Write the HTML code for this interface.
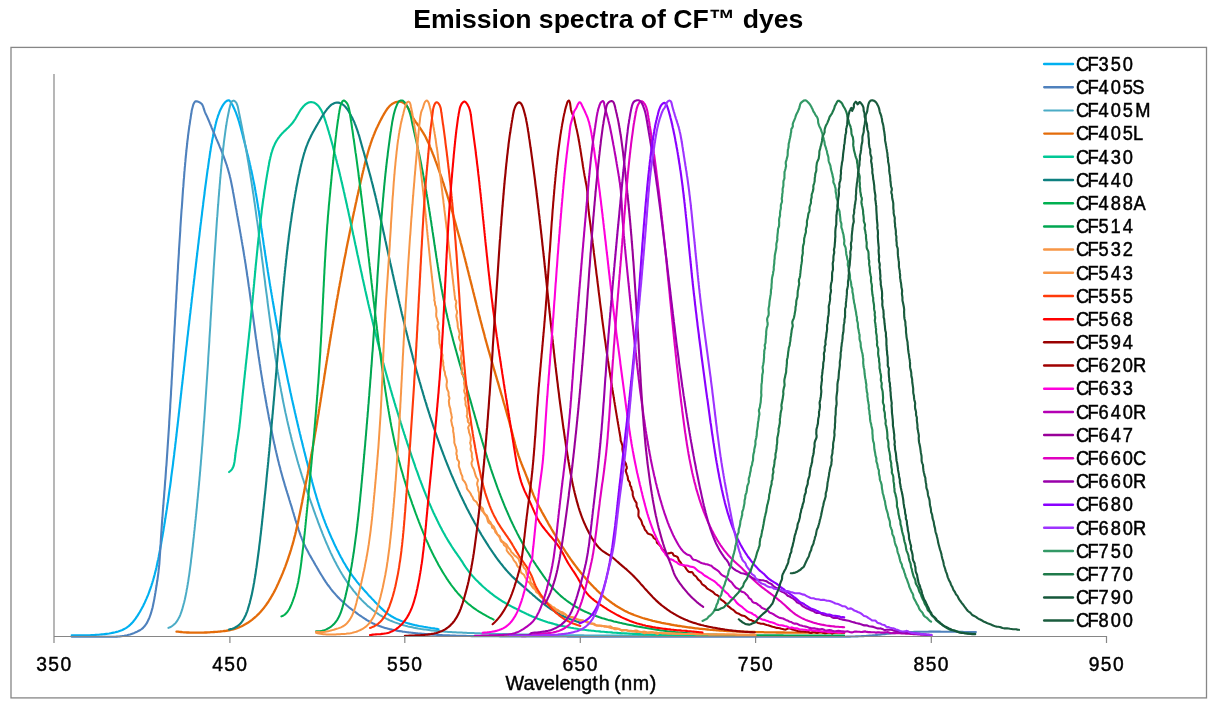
<!DOCTYPE html>
<html lang="en">
<head>
<meta charset="utf-8">
<title>Emission spectra of CF dyes</title>
<style>
html,body{margin:0;padding:0;background:#fff;}
body{width:1214px;height:703px;overflow:hidden;font-family:"Liberation Sans",sans-serif;}
svg{display:block;}
.ttl{font:bold 26.6px "Liberation Sans",sans-serif;fill:#000;}
.lg text{font:20.3px "Liberation Sans",sans-serif;fill:#000;stroke:#000;stroke-width:.5px;}
.tk text{font:20.3px "Liberation Sans",sans-serif;fill:#000;stroke:#000;stroke-width:.45px;}
.xl{font:20px "Liberation Sans",sans-serif;fill:#000;}
.ax{stroke:#868686;stroke-width:1.2;fill:none;}
.cv path{fill:none;stroke-linejoin:round;stroke-linecap:round;}
</style>
</head>
<body>
<svg width="1214" height="703" viewBox="0 0 1214 703">
<rect x="0" y="0" width="1214" height="703" fill="#fff"/>
<text class="ttl" x="608.3" y="28" text-anchor="middle">Emission spectra of CF™ dyes</text>
<rect x="11" y="47.4" width="1195.5" height="650.5" fill="#fff" stroke="#868686" stroke-width="1.3"/>
<g class="cv">
<path d="M71.7 635.4L73.3 635.4L74.8 635.4L76.3 635.4L77.8 635.4L79.3 635.3L80.8 635.3L82.3 635.3L83.8 635.3L85.3 635.3L86.8 635.2L88.3 635.2L89.8 635.2L91.3 635.1L92.8 635.0L94.3 635.0L95.7 634.9L97.2 634.8L98.7 634.7L100.2 634.5L101.7 634.4L103.2 634.3L104.7 634.1L106.2 633.9L107.7 633.7L109.2 633.5L110.7 633.2L112.2 632.9L113.7 632.6L115.2 632.3L116.7 631.9L118.2 631.5L119.6 631.0L121.0 630.5L122.4 630.0L123.7 629.3L125.0 628.6L126.3 627.9L127.5 627.0L128.7 626.1L129.8 625.2L130.8 624.1L131.9 623.1L132.9 622.0L133.8 620.8L134.8 619.6L135.7 618.4L136.5 617.1L137.4 615.9L138.2 614.6L139.0 613.3L139.8 612.0L140.5 610.7L141.3 609.3L142.0 608.0L142.7 606.7L143.4 605.4L144.0 604.0L144.7 602.7L145.3 601.3L145.9 599.9L146.5 598.6L147.1 597.2L147.7 595.8L148.3 594.4L148.8 593.0L149.3 591.6L149.8 590.2L150.3 588.8L150.8 587.4L151.3 586.0L151.7 584.6L152.2 583.1L152.6 581.7L153.1 580.3L153.5 578.8L153.9 577.4L154.3 575.9L154.7 574.5L155.0 573.0L155.4 571.6L155.8 570.1L156.1 568.7L156.5 567.2L156.8 565.7L157.1 564.3L157.4 562.8L157.7 561.3L158.1 559.8L158.4 558.4L158.7 556.9L158.9 555.4L159.2 553.9L159.5 552.4L159.8 551.0L160.1 549.5L160.3 548.0L160.6 546.5L160.9 545.0L161.2 543.5L161.4 542.1L161.7 540.6L161.9 539.1L162.2 537.6L162.5 536.1L162.7 534.6L163.0 533.2L163.2 531.7L163.5 530.2L163.7 528.7L163.9 527.2L164.2 525.7L164.4 524.2L164.7 522.8L164.9 521.3L165.1 519.8L165.4 518.3L165.6 516.8L165.8 515.3L166.1 513.8L166.3 512.4L166.5 510.9L166.8 509.4L167.0 507.9L167.2 506.4L167.4 504.9L167.6 503.4L167.9 502.0L168.1 500.5L168.3 499.0L168.5 497.5L168.7 496.0L168.9 494.5L169.1 493.0L169.3 491.6L169.5 490.1L169.7 488.6L170.0 487.1L170.2 485.6L170.4 484.1L170.6 482.6L170.8 481.1L171.0 479.7L171.1 478.2L171.3 476.7L171.5 475.2L171.7 473.7L171.9 472.2L172.1 470.7L172.3 469.2L172.5 467.8L172.7 466.3L172.9 464.8L173.1 463.3L173.2 461.8L173.4 460.3L173.6 458.8L173.8 457.3L174.0 455.8L174.2 454.4L174.3 452.9L174.5 451.4L174.7 449.9L174.9 448.4L175.1 446.9L175.2 445.4L175.4 443.9L175.6 442.4L175.8 440.9L175.9 439.5L176.1 438.0L176.3 436.5L176.5 435.0L176.6 433.5L176.8 432.0L177.0 430.5L177.1 429.0L177.3 427.5L177.5 426.0L177.7 424.5L177.8 423.1L178.0 421.6L178.2 420.1L178.3 418.6L178.5 417.1L178.7 415.6L178.8 414.1L179.0 412.6L179.2 411.1L179.3 409.6L179.5 408.1L179.7 406.6L179.8 405.1L180.0 403.6L180.2 402.2L180.3 400.7L180.5 399.2L180.7 397.7L180.8 396.2L181.0 394.7L181.2 393.2L181.3 391.7L181.5 390.2L181.7 388.7L181.8 387.2L182.0 385.7L182.2 384.2L182.4 382.7L182.5 381.2L182.7 379.7L182.9 378.2L183.0 376.7L183.2 375.2L183.4 373.7L183.5 372.3L183.7 370.8L183.9 369.3L184.0 367.8L184.2 366.3L184.4 364.8L184.5 363.3L184.7 361.8L184.9 360.3L185.1 358.8L185.2 357.3L185.4 355.8L185.6 354.3L185.7 352.8L185.9 351.3L186.1 349.8L186.2 348.3L186.4 346.8L186.6 345.3L186.8 343.8L186.9 342.3L187.1 340.8L187.3 339.3L187.4 337.8L187.6 336.3L187.8 334.8L188.0 333.3L188.1 331.8L188.3 330.3L188.5 328.8L188.6 327.3L188.8 325.8L189.0 324.3L189.2 322.8L189.3 321.3L189.5 319.8L189.7 318.3L189.8 316.9L190.0 315.4L190.2 313.9L190.4 312.4L190.5 310.9L190.7 309.4L190.9 307.9L191.1 306.4L191.2 304.9L191.4 303.4L191.6 301.9L191.7 300.4L191.9 298.9L192.1 297.4L192.3 295.9L192.4 294.4L192.6 292.9L192.8 291.4L193.0 289.9L193.1 288.4L193.3 286.9L193.5 285.4L193.7 283.9L193.8 282.4L194.0 280.9L194.2 279.4L194.4 277.9L194.5 276.4L194.7 275.0L194.9 273.5L195.1 272.0L195.2 270.5L195.4 269.0L195.6 267.5L195.8 266.0L195.9 264.5L196.1 263.0L196.3 261.5L196.5 260.0L196.6 258.5L196.8 257.0L197.0 255.5L197.2 254.0L197.3 252.5L197.5 251.1L197.7 249.6L197.9 248.1L198.0 246.6L198.2 245.1L198.4 243.6L198.6 242.1L198.7 240.6L198.9 239.1L199.1 237.6L199.3 236.1L199.5 234.6L199.6 233.2L199.8 231.7L200.0 230.2L200.2 228.7L200.3 227.2L200.5 225.7L200.7 224.2L200.9 222.7L201.1 221.2L201.2 219.8L201.4 218.3L201.6 216.8L201.8 215.3L202.0 213.8L202.1 212.3L202.3 210.8L202.5 209.3L202.7 207.9L202.9 206.4L203.1 204.9L203.2 203.4L203.4 201.9L203.6 200.4L203.8 198.9L204.0 197.4L204.2 196.0L204.4 194.5L204.6 193.0L204.7 191.5L204.9 190.0L205.1 188.5L205.3 187.0L205.5 185.5L205.7 184.1L205.9 182.6L206.1 181.1L206.3 179.6L206.5 178.1L206.7 176.6L206.9 175.1L207.1 173.6L207.3 172.1L207.5 170.6L207.7 169.2L208.0 167.7L208.2 166.2L208.4 164.7L208.6 163.2L208.8 161.7L209.0 160.2L209.2 158.7L209.5 157.2L209.7 155.7L209.9 154.2L210.1 152.8L210.4 151.3L210.6 149.8L210.8 148.3L211.1 146.8L211.3 145.3L211.6 143.8L211.9 142.4L212.1 140.9L212.4 139.4L212.7 137.9L213.0 136.5L213.2 135.0L213.5 133.5L213.9 132.1L214.2 130.6L214.5 129.1L214.8 127.7L215.2 126.2L215.5 124.8L215.9 123.3L216.2 121.9L216.6 120.5L217.0 119.0L217.5 117.6L217.9 116.2L218.4 114.8L219.0 113.3L219.5 111.9L220.1 110.5L220.8 109.1L221.5 107.7L222.2 106.3L223.1 104.9L224.0 103.6L225.1 102.3L226.3 101.2L227.5 100.5L228.7 100.3L229.7 100.8L230.5 101.8L231.3 103.0L232.0 104.2L232.7 105.4L233.3 106.7L233.9 108.0L234.5 109.3L235.1 110.7L235.7 112.0L236.2 113.4L236.7 114.8L237.2 116.2L237.7 117.6L238.2 119.1L238.6 120.5L239.1 121.9L239.5 123.4L239.9 124.9L240.3 126.3L240.7 127.8L241.1 129.3L241.5 130.7L241.9 132.2L242.3 133.7L242.7 135.2L243.0 136.6L243.4 138.1L243.8 139.6L244.2 141.0L244.5 142.5L244.9 144.0L245.3 145.4L245.7 146.9L246.0 148.3L246.4 149.8L246.8 151.3L247.1 152.7L247.5 154.2L247.9 155.6L248.2 157.1L248.6 158.5L248.9 160.0L249.3 161.4L249.6 162.9L249.9 164.3L250.3 165.8L250.6 167.2L250.9 168.7L251.3 170.2L251.6 171.6L251.9 173.1L252.2 174.5L252.5 176.0L252.8 177.5L253.1 178.9L253.4 180.4L253.7 181.9L254.0 183.3L254.3 184.8L254.6 186.3L254.8 187.8L255.1 189.2L255.4 190.7L255.6 192.2L255.9 193.7L256.2 195.2L256.4 196.6L256.7 198.1L256.9 199.6L257.2 201.1L257.4 202.6L257.7 204.1L257.9 205.6L258.1 207.0L258.4 208.5L258.6 210.0L258.9 211.5L259.1 213.0L259.3 214.5L259.5 216.0L259.8 217.5L260.0 219.0L260.2 220.5L260.4 222.0L260.7 223.4L260.9 224.9L261.1 226.4L261.3 227.9L261.6 229.4L261.8 230.9L262.0 232.4L262.2 233.9L262.4 235.4L262.6 236.9L262.9 238.4L263.1 239.9L263.3 241.4L263.5 242.9L263.7 244.4L264.0 245.9L264.2 247.3L264.4 248.8L264.6 250.3L264.9 251.8L265.1 253.3L265.3 254.8L265.5 256.3L265.8 257.8L266.0 259.3L266.2 260.8L266.4 262.3L266.7 263.7L266.9 265.2L267.1 266.7L267.4 268.2L267.6 269.7L267.8 271.2L268.1 272.7L268.3 274.2L268.5 275.6L268.8 277.1L269.0 278.6L269.3 280.1L269.5 281.6L269.7 283.1L270.0 284.6L270.2 286.0L270.5 287.5L270.7 289.0L271.0 290.5L271.2 292.0L271.5 293.4L271.7 294.9L272.0 296.4L272.2 297.9L272.5 299.4L272.7 300.9L273.0 302.3L273.2 303.8L273.5 305.3L273.7 306.8L274.0 308.3L274.3 309.7L274.5 311.2L274.8 312.7L275.0 314.2L275.3 315.6L275.6 317.1L275.8 318.6L276.1 320.1L276.4 321.6L276.6 323.0L276.9 324.5L277.2 326.0L277.5 327.5L277.7 328.9L278.0 330.4L278.3 331.9L278.5 333.4L278.8 334.8L279.1 336.3L279.4 337.8L279.7 339.3L279.9 340.7L280.2 342.2L280.5 343.7L280.8 345.1L281.1 346.6L281.4 348.1L281.6 349.6L281.9 351.0L282.2 352.5L282.5 354.0L282.8 355.4L283.1 356.9L283.4 358.4L283.7 359.9L284.0 361.3L284.3 362.8L284.6 364.3L284.9 365.7L285.2 367.2L285.5 368.7L285.8 370.1L286.1 371.6L286.4 373.1L286.7 374.6L287.0 376.0L287.3 377.5L287.6 379.0L287.9 380.4L288.2 381.9L288.5 383.4L288.9 384.8L289.2 386.3L289.5 387.8L289.8 389.2L290.1 390.7L290.4 392.2L290.8 393.6L291.1 395.1L291.4 396.6L291.7 398.0L292.0 399.5L292.4 401.0L292.7 402.4L293.0 403.9L293.4 405.4L293.7 406.8L294.0 408.3L294.4 409.8L294.7 411.2L295.0 412.7L295.4 414.1L295.7 415.6L296.0 417.1L296.4 418.5L296.7 420.0L297.1 421.5L297.4 422.9L297.7 424.4L298.1 425.9L298.4 427.3L298.8 428.8L299.1 430.2L299.5 431.7L299.8 433.2L300.2 434.6L300.5 436.1L300.9 437.6L301.2 439.0L301.6 440.5L302.0 441.9L302.3 443.4L302.7 444.9L303.0 446.3L303.4 447.8L303.8 449.2L304.1 450.7L304.5 452.2L304.9 453.6L305.2 455.1L305.6 456.5L306.0 458.0L306.3 459.5L306.7 460.9L307.1 462.4L307.5 463.8L307.8 465.3L308.2 466.7L308.6 468.2L309.0 469.7L309.4 471.1L309.7 472.6L310.1 474.0L310.5 475.5L310.9 476.9L311.3 478.4L311.7 479.8L312.0 481.3L312.4 482.8L312.8 484.2L313.2 485.7L313.6 487.1L314.0 488.6L314.4 490.0L314.8 491.5L315.2 492.9L315.7 494.3L316.1 495.8L316.5 497.2L316.9 498.7L317.4 500.1L317.8 501.5L318.3 503.0L318.7 504.4L319.2 505.8L319.6 507.3L320.1 508.7L320.6 510.1L321.1 511.5L321.6 513.0L322.1 514.4L322.6 515.8L323.1 517.2L323.6 518.6L324.2 520.0L324.7 521.4L325.2 522.8L325.8 524.2L326.3 525.6L326.9 527.0L327.5 528.4L328.1 529.7L328.6 531.1L329.2 532.5L329.8 533.9L330.4 535.3L331.0 536.6L331.6 538.0L332.3 539.4L332.9 540.8L333.5 542.1L334.1 543.5L334.8 544.9L335.4 546.2L336.1 547.6L336.7 548.9L337.4 550.3L338.1 551.6L338.8 553.0L339.4 554.3L340.1 555.6L340.8 557.0L341.6 558.3L342.3 559.6L343.0 560.9L343.7 562.2L344.5 563.5L345.3 564.8L346.0 566.1L346.8 567.4L347.6 568.7L348.4 569.9L349.3 571.2L350.1 572.4L350.9 573.7L351.8 574.9L352.7 576.1L353.6 577.3L354.5 578.5L355.4 579.7L356.3 580.9L357.2 582.1L358.2 583.2L359.1 584.4L360.1 585.6L361.1 586.7L362.1 587.8L363.1 589.0L364.1 590.1L365.1 591.2L366.1 592.3L367.1 593.4L368.1 594.6L369.1 595.7L370.2 596.8L371.2 597.9L372.2 599.0L373.3 600.0L374.3 601.1L375.3 602.2L376.4 603.3L377.4 604.4L378.5 605.5L379.5 606.5L380.6 607.6L381.7 608.6L382.8 609.6L383.9 610.6L385.0 611.6L386.1 612.5L387.3 613.4L388.5 614.3L389.8 615.2L391.0 616.0L392.3 616.7L393.6 617.5L395.0 618.2L396.3 618.9L397.7 619.5L399.1 620.1L400.5 620.7L401.9 621.3L403.3 621.8L404.7 622.3L406.2 622.8L407.6 623.2L409.1 623.6L410.5 624.0L412.0 624.4L413.4 624.7L414.9 625.1L416.3 625.4L417.8 625.7L419.3 626.0L420.7 626.2L422.2 626.5L423.7 626.8L425.2 627.0L426.6 627.2L428.1 627.5L429.6 627.7L431.1 628.0L432.6 628.2L434.1 628.4L435.6 628.7L437.0 628.9L438.5 629.2" stroke="#00B0F0" stroke-width="2.15"/>
<path d="M71.7 636.7L73.3 636.7L74.8 636.7L76.3 636.7L77.8 636.7L79.3 636.7L80.8 636.7L82.3 636.7L83.8 636.7L85.3 636.7L86.8 636.7L88.3 636.7L89.8 636.7L91.3 636.7L92.7 636.7L94.2 636.7L95.7 636.7L97.2 636.7L98.7 636.7L100.3 636.7L101.8 636.7L103.3 636.7L104.8 636.7L106.3 636.8L107.8 636.8L109.3 636.8L110.8 636.8L112.3 636.8L113.8 636.7L115.3 636.7L116.8 636.6L118.3 636.5L119.8 636.4L121.3 636.2L122.8 636.0L124.2 635.8L125.7 635.5L127.1 635.2L128.6 634.8L130.0 634.4L131.5 633.9L132.9 633.4L134.3 632.9L135.7 632.3L137.1 631.7L138.4 631.0L139.8 630.3L141.0 629.5L142.2 628.6L143.3 627.6L144.3 626.6L145.2 625.4L146.1 624.2L146.9 622.9L147.6 621.6L148.2 620.2L148.9 618.8L149.5 617.4L150.0 616.0L150.5 614.6L151.0 613.2L151.4 611.8L151.8 610.3L152.2 608.9L152.6 607.4L152.9 606.0L153.2 604.5L153.5 603.0L153.8 601.6L154.1 600.1L154.4 598.6L154.6 597.1L154.9 595.7L155.1 594.2L155.4 592.7L155.6 591.2L155.9 589.7L156.1 588.2L156.3 586.8L156.6 585.3L156.8 583.8L157.0 582.3L157.3 580.8L157.5 579.3L157.7 577.9L157.9 576.4L158.1 574.9L158.3 573.4L158.5 571.9L158.6 570.4L158.8 568.9L159.0 567.4L159.1 565.9L159.3 564.4L159.4 562.9L159.5 561.4L159.6 560.0L159.7 558.5L159.8 557.0L159.9 555.5L160.0 554.0L160.1 552.5L160.2 551.0L160.3 549.5L160.4 548.0L160.5 546.5L160.6 545.0L160.7 543.5L160.7 542.0L160.8 540.5L160.9 539.0L161.0 537.5L161.1 536.0L161.2 534.5L161.3 533.0L161.4 531.5L161.5 530.0L161.6 528.5L161.7 527.0L161.8 525.5L161.9 524.0L162.0 522.5L162.1 521.0L162.2 519.5L162.4 518.0L162.5 516.5L162.6 515.0L162.7 513.5L162.8 512.0L162.9 510.5L163.0 509.0L163.1 507.5L163.3 506.0L163.4 504.5L163.5 503.0L163.6 501.5L163.7 500.0L163.9 498.5L164.0 497.0L164.1 495.5L164.2 494.1L164.3 492.6L164.4 491.1L164.6 489.6L164.7 488.1L164.8 486.6L164.9 485.1L165.0 483.6L165.1 482.1L165.2 480.6L165.4 479.1L165.5 477.6L165.6 476.1L165.7 474.6L165.8 473.1L165.9 471.6L166.0 470.1L166.1 468.6L166.2 467.1L166.4 465.6L166.5 464.1L166.6 462.6L166.7 461.1L166.8 459.6L166.9 458.1L167.0 456.6L167.1 455.1L167.2 453.6L167.3 452.1L167.4 450.6L167.5 449.1L167.6 447.6L167.7 446.1L167.8 444.6L167.9 443.1L168.0 441.6L168.1 440.2L168.2 438.7L168.3 437.2L168.4 435.7L168.5 434.2L168.6 432.7L168.7 431.2L168.8 429.7L168.9 428.2L169.0 426.7L169.1 425.2L169.2 423.7L169.2 422.2L169.3 420.7L169.4 419.2L169.5 417.7L169.6 416.2L169.7 414.7L169.8 413.2L169.9 411.7L170.0 410.2L170.1 408.7L170.2 407.2L170.2 405.7L170.3 404.2L170.4 402.7L170.5 401.2L170.6 399.7L170.7 398.2L170.8 396.7L170.9 395.2L171.0 393.7L171.0 392.2L171.1 390.7L171.2 389.2L171.3 387.7L171.4 386.2L171.5 384.7L171.6 383.2L171.6 381.7L171.7 380.2L171.8 378.7L171.9 377.2L172.0 375.7L172.1 374.2L172.1 372.7L172.2 371.2L172.3 369.7L172.4 368.2L172.5 366.7L172.6 365.2L172.6 363.7L172.7 362.2L172.8 360.7L172.9 359.2L173.0 357.7L173.1 356.2L173.1 354.7L173.2 353.2L173.3 351.7L173.4 350.2L173.5 348.7L173.6 347.2L173.6 345.7L173.7 344.2L173.8 342.7L173.9 341.2L174.0 339.7L174.0 338.2L174.1 336.7L174.2 335.2L174.3 333.7L174.4 332.2L174.5 330.7L174.5 329.2L174.6 327.7L174.7 326.2L174.8 324.7L174.9 323.2L174.9 321.7L175.0 320.2L175.1 318.7L175.2 317.2L175.3 315.7L175.4 314.2L175.4 312.7L175.5 311.2L175.6 309.7L175.7 308.2L175.8 306.7L175.8 305.2L175.9 303.7L176.0 302.2L176.1 300.8L176.2 299.3L176.3 297.8L176.3 296.3L176.4 294.8L176.5 293.3L176.6 291.8L176.7 290.3L176.8 288.8L176.8 287.3L176.9 285.8L177.0 284.3L177.1 282.8L177.2 281.3L177.3 279.8L177.4 278.3L177.4 276.8L177.5 275.3L177.6 273.8L177.7 272.3L177.8 270.8L177.9 269.3L178.0 267.8L178.0 266.3L178.1 264.8L178.2 263.3L178.3 261.8L178.4 260.3L178.5 258.8L178.6 257.3L178.7 255.8L178.8 254.3L178.9 252.8L178.9 251.3L179.0 249.8L179.1 248.3L179.2 246.8L179.3 245.3L179.4 243.8L179.5 242.3L179.6 240.8L179.7 239.3L179.8 237.8L179.9 236.3L180.0 234.8L180.1 233.3L180.2 231.8L180.3 230.3L180.3 228.8L180.4 227.3L180.5 225.8L180.6 224.3L180.7 222.8L180.8 221.3L180.9 219.8L181.0 218.3L181.1 216.8L181.2 215.3L181.3 213.8L181.4 212.3L181.5 210.8L181.6 209.3L181.8 207.8L181.9 206.3L182.0 204.9L182.1 203.4L182.2 201.9L182.3 200.4L182.4 198.9L182.5 197.4L182.6 195.9L182.7 194.4L182.8 192.9L182.9 191.4L183.0 189.9L183.1 188.4L183.3 186.9L183.4 185.4L183.5 183.9L183.6 182.4L183.7 180.9L183.8 179.4L184.0 177.9L184.1 176.4L184.2 174.9L184.3 173.4L184.4 171.9L184.6 170.4L184.7 168.9L184.8 167.4L185.0 165.9L185.1 164.4L185.2 162.9L185.4 161.4L185.5 159.9L185.6 158.5L185.8 157.0L185.9 155.5L186.1 154.0L186.2 152.5L186.4 151.0L186.5 149.5L186.7 148.0L186.9 146.5L187.0 145.0L187.2 143.5L187.3 142.0L187.5 140.5L187.7 139.0L187.9 137.6L188.0 136.1L188.2 134.6L188.4 133.1L188.6 131.6L188.8 130.1L189.0 128.6L189.2 127.1L189.4 125.6L189.7 124.2L189.9 122.7L190.1 121.2L190.3 119.7L190.6 118.2L190.8 116.7L191.0 115.3L191.3 113.8L191.5 112.3L191.7 110.8L192.0 109.4L192.4 107.9L192.8 106.4L193.2 104.9L193.8 103.5L194.5 102.2L195.4 101.4L196.8 101.3L198.2 101.7L199.7 102.4L201.0 103.3L202.0 104.3L202.7 105.6L203.3 106.9L203.7 108.4L204.2 109.8L204.7 111.3L205.2 112.6L205.8 114.0L206.5 115.4L207.1 116.7L207.7 118.1L208.3 119.5L208.9 120.9L209.5 122.3L210.0 123.6L210.6 125.0L211.2 126.4L211.7 127.8L212.3 129.2L212.9 130.6L213.5 132.0L214.1 133.3L214.7 134.7L215.3 136.1L215.8 137.5L216.4 138.9L217.0 140.2L217.6 141.6L218.2 143.0L218.8 144.4L219.4 145.8L219.9 147.1L220.5 148.5L221.1 149.9L221.6 151.3L222.2 152.7L222.7 154.1L223.3 155.5L223.8 156.9L224.3 158.3L224.8 159.7L225.3 161.2L225.8 162.6L226.3 164.0L226.8 165.4L227.2 166.8L227.7 168.3L228.1 169.7L228.5 171.2L228.9 172.6L229.3 174.0L229.7 175.5L230.0 177.0L230.4 178.4L230.7 179.9L231.0 181.3L231.3 182.8L231.6 184.3L231.9 185.8L232.2 187.2L232.5 188.7L232.8 190.2L233.0 191.7L233.3 193.2L233.6 194.6L233.8 196.1L234.1 197.6L234.4 199.1L234.6 200.6L234.9 202.0L235.1 203.5L235.4 205.0L235.7 206.5L235.9 208.0L236.2 209.4L236.5 210.9L236.7 212.4L237.0 213.9L237.2 215.4L237.5 216.8L237.8 218.3L238.0 219.8L238.3 221.3L238.6 222.7L238.8 224.2L239.1 225.7L239.4 227.2L239.6 228.6L239.9 230.1L240.1 231.6L240.4 233.1L240.7 234.6L240.9 236.0L241.2 237.5L241.4 239.0L241.7 240.5L241.9 241.9L242.2 243.4L242.4 244.9L242.7 246.4L242.9 247.8L243.2 249.3L243.4 250.8L243.7 252.3L243.9 253.8L244.1 255.2L244.4 256.7L244.6 258.2L244.9 259.7L245.1 261.2L245.3 262.6L245.6 264.1L245.8 265.6L246.0 267.1L246.2 268.6L246.5 270.1L246.7 271.5L246.9 273.0L247.1 274.5L247.3 276.0L247.6 277.5L247.8 279.0L248.0 280.4L248.2 281.9L248.4 283.4L248.6 284.9L248.8 286.4L249.1 287.9L249.3 289.4L249.5 290.8L249.7 292.3L249.9 293.8L250.1 295.3L250.3 296.8L250.5 298.3L250.7 299.8L250.9 301.3L251.1 302.7L251.3 304.2L251.5 305.7L251.8 307.2L252.0 308.7L252.2 310.2L252.4 311.7L252.6 313.2L252.8 314.6L253.0 316.1L253.2 317.6L253.4 319.1L253.6 320.6L253.8 322.1L254.0 323.6L254.2 325.1L254.4 326.5L254.6 328.0L254.8 329.5L255.0 331.0L255.2 332.5L255.4 334.0L255.6 335.5L255.8 337.0L256.0 338.5L256.3 339.9L256.5 341.4L256.7 342.9L256.9 344.4L257.1 345.9L257.3 347.4L257.5 348.9L257.7 350.3L258.0 351.8L258.2 353.3L258.4 354.8L258.6 356.3L258.8 357.8L259.1 359.3L259.3 360.8L259.5 362.2L259.7 363.7L260.0 365.2L260.2 366.7L260.4 368.2L260.6 369.7L260.9 371.1L261.1 372.6L261.3 374.1L261.6 375.6L261.8 377.1L262.1 378.6L262.3 380.0L262.5 381.5L262.8 383.0L263.0 384.5L263.3 386.0L263.5 387.5L263.8 388.9L264.0 390.4L264.3 391.9L264.5 393.4L264.8 394.9L265.1 396.3L265.3 397.8L265.6 399.3L265.8 400.8L266.1 402.2L266.4 403.7L266.6 405.2L266.9 406.7L267.2 408.2L267.5 409.6L267.7 411.1L268.0 412.6L268.3 414.1L268.6 415.5L268.8 417.0L269.1 418.5L269.4 420.0L269.7 421.4L270.0 422.9L270.3 424.4L270.6 425.9L270.9 427.3L271.2 428.8L271.5 430.3L271.8 431.7L272.1 433.2L272.4 434.7L272.7 436.1L273.0 437.6L273.3 439.1L273.6 440.6L273.9 442.0L274.2 443.5L274.6 444.9L274.9 446.4L275.2 447.9L275.5 449.3L275.9 450.8L276.2 452.3L276.6 453.7L276.9 455.2L277.2 456.6L277.6 458.1L277.9 459.6L278.3 461.0L278.7 462.5L279.0 463.9L279.4 465.4L279.8 466.8L280.2 468.3L280.5 469.7L280.9 471.2L281.3 472.6L281.7 474.1L282.1 475.5L282.5 477.0L282.9 478.4L283.3 479.9L283.8 481.3L284.2 482.7L284.6 484.2L285.0 485.6L285.5 487.1L285.9 488.5L286.3 489.9L286.8 491.4L287.2 492.8L287.7 494.2L288.1 495.7L288.6 497.1L289.0 498.5L289.4 500.0L289.9 501.4L290.3 502.8L290.8 504.3L291.2 505.7L291.7 507.2L292.1 508.6L292.5 510.0L292.9 511.5L293.4 512.9L293.8 514.3L294.2 515.8L294.7 517.2L295.1 518.7L295.5 520.1L296.0 521.5L296.4 523.0L296.9 524.4L297.3 525.8L297.8 527.2L298.3 528.7L298.7 530.1L299.2 531.5L299.7 532.9L300.2 534.4L300.7 535.8L301.3 537.2L301.8 538.6L302.4 540.0L302.9 541.4L303.5 542.7L304.1 544.1L304.8 545.5L305.4 546.8L306.1 548.2L306.8 549.5L307.5 550.8L308.2 552.1L308.9 553.5L309.6 554.8L310.4 556.1L311.1 557.4L311.9 558.7L312.6 560.0L313.4 561.3L314.1 562.6L314.9 563.9L315.6 565.2L316.4 566.5L317.1 567.8L317.9 569.1L318.6 570.4L319.4 571.7L320.1 572.9L320.9 574.2L321.7 575.5L322.5 576.8L323.3 578.1L324.1 579.4L324.9 580.6L325.7 581.9L326.6 583.1L327.4 584.3L328.3 585.5L329.2 586.7L330.1 587.9L331.0 589.1L332.0 590.3L332.9 591.5L333.9 592.6L334.9 593.7L335.9 594.9L336.9 596.0L337.9 597.1L339.0 598.1L340.0 599.2L341.1 600.2L342.2 601.3L343.3 602.3L344.4 603.3L345.5 604.3L346.6 605.3L347.8 606.3L348.9 607.2L350.1 608.2L351.3 609.1L352.5 610.0L353.7 610.9L354.9 611.8L356.1 612.7L357.3 613.6L358.5 614.5L359.7 615.3L361.0 616.2L362.2 617.0L363.5 617.9L364.7 618.7L366.0 619.5L367.3 620.3L368.6 621.0L369.9 621.8L371.2 622.5L372.5 623.2L373.9 623.8L375.2 624.4L376.6 625.0L378.0 625.6L379.4 626.1L380.8 626.6L382.3 627.1L383.7 627.5L385.1 627.9L386.6 628.3L388.0 628.7L389.5 629.1L390.9 629.4L392.4 629.7L393.9 630.0L395.3 630.3L396.8 630.6L398.3 630.9L399.8 631.1L401.3 631.3L402.7 631.6L404.2 631.8L405.7 632.0L407.2 632.2L408.7 632.4L410.2 632.5L411.7 632.7L413.2 632.9L414.7 633.0L416.2 633.2L417.7 633.4L419.2 633.5L420.7 633.6L422.2 633.8L423.7 633.9L425.1 634.0L426.6 634.1L428.1 634.3L429.6 634.4L431.1 634.5L432.6 634.6L434.1 634.7L435.6 634.8L437.1 634.9L438.6 634.9L440.1 635.0L441.6 635.1L443.1 635.2L444.6 635.2L446.1 635.3L447.6 635.4L449.1 635.4L450.6 635.5L452.1 635.5L453.6 635.6L455.1 635.6L456.6 635.7L458.1 635.7L459.6 635.8L461.1 635.8L462.6 635.9L464.1 635.9L465.6 635.9L467.1 636.0L468.6 636.0L470.1 636.0L471.6 636.1L473.1 636.1L474.6 636.1L476.1 636.1L477.6 636.2L479.1 636.2L480.6 636.2L482.1 636.2L483.6 636.2L485.1 636.2L486.6 636.3L488.1 636.3L489.6 636.3L491.1 636.3L492.6 636.3L494.1 636.3L495.6 636.3L497.1 636.3L498.6 636.3L500.1 636.4L501.6 636.4L503.2 636.4L504.7 636.4L506.2 636.4L507.7 636.4L509.2 636.4L510.7 636.4L512.2 636.4L513.7 636.4L515.2 636.4L516.7 636.4L518.2 636.4L519.7 636.4L521.2 636.4L522.7 636.4L524.2 636.4L525.7 636.4L527.2 636.4L528.7 636.4L530.2 636.4L531.7 636.4L533.2 636.5L534.7 636.5L536.2 636.5L537.7 636.5L539.2 636.5L540.7 636.5L542.2 636.5L543.7 636.5L545.2 636.5L546.7 636.5L548.2 636.5L549.7 636.5L551.2 636.5L552.7 636.5L554.2 636.5L555.7 636.5L557.2 636.5L558.7 636.5L560.2 636.5L561.7 636.5L563.2 636.5L564.7 636.5L566.2 636.5L567.7 636.6L569.2 636.6L570.7 636.6L572.2 636.6L573.7 636.6L575.2 636.6L576.7 636.6L578.2 636.6L579.7 636.6L581.2 636.6L582.7 636.6L584.2 636.6L585.7 636.6L587.2 636.6L588.7 636.6L590.2 636.6L591.7 636.6L593.2 636.6L594.7 636.6L596.2 636.6L597.7 636.6L599.2 636.6L600.7 636.6L602.2 636.6L603.7 636.7L605.2 636.7L606.7 636.7L608.2 636.7L609.7 636.7L611.2 636.7L612.7 636.7L614.3 636.7L615.8 636.7L617.3 636.7L618.8 636.7L620.3 636.7L621.8 636.7L623.3 636.7L624.8 636.7L626.3 636.7L627.8 636.7L629.3 636.7L630.8 636.7L632.3 636.7L633.8 636.7L635.3 636.7L636.8 636.7L638.3 636.7L639.8 636.7L641.3 636.7L642.8 636.7L644.3 636.7L645.8 636.7L647.3 636.7L648.8 636.7L650.3 636.7L651.8 636.7L653.3 636.7L654.8 636.7L656.3 636.7L657.8 636.7L659.3 636.7L660.8 636.7L662.3 636.7L663.8 636.7L665.3 636.7L666.8 636.7L668.3 636.7L669.8 636.7L671.3 636.7L672.8 636.7L674.3 636.7L675.8 636.7L677.3 636.7L678.8 636.7L680.3 636.7L681.8 636.7L683.3 636.7L684.8 636.7L686.3 636.7L687.8 636.7L689.3 636.7L690.8 636.7L692.3 636.7L693.8 636.7L695.3 636.7L696.8 636.7L698.3 636.7L699.8 636.7L701.3 636.7L702.8 636.7L704.3 636.7L705.8 636.7L707.3 636.7L708.8 636.7L710.3 636.7L711.8 636.7L713.3 636.7L714.8 636.7L716.3 636.7L717.8 636.7L719.3 636.7L720.8 636.7L722.3 636.7L723.8 636.7L725.3 636.7L726.9 636.7L728.4 636.7L729.9 636.7L731.4 636.7L732.9 636.7L734.4 636.7L735.9 636.7L737.4 636.7L738.9 636.7L740.4 636.7L741.9 636.7L743.4 636.7L744.9 636.7L746.4 636.7L747.9 636.7L749.4 636.7L750.9 636.7L752.4 636.7L753.9 636.7L755.4 636.7L756.9 636.7L758.4 636.7L759.9 636.7L761.4 636.7L762.9 636.7L764.4 636.7L765.9 636.7L767.4 636.7L768.9 636.7L770.4 636.7L771.9 636.7L773.4 636.7L774.9 636.7L776.4 636.7L777.9 636.7L779.4 636.7L780.9 636.7L782.4 636.7L783.9 636.7L785.4 636.7L786.9 636.7L788.4 636.7L789.9 636.7L791.4 636.7L792.9 636.7L794.4 636.7L795.9 636.7L797.4 636.7L798.9 636.7L800.4 636.7L801.9 636.7L803.4 636.7L804.9 636.7L806.4 636.7L807.9 636.7L809.4 636.7L810.9 636.7L812.4 636.7L813.9 636.7L815.4 636.7L816.9 636.7L818.4 636.7L819.9 636.8L821.4 636.8L822.9 636.8L824.4 636.8L825.9 636.8L827.4 636.8L828.9 636.8L830.4 636.8L831.9 636.7L833.4 636.7L834.9 636.7L836.4 636.7L837.9 636.7L839.5 636.7L841.0 636.7L842.5 636.7L844.0 636.7L845.5 636.7L847.0 636.6L848.5 636.6L850.0 636.6L851.5 636.5L853.0 636.5L854.5 636.5L856.0 636.4L857.5 636.4L859.0 636.3L860.5 636.2L862.0 636.1L863.5 636.1L864.9 636.0L866.4 635.9L867.9 635.7L869.4 635.6L870.9 635.5L872.4 635.4L873.9 635.2L875.4 635.1L876.9 634.9L878.4 634.7L879.9 634.6L881.4 634.4L882.9 634.3L884.4 634.1L885.9 633.9L887.4 633.8L888.9 633.6L890.4 633.5L891.8 633.3L893.3 633.2L894.8 633.1L896.3 632.9L897.8 632.8L899.3 632.7L900.8 632.6L902.3 632.5L903.8 632.4L905.3 632.3L906.8 632.2L908.3 632.2L909.8 632.1L911.3 632.0L912.8 632.0L914.3 631.9L915.8 631.9L917.3 631.8L918.8 631.8L920.3 631.8L921.8 631.7L923.3 631.7L924.8 631.7L926.3 631.7L927.8 631.7L929.3 631.6L930.8 631.6L932.3 631.6L933.8 631.6L935.3 631.6L936.8 631.6L938.3 631.6L939.8 631.6L941.3 631.7L942.8 631.7L944.3 631.7L945.8 631.7L947.3 631.7L948.8 631.7L950.3 631.8L951.8 631.8L953.3 631.8L954.8 631.8L956.3 631.8L957.9 631.9L959.4 631.9L960.9 631.9L962.4 631.9L963.9 632.0L965.4 632.0L966.9 632.0L968.4 632.0L969.9 632.0L971.4 632.0L972.9 632.1L974.4 632.1L975.9 632.1" stroke="#4F81BD" stroke-width="2.1"/>
<path d="M168.4 627.9L169.9 627.3L171.2 626.6L172.5 625.7L173.7 624.8L174.8 623.8L175.7 622.8L176.6 621.6L177.5 620.4L178.2 619.1L178.9 617.8L179.6 616.5L180.2 615.1L180.7 613.7L181.2 612.3L181.7 610.9L182.2 609.4L182.6 608.0L183.0 606.5L183.4 605.1L183.8 603.6L184.2 602.2L184.5 600.7L184.9 599.3L185.2 597.8L185.5 596.3L185.8 594.9L186.1 593.4L186.4 591.9L186.6 590.4L186.9 588.9L187.2 587.5L187.4 586.0L187.7 584.5L187.9 583.0L188.2 581.5L188.4 580.1L188.6 578.6L188.8 577.1L189.1 575.6L189.3 574.1L189.5 572.6L189.7 571.1L189.9 569.7L190.1 568.2L190.3 566.7L190.5 565.2L190.7 563.7L190.9 562.2L191.0 560.7L191.2 559.2L191.4 557.7L191.6 556.3L191.7 554.8L191.9 553.3L192.1 551.8L192.3 550.3L192.4 548.8L192.6 547.3L192.8 545.8L192.9 544.3L193.1 542.8L193.3 541.3L193.4 539.8L193.6 538.3L193.8 536.9L193.9 535.4L194.1 533.9L194.2 532.4L194.4 530.9L194.6 529.4L194.7 527.9L194.9 526.4L195.0 524.9L195.2 523.4L195.3 521.9L195.5 520.4L195.7 518.9L195.8 517.4L196.0 515.9L196.1 514.4L196.3 513.0L196.4 511.5L196.6 510.0L196.7 508.5L196.9 507.0L197.0 505.5L197.1 504.0L197.3 502.5L197.4 501.0L197.6 499.5L197.7 498.0L197.9 496.5L198.0 495.0L198.1 493.5L198.3 492.0L198.4 490.5L198.6 489.0L198.7 487.5L198.8 486.1L199.0 484.6L199.1 483.1L199.2 481.6L199.4 480.1L199.5 478.6L199.6 477.1L199.8 475.6L199.9 474.1L200.0 472.6L200.2 471.1L200.3 469.6L200.4 468.1L200.5 466.6L200.7 465.1L200.8 463.6L200.9 462.1L201.0 460.6L201.2 459.1L201.3 457.6L201.4 456.1L201.5 454.6L201.7 453.1L201.8 451.6L201.9 450.1L202.0 448.6L202.1 447.1L202.3 445.6L202.4 444.1L202.5 442.7L202.6 441.2L202.7 439.7L202.8 438.2L202.9 436.7L203.1 435.2L203.2 433.7L203.3 432.2L203.4 430.7L203.5 429.2L203.6 427.7L203.7 426.2L203.8 424.7L203.9 423.2L204.1 421.7L204.2 420.2L204.3 418.7L204.4 417.2L204.5 415.7L204.6 414.2L204.7 412.7L204.8 411.2L204.9 409.7L205.0 408.2L205.1 406.7L205.2 405.2L205.3 403.7L205.4 402.2L205.5 400.7L205.6 399.2L205.7 397.7L205.8 396.2L205.9 394.7L206.0 393.2L206.1 391.7L206.2 390.2L206.3 388.7L206.4 387.2L206.5 385.7L206.6 384.2L206.7 382.7L206.8 381.2L206.9 379.7L207.0 378.2L207.1 376.7L207.2 375.2L207.3 373.7L207.4 372.2L207.5 370.7L207.6 369.2L207.7 367.7L207.8 366.2L207.9 364.7L208.0 363.2L208.1 361.7L208.2 360.2L208.2 358.7L208.3 357.2L208.4 355.7L208.5 354.2L208.6 352.7L208.7 351.2L208.8 349.7L208.9 348.2L209.0 346.7L209.1 345.2L209.2 343.7L209.3 342.2L209.4 340.7L209.4 339.2L209.5 337.7L209.6 336.2L209.7 334.7L209.8 333.2L209.9 331.7L210.0 330.2L210.1 328.7L210.2 327.2L210.3 325.7L210.4 324.2L210.4 322.7L210.5 321.2L210.6 319.7L210.7 318.2L210.8 316.7L210.9 315.2L211.0 313.7L211.1 312.2L211.2 310.7L211.3 309.3L211.3 307.8L211.4 306.3L211.5 304.8L211.6 303.3L211.7 301.8L211.8 300.3L211.9 298.8L212.0 297.3L212.1 295.8L212.2 294.3L212.3 292.8L212.3 291.3L212.4 289.8L212.5 288.3L212.6 286.8L212.7 285.3L212.8 283.8L212.9 282.3L213.0 280.8L213.1 279.3L213.2 277.8L213.3 276.3L213.4 274.8L213.5 273.3L213.5 271.8L213.6 270.3L213.7 268.8L213.8 267.3L213.9 265.8L214.0 264.3L214.1 262.8L214.2 261.3L214.3 259.8L214.4 258.3L214.5 256.8L214.6 255.3L214.7 253.8L214.8 252.3L214.9 250.8L215.0 249.4L215.1 247.9L215.2 246.4L215.3 244.9L215.4 243.4L215.5 241.9L215.6 240.4L215.7 238.9L215.8 237.4L215.9 235.9L216.0 234.4L216.1 232.9L216.2 231.4L216.3 229.9L216.4 228.4L216.5 226.9L216.6 225.4L216.7 223.9L216.8 222.4L216.9 220.9L217.0 219.4L217.1 217.9L217.3 216.4L217.4 214.9L217.5 213.4L217.6 211.9L217.7 210.4L217.8 208.9L217.9 207.5L218.0 206.0L218.2 204.5L218.3 203.0L218.4 201.5L218.5 200.0L218.6 198.5L218.7 197.0L218.9 195.5L219.0 194.0L219.1 192.5L219.2 191.0L219.4 189.5L219.5 188.0L219.6 186.5L219.7 185.0L219.9 183.5L220.0 182.0L220.1 180.5L220.2 179.0L220.4 177.5L220.5 176.0L220.6 174.5L220.8 173.0L220.9 171.5L221.1 170.0L221.2 168.5L221.3 167.0L221.5 165.5L221.6 164.0L221.8 162.5L221.9 161.0L222.1 159.5L222.2 158.0L222.4 156.5L222.5 155.0L222.7 153.5L222.8 152.0L223.0 150.5L223.2 149.0L223.3 147.5L223.5 146.0L223.7 144.6L223.8 143.1L224.0 141.6L224.2 140.1L224.4 138.6L224.6 137.1L224.8 135.6L225.0 134.2L225.2 132.7L225.4 131.2L225.6 129.7L225.8 128.3L226.0 126.8L226.3 125.3L226.5 123.9L226.7 122.4L227.0 120.9L227.2 119.4L227.5 118.0L227.8 116.5L228.1 115.0L228.4 113.5L228.7 112.0L229.0 110.5L229.3 108.9L229.7 107.4L230.1 105.8L230.5 104.3L231.0 102.8L231.6 101.7L232.6 100.9L233.7 100.6L234.8 101.2L235.7 102.0L236.5 103.1L237.0 104.3L237.5 105.7L237.9 107.1L238.2 108.6L238.5 110.1L238.8 111.6L239.1 113.1L239.4 114.5L239.7 116.0L240.0 117.5L240.3 119.0L240.6 120.5L240.9 122.0L241.2 123.5L241.5 125.0L241.8 126.4L242.1 127.9L242.4 129.4L242.6 130.9L242.9 132.4L243.2 133.9L243.5 135.3L243.8 136.8L244.0 138.3L244.3 139.8L244.6 141.3L244.9 142.7L245.1 144.2L245.4 145.7L245.7 147.2L245.9 148.7L246.2 150.1L246.4 151.6L246.7 153.1L247.0 154.6L247.2 156.0L247.5 157.5L247.7 159.0L248.0 160.5L248.2 161.9L248.5 163.4L248.7 164.9L249.0 166.4L249.2 167.8L249.4 169.3L249.7 170.8L249.9 172.3L250.2 173.7L250.4 175.2L250.6 176.7L250.9 178.2L251.1 179.7L251.3 181.1L251.6 182.6L251.8 184.1L252.0 185.6L252.2 187.0L252.5 188.5L252.7 190.0L252.9 191.5L253.1 193.0L253.4 194.4L253.6 195.9L253.8 197.4L254.0 198.9L254.2 200.4L254.4 201.8L254.7 203.3L254.9 204.8L255.1 206.3L255.3 207.8L255.5 209.3L255.7 210.7L255.9 212.2L256.1 213.7L256.3 215.2L256.5 216.7L256.7 218.2L256.9 219.7L257.2 221.2L257.4 222.6L257.6 224.1L257.8 225.6L258.0 227.1L258.2 228.6L258.4 230.1L258.6 231.6L258.7 233.1L258.9 234.5L259.1 236.0L259.3 237.5L259.5 239.0L259.7 240.5L259.9 242.0L260.1 243.5L260.3 245.0L260.5 246.5L260.7 248.0L260.9 249.5L261.1 250.9L261.3 252.4L261.5 253.9L261.6 255.4L261.8 256.9L262.0 258.4L262.2 259.9L262.4 261.4L262.6 262.9L262.8 264.4L263.0 265.9L263.2 267.4L263.4 268.9L263.5 270.3L263.7 271.8L263.9 273.3L264.1 274.8L264.3 276.3L264.5 277.8L264.7 279.3L264.9 280.8L265.1 282.3L265.2 283.8L265.4 285.3L265.6 286.8L265.8 288.3L266.0 289.8L266.2 291.3L266.4 292.8L266.6 294.2L266.8 295.7L267.0 297.2L267.2 298.7L267.4 300.2L267.5 301.7L267.7 303.2L267.9 304.7L268.1 306.2L268.3 307.7L268.5 309.2L268.7 310.7L268.9 312.2L269.1 313.7L269.3 315.1L269.5 316.6L269.7 318.1L269.9 319.6L270.1 321.1L270.3 322.6L270.5 324.1L270.7 325.6L270.9 327.1L271.2 328.6L271.4 330.1L271.6 331.6L271.8 333.0L272.0 334.5L272.2 336.0L272.4 337.5L272.6 339.0L272.8 340.5L273.1 342.0L273.3 343.5L273.5 345.0L273.7 346.4L273.9 347.9L274.2 349.4L274.4 350.9L274.6 352.4L274.9 353.9L275.1 355.4L275.3 356.8L275.5 358.3L275.8 359.8L276.0 361.3L276.3 362.8L276.5 364.3L276.7 365.7L277.0 367.2L277.2 368.7L277.5 370.2L277.7 371.7L278.0 373.2L278.2 374.6L278.5 376.1L278.7 377.6L279.0 379.1L279.3 380.6L279.5 382.0L279.8 383.5L280.0 385.0L280.3 386.5L280.6 387.9L280.9 389.4L281.1 390.9L281.4 392.4L281.7 393.8L282.0 395.3L282.3 396.8L282.5 398.3L282.8 399.7L283.1 401.2L283.4 402.7L283.7 404.1L284.0 405.6L284.3 407.1L284.6 408.5L284.9 410.0L285.2 411.5L285.5 412.9L285.9 414.4L286.2 415.9L286.5 417.3L286.8 418.8L287.1 420.3L287.5 421.7L287.8 423.2L288.1 424.6L288.5 426.1L288.8 427.6L289.2 429.0L289.5 430.5L289.8 431.9L290.2 433.4L290.6 434.8L290.9 436.3L291.3 437.8L291.6 439.2L292.0 440.7L292.4 442.1L292.7 443.6L293.1 445.0L293.5 446.5L293.9 447.9L294.3 449.4L294.7 450.8L295.1 452.2L295.5 453.7L295.9 455.1L296.3 456.6L296.7 458.0L297.1 459.5L297.5 460.9L297.9 462.3L298.3 463.8L298.8 465.2L299.2 466.7L299.6 468.1L300.1 469.5L300.5 471.0L300.9 472.4L301.4 473.8L301.8 475.3L302.3 476.7L302.7 478.1L303.2 479.5L303.7 481.0L304.1 482.4L304.6 483.8L305.1 485.2L305.6 486.7L306.0 488.1L306.5 489.5L307.0 490.9L307.5 492.4L308.0 493.8L308.5 495.2L309.0 496.6L309.5 498.0L310.0 499.5L310.5 500.9L311.0 502.3L311.5 503.7L312.0 505.1L312.5 506.5L313.0 507.9L313.5 509.4L314.0 510.8L314.5 512.2L315.0 513.6L315.5 515.0L316.0 516.4L316.6 517.8L317.1 519.2L317.6 520.6L318.1 522.1L318.6 523.5L319.2 524.9L319.7 526.3L320.2 527.7L320.8 529.1L321.3 530.5L321.9 531.9L322.4 533.3L323.0 534.7L323.5 536.1L324.1 537.4L324.7 538.8L325.2 540.2L325.8 541.6L326.4 543.0L327.0 544.4L327.6 545.7L328.2 547.1L328.8 548.5L329.4 549.9L330.0 551.2L330.6 552.6L331.3 553.9L331.9 555.3L332.6 556.6L333.2 558.0L333.9 559.3L334.6 560.7L335.3 562.0L336.0 563.3L336.7 564.7L337.4 566.0L338.1 567.3L338.8 568.6L339.6 569.9L340.3 571.2L341.1 572.5L341.8 573.8L342.6 575.1L343.4 576.4L344.2 577.6L345.0 578.9L345.9 580.1L346.7 581.4L347.5 582.6L348.4 583.9L349.3 585.1L350.2 586.3L351.1 587.5L352.0 588.7L352.9 589.9L353.8 591.1L354.8 592.2L355.8 593.4L356.7 594.6L357.7 595.7L358.7 596.8L359.7 597.9L360.8 599.0L361.8 600.1L362.9 601.2L363.9 602.3L365.0 603.3L366.1 604.3L367.2 605.4L368.3 606.4L369.5 607.3L370.6 608.3L371.8 609.2L373.0 610.2L374.2 611.1L375.4 611.9L376.6 612.8L377.8 613.6L379.0 614.5L380.3 615.3L381.6 616.0L382.8 616.8L384.1 617.5L385.4 618.2L386.8 618.9L388.1 619.5L389.4 620.2L390.8 620.8L392.2 621.3L393.6 621.9L394.9 622.4L396.3 622.9L397.8 623.4L399.2 623.9L400.6 624.4L402.0 624.8L403.5 625.2L404.9 625.6L406.4 626.0L407.8 626.4L409.3 626.7L410.8 627.0L412.3 627.3L413.8 627.7L415.2 627.9L416.7 628.2L418.2 628.5L419.7 628.7L421.2 629.0L422.7 629.2L424.2 629.4L425.7 629.6L427.2 629.8L428.7 630.0L430.2 630.2L431.7 630.4L433.2 630.5L434.7 630.7L436.2 630.9L437.7 631.0L439.2 631.1L440.7 631.3L442.2 631.4L443.7 631.5L445.2 631.7L446.7 631.8L448.2 631.9L449.7 632.0L451.2 632.1L452.7 632.2L454.2 632.3L455.7 632.3L457.2 632.4L458.7 632.5L460.2 632.6L461.7 632.6L463.2 632.7L464.7 632.8L466.1 632.8L467.6 632.9L469.1 633.0L470.6 633.0L472.1 633.1L473.6 633.1L475.1 633.2L476.6 633.2L478.1 633.3L479.6 633.3L481.1 633.4L482.6 633.4L484.1 633.5L485.6 633.5L487.1 633.6L488.6 633.6L490.1 633.7L491.6 633.7L493.1 633.8L494.6 633.8L496.1 633.9L497.6 633.9L499.1 633.9L500.6 634.0L502.1 634.0L503.6 634.1L505.1 634.1L506.6 634.1L508.1 634.2L509.6 634.2L511.1 634.2L512.6 634.3L514.1 634.3L515.6 634.3L517.1 634.4L518.6 634.4L520.1 634.4L521.6 634.5L523.1 634.5L524.6 634.5L526.1 634.6L527.6 634.6L529.1 634.6L530.6 634.6L532.1 634.7L533.6 634.7L535.1 634.7L536.6 634.7L538.1 634.8L539.6 634.8L541.1 634.8L542.6 634.8L544.1 634.9L545.6 634.9L547.2 634.9L548.7 634.9L550.2 635.0L551.7 635.0L553.2 635.0L554.7 635.0L556.2 635.0L557.7 635.1L559.2 635.1L560.7 635.1L562.2 635.1L563.7 635.1L565.2 635.1L566.7 635.2L568.2 635.2L569.7 635.2L571.2 635.2L572.7 635.2L574.2 635.3L575.7 635.3L577.2 635.3L578.7 635.3L580.2 635.3L581.7 635.3L583.2 635.3L584.7 635.4L586.2 635.4L587.7 635.4L589.2 635.4L590.7 635.4L592.2 635.4L593.7 635.4L595.2 635.5L596.7 635.5L598.2 635.5L599.7 635.5L601.2 635.5L602.7 635.5L604.2 635.5L605.7 635.5L607.2 635.5L608.8 635.6L610.3 635.6L611.8 635.6L613.3 635.6L614.8 635.6L616.3 635.6L617.8 635.6L619.3 635.6L620.8 635.6L622.3 635.6L623.8 635.7L625.3 635.7L626.8 635.7L628.3 635.7L629.8 635.7L631.3 635.7L632.8 635.7L634.3 635.7L635.8 635.7L637.3 635.7L638.8 635.7L640.3 635.7L641.8 635.8L643.3 635.8L644.8 635.8L646.3 635.8L647.8 635.8L649.3 635.8L650.8 635.8L652.3 635.8L653.8 635.8L655.3 635.8L656.8 635.8L658.3 635.8L659.8 635.8L661.3 635.8L662.8 635.8L664.3 635.8L665.8 635.8L667.3 635.9L668.8 635.9L670.3 635.9L671.8 635.9L673.3 635.9L674.8 635.9L676.3 635.9L677.8 635.9L679.3 635.9L680.8 635.9L682.3 635.9L683.8 635.9L685.3 635.9L686.8 635.9L688.3 635.9L689.8 635.9L691.3 635.9L692.8 635.9L694.3 635.9L695.8 635.9L697.3 635.9L698.8 635.9L700.3 635.9L701.8 635.9L703.3 635.9L704.8 635.9L706.3 636.0L707.8 636.0L709.3 636.0L710.8 636.0L712.3 636.0L713.8 636.0L715.3 636.0L716.8 636.0L718.3 636.0L719.8 636.0L721.3 636.0L722.8 636.0L724.3 636.0L725.9 636.0L727.4 636.0L728.9 636.0L730.4 636.0L731.9 636.0L733.4 636.0L734.9 636.0L736.4 636.0L737.9 636.0L739.4 636.0L740.9 636.0L742.4 636.0L743.9 636.0L745.4 636.0L746.9 636.0L748.4 636.0L749.9 636.0L751.4 636.0L752.9 636.0L754.4 636.0L755.9 636.0" stroke="#4BACC6" stroke-width="2.0"/>
<path d="M176.5 631.6L178.0 631.7L179.5 631.9L181.0 632.0L182.5 632.2L184.0 632.3L185.5 632.4L187.0 632.5L188.5 632.5L190.0 632.6L191.5 632.6L193.0 632.7L194.5 632.7L196.0 632.7L197.5 632.7L199.0 632.7L200.5 632.7L202.0 632.6L203.5 632.6L205.0 632.5L206.5 632.5L208.0 632.4L209.5 632.3L211.0 632.2L212.5 632.1L214.0 632.0L215.5 631.9L217.0 631.8L218.5 631.6L220.0 631.5L221.5 631.3L223.0 631.2L224.5 631.0L226.0 630.8L227.5 630.5L228.9 630.3L230.4 630.0L231.9 629.6L233.3 629.3L234.8 628.9L236.2 628.4L237.6 627.9L239.0 627.4L240.4 626.8L241.7 626.2L243.1 625.5L244.4 624.8L245.7 624.1L247.0 623.3L248.3 622.5L249.5 621.6L250.8 620.7L252.0 619.8L253.1 618.9L254.3 617.9L255.4 617.0L256.5 616.0L257.6 614.9L258.7 613.9L259.7 612.8L260.7 611.7L261.7 610.6L262.6 609.4L263.6 608.3L264.5 607.1L265.4 605.9L266.3 604.7L267.1 603.5L268.0 602.3L268.8 601.0L269.6 599.7L270.4 598.5L271.1 597.2L271.9 595.9L272.6 594.6L273.4 593.2L274.1 591.9L274.8 590.6L275.5 589.2L276.1 587.9L276.8 586.5L277.4 585.1L278.1 583.8L278.7 582.4L279.3 581.0L279.9 579.6L280.5 578.2L281.1 576.9L281.7 575.5L282.3 574.1L282.9 572.7L283.4 571.3L284.0 569.9L284.5 568.5L285.1 567.1L285.6 565.7L286.1 564.3L286.6 562.9L287.1 561.5L287.6 560.1L288.1 558.6L288.6 557.2L289.0 555.8L289.5 554.4L290.0 553.0L290.4 551.5L290.9 550.1L291.3 548.7L291.7 547.2L292.1 545.8L292.6 544.4L293.0 542.9L293.4 541.5L293.8 540.0L294.1 538.6L294.5 537.1L294.9 535.7L295.3 534.2L295.6 532.8L296.0 531.3L296.3 529.8L296.6 528.4L297.0 526.9L297.3 525.5L297.6 524.0L298.0 522.5L298.3 521.0L298.6 519.6L298.9 518.1L299.2 516.6L299.5 515.2L299.8 513.7L300.1 512.2L300.4 510.7L300.7 509.3L301.0 507.8L301.3 506.3L301.6 504.8L301.9 503.3L302.2 501.9L302.4 500.4L302.7 498.9L303.0 497.4L303.3 496.0L303.6 494.5L303.9 493.0L304.2 491.5L304.5 490.1L304.7 488.6L305.0 487.1L305.3 485.7L305.6 484.2L305.9 482.7L306.2 481.2L306.5 479.8L306.8 478.3L307.1 476.8L307.4 475.4L307.7 473.9L307.9 472.4L308.2 470.9L308.5 469.5L308.8 468.0L309.1 466.5L309.4 465.1L309.7 463.6L309.9 462.1L310.2 460.7L310.5 459.2L310.8 457.7L311.1 456.2L311.4 454.8L311.6 453.3L311.9 451.8L312.2 450.4L312.5 448.9L312.7 447.4L313.0 445.9L313.3 444.5L313.5 443.0L313.8 441.5L314.1 440.0L314.3 438.6L314.6 437.1L314.8 435.6L315.1 434.1L315.3 432.6L315.6 431.2L315.9 429.7L316.1 428.2L316.4 426.7L316.6 425.2L316.9 423.8L317.1 422.3L317.3 420.8L317.6 419.3L317.8 417.8L318.1 416.3L318.3 414.9L318.6 413.4L318.8 411.9L319.0 410.4L319.3 408.9L319.5 407.4L319.8 406.0L320.0 404.5L320.2 403.0L320.5 401.5L320.7 400.0L320.9 398.5L321.2 397.0L321.4 395.6L321.6 394.1L321.9 392.6L322.1 391.1L322.3 389.6L322.6 388.1L322.8 386.6L323.0 385.2L323.3 383.7L323.5 382.2L323.7 380.7L324.0 379.2L324.2 377.7L324.4 376.2L324.6 374.8L324.9 373.3L325.1 371.8L325.3 370.3L325.6 368.8L325.8 367.3L326.0 365.8L326.3 364.3L326.5 362.9L326.7 361.4L327.0 359.9L327.2 358.4L327.4 356.9L327.7 355.4L327.9 354.0L328.2 352.5L328.4 351.0L328.6 349.5L328.9 348.0L329.1 346.5L329.4 345.1L329.6 343.6L329.8 342.1L330.1 340.6L330.3 339.1L330.6 337.6L330.8 336.2L331.0 334.7L331.3 333.2L331.5 331.7L331.8 330.2L332.0 328.7L332.3 327.3L332.5 325.8L332.8 324.3L333.0 322.8L333.3 321.3L333.5 319.9L333.8 318.4L334.0 316.9L334.3 315.4L334.5 313.9L334.8 312.5L335.0 311.0L335.3 309.5L335.6 308.0L335.8 306.5L336.1 305.1L336.3 303.6L336.6 302.1L336.8 300.6L337.1 299.2L337.4 297.7L337.6 296.2L337.9 294.7L338.2 293.2L338.4 291.8L338.7 290.3L338.9 288.8L339.2 287.3L339.5 285.9L339.7 284.4L340.0 282.9L340.3 281.4L340.6 280.0L340.8 278.5L341.1 277.0L341.4 275.5L341.6 274.1L341.9 272.6L342.2 271.1L342.5 269.6L342.7 268.2L343.0 266.7L343.3 265.2L343.6 263.7L343.9 262.3L344.1 260.8L344.4 259.3L344.7 257.8L345.0 256.4L345.3 254.9L345.6 253.4L345.9 251.9L346.1 250.5L346.4 249.0L346.7 247.5L347.0 246.1L347.3 244.6L347.6 243.1L347.9 241.6L348.2 240.2L348.5 238.7L348.8 237.2L349.1 235.8L349.4 234.3L349.7 232.8L350.0 231.3L350.3 229.9L350.6 228.4L350.9 226.9L351.2 225.5L351.5 224.0L351.8 222.5L352.1 221.1L352.4 219.6L352.7 218.1L353.0 216.6L353.3 215.2L353.6 213.7L353.9 212.2L354.3 210.8L354.6 209.3L354.9 207.8L355.2 206.4L355.5 204.9L355.8 203.4L356.2 202.0L356.5 200.5L356.8 199.0L357.1 197.6L357.4 196.1L357.8 194.6L358.1 193.2L358.4 191.7L358.7 190.2L359.1 188.8L359.4 187.3L359.7 185.8L360.1 184.4L360.4 182.9L360.7 181.4L361.1 180.0L361.4 178.5L361.8 177.0L362.1 175.6L362.4 174.1L362.8 172.6L363.1 171.2L363.5 169.7L363.8 168.3L364.2 166.8L364.5 165.3L364.9 163.9L365.2 162.4L365.6 161.0L366.0 159.5L366.4 158.1L366.8 156.6L367.2 155.2L367.6 153.7L368.0 152.3L368.4 150.8L368.8 149.4L369.3 148.0L369.7 146.5L370.2 145.1L370.6 143.7L371.1 142.3L371.6 140.8L372.1 139.4L372.6 138.0L373.2 136.6L373.7 135.2L374.3 133.9L374.8 132.5L375.4 131.1L376.0 129.7L376.6 128.3L377.3 127.0L377.9 125.6L378.6 124.3L379.2 122.9L379.9 121.6L380.6 120.2L381.3 118.9L382.0 117.6L382.7 116.3L383.5 114.9L384.2 113.6L385.0 112.3L385.8 111.0L386.6 109.8L387.5 108.5L388.4 107.4L389.4 106.3L390.5 105.2L391.7 104.3L393.0 103.4L394.3 102.7L395.7 102.1L397.1 101.8L398.5 101.6L399.9 101.7L401.3 102.0L402.6 102.4L403.8 103.1L404.9 103.9L406.0 104.9L406.9 106.1L407.7 107.3L408.5 108.6L409.1 110.0L409.8 111.4L410.5 112.8L411.1 114.2L411.8 115.6L412.6 117.0L413.4 118.3L414.2 119.6L415.0 120.8L415.8 122.1L416.7 123.3L417.6 124.5L418.4 125.7L419.3 127.0L420.2 128.2L421.0 129.4L421.8 130.6L422.6 131.9L423.4 133.1L424.1 134.4L424.9 135.7L425.6 137.0L426.2 138.4L426.9 139.7L427.5 141.1L428.2 142.4L428.8 143.8L429.4 145.2L429.9 146.6L430.5 148.0L431.1 149.3L431.6 150.7L432.2 152.1L432.7 153.5L433.3 154.9L433.8 156.3L434.4 157.7L434.9 159.1L435.4 160.6L436.0 162.0L436.5 163.4L437.0 164.8L437.5 166.2L438.0 167.6L438.5 169.0L439.0 170.4L439.5 171.8L440.0 173.3L440.5 174.7L441.0 176.1L441.5 177.5L442.0 178.9L442.4 180.4L442.9 181.8L443.4 183.2L443.9 184.6L444.3 186.0L444.8 187.5L445.2 188.9L445.7 190.3L446.2 191.8L446.6 193.2L447.1 194.6L447.5 196.0L447.9 197.5L448.4 198.9L448.8 200.3L449.3 201.8L449.7 203.2L450.1 204.7L450.6 206.1L451.0 207.5L451.4 209.0L451.8 210.4L452.3 211.8L452.7 213.3L453.1 214.7L453.5 216.2L453.9 217.6L454.3 219.0L454.7 220.5L455.1 221.9L455.5 223.4L455.9 224.8L456.3 226.3L456.7 227.7L457.1 229.2L457.5 230.6L457.9 232.1L458.3 233.5L458.7 235.0L459.1 236.4L459.5 237.8L459.9 239.3L460.3 240.7L460.6 242.2L461.0 243.7L461.4 245.1L461.8 246.6L462.2 248.0L462.5 249.5L462.9 250.9L463.3 252.4L463.7 253.8L464.0 255.3L464.4 256.7L464.8 258.2L465.2 259.6L465.5 261.1L465.9 262.5L466.3 264.0L466.6 265.5L467.0 266.9L467.4 268.4L467.7 269.8L468.1 271.3L468.5 272.7L468.8 274.2L469.2 275.6L469.6 277.1L469.9 278.6L470.3 280.0L470.7 281.5L471.0 282.9L471.4 284.4L471.8 285.8L472.1 287.3L472.5 288.8L472.9 290.2L473.2 291.7L473.6 293.1L474.0 294.6L474.3 296.0L474.7 297.5L475.1 299.0L475.4 300.4L475.8 301.9L476.2 303.3L476.5 304.8L476.9 306.2L477.3 307.7L477.6 309.1L478.0 310.6L478.4 312.1L478.7 313.5L479.1 315.0L479.5 316.4L479.9 317.9L480.2 319.3L480.6 320.8L481.0 322.2L481.4 323.7L481.8 325.1L482.1 326.6L482.5 328.0L482.9 329.5L483.3 330.9L483.7 332.4L484.1 333.8L484.5 335.3L484.8 336.7L485.2 338.2L485.6 339.6L486.0 341.1L486.4 342.5L486.8 344.0L487.2 345.4L487.6 346.9L488.0 348.3L488.4 349.8L488.8 351.2L489.3 352.6L489.7 354.1L490.1 355.5L490.5 357.0L490.9 358.4L491.3 359.9L491.7 361.3L492.2 362.7L492.6 364.2L493.0 365.6L493.4 367.1L493.8 368.5L494.2 370.0L494.7 371.4L495.1 372.8L495.5 374.3L495.9 375.7L496.4 377.2L496.8 378.6L497.2 380.0L497.6 381.5L498.1 382.9L498.5 384.4L498.9 385.8L499.3 387.2L499.7 388.7L500.2 390.1L500.6 391.6L501.0 393.0L501.4 394.4L501.9 395.9L502.3 397.3L502.7 398.8L503.1 400.2L503.5 401.7L503.9 403.1L504.4 404.6L504.8 406.0L505.2 407.4L505.6 408.9L506.0 410.3L506.4 411.8L506.8 413.2L507.2 414.7L507.6 416.1L508.1 417.6L508.5 419.0L508.9 420.5L509.3 421.9L509.7 423.4L510.0 424.8L510.4 426.3L510.8 427.7L511.2 429.2L511.6 430.7L512.0 432.1L512.4 433.6L512.8 435.0L513.1 436.5L513.5 437.9L513.9 439.4L514.3 440.9L514.7 442.3L515.0 443.8L515.4 445.2L515.8 446.7L516.2 448.1L516.7 449.6L517.1 451.0L517.5 452.4L518.0 453.9L518.4 455.3L518.9 456.7L519.4 458.1L519.9 459.5L520.4 460.9L521.0 462.3L521.5 463.7L522.1 465.1L522.6 466.5L523.2 467.9L523.7 469.3L524.3 470.6L524.9 472.0L525.4 473.4L526.0 474.8L526.5 476.2L527.1 477.6L527.6 479.0L528.1 480.4L528.6 481.8L529.1 483.2L529.7 484.6L530.2 486.0L530.7 487.5L531.2 488.9L531.7 490.3L532.2 491.7L532.8 493.1L533.3 494.5L533.9 495.9L534.5 497.2L535.1 498.6L535.7 500.0L536.4 501.3L537.0 502.7L537.7 504.0L538.4 505.3L539.1 506.7L539.8 508.0L540.5 509.3L541.2 510.6L541.9 512.0L542.7 513.3L543.4 514.6L544.1 515.9L544.9 517.2L545.6 518.5L546.3 519.8L547.1 521.1L547.8 522.5L548.5 523.8L549.3 525.1L550.0 526.4L550.8 527.7L551.5 529.0L552.3 530.3L553.1 531.6L553.8 532.9L554.6 534.2L555.4 535.4L556.1 536.7L556.9 538.0L557.7 539.3L558.5 540.6L559.3 541.9L560.0 543.1L560.8 544.4L561.6 545.7L562.4 546.9L563.3 548.2L564.1 549.4L564.9 550.7L565.7 552.0L566.6 553.2L567.4 554.4L568.2 555.7L569.1 556.9L569.9 558.1L570.8 559.4L571.7 560.6L572.5 561.8L573.4 563.0L574.3 564.2L575.2 565.4L576.1 566.6L577.0 567.8L577.9 569.0L578.9 570.2L579.8 571.3L580.7 572.5L581.7 573.7L582.6 574.8L583.6 576.0L584.6 577.1L585.6 578.3L586.5 579.4L587.5 580.5L588.5 581.6L589.6 582.7L590.6 583.8L591.6 584.9L592.7 586.0L593.7 587.1L594.8 588.2L595.9 589.2L596.9 590.3L598.0 591.3L599.1 592.4L600.2 593.4L601.4 594.4L602.5 595.4L603.6 596.4L604.8 597.4L605.9 598.3L607.1 599.3L608.3 600.2L609.5 601.1L610.7 602.0L611.9 602.9L613.1 603.8L614.4 604.6L615.6 605.5L616.9 606.3L618.1 607.1L619.4 607.8L620.7 608.6L622.0 609.3L623.3 610.0L624.6 610.7L626.0 611.4L627.3 612.0L628.6 612.7L630.0 613.3L631.4 613.9L632.8 614.4L634.1 615.0L635.5 615.5L636.9 616.0L638.4 616.5L639.8 617.0L641.2 617.5L642.6 618.0L644.1 618.4L645.5 618.8L647.0 619.2L648.4 619.6L649.9 620.0L651.3 620.4L652.8 620.8L654.3 621.1L655.7 621.5L657.2 621.8L658.7 622.1L660.1 622.4L661.6 622.8L663.1 623.1L664.6 623.4L666.1 623.7L667.5 623.9L669.0 624.2L670.5 624.5L672.0 624.8L673.5 625.0L674.9 625.3L676.4 625.5L677.9 625.8L679.4 626.0L680.9 626.2L682.3 626.5L683.8 626.7L685.3 626.9L686.8 627.1L688.3 627.3L689.8 627.5L691.2 627.7L692.7 627.9L694.2 628.1L695.7 628.3L697.2 628.4L698.7 628.6L700.2 628.8L701.7 628.9L703.2 629.1L704.6 629.2L706.1 629.4L707.6 629.5L709.1 629.7L710.6 629.8L712.1 629.9L713.6 630.0L715.1 630.2L716.6 630.3L718.1 630.4L719.6 630.5L721.1 630.6L722.6 630.7L724.1 630.8L725.6 630.9L727.1 631.0L728.6 631.0L730.1 631.1L731.6 631.2L733.1 631.3L734.6 631.3L736.1 631.4L737.6 631.5L739.1 631.5L740.6 631.6L742.1 631.6L743.6 631.7L745.1 631.8L746.6 631.8L748.1 631.9L749.6 631.9L751.1 631.9L752.6 632.0L754.1 632.0L755.6 632.1L757.1 632.1L758.6 632.1L760.1 632.2L761.6 632.2L763.1 632.2L764.6 632.3L766.1 632.3L767.6 632.3L769.1 632.3L770.6 632.4L772.1 632.4L773.6 632.4L775.1 632.4L776.6 632.5L778.1 632.5L779.6 632.5L781.1 632.5L782.6 632.5L784.1 632.5L785.6 632.6L787.1 632.6L788.6 632.6L790.1 632.6L791.6 632.6L793.1 632.6L794.6 632.6L796.1 632.6L797.7 632.6L799.2 632.6L800.7 632.7L802.2 632.7L803.7 632.7L805.2 632.7L806.7 632.7L808.2 632.7L809.7 632.7L811.2 632.7L812.7 632.7L814.2 632.7L815.7 632.7L817.2 632.7L818.7 632.7L820.2 632.7L821.7 632.7L823.2 632.8L824.7 632.8L826.2 632.8L827.7 632.8L829.2 632.8L830.7 632.8L832.2 632.8L833.7 632.8L835.2 632.8L836.7 632.8L838.2 632.8L839.7 632.8L841.2 632.9L842.7 632.9L844.2 632.9" stroke="#E46C0A" stroke-width="2.3"/>
<path d="M229.1 472.0L230.3 471.0L231.4 470.0L232.2 468.8L232.9 467.6L233.5 466.3L233.9 464.9L234.2 463.4L234.5 461.9L234.7 460.4L234.9 458.8L235.1 457.3L235.3 455.7L235.4 454.2L235.6 452.7L235.9 451.2L236.1 449.7L236.3 448.2L236.5 446.7L236.7 445.2L237.0 443.7L237.2 442.2L237.4 440.8L237.7 439.3L237.9 437.8L238.1 436.3L238.3 434.9L238.5 433.4L238.7 431.9L238.9 430.4L239.1 429.0L239.3 427.5L239.5 426.0L239.6 424.5L239.8 423.0L240.0 421.6L240.1 420.1L240.3 418.6L240.4 417.1L240.6 415.6L240.8 414.1L240.9 412.7L241.1 411.2L241.2 409.7L241.4 408.2L241.5 406.7L241.6 405.2L241.8 403.7L241.9 402.3L242.1 400.8L242.2 399.3L242.4 397.8L242.5 396.3L242.7 394.8L242.8 393.3L243.0 391.8L243.1 390.3L243.3 388.8L243.5 387.3L243.6 385.8L243.8 384.3L243.9 382.8L244.1 381.3L244.2 379.8L244.4 378.3L244.6 376.8L244.7 375.3L244.9 373.8L245.0 372.3L245.2 370.9L245.4 369.4L245.5 367.9L245.7 366.3L245.8 364.8L246.0 363.3L246.2 361.8L246.3 360.3L246.5 358.8L246.7 357.3L246.8 355.8L247.0 354.3L247.2 352.8L247.3 351.3L247.5 349.8L247.6 348.3L247.8 346.8L248.0 345.3L248.1 343.8L248.3 342.3L248.4 340.8L248.6 339.3L248.8 337.8L248.9 336.3L249.1 334.8L249.2 333.3L249.4 331.8L249.6 330.3L249.7 328.8L249.9 327.3L250.0 325.8L250.2 324.3L250.3 322.8L250.5 321.3L250.6 319.8L250.8 318.3L250.9 316.8L251.1 315.3L251.2 313.8L251.4 312.3L251.5 310.8L251.7 309.3L251.8 307.8L251.9 306.3L252.1 304.8L252.2 303.3L252.4 301.9L252.5 300.4L252.7 298.9L252.8 297.4L252.9 295.9L253.1 294.4L253.2 292.9L253.4 291.4L253.5 289.9L253.6 288.4L253.8 286.9L253.9 285.4L254.1 283.9L254.2 282.4L254.3 280.9L254.5 279.5L254.6 278.0L254.8 276.5L254.9 275.0L255.0 273.5L255.2 272.0L255.3 270.5L255.5 269.0L255.6 267.5L255.7 266.0L255.9 264.5L256.0 263.1L256.2 261.6L256.3 260.1L256.5 258.6L256.6 257.1L256.8 255.6L256.9 254.1L257.1 252.6L257.2 251.1L257.4 249.6L257.5 248.2L257.7 246.7L257.8 245.2L258.0 243.7L258.1 242.2L258.3 240.7L258.4 239.2L258.6 237.7L258.8 236.2L258.9 234.8L259.1 233.3L259.3 231.8L259.4 230.3L259.6 228.8L259.8 227.3L259.9 225.8L260.1 224.3L260.3 222.8L260.5 221.4L260.6 219.9L260.8 218.4L261.0 216.9L261.2 215.4L261.4 213.9L261.6 212.4L261.7 210.9L261.9 209.4L262.1 208.0L262.3 206.5L262.5 205.0L262.7 203.5L262.9 202.0L263.1 200.5L263.3 199.0L263.6 197.5L263.8 196.0L264.0 194.5L264.2 193.0L264.4 191.6L264.6 190.1L264.9 188.6L265.1 187.1L265.3 185.6L265.6 184.1L265.8 182.6L266.0 181.1L266.3 179.6L266.5 178.1L266.8 176.6L267.0 175.1L267.3 173.6L267.5 172.2L267.8 170.7L268.1 169.2L268.3 167.7L268.6 166.2L268.9 164.7L269.1 163.2L269.4 161.7L269.7 160.2L270.1 158.7L270.4 157.3L270.8 155.8L271.1 154.4L271.5 152.9L272.0 151.5L272.4 150.1L272.9 148.7L273.4 147.3L274.0 146.0L274.6 144.6L275.2 143.3L275.9 142.0L276.6 140.7L277.4 139.5L278.2 138.2L279.1 137.1L280.0 135.9L281.0 134.7L282.0 133.6L283.1 132.5L284.1 131.4L285.3 130.4L286.4 129.3L287.5 128.2L288.6 127.2L289.7 126.1L290.7 125.0L291.8 123.8L292.7 122.7L293.6 121.5L294.5 120.2L295.3 119.0L296.0 117.7L296.8 116.4L297.5 115.1L298.3 113.8L299.0 112.5L299.8 111.2L300.6 109.9L301.5 108.7L302.5 107.5L303.5 106.3L304.6 105.2L305.8 104.2L307.1 103.3L308.3 102.6L309.7 102.2L311.0 102.0L312.3 102.2L313.6 102.5L314.9 103.1L316.1 103.9L317.2 104.8L318.2 105.8L319.1 106.9L319.9 108.1L320.7 109.3L321.4 110.6L322.1 111.9L322.7 113.3L323.2 114.7L323.8 116.2L324.3 117.6L324.8 119.1L325.3 120.6L325.8 122.1L326.2 123.5L326.7 125.0L327.2 126.5L327.6 127.9L328.0 129.4L328.5 130.8L328.9 132.3L329.3 133.8L329.8 135.2L330.2 136.7L330.6 138.1L331.0 139.6L331.4 141.0L331.8 142.4L332.2 143.9L332.6 145.3L333.0 146.8L333.3 148.2L333.7 149.7L334.1 151.1L334.5 152.6L334.8 154.0L335.2 155.4L335.6 156.9L335.9 158.3L336.3 159.8L336.7 161.2L337.0 162.7L337.4 164.1L337.7 165.6L338.1 167.0L338.5 168.5L338.8 169.9L339.2 171.4L339.5 172.9L339.9 174.3L340.2 175.8L340.6 177.2L340.9 178.7L341.2 180.1L341.6 181.6L341.9 183.1L342.3 184.5L342.6 186.0L342.9 187.4L343.3 188.9L343.6 190.4L343.9 191.8L344.3 193.3L344.6 194.8L344.9 196.2L345.3 197.7L345.6 199.2L345.9 200.6L346.2 202.1L346.6 203.6L346.9 205.0L347.2 206.5L347.5 208.0L347.9 209.4L348.2 210.9L348.5 212.4L348.8 213.9L349.1 215.3L349.5 216.8L349.8 218.3L350.1 219.7L350.4 221.2L350.7 222.7L351.0 224.2L351.4 225.6L351.7 227.1L352.0 228.6L352.3 230.1L352.6 231.5L352.9 233.0L353.2 234.5L353.6 236.0L353.9 237.4L354.2 238.9L354.5 240.4L354.8 241.9L355.1 243.3L355.4 244.8L355.8 246.3L356.1 247.8L356.4 249.2L356.7 250.7L357.0 252.2L357.3 253.7L357.6 255.1L358.0 256.6L358.3 258.1L358.6 259.6L358.9 261.0L359.2 262.5L359.5 264.0L359.9 265.5L360.2 266.9L360.5 268.4L360.8 269.9L361.1 271.4L361.5 272.8L361.8 274.3L362.1 275.8L362.4 277.3L362.7 278.7L363.1 280.2L363.4 281.7L363.7 283.1L364.0 284.6L364.4 286.1L364.7 287.6L365.0 289.0L365.3 290.5L365.7 292.0L366.0 293.4L366.3 294.9L366.7 296.4L367.0 297.8L367.3 299.3L367.7 300.8L368.0 302.2L368.3 303.7L368.7 305.2L369.0 306.6L369.4 308.1L369.7 309.6L370.1 311.0L370.4 312.5L370.8 314.0L371.1 315.4L371.5 316.9L371.8 318.3L372.2 319.8L372.5 321.3L372.9 322.7L373.2 324.2L373.6 325.6L373.9 327.1L374.3 328.6L374.7 330.0L375.0 331.5L375.4 332.9L375.8 334.4L376.1 335.8L376.5 337.3L376.9 338.7L377.2 340.2L377.6 341.6L378.0 343.1L378.4 344.6L378.7 346.0L379.1 347.5L379.5 348.9L379.9 350.4L380.2 351.8L380.6 353.3L381.0 354.7L381.4 356.2L381.8 357.6L382.2 359.0L382.6 360.5L383.0 361.9L383.3 363.4L383.7 364.8L384.1 366.3L384.5 367.7L384.9 369.2L385.3 370.6L385.7 372.1L386.1 373.5L386.5 374.9L386.9 376.4L387.3 377.8L387.7 379.3L388.2 380.7L388.6 382.1L389.0 383.6L389.4 385.0L389.8 386.5L390.2 387.9L390.6 389.3L391.1 390.8L391.5 392.2L391.9 393.7L392.3 395.1L392.7 396.5L393.2 398.0L393.6 399.4L394.0 400.8L394.4 402.3L394.9 403.7L395.3 405.1L395.7 406.6L396.2 408.0L396.6 409.4L397.1 410.9L397.5 412.3L397.9 413.7L398.4 415.2L398.8 416.6L399.3 418.0L399.7 419.5L400.2 420.9L400.6 422.3L401.1 423.8L401.5 425.2L402.0 426.6L402.4 428.1L402.9 429.5L403.3 430.9L403.8 432.3L404.2 433.8L404.7 435.2L405.2 436.6L405.6 438.1L406.1 439.5L406.6 440.9L407.0 442.3L407.5 443.8L408.0 445.2L408.5 446.6L408.9 448.0L409.4 449.5L409.9 450.9L410.4 452.3L410.8 453.7L411.3 455.2L411.8 456.6L412.3 458.0L412.8 459.4L413.3 460.9L413.8 462.3L414.3 463.7L414.8 465.1L415.2 466.5L415.7 468.0L416.2 469.4L416.8 470.8L417.3 472.2L417.8 473.6L418.3 475.1L418.8 476.5L419.3 477.9L419.8 479.3L420.4 480.7L420.9 482.1L421.4 483.5L422.0 484.9L422.5 486.3L423.0 487.7L423.6 489.1L424.1 490.5L424.7 491.9L425.3 493.3L425.8 494.7L426.4 496.1L427.0 497.5L427.5 498.9L428.1 500.3L428.7 501.7L429.3 503.1L429.9 504.4L430.5 505.8L431.1 507.2L431.7 508.6L432.3 509.9L432.9 511.3L433.5 512.7L434.2 514.0L434.8 515.4L435.5 516.7L436.1 518.1L436.8 519.5L437.4 520.8L438.1 522.1L438.7 523.5L439.4 524.8L440.1 526.2L440.8 527.5L441.5 528.8L442.2 530.2L442.9 531.5L443.6 532.8L444.4 534.1L445.1 535.4L445.8 536.7L446.6 538.0L447.3 539.3L448.1 540.6L448.9 541.9L449.7 543.2L450.5 544.4L451.3 545.7L452.1 547.0L452.9 548.2L453.7 549.5L454.6 550.7L455.4 552.0L456.3 553.2L457.2 554.4L458.0 555.7L458.9 556.9L459.8 558.1L460.6 559.4L461.4 560.6L462.3 561.9L463.1 563.2L463.8 564.4L464.6 565.7L465.5 567.0L466.3 568.2L467.2 569.4L468.1 570.6L469.0 571.8L469.9 573.0L470.9 574.1L471.9 575.3L472.9 576.4L473.9 577.5L474.9 578.6L475.9 579.7L477.0 580.7L478.1 581.8L479.1 582.9L480.2 583.9L481.3 584.9L482.4 586.0L483.5 587.0L484.7 588.0L485.8 589.0L486.9 590.0L488.1 590.9L489.3 591.9L490.4 592.8L491.6 593.7L492.8 594.7L494.0 595.6L495.2 596.5L496.5 597.3L497.7 598.2L498.9 599.0L500.2 599.8L501.4 600.7L502.7 601.5L504.0 602.2L505.3 603.0L506.6 603.7L507.9 604.5L509.2 605.2L510.5 605.9L511.8 606.6L513.1 607.3L514.5 608.0L515.8 608.6L517.2 609.3L518.5 610.0L519.9 610.6L521.2 611.3L522.6 611.9L523.9 612.6L525.3 613.2L526.7 613.9L528.1 614.5L529.4 615.2L530.8 615.8L532.2 616.4L533.6 617.0L535.0 617.6L536.4 618.1L537.8 618.7L539.2 619.2L540.6 619.8L542.0 620.3L543.4 620.8L544.8 621.2L546.3 621.7L547.7 622.2L549.1 622.6L550.6 623.0L552.0 623.4L553.4 623.8L554.9 624.2L556.3 624.6L557.8 625.0L559.2 625.3L560.7 625.7L562.2 626.0L563.6 626.3L565.1 626.6L566.6 626.9L568.0 627.2L569.5 627.5L571.0 627.8L572.4 628.0L573.9 628.3L575.4 628.5L576.9 628.7L578.4 629.0L579.9 629.2L581.3 629.4L582.8 629.6L584.3 629.8L585.8 630.0L587.3 630.2L588.8 630.4L590.3 630.5L591.8 630.7L593.3 630.8L594.8 631.0L596.3 631.2L597.8 631.3L599.3 631.4L600.8 631.6L602.3 631.7L603.8 631.8L605.3 632.0L606.8 632.1L608.3 632.2L609.8 632.3L611.3 632.4L612.8 632.6L614.3 632.7L615.8 632.8L617.3 632.9L618.8 633.0L620.3 633.1L621.8 633.2L623.3 633.3L624.8 633.4L626.3 633.4L627.8 633.5L629.3 633.6L630.8 633.7L632.3 633.8L633.8 633.8L635.3 633.9L636.8 634.0L638.3 634.1L639.8 634.1L641.3 634.2L642.8 634.3L644.3 634.3L645.8 634.4L647.3 634.4L648.8 634.5L650.3 634.5L651.8 634.6L653.3 634.7L654.8 634.7L656.3 634.7L657.8 634.8L659.3 634.8L660.8 634.9L662.3 634.9L663.8 635.0L665.3 635.0L666.8 635.0L668.3 635.1L669.8 635.1L671.3 635.1L672.8 635.2L674.3 635.2L675.9 635.2L677.4 635.2L678.9 635.3L680.4 635.3L681.9 635.3L683.4 635.3L684.9 635.4L686.4 635.4L687.9 635.4L689.4 635.4L690.9 635.4L692.4 635.5L693.9 635.5L695.4 635.5L696.9 635.5L698.4 635.5L699.9 635.5L701.4 635.5L702.9 635.6L704.4 635.6L705.9 635.6L707.4 635.6L708.9 635.6L710.4 635.6L711.9 635.6L713.4 635.6L714.9 635.6L716.4 635.6L717.9 635.7L719.4 635.7L720.9 635.7L722.4 635.7L723.9 635.7L725.4 635.7L726.9 635.7L728.4 635.7L729.9 635.7L731.4 635.7L733.0 635.7L734.5 635.7L736.0 635.8L737.5 635.8L739.0 635.8L740.5 635.8L742.0 635.8L743.5 635.8L745.0 635.8L746.5 635.8L748.0 635.8L749.5 635.9L751.0 635.9L752.5 635.9L754.0 635.9L755.5 635.9" stroke="#00C896" stroke-width="2.15"/>
<path d="M229.1 629.5L230.7 629.1L232.3 628.7L233.7 628.2L235.1 627.5L236.4 626.8L237.6 626.0L238.7 625.1L239.7 624.2L240.7 623.2L241.6 622.1L242.5 620.9L243.3 619.7L244.0 618.4L244.7 617.1L245.4 615.8L246.0 614.4L246.5 613.0L247.1 611.6L247.6 610.1L248.0 608.7L248.5 607.2L248.9 605.7L249.3 604.3L249.8 602.8L250.1 601.3L250.5 599.8L250.9 598.4L251.2 596.9L251.6 595.4L251.9 594.0L252.2 592.5L252.5 591.0L252.8 589.5L253.1 588.1L253.4 586.6L253.6 585.1L253.9 583.6L254.2 582.2L254.4 580.7L254.6 579.2L254.9 577.7L255.1 576.3L255.4 574.8L255.6 573.3L255.8 571.8L256.0 570.4L256.2 568.9L256.5 567.4L256.7 565.9L256.9 564.4L257.1 562.9L257.3 561.5L257.5 560.0L257.7 558.5L257.9 557.0L258.1 555.5L258.3 554.0L258.5 552.5L258.7 551.0L258.9 549.6L259.1 548.1L259.2 546.6L259.4 545.1L259.6 543.6L259.8 542.1L260.0 540.6L260.2 539.1L260.3 537.6L260.5 536.1L260.7 534.6L260.9 533.2L261.0 531.7L261.2 530.2L261.4 528.7L261.5 527.2L261.7 525.7L261.9 524.2L262.0 522.7L262.2 521.2L262.3 519.7L262.5 518.2L262.7 516.7L262.8 515.2L263.0 513.7L263.1 512.2L263.3 510.7L263.5 509.2L263.6 507.7L263.8 506.2L263.9 504.7L264.1 503.2L264.2 501.7L264.4 500.2L264.5 498.8L264.7 497.3L264.8 495.8L265.0 494.3L265.2 492.8L265.3 491.3L265.5 489.8L265.6 488.3L265.8 486.8L265.9 485.3L266.1 483.8L266.2 482.3L266.4 480.8L266.5 479.3L266.6 477.8L266.8 476.3L266.9 474.8L267.1 473.3L267.2 471.8L267.4 470.3L267.5 468.8L267.7 467.4L267.8 465.9L268.0 464.4L268.1 462.9L268.3 461.4L268.4 459.9L268.5 458.4L268.7 456.9L268.8 455.4L269.0 453.9L269.1 452.4L269.3 450.9L269.4 449.4L269.5 447.9L269.7 446.4L269.8 444.9L270.0 443.4L270.1 441.9L270.2 440.5L270.4 439.0L270.5 437.5L270.6 436.0L270.8 434.5L270.9 433.0L271.1 431.5L271.2 430.0L271.3 428.5L271.5 427.0L271.6 425.5L271.7 424.0L271.9 422.5L272.0 421.0L272.1 419.5L272.3 418.0L272.4 416.5L272.5 415.0L272.7 413.6L272.8 412.1L272.9 410.6L273.1 409.1L273.2 407.6L273.3 406.1L273.5 404.6L273.6 403.1L273.7 401.6L273.9 400.1L274.0 398.6L274.1 397.1L274.3 395.6L274.4 394.1L274.5 392.6L274.6 391.1L274.8 389.6L274.9 388.1L275.0 386.6L275.2 385.1L275.3 383.7L275.4 382.2L275.5 380.7L275.7 379.2L275.8 377.7L275.9 376.2L276.0 374.7L276.2 373.2L276.3 371.7L276.4 370.2L276.5 368.7L276.7 367.2L276.8 365.7L276.9 364.2L277.0 362.7L277.2 361.2L277.3 359.7L277.4 358.2L277.5 356.7L277.7 355.2L277.8 353.7L277.9 352.2L278.0 350.7L278.1 349.2L278.3 347.7L278.4 346.2L278.5 344.7L278.6 343.3L278.8 341.8L278.9 340.3L279.0 338.8L279.1 337.3L279.2 335.8L279.4 334.3L279.5 332.8L279.6 331.3L279.7 329.8L279.8 328.3L280.0 326.8L280.1 325.3L280.2 323.8L280.3 322.3L280.5 320.8L280.6 319.3L280.7 317.8L280.8 316.3L281.0 314.8L281.1 313.3L281.2 311.8L281.3 310.3L281.5 308.8L281.6 307.3L281.7 305.8L281.9 304.3L282.0 302.8L282.1 301.3L282.3 299.8L282.4 298.3L282.5 296.8L282.7 295.3L282.8 293.8L282.9 292.3L283.1 290.8L283.2 289.3L283.3 287.8L283.5 286.3L283.6 284.9L283.8 283.4L283.9 281.9L284.1 280.4L284.2 278.9L284.3 277.4L284.5 275.9L284.6 274.4L284.8 272.9L284.9 271.4L285.1 269.9L285.2 268.4L285.4 266.9L285.6 265.4L285.7 263.9L285.9 262.4L286.0 260.9L286.2 259.4L286.4 257.9L286.5 256.4L286.7 254.9L286.9 253.5L287.0 252.0L287.2 250.5L287.4 249.0L287.6 247.5L287.7 246.0L287.9 244.5L288.1 243.0L288.3 241.5L288.5 240.0L288.7 238.5L288.8 237.0L289.0 235.5L289.2 234.1L289.4 232.6L289.6 231.1L289.8 229.6L290.0 228.1L290.2 226.6L290.4 225.1L290.6 223.6L290.8 222.1L291.1 220.7L291.3 219.2L291.5 217.7L291.7 216.2L291.9 214.7L292.1 213.2L292.4 211.7L292.6 210.2L292.8 208.8L293.1 207.3L293.3 205.8L293.5 204.3L293.8 202.8L294.0 201.3L294.3 199.8L294.5 198.4L294.8 196.9L295.0 195.4L295.3 193.9L295.5 192.4L295.8 191.0L296.1 189.5L296.3 188.0L296.6 186.5L296.9 185.0L297.2 183.6L297.5 182.1L297.7 180.6L298.0 179.1L298.3 177.7L298.6 176.2L298.9 174.7L299.3 173.3L299.6 171.8L299.9 170.3L300.2 168.9L300.5 167.4L300.9 165.9L301.2 164.5L301.6 163.0L301.9 161.6L302.3 160.1L302.7 158.7L303.1 157.2L303.5 155.8L303.9 154.3L304.3 152.9L304.8 151.5L305.2 150.1L305.7 148.6L306.2 147.2L306.7 145.8L307.3 144.4L307.8 143.0L308.4 141.6L309.0 140.3L309.6 138.9L310.3 137.5L310.9 136.2L311.6 134.8L312.3 133.5L313.0 132.1L313.8 130.8L314.5 129.5L315.2 128.2L316.0 126.9L316.7 125.6L317.5 124.3L318.2 123.0L319.0 121.7L319.7 120.4L320.5 119.1L321.2 117.9L322.0 116.6L322.8 115.3L323.6 114.1L324.4 112.8L325.3 111.6L326.2 110.4L327.1 109.1L328.2 107.9L329.2 106.8L330.3 105.7L331.5 104.7L332.8 103.9L334.1 103.3L335.5 102.8L336.8 102.6L338.2 102.6L339.6 102.9L340.9 103.4L342.1 104.0L343.2 104.8L344.3 105.8L345.3 106.8L346.3 108.0L347.2 109.2L348.1 110.5L348.9 111.8L349.7 113.2L350.5 114.5L351.2 115.9L351.9 117.2L352.6 118.6L353.2 120.0L353.9 121.3L354.5 122.7L355.0 124.1L355.6 125.5L356.1 126.9L356.6 128.3L357.1 129.7L357.6 131.2L358.1 132.6L358.5 134.0L359.0 135.4L359.4 136.8L359.8 138.3L360.2 139.7L360.6 141.1L361.0 142.6L361.4 144.0L361.8 145.5L362.2 146.9L362.6 148.3L363.0 149.8L363.5 151.2L363.9 152.7L364.3 154.1L364.7 155.6L365.1 157.0L365.5 158.5L365.9 159.9L366.3 161.4L366.7 162.8L367.1 164.3L367.5 165.7L367.9 167.2L368.3 168.6L368.7 170.1L369.1 171.5L369.5 173.0L369.9 174.4L370.3 175.9L370.7 177.4L371.1 178.8L371.4 180.3L371.8 181.7L372.2 183.2L372.6 184.6L372.9 186.1L373.3 187.6L373.7 189.0L374.0 190.5L374.4 191.9L374.7 193.4L375.1 194.9L375.5 196.3L375.8 197.8L376.2 199.3L376.5 200.7L376.8 202.2L377.2 203.6L377.5 205.1L377.9 206.6L378.2 208.0L378.5 209.5L378.9 211.0L379.2 212.4L379.5 213.9L379.9 215.4L380.2 216.8L380.5 218.3L380.8 219.7L381.2 221.2L381.5 222.7L381.8 224.1L382.1 225.6L382.5 227.1L382.8 228.5L383.1 230.0L383.4 231.5L383.7 232.9L384.1 234.4L384.4 235.9L384.7 237.3L385.0 238.8L385.3 240.3L385.7 241.7L386.0 243.2L386.3 244.7L386.6 246.1L386.9 247.6L387.2 249.1L387.6 250.5L387.9 252.0L388.2 253.5L388.5 254.9L388.8 256.4L389.2 257.9L389.5 259.3L389.8 260.8L390.1 262.3L390.5 263.7L390.8 265.2L391.1 266.6L391.4 268.1L391.8 269.6L392.1 271.0L392.4 272.5L392.7 274.0L393.1 275.4L393.4 276.9L393.7 278.4L394.0 279.8L394.4 281.3L394.7 282.8L395.0 284.2L395.4 285.7L395.7 287.2L396.0 288.6L396.4 290.1L396.7 291.5L397.0 293.0L397.4 294.5L397.7 295.9L398.1 297.4L398.4 298.9L398.7 300.3L399.1 301.8L399.4 303.2L399.8 304.7L400.1 306.2L400.5 307.6L400.8 309.1L401.1 310.5L401.5 312.0L401.8 313.5L402.2 314.9L402.5 316.4L402.9 317.8L403.2 319.3L403.6 320.8L404.0 322.2L404.3 323.7L404.7 325.1L405.0 326.6L405.4 328.1L405.7 329.5L406.1 331.0L406.5 332.4L406.8 333.9L407.2 335.3L407.6 336.8L407.9 338.3L408.3 339.7L408.7 341.2L409.1 342.6L409.4 344.1L409.8 345.5L410.2 347.0L410.6 348.4L410.9 349.9L411.3 351.4L411.7 352.8L412.1 354.3L412.5 355.7L412.8 357.2L413.2 358.6L413.6 360.1L414.0 361.5L414.4 363.0L414.8 364.4L415.2 365.9L415.6 367.3L416.0 368.8L416.4 370.2L416.8 371.7L417.2 373.1L417.6 374.6L418.0 376.0L418.4 377.5L418.8 378.9L419.2 380.3L419.6 381.8L420.1 383.2L420.5 384.7L420.9 386.1L421.3 387.6L421.7 389.0L422.2 390.5L422.6 391.9L423.0 393.3L423.4 394.8L423.9 396.2L424.3 397.7L424.7 399.1L425.2 400.6L425.6 402.0L426.1 403.4L426.5 404.9L426.9 406.3L427.4 407.7L427.8 409.2L428.3 410.6L428.8 412.1L429.2 413.5L429.7 414.9L430.1 416.4L430.6 417.8L431.1 419.2L431.5 420.7L432.0 422.1L432.5 423.5L432.9 424.9L433.4 426.4L433.9 427.8L434.4 429.2L434.9 430.7L435.3 432.1L435.8 433.5L436.3 434.9L436.8 436.3L437.3 437.8L437.8 439.2L438.3 440.6L438.8 442.0L439.3 443.4L439.9 444.9L440.4 446.3L440.9 447.7L441.4 449.1L441.9 450.5L442.5 451.9L443.0 453.3L443.5 454.7L444.1 456.1L444.6 457.5L445.1 458.9L445.7 460.3L446.2 461.7L446.8 463.1L447.3 464.5L447.9 465.9L448.5 467.3L449.0 468.7L449.6 470.1L450.2 471.5L450.7 472.9L451.3 474.3L451.9 475.7L452.5 477.0L453.1 478.4L453.7 479.8L454.3 481.2L454.9 482.6L455.5 483.9L456.1 485.3L456.7 486.7L457.3 488.0L457.9 489.4L458.5 490.8L459.2 492.1L459.8 493.5L460.4 494.9L461.1 496.2L461.7 497.6L462.4 498.9L463.0 500.3L463.7 501.6L464.3 503.0L465.0 504.3L465.7 505.7L466.3 507.0L467.0 508.4L467.7 509.7L468.4 511.0L469.1 512.4L469.8 513.7L470.5 515.0L471.2 516.4L471.9 517.7L472.6 519.0L473.3 520.3L474.0 521.6L474.7 523.0L475.5 524.3L476.2 525.6L476.9 526.9L477.7 528.2L478.4 529.5L479.2 530.8L479.9 532.1L480.7 533.4L481.4 534.7L482.2 536.0L483.0 537.3L483.8 538.6L484.6 539.8L485.4 541.1L486.2 542.4L487.0 543.7L487.8 544.9L488.6 546.2L489.4 547.5L490.2 548.7L491.1 550.0L491.9 551.2L492.8 552.5L493.6 553.7L494.5 554.9L495.3 556.1L496.2 557.4L497.1 558.6L498.0 559.8L498.9 561.0L499.8 562.2L500.7 563.4L501.7 564.5L502.6 565.7L503.5 566.9L504.5 568.0L505.5 569.2L506.4 570.3L507.4 571.4L508.4 572.5L509.4 573.6L510.5 574.7L511.5 575.8L512.6 576.9L513.7 577.9L514.8 578.9L515.9 579.9L517.0 580.9L518.1 581.9L519.2 582.9L520.4 583.9L521.5 584.9L522.6 585.9L523.8 586.9L524.9 587.9L526.0 588.9L527.2 589.9L528.3 590.8L529.4 591.8L530.6 592.8L531.7 593.8L532.8 594.8L534.0 595.8L535.1 596.8L536.2 597.8L537.4 598.7L538.5 599.7L539.7 600.7L540.9 601.6L542.0 602.6L543.2 603.5L544.4 604.4L545.6 605.3L546.8 606.2L548.0 607.1L549.2 607.9L550.5 608.8L551.7 609.6L553.0 610.4L554.3 611.2L555.5 612.0L556.8 612.7L558.2 613.5L559.5 614.2L560.8 614.9L562.1 615.6L563.5 616.3L564.9 616.9L566.2 617.5L567.6 618.1L569.0 618.7L570.4 619.3L571.8 619.8L573.2 620.3L574.6 620.8L576.0 621.3L577.5 621.8L578.9 622.2L580.3 622.6" stroke="#0E8080" stroke-width="2.15"/>
<path d="M281.4 616.4L282.9 615.8L284.2 615.0L285.4 614.1L286.4 613.0L287.4 611.9L288.2 610.7L289.0 609.5L289.7 608.2L290.4 606.8L291.0 605.4L291.6 604.1L292.1 602.7L292.7 601.3L293.2 599.8L293.7 598.4L294.2 597.0L294.7 595.6L295.1 594.1L295.5 592.7L295.9 591.2L296.3 589.8L296.7 588.3L297.1 586.8L297.4 585.4L297.7 583.9L298.1 582.4L298.4 581.0L298.6 579.5L298.9 578.0L299.2 576.6L299.4 575.1L299.7 573.6L299.9 572.1L300.1 570.6L300.4 569.1L300.6 567.7L300.8 566.2L301.0 564.7L301.2 563.2L301.4 561.7L301.6 560.2L301.7 558.7L301.9 557.2L302.1 555.7L302.3 554.2L302.5 552.8L302.6 551.3L302.8 549.8L303.0 548.3L303.2 546.8L303.3 545.3L303.5 543.8L303.7 542.3L303.8 540.8L304.0 539.3L304.2 537.8L304.3 536.3L304.5 534.8L304.7 533.3L304.8 531.8L305.0 530.4L305.1 528.9L305.3 527.4L305.4 525.9L305.6 524.4L305.7 522.9L305.9 521.4L306.0 519.9L306.2 518.4L306.3 516.9L306.5 515.4L306.6 513.9L306.8 512.4L306.9 510.9L307.1 509.4L307.2 507.9L307.4 506.4L307.5 504.9L307.7 503.4L307.8 501.9L307.9 500.4L308.1 498.9L308.2 497.4L308.4 495.9L308.5 494.4L308.7 493.0L308.8 491.5L308.9 490.0L309.1 488.5L309.2 487.0L309.4 485.5L309.5 484.0L309.6 482.5L309.8 481.0L309.9 479.5L310.1 478.0L310.2 476.5L310.3 475.0L310.5 473.5L310.6 472.0L310.8 470.5L310.9 469.0L311.0 467.5L311.2 466.0L311.3 464.5L311.5 463.0L311.6 461.5L311.7 460.0L311.9 458.5L312.0 457.0L312.1 455.5L312.3 454.1L312.4 452.6L312.6 451.1L312.7 449.6L312.8 448.1L313.0 446.6L313.1 445.1L313.2 443.6L313.4 442.1L313.5 440.6L313.6 439.1L313.8 437.6L313.9 436.1L314.0 434.6L314.2 433.1L314.3 431.6L314.4 430.1L314.5 428.6L314.7 427.1L314.8 425.6L314.9 424.1L315.1 422.6L315.2 421.1L315.3 419.6L315.4 418.1L315.6 416.6L315.7 415.1L315.8 413.7L315.9 412.2L316.1 410.7L316.2 409.2L316.3 407.7L316.4 406.2L316.5 404.7L316.7 403.2L316.8 401.7L316.9 400.2L317.0 398.7L317.1 397.2L317.3 395.7L317.4 394.2L317.5 392.7L317.6 391.2L317.7 389.7L317.8 388.2L317.9 386.7L318.0 385.2L318.2 383.7L318.3 382.2L318.4 380.7L318.5 379.2L318.6 377.7L318.7 376.2L318.8 374.7L318.9 373.2L319.0 371.7L319.1 370.2L319.2 368.7L319.3 367.2L319.4 365.7L319.5 364.2L319.6 362.7L319.7 361.2L319.8 359.7L319.9 358.2L320.0 356.7L320.1 355.2L320.2 353.7L320.3 352.2L320.4 350.7L320.4 349.2L320.5 347.7L320.6 346.2L320.7 344.7L320.8 343.2L320.9 341.7L321.0 340.2L321.0 338.7L321.1 337.2L321.2 335.7L321.3 334.2L321.4 332.7L321.4 331.2L321.5 329.7L321.6 328.2L321.7 326.7L321.7 325.2L321.8 323.7L321.9 322.2L322.0 320.7L322.1 319.2L322.1 317.7L322.2 316.2L322.3 314.7L322.4 313.2L322.4 311.7L322.5 310.1L322.6 308.6L322.6 307.1L322.7 305.6L322.8 304.1L322.9 302.6L322.9 301.1L323.0 299.6L323.1 298.1L323.2 296.6L323.2 295.1L323.3 293.6L323.4 292.1L323.5 290.6L323.5 289.1L323.6 287.6L323.7 286.1L323.8 284.6L323.8 283.1L323.9 281.6L324.0 280.1L324.1 278.6L324.1 277.1L324.2 275.6L324.3 274.1L324.4 272.6L324.4 271.1L324.5 269.6L324.6 268.1L324.7 266.6L324.8 265.1L324.8 263.6L324.9 262.1L325.0 260.6L325.1 259.1L325.2 257.6L325.3 256.1L325.4 254.6L325.4 253.1L325.5 251.6L325.6 250.1L325.7 248.6L325.8 247.1L325.9 245.6L326.0 244.1L326.1 242.6L326.2 241.1L326.3 239.6L326.4 238.1L326.5 236.6L326.6 235.1L326.7 233.6L326.8 232.1L326.9 230.6L327.0 229.1L327.1 227.6L327.2 226.1L327.3 224.6L327.5 223.1L327.6 221.6L327.7 220.1L327.8 218.6L327.9 217.1L328.0 215.6L328.2 214.1L328.3 212.6L328.4 211.1L328.6 209.6L328.7 208.1L328.8 206.6L328.9 205.1L329.1 203.6L329.2 202.1L329.4 200.6L329.5 199.1L329.6 197.6L329.8 196.2L329.9 194.7L330.1 193.2L330.2 191.7L330.3 190.2L330.5 188.7L330.6 187.2L330.8 185.7L330.9 184.2L331.1 182.7L331.2 181.2L331.4 179.7L331.5 178.2L331.6 176.7L331.8 175.2L331.9 173.7L332.1 172.2L332.2 170.7L332.4 169.2L332.5 167.7L332.7 166.2L332.8 164.7L333.0 163.2L333.1 161.7L333.3 160.2L333.4 158.7L333.6 157.2L333.7 155.7L333.9 154.3L334.1 152.8L334.2 151.3L334.4 149.8L334.5 148.3L334.7 146.8L334.9 145.3L335.0 143.8L335.2 142.3L335.4 140.8L335.5 139.3L335.7 137.8L335.9 136.4L336.1 134.9L336.2 133.4L336.4 131.9L336.6 130.4L336.8 128.9L337.0 127.4L337.2 125.9L337.4 124.4L337.6 123.0L337.8 121.5L338.0 120.0L338.3 118.5L338.5 117.0L338.7 115.5L338.9 114.0L339.2 112.5L339.4 111.0L339.7 109.5L340.0 108.0L340.3 106.5L340.8 105.0L341.3 103.6L342.0 102.1L342.8 100.9L343.8 100.5L344.9 101.0L345.9 101.9L346.8 103.0L347.5 104.1L348.1 105.4L348.5 106.7L348.9 108.1L349.2 109.5L349.5 111.0L349.8 112.5L350.0 114.0L350.2 115.5L350.4 117.0L350.7 118.5L350.9 120.0L351.1 121.5L351.4 123.0L351.6 124.5L351.8 126.0L352.0 127.5L352.2 129.0L352.5 130.5L352.7 132.0L352.9 133.5L353.1 135.0L353.3 136.5L353.5 138.0L353.8 139.5L354.0 141.0L354.2 142.5L354.4 144.0L354.6 145.4L354.8 146.9L355.0 148.4L355.2 149.9L355.4 151.4L355.6 152.9L355.9 154.4L356.1 155.9L356.3 157.4L356.5 158.9L356.7 160.3L356.9 161.8L357.1 163.3L357.3 164.8L357.5 166.3L357.7 167.8L357.9 169.3L358.1 170.7L358.3 172.2L358.5 173.7L358.6 175.2L358.8 176.7L359.0 178.2L359.2 179.7L359.4 181.1L359.6 182.6L359.8 184.1L360.0 185.6L360.2 187.1L360.4 188.6L360.6 190.0L360.7 191.5L360.9 193.0L361.1 194.5L361.3 196.0L361.5 197.5L361.7 198.9L361.9 200.4L362.1 201.9L362.2 203.4L362.4 204.9L362.6 206.4L362.8 207.8L363.0 209.3L363.1 210.8L363.3 212.3L363.5 213.8L363.7 215.3L363.9 216.8L364.1 218.2L364.2 219.7L364.4 221.2L364.6 222.7L364.8 224.2L364.9 225.7L365.1 227.1L365.3 228.6L365.5 230.1L365.7 231.6L365.8 233.1L366.0 234.6L366.2 236.1L366.4 237.6L366.5 239.0L366.7 240.5L366.9 242.0L367.1 243.5L367.2 245.0L367.4 246.5L367.6 248.0L367.7 249.5L367.9 251.0L368.1 252.5L368.3 253.9L368.4 255.4L368.6 256.9L368.8 258.4L369.0 259.9L369.1 261.4L369.3 262.9L369.5 264.4L369.6 265.9L369.8 267.4L370.0 268.9L370.2 270.4L370.3 271.9L370.5 273.4L370.7 274.9L370.9 276.4L371.0 277.9L371.2 279.4L371.4 280.9L371.5 282.4L371.7 283.9L371.9 285.4L372.1 286.9L372.2 288.4L372.4 289.9L372.6 291.4L372.8 292.9L372.9 294.4L373.1 295.9L373.3 297.4L373.5 298.9L373.6 300.4L373.8 301.9L374.0 303.4L374.2 304.9L374.3 306.4L374.5 307.9L374.7 309.4L374.9 310.9L375.0 312.4L375.2 313.9L375.4 315.4L375.6 316.9L375.8 318.4L375.9 319.9L376.1 321.4L376.3 322.9L376.5 324.4L376.7 325.9L376.9 327.4L377.0 328.9L377.2 330.4L377.4 331.9L377.6 333.4L377.8 334.9L378.0 336.4L378.2 337.9L378.4 339.4L378.5 340.9L378.7 342.4L378.9 343.9L379.1 345.4L379.3 346.9L379.5 348.4L379.7 349.9L379.9 351.4L380.1 352.8L380.3 354.3L380.5 355.8L380.7 357.3L380.9 358.8L381.1 360.3L381.3 361.8L381.5 363.3L381.7 364.8L381.9 366.3L382.1 367.8L382.3 369.3L382.5 370.8L382.7 372.3L382.9 373.8L383.2 375.3L383.4 376.8L383.6 378.2L383.8 379.7L384.0 381.2L384.2 382.7L384.4 384.2L384.7 385.7L384.9 387.2L385.1 388.7L385.3 390.2L385.5 391.6L385.8 393.1L386.0 394.6L386.2 396.1L386.5 397.6L386.7 399.1L386.9 400.6L387.2 402.0L387.4 403.5L387.6 405.0L387.9 406.5L388.1 408.0L388.4 409.4L388.6 410.9L388.9 412.4L389.1 413.9L389.4 415.3L389.6 416.8L389.9 418.3L390.2 419.8L390.4 421.2L390.7 422.7L391.0 424.2L391.2 425.7L391.5 427.1L391.8 428.6L392.1 430.1L392.4 431.5L392.7 433.0L393.0 434.5L393.3 435.9L393.6 437.4L393.9 438.9L394.2 440.3L394.5 441.8L394.8 443.3L395.1 444.7L395.5 446.2L395.8 447.6L396.1 449.1L396.5 450.5L396.8 452.0L397.2 453.5L397.5 454.9L397.9 456.4L398.3 457.8L398.6 459.3L399.0 460.7L399.4 462.2L399.8 463.6L400.1 465.1L400.5 466.5L400.9 468.0L401.3 469.4L401.7 470.9L402.2 472.3L402.6 473.7L403.0 475.2L403.4 476.6L403.8 478.1L404.3 479.5L404.7 480.9L405.2 482.4L405.6 483.8L406.0 485.2L406.5 486.7L407.0 488.1L407.4 489.5L407.9 491.0L408.4 492.4L408.8 493.8L409.3 495.2L409.8 496.7L410.3 498.1L410.8 499.5L411.3 500.9L411.8 502.3L412.2 503.8L412.8 505.2L413.3 506.6L413.8 508.0L414.3 509.4L414.8 510.8L415.3 512.3L415.8 513.7L416.4 515.1L416.9 516.5L417.4 517.9L418.0 519.3L418.5 520.7L419.0 522.1L419.6 523.5L420.1 524.9L420.7 526.3L421.2 527.7L421.8 529.1L422.4 530.5L422.9 531.9L423.5 533.3L424.1 534.6L424.7 536.0L425.3 537.4L425.8 538.8L426.4 540.2L427.0 541.5L427.7 542.9L428.3 544.3L428.9 545.7L429.5 547.0L430.1 548.4L430.8 549.7L431.4 551.1L432.1 552.4L432.7 553.8L433.4 555.1L434.1 556.5L434.8 557.8L435.5 559.1L436.2 560.5L436.9 561.8L437.6 563.1L438.3 564.4L439.0 565.7L439.8 567.0L440.5 568.3L441.3 569.6L442.0 570.9L442.8 572.2L443.6 573.5L444.4 574.8L445.2 576.0L446.0 577.3L446.8 578.6L447.7 579.8L448.5 581.1L449.4 582.3L450.3 583.6L451.1 584.8L452.0 586.0L452.9 587.2L453.9 588.4L454.8 589.6L455.7 590.8L456.7 591.9L457.7 593.1L458.7 594.2L459.7 595.3L460.7 596.4L461.7 597.5L462.8 598.6L463.8 599.6L464.9 600.7L466.0 601.7L467.1 602.7L468.2 603.7L469.4 604.6L470.6 605.5L471.7 606.5L472.9 607.4L474.2 608.3L475.4 609.1L476.6 610.0L477.9 610.8L479.1 611.6L480.4 612.4L481.7 613.2L483.0 614.0L484.3 614.7L485.6 615.4L486.9 616.2L488.3 616.9L489.6 617.6L490.9 618.2L492.3 618.9L493.6 619.6" stroke="#00B050" stroke-width="2.05"/>
<path d="M316.1 631.2L317.6 631.3L319.1 631.2L320.6 631.1L322.1 630.8L323.6 630.4L325.0 630.0L326.4 629.4L327.7 628.7L329.0 628.0L330.3 627.2L331.5 626.2L332.6 625.3L333.7 624.2L334.7 623.2L335.7 622.0L336.5 620.8L337.4 619.6L338.1 618.3L338.8 617.0L339.4 615.7L340.0 614.4L340.6 613.0L341.1 611.6L341.6 610.1L342.1 608.7L342.5 607.2L342.9 605.8L343.3 604.3L343.7 602.9L344.1 601.4L344.5 599.9L344.9 598.5L345.3 597.0L345.6 595.5L346.0 594.1L346.3 592.6L346.7 591.1L347.0 589.7L347.3 588.2L347.6 586.7L348.0 585.3L348.3 583.8L348.6 582.3L348.9 580.9L349.2 579.4L349.4 577.9L349.7 576.4L350.0 575.0L350.3 573.5L350.5 572.0L350.8 570.6L351.0 569.1L351.3 567.6L351.6 566.1L351.8 564.6L352.0 563.2L352.3 561.7L352.5 560.2L352.7 558.7L353.0 557.2L353.2 555.8L353.4 554.3L353.7 552.8L353.9 551.3L354.1 549.8L354.3 548.3L354.5 546.9L354.7 545.4L354.9 543.9L355.1 542.4L355.3 540.9L355.5 539.4L355.7 537.9L355.9 536.4L356.1 535.0L356.3 533.5L356.5 532.0L356.7 530.5L356.8 529.0L357.0 527.5L357.2 526.0L357.4 524.5L357.5 523.0L357.7 521.5L357.9 520.0L358.1 518.5L358.2 517.1L358.4 515.6L358.5 514.1L358.7 512.6L358.9 511.1L359.0 509.6L359.2 508.1L359.3 506.6L359.5 505.1L359.6 503.6L359.8 502.1L360.0 500.6L360.1 499.1L360.2 497.6L360.4 496.1L360.5 494.6L360.7 493.1L360.8 491.6L361.0 490.1L361.1 488.6L361.3 487.1L361.4 485.6L361.5 484.2L361.7 482.7L361.8 481.2L362.0 479.7L362.1 478.2L362.2 476.7L362.4 475.2L362.5 473.7L362.7 472.2L362.8 470.7L362.9 469.2L363.1 467.7L363.2 466.2L363.3 464.7L363.5 463.2L363.6 461.7L363.7 460.2L363.9 458.7L364.0 457.2L364.1 455.7L364.3 454.2L364.4 452.7L364.5 451.2L364.7 449.7L364.8 448.3L364.9 446.8L365.1 445.3L365.2 443.8L365.3 442.3L365.4 440.8L365.6 439.3L365.7 437.8L365.8 436.3L366.0 434.8L366.1 433.3L366.2 431.8L366.3 430.3L366.5 428.8L366.6 427.3L366.7 425.8L366.8 424.3L367.0 422.8L367.1 421.3L367.2 419.8L367.3 418.4L367.5 416.9L367.6 415.4L367.7 413.9L367.8 412.4L368.0 410.9L368.1 409.4L368.2 407.9L368.3 406.4L368.4 404.9L368.6 403.4L368.7 401.9L368.8 400.4L368.9 398.9L369.0 397.4L369.2 395.9L369.3 394.4L369.4 392.9L369.5 391.4L369.6 390.0L369.7 388.5L369.9 387.0L370.0 385.5L370.1 384.0L370.2 382.5L370.3 381.0L370.4 379.5L370.6 378.0L370.7 376.5L370.8 375.0L370.9 373.5L371.0 372.0L371.1 370.5L371.2 369.0L371.3 367.5L371.5 366.0L371.6 364.5L371.7 363.0L371.8 361.5L371.9 360.0L372.0 358.5L372.1 357.1L372.2 355.6L372.3 354.1L372.4 352.6L372.6 351.1L372.7 349.6L372.8 348.1L372.9 346.6L373.0 345.1L373.1 343.6L373.2 342.1L373.3 340.6L373.4 339.1L373.5 337.6L373.6 336.1L373.7 334.6L373.8 333.1L373.9 331.6L374.0 330.1L374.1 328.6L374.2 327.1L374.3 325.6L374.4 324.1L374.5 322.6L374.6 321.1L374.7 319.6L374.8 318.1L374.9 316.6L375.0 315.1L375.1 313.6L375.2 312.1L375.3 310.6L375.4 309.1L375.5 307.6L375.6 306.1L375.7 304.6L375.8 303.1L375.9 301.6L376.0 300.1L376.1 298.6L376.2 297.1L376.3 295.6L376.4 294.1L376.5 292.6L376.6 291.1L376.7 289.6L376.8 288.1L376.9 286.6L377.0 285.1L377.1 283.6L377.2 282.1L377.3 280.6L377.3 279.1L377.4 277.6L377.5 276.1L377.6 274.6L377.7 273.1L377.8 271.6L377.9 270.1L378.0 268.6L378.1 267.1L378.2 265.6L378.3 264.1L378.4 262.6L378.5 261.1L378.6 259.6L378.7 258.1L378.8 256.6L378.9 255.1L379.0 253.6L379.1 252.1L379.2 250.6L379.3 249.1L379.4 247.6L379.5 246.1L379.6 244.6L379.7 243.1L379.8 241.6L379.9 240.1L380.0 238.6L380.1 237.1L380.2 235.6L380.3 234.1L380.4 232.6L380.5 231.1L380.6 229.6L380.7 228.1L380.8 226.6L381.0 225.1L381.1 223.6L381.2 222.1L381.3 220.6L381.4 219.1L381.5 217.6L381.6 216.1L381.8 214.6L381.9 213.1L382.0 211.6L382.1 210.1L382.2 208.6L382.4 207.1L382.5 205.6L382.6 204.1L382.7 202.6L382.9 201.1L383.0 199.6L383.1 198.1L383.3 196.6L383.4 195.1L383.5 193.6L383.7 192.1L383.8 190.6L384.0 189.1L384.1 187.6L384.2 186.1L384.4 184.6L384.5 183.1L384.7 181.6L384.8 180.1L385.0 178.6L385.1 177.1L385.3 175.6L385.4 174.2L385.6 172.7L385.8 171.2L385.9 169.7L386.1 168.2L386.3 166.7L386.4 165.2L386.6 163.7L386.8 162.2L386.9 160.7L387.1 159.2L387.3 157.8L387.5 156.3L387.7 154.8L387.8 153.3L388.0 151.8L388.2 150.3L388.4 148.8L388.6 147.3L388.8 145.9L389.0 144.4L389.2 142.9L389.4 141.4L389.6 139.9L389.8 138.4L390.0 136.9L390.2 135.5L390.4 134.0L390.6 132.5L390.9 131.0L391.1 129.5L391.3 128.0L391.5 126.6L391.8 125.1L392.0 123.6L392.2 122.1L392.5 120.7L392.8 119.2L393.1 117.7L393.4 116.2L393.7 114.7L394.1 113.3L394.5 111.8L394.9 110.3L395.4 108.8L395.9 107.3L396.5 105.9L397.1 104.4L397.8 103.0L398.6 101.8L399.7 100.9L400.8 100.4L401.9 100.4L403.0 100.8L404.0 101.7L405.0 102.8L405.9 104.1L406.7 105.4L407.4 106.7L408.1 108.1L408.6 109.4L409.2 110.8L409.6 112.3L410.1 113.7L410.5 115.2L410.8 116.6L411.2 118.1L411.5 119.6L411.8 121.1L412.1 122.6L412.4 124.0L412.7 125.5L413.1 127.0L413.4 128.5L413.7 129.9L414.0 131.4L414.4 132.9L414.7 134.3L415.0 135.8L415.4 137.3L415.7 138.7L416.1 140.2L416.4 141.6L416.7 143.1L417.0 144.6L417.4 146.0L417.7 147.5L418.0 149.0L418.3 150.4L418.6 151.9L419.0 153.4L419.3 154.8L419.6 156.3L419.9 157.8L420.2 159.2L420.5 160.7L420.8 162.2L421.1 163.7L421.4 165.1L421.6 166.6L421.9 168.1L422.2 169.5L422.5 171.0L422.8 172.5L423.1 174.0L423.3 175.4L423.6 176.9L423.9 178.4L424.2 179.9L424.4 181.3L424.7 182.8L425.0 184.3L425.2 185.8L425.5 187.3L425.7 188.7L426.0 190.2L426.3 191.7L426.5 193.2L426.8 194.7L427.0 196.2L427.3 197.6L427.5 199.1L427.8 200.6L428.0 202.1L428.2 203.6L428.5 205.1L428.7 206.5L429.0 208.0L429.2 209.5L429.4 211.0L429.7 212.5L429.9 214.0L430.1 215.5L430.4 217.0L430.6 218.4L430.8 219.9L431.1 221.4L431.3 222.9L431.5 224.4L431.7 225.9L432.0 227.4L432.2 228.9L432.4 230.4L432.6 231.9L432.9 233.4L433.1 234.9L433.3 236.3L433.5 237.8L433.8 239.3L434.0 240.8L434.2 242.3L434.4 243.8L434.6 245.3L434.9 246.8L435.1 248.3L435.3 249.8L435.5 251.3L435.8 252.8L436.0 254.3L436.2 255.8L436.4 257.2L436.7 258.7L436.9 260.2L437.1 261.7L437.4 263.2L437.6 264.7L437.8 266.2L438.1 267.7L438.3 269.2L438.5 270.7L438.8 272.1L439.0 273.6L439.3 275.1L439.5 276.6L439.7 278.1L440.0 279.6L440.2 281.0L440.5 282.5L440.8 284.0L441.0 285.5L441.3 287.0L441.5 288.4L441.8 289.9L442.1 291.4L442.4 292.9L442.6 294.3L442.9 295.8L443.2 297.3L443.5 298.8L443.8 300.2L444.1 301.7L444.4 303.2L444.7 304.6L445.0 306.1L445.3 307.5L445.6 309.0L445.9 310.5L446.2 311.9L446.5 313.4L446.9 314.8L447.2 316.3L447.5 317.7L447.9 319.2L448.2 320.6L448.6 322.1L448.9 323.5L449.3 325.0L449.6 326.4L450.0 327.9L450.3 329.3L450.7 330.7L451.1 332.2L451.4 333.6L451.8 335.1L452.2 336.5L452.6 337.9L452.9 339.4L453.3 340.8L453.7 342.2L454.1 343.7L454.5 345.1L454.9 346.5L455.3 348.0L455.7 349.4L456.1 350.8L456.5 352.3L456.9 353.7L457.3 355.1L457.7 356.6L458.1 358.0L458.5 359.4L458.9 360.9L459.3 362.3L459.7 363.7L460.1 365.1L460.6 366.6L461.0 368.0L461.4 369.4L461.8 370.9L462.2 372.3L462.6 373.7L463.1 375.2L463.5 376.6L463.9 378.0L464.3 379.5L464.7 380.9L465.1 382.3L465.6 383.8L466.0 385.2L466.4 386.6L466.8 388.1L467.2 389.5L467.7 391.0L468.1 392.4L468.5 393.8L468.9 395.3L469.3 396.7L469.7 398.2L470.2 399.6L470.6 401.0L471.0 402.5L471.4 403.9L471.8 405.4L472.2 406.8L472.6 408.3L473.0 409.7L473.5 411.2L473.9 412.6L474.3 414.1L474.7 415.5L475.1 417.0L475.5 418.4L476.0 419.9L476.4 421.3L476.8 422.8L477.2 424.2L477.6 425.7L478.0 427.1L478.5 428.6L478.9 430.0L479.3 431.5L479.7 432.9L480.2 434.4L480.6 435.8L481.0 437.3L481.5 438.7L481.9 440.2L482.3 441.6L482.8 443.1L483.2 444.5L483.6 446.0L484.1 447.4L484.5 448.9L485.0 450.3L485.4 451.7L485.8 453.2L486.3 454.6L486.8 456.1L487.2 457.5L487.7 459.0L488.1 460.4L488.6 461.8L489.1 463.3L489.5 464.7L490.0 466.1L490.5 467.6L490.9 469.0L491.4 470.4L491.9 471.9L492.4 473.3L492.9 474.7L493.4 476.2L493.9 477.6L494.4 479.0L494.9 480.4L495.4 481.8L495.9 483.3L496.4 484.7L496.9 486.1L497.4 487.5L497.9 488.9L498.5 490.3L499.0 491.7L499.5 493.1L500.1 494.5L500.6 495.9L501.2 497.4L501.7 498.7L502.3 500.1L502.8 501.5L503.4 502.9L504.0 504.3L504.5 505.7L505.1 507.1L505.7 508.5L506.3 509.9L506.9 511.2L507.5 512.6L508.1 514.0L508.7 515.4L509.3 516.7L509.9 518.1L510.5 519.5L511.1 520.8L511.8 522.2L512.4 523.5L513.1 524.9L513.7 526.2L514.4 527.6L515.0 528.9L515.7 530.3L516.4 531.6L517.0 532.9L517.7 534.3L518.4 535.6L519.1 536.9L519.8 538.2L520.5 539.6L521.2 540.9L522.0 542.2L522.7 543.5L523.4 544.8L524.2 546.1L524.9 547.4L525.7 548.7L526.4 550.0L527.2 551.3L528.0 552.5L528.8 553.8L529.6 555.1L530.3 556.4L531.2 557.6L532.0 558.9L532.8 560.2L533.6 561.4L534.4 562.7L535.3 563.9L536.1 565.2L536.9 566.4L537.8 567.7L538.6 568.9L539.5 570.2L540.3 571.4L541.2 572.7L542.1 573.9L542.9 575.1L543.8 576.4L544.7 577.6L545.5 578.8L546.4 580.0L547.3 581.2L548.3 582.4L549.2 583.6L550.1 584.8L551.1 585.9L552.0 587.1L553.0 588.2L554.0 589.3L555.1 590.4L556.1 591.5L557.2 592.5L558.2 593.5L559.3 594.6L560.4 595.6L561.6 596.6L562.7 597.5L563.9 598.5L565.1 599.4L566.2 600.3L567.4 601.2L568.7 602.1L569.9 602.9L571.1 603.8L572.4 604.6L573.7 605.4L574.9 606.2L576.2 607.0L577.5 607.7L578.8 608.4L580.2 609.2L581.5 609.8L582.8 610.5L584.2 611.2L585.5 611.8L586.9 612.4L588.3 613.0L589.7 613.6L591.0 614.2L592.4 614.7L593.8 615.3L595.2 615.8L596.7 616.3L598.1 616.8L599.5 617.3L600.9 617.7L602.3 618.2L603.8 618.6L605.2 619.0L606.7 619.4L608.1 619.9L609.6 620.2L611.0 620.6L612.5 621.0L613.9 621.4L615.4 621.7L616.9 622.1L618.3 622.4L619.8 622.8L621.3 623.1L622.7 623.4L624.2 623.7L625.7 624.1L627.2 624.4L628.6 624.7L630.1 625.0L631.6 625.3L633.1 625.6L634.5 625.9L636.0 626.2L637.5 626.5L639.0 626.7L640.4 627.0L641.9 627.3L643.4 627.6L644.9 627.8L646.4 628.1L647.8 628.3L649.3 628.6L650.8 628.8L652.3 629.1L653.8 629.3L655.2 629.5L656.7 629.8L658.2 630.0L659.7 630.2L661.2 630.4L662.7 630.6L664.1 630.8L665.6 631.0L667.1 631.2L668.6 631.4L670.1 631.5L671.6 631.7L673.1 631.9L674.6 632.0L676.1 632.2L677.5 632.3L679.0 632.5L680.5 632.6L682.0 632.7L683.5 632.9L685.0 633.0L686.5 633.1L688.0 633.2L689.5 633.3L691.0 633.4L692.5 633.5L694.0 633.6L695.5 633.7L697.0 633.8L698.5 633.9L700.0 634.0L701.5 634.1L703.0 634.1L704.5 634.2L706.0 634.3L707.5 634.3L709.0 634.4L710.5 634.4L712.0 634.5L713.5 634.5L715.0 634.6L716.5 634.6L718.0 634.7L719.5 634.7L721.0 634.8L722.5 634.8L724.0 634.8L725.5 634.9L727.0 634.9L728.5 634.9L730.0 634.9L731.5 635.0L733.0 635.0L734.6 635.0L736.1 635.0L737.6 635.0L739.1 635.1L740.6 635.1L742.1 635.1L743.6 635.1L745.1 635.1L746.6 635.1L748.1 635.1L749.6 635.1L751.1 635.2L752.6 635.2L754.1 635.2L755.6 635.2L757.1 635.2L758.6 635.2L760.1 635.2L761.6 635.2L763.1 635.2L764.6 635.2L766.1 635.2L767.6 635.3L769.1 635.3L770.6 635.3L772.1 635.3L773.6 635.3L775.1 635.3L776.6 635.3L778.1 635.3L779.6 635.3L781.1 635.3L782.6 635.3L784.1 635.4L785.6 635.4L787.1 635.4L788.6 635.4L790.1 635.4L791.6 635.4L793.1 635.4L794.6 635.4L796.1 635.4L797.6 635.4L799.1 635.4L800.6 635.4L802.1 635.4L803.6 635.4L805.1 635.4L806.6 635.4L808.1 635.4L809.6 635.4L811.1 635.4L812.6 635.5L814.1 635.5L815.6 635.5L817.1 635.5L818.6 635.5L820.1 635.5L821.7 635.5L823.2 635.5L824.7 635.5L826.2 635.5L827.7 635.4L829.2 635.4L830.7 635.4L832.2 635.4L833.7 635.4L835.2 635.4L836.7 635.4L838.2 635.4L839.7 635.4L841.2 635.4L842.7 635.4L844.2 635.4" stroke="#00A651" stroke-width="2.05"/>
<path d="M316.1 631.8L317.6 632.0L319.1 632.1L320.6 632.2L322.1 632.1L323.6 632.0L325.1 631.8L326.5 631.5L328.0 631.2L329.4 630.9L330.9 630.5L332.3 630.1L333.8 629.7L335.3 629.2L336.7 628.8L338.1 628.4L339.6 627.9L341.0 627.3L342.3 626.7L343.6 626.0L344.8 625.2L345.9 624.2L347.0 623.2L348.0 622.0L348.9 620.8L349.8 619.6L350.6 618.3L351.3 617.0L352.0 615.7L352.6 614.3L353.2 612.9L353.8 611.5L354.3 610.1L354.7 608.7L355.2 607.3L355.6 605.8L356.0 604.4L356.4 602.9L356.7 601.5L357.1 600.0L357.5 598.6L357.9 597.1L358.2 595.6L358.6 594.2L358.9 592.7L359.3 591.3L359.7 589.8L360.0 588.4L360.4 586.9L360.7 585.4L361.0 584.0L361.4 582.5L361.7 581.0L362.0 579.6L362.4 578.1L362.7 576.6L363.0 575.2L363.3 573.7L363.6 572.2L364.0 570.8L364.3 569.3L364.6 567.8L364.9 566.4L365.1 564.9L365.4 563.4L365.7 561.9L366.0 560.5L366.3 559.0L366.5 557.5L366.8 556.0L367.1 554.6L367.3 553.1L367.6 551.6L367.8 550.1L368.1 548.6L368.3 547.1L368.5 545.7L368.8 544.2L369.0 542.7L369.2 541.2L369.4 539.7L369.6 538.2L369.8 536.7L370.0 535.3L370.2 533.8L370.4 532.3L370.6 530.8L370.8 529.3L370.9 527.8L371.1 526.3L371.3 524.8L371.5 523.3L371.6 521.8L371.8 520.3L372.0 518.9L372.1 517.4L372.3 515.9L372.4 514.4L372.6 512.9L372.7 511.4L372.9 509.9L373.0 508.4L373.2 506.9L373.3 505.4L373.4 503.9L373.6 502.4L373.7 500.9L373.9 499.4L374.0 497.9L374.1 496.4L374.3 494.9L374.4 493.4L374.6 491.9L374.7 490.5L374.8 489.0L375.0 487.5L375.1 486.0L375.2 484.5L375.4 483.0L375.5 481.5L375.6 480.0L375.8 478.5L375.9 477.0L376.0 475.5L376.2 474.0L376.3 472.5L376.4 471.0L376.6 469.5L376.7 468.0L376.8 466.5L376.9 465.0L377.1 463.5L377.2 462.0L377.3 460.5L377.4 459.0L377.5 457.5L377.7 456.0L377.8 454.5L377.9 453.1L378.0 451.6L378.1 450.1L378.3 448.6L378.4 447.1L378.5 445.6L378.6 444.1L378.7 442.6L378.8 441.1L378.9 439.6L379.0 438.1L379.1 436.6L379.2 435.1L379.3 433.6L379.4 432.1L379.5 430.6L379.6 429.1L379.7 427.6L379.8 426.1L379.9 424.6L380.0 423.1L380.1 421.6L380.2 420.1L380.3 418.6L380.4 417.1L380.5 415.6L380.6 414.1L380.7 412.6L380.7 411.1L380.8 409.6L380.9 408.1L381.0 406.6L381.1 405.1L381.1 403.6L381.2 402.1L381.3 400.6L381.4 399.1L381.4 397.6L381.5 396.1L381.6 394.6L381.7 393.1L381.7 391.6L381.8 390.1L381.9 388.6L381.9 387.1L382.0 385.6L382.1 384.1L382.1 382.6L382.2 381.1L382.3 379.6L382.3 378.1L382.4 376.6L382.4 375.1L382.5 373.6L382.6 372.1L382.6 370.6L382.7 369.1L382.8 367.6L382.8 366.1L382.9 364.6L382.9 363.1L383.0 361.6L383.1 360.1L383.1 358.6L383.2 357.1L383.3 355.6L383.3 354.1L383.4 352.6L383.5 351.1L383.5 349.6L383.6 348.1L383.7 346.6L383.7 345.1L383.8 343.6L383.9 342.1L383.9 340.6L384.0 339.1L384.1 337.6L384.1 336.1L384.2 334.6L384.3 333.1L384.4 331.6L384.4 330.1L384.5 328.6L384.6 327.1L384.7 325.6L384.7 324.1L384.8 322.6L384.9 321.1L385.0 319.6L385.1 318.1L385.2 316.6L385.2 315.1L385.3 313.6L385.4 312.1L385.5 310.6L385.6 309.1L385.7 307.6L385.8 306.1L385.9 304.6L386.0 303.1L386.0 301.6L386.1 300.1L386.2 298.6L386.3 297.1L386.4 295.6L386.5 294.1L386.6 292.6L386.7 291.1L386.8 289.6L386.9 288.1L387.0 286.6L387.1 285.1L387.2 283.6L387.3 282.1L387.4 280.6L387.5 279.1L387.6 277.6L387.7 276.1L387.8 274.6L387.9 273.1L388.0 271.6L388.1 270.1L388.2 268.6L388.3 267.1L388.4 265.6L388.5 264.1L388.6 262.6L388.7 261.1L388.8 259.6L388.9 258.1L389.0 256.6L389.1 255.1L389.2 253.6L389.3 252.1L389.4 250.6L389.5 249.1L389.6 247.6L389.7 246.1L389.8 244.6L389.8 243.1L389.9 241.6L390.0 240.1L390.1 238.6L390.2 237.1L390.3 235.6L390.4 234.1L390.5 232.6L390.6 231.1L390.7 229.6L390.8 228.1L390.9 226.6L390.9 225.1L391.0 223.6L391.1 222.1L391.2 220.6L391.3 219.1L391.4 217.6L391.5 216.1L391.6 214.6L391.7 213.1L391.8 211.6L391.9 210.2L392.0 208.7L392.1 207.2L392.2 205.7L392.2 204.2L392.3 202.7L392.4 201.2L392.5 199.7L392.6 198.2L392.7 196.7L392.9 195.2L393.0 193.7L393.1 192.2L393.2 190.7L393.3 189.2L393.4 187.7L393.5 186.2L393.6 184.7L393.7 183.2L393.8 181.7L394.0 180.2L394.1 178.7L394.2 177.2L394.3 175.7L394.5 174.2L394.6 172.7L394.7 171.2L394.8 169.7L395.0 168.2L395.1 166.7L395.3 165.2L395.4 163.7L395.5 162.3L395.7 160.8L395.8 159.3L396.0 157.8L396.2 156.3L396.3 154.8L396.5 153.3L396.6 151.8L396.8 150.3L397.0 148.8L397.2 147.3L397.3 145.8L397.5 144.3L397.7 142.8L397.9 141.4L398.1 139.9L398.4 138.4L398.6 136.9L398.8 135.4L399.0 133.9L399.3 132.5L399.5 131.0L399.8 129.5L400.1 128.0L400.4 126.6L400.6 125.1L400.9 123.6L401.3 122.1L401.6 120.7L401.9 119.2L402.3 117.8L402.6 116.3L403.0 114.9L403.4 113.4L403.7 111.9L404.1 110.5L404.5 109.0L404.9 107.5L405.3 106.0L405.8 104.6L406.4 103.3L407.3 102.1L408.4 101.6L409.4 102.1L410.1 103.2L410.6 104.8L410.9 106.5L411.2 108.0L411.5 109.4L411.8 110.9L412.1 112.3L412.4 113.7L412.6 115.2L412.9 116.7L413.1 118.2L413.4 119.6L413.6 121.1L413.9 122.6L414.1 124.1L414.4 125.6L414.6 127.1L414.9 128.6L415.1 130.0L415.3 131.5L415.6 133.0L415.8 134.5L416.0 136.0L416.2 137.5L416.5 139.0L416.7 140.4L416.9 141.9L417.1 143.4L417.3 144.9L417.5 146.4L417.7 147.9L418.0 149.4L418.2 150.9L418.4 152.3L418.6 153.8L418.8 155.3L419.0 156.8L419.2 158.3L419.4 159.8L419.6 161.3L419.8 162.8L419.9 164.2L420.1 165.7L420.3 167.2L420.5 168.7L420.7 170.2L420.9 171.7L421.1 173.2L421.2 174.7L421.4 176.2L421.6 177.7L421.8 179.1L421.9 180.6L422.1 182.1L422.3 183.6L422.4 185.1L422.6 186.6L422.8 188.1L422.9 189.6L423.1 191.1L423.3 192.6L423.4 194.1L423.6 195.5L423.8 197.0L423.9 198.5L424.1 200.0L424.2 201.5L424.4 203.0L424.5 204.5L424.7 206.0L424.9 207.5L425.0 209.0L425.2 210.5L425.3 212.0L425.5 213.5L425.6 215.0L425.8 216.4L425.9 217.9L426.1 219.4L426.2 220.9L426.4 222.4L426.5 223.9L426.7 225.4L426.8 226.9L426.9 228.4L427.1 229.9L427.2 231.4L427.4 232.9L427.5 234.4L427.7 235.9L427.8 237.4L428.0 238.9L428.1 240.3L428.3 241.8L428.4 243.3L428.6 244.8L428.7 246.3L428.9 247.8L429.0 249.3L429.2 250.8L429.3 252.3L429.5 253.8L429.6 255.3L429.8 256.8L429.9 258.3L430.1 259.8L430.2 261.3L430.4 262.8L430.5 264.3L430.7 265.7L430.9 267.2L431.0 268.7L431.2 270.2L431.3 271.7L431.5 273.2L431.7 274.7L431.8 276.2L432.0 277.7L432.2 279.2L432.3 280.7L432.5 282.2L432.7 283.7L432.9 285.2L433.0 286.7L433.2 288.1L433.4 289.6L433.6 291.1L433.7 292.6L433.9 294.1L434.1 295.6L434.3 297.1L434.5 298.6L434.2 300.1L434.8 301.6L435.0 303.1L435.0 304.6L435.6 306.0L436.1 307.5L436.2 309.0L436.4 310.5L436.4 312.0L436.2 313.5L436.2 315.1L436.3 316.6L436.8 318.0L437.3 319.5L437.5 320.9L438.2 322.4L438.4 323.9L437.7 325.5L437.6 327.0L437.9 328.5L438.5 329.9L439.1 331.3L439.3 332.8L439.1 334.4L439.3 335.9L439.3 337.4L439.2 338.9L439.4 340.4L439.4 341.9L439.5 343.4L440.0 344.9L440.3 346.4L440.5 347.8L441.1 349.3L441.4 350.7L441.4 352.3L442.0 353.7L442.6 355.1L442.4 356.7L442.3 358.2L442.6 359.7L442.9 361.1L443.3 362.6L443.2 364.1L443.3 365.6L443.8 367.1L443.8 368.6L444.0 370.1L444.7 371.5L445.0 373.0L445.1 374.5L445.5 375.9L446.1 377.3L446.5 378.8L446.8 380.3L447.0 381.8L446.7 383.3L446.5 384.9L446.6 386.3L446.8 387.8L447.2 389.3L447.9 390.7L448.5 392.1L448.6 393.6L448.5 395.1L449.0 396.6L449.5 398.0L449.2 399.6L448.8 401.2L449.0 402.6L449.1 404.1L449.3 405.6L449.8 407.1L450.3 408.5L450.5 410.0L450.6 411.5L451.0 413.0L451.4 414.4L451.6 415.9L451.9 417.4L451.5 418.9L451.1 420.5L451.5 422.0L451.8 423.4L452.0 424.9L452.5 426.4L453.1 427.8L453.2 429.3L453.1 430.9L453.3 432.3L453.7 433.8L453.8 435.3L453.9 436.8L454.2 438.3L454.3 439.8L454.3 441.3L454.3 442.8L454.8 444.3L455.3 445.7L455.9 447.2L456.2 448.7L456.6 450.1L456.7 451.6L456.3 453.2L456.5 454.7L457.1 456.2L457.0 457.7L457.2 459.2L458.3 460.6L459.1 461.9L459.0 463.5L458.7 465.1L458.9 466.6L459.4 468.0L459.9 469.4L460.4 470.8L460.6 472.3L461.1 473.8L461.8 475.1L462.4 476.5L462.4 478.0L462.7 479.6L463.8 480.8L464.8 482.0L465.5 483.3L466.1 484.7L466.6 486.1L466.7 487.7L467.2 489.1L468.2 490.3L469.1 491.5L470.0 492.7L470.8 493.9L471.3 495.3L472.2 496.5L472.9 497.9L473.4 499.3L474.4 500.5L475.8 501.4L476.9 502.4L477.4 503.9L478.2 505.2L479.1 506.4L480.1 507.5L481.0 508.7L481.6 510.1L482.5 511.3L483.5 512.4L484.3 513.7L485.6 514.6L486.9 515.6L487.5 517.0L488.0 518.5L488.5 519.9L489.5 521.1L490.5 522.2L491.1 523.6L491.9 524.9L493.1 525.9L494.0 527.0L494.7 528.4L495.1 529.8L495.9 531.1L496.6 532.4L497.0 533.9L498.1 535.0L499.5 535.9L500.1 537.2L500.3 538.9L500.6 540.6L501.6 541.8L503.0 542.6L503.6 544.0L504.1 545.3L505.4 546.2L506.6 547.4L506.7 548.9L506.7 550.5L507.6 551.7L508.5 552.9L509.5 554.0L510.6 555.1L511.6 556.3L512.5 557.4L513.1 558.9L513.7 560.2L514.7 561.4L515.7 562.5L516.5 563.8L516.9 565.3L517.7 566.6L519.0 567.5L520.1 568.6L520.4 570.2L520.7 571.8L521.6 573.1L522.9 574.0L524.1 575.0L524.7 576.4L525.4 577.7L526.3 579.0L526.7 580.5L527.8 581.6L529.2 582.4L530.0 583.6L530.9 584.9L531.8 586.1L532.5 587.4L533.6 588.5L535.0 589.3L535.7 590.7L536.3 592.1L537.6 593.0L538.9 593.9L539.6 595.2L540.5 596.5L541.7 597.4L542.8 598.3L543.8 599.5L544.5 600.8L545.3 602.2L546.4 603.3L547.5 604.3L548.8 605.1L550.2 605.7L551.3 606.7L552.7 607.3L554.4 607.6L555.4 608.7L556.3 610.1L557.6 610.8L559.0 611.4L560.3 612.2L561.4 613.3L562.7 614.1L564.4 614.0L565.8 614.6L566.8 616.0L568.1 616.7L569.7 616.8L571.2 616.9L572.7 617.2L574.1 617.6L575.5 618.3L576.8 619.1L578.2 619.6L579.5 620.3L581.0 620.6L582.6 620.6L584.1 620.9L585.6 621.1L587.0 621.6L588.4 622.1L589.8 622.9L591.1 623.8L592.7 623.6L594.2 623.7L595.5 624.8L596.8 625.6L598.4 625.8L599.9 625.8L601.5 625.6L602.9 626.0L604.3 626.7L605.8 626.8L607.3 626.9L608.7 627.4L610.2 627.9L611.6 628.3L613.2 628.0L614.7 628.0L616.2 628.2L617.7 628.5L619.1 629.3L620.5 629.9L622.0 630.0L623.5 630.0L625.0 629.9L626.5 630.1L627.9 630.8L629.4 631.0L630.9 631.2L632.4 631.5L633.9 631.5L635.4 631.7L636.9 632.1L638.4 631.8L639.9 631.7L641.4 632.0L642.9 631.7L644.4 631.6L645.9 632.0L647.4 632.8L648.9 633.1L650.4 632.5L651.9 632.3L653.4 632.5L654.9 632.5L656.4 632.5L657.9 633.0L659.4 633.0L660.9 633.1L662.4 633.2L663.9 633.2L665.4 633.3L666.9 633.3L668.4 633.4L669.9 633.5L671.4 633.5L672.9 633.6L674.4 633.6L675.9 633.7L677.4 633.7L678.9 633.7L680.4 633.8L681.9 633.8L683.4 633.9L684.9 633.9L686.4 633.9L687.9 634.0L689.4 634.0L690.9 634.0L692.4 634.1L693.9 634.1L695.4 634.1L696.9 634.2L698.4 634.2L699.9 634.2L701.4 634.2L702.9 634.3L704.4 634.3L706.0 634.3L707.5 634.3L709.0 634.4L710.5 634.4L712.0 634.4L713.5 634.4L715.0 634.4L716.5 634.5L718.0 634.5L719.5 634.5L721.0 634.5L722.5 634.5L724.0 634.5L725.5 634.6L727.0 634.6L728.5 634.6L730.0 634.6L731.5 634.6L733.0 634.6L734.5 634.6L736.0 634.7L737.5 634.7L739.0 634.7L740.5 634.7L742.0 634.7L743.5 634.7L745.0 634.7L746.5 634.8L748.0 634.8L749.5 634.8L751.0 634.8L752.5 634.8L754.0 634.8L755.5 634.9" stroke="#F79646" stroke-width="2.0"/>
<path d="M316.1 632.8L317.6 633.2L319.0 633.5L320.5 633.8L322.0 634.0L323.5 634.2L325.0 634.3L326.5 634.4L327.9 634.4L329.4 634.4L330.9 634.4L332.4 634.4L333.9 634.4L335.5 634.4L337.0 634.3L338.5 634.3L340.0 634.2L341.5 634.1L343.0 634.1L344.5 633.9L346.0 633.8L347.5 633.6L349.0 633.4L350.4 633.2L351.9 632.9L353.4 632.5L354.8 632.1L356.2 631.7L357.7 631.2L359.0 630.6L360.4 630.0L361.7 629.3L363.0 628.6L364.3 627.7L365.5 626.9L366.6 625.9L367.7 624.9L368.7 623.8L369.7 622.6L370.6 621.4L371.4 620.1L372.3 618.9L373.1 617.6L373.8 616.3L374.5 615.0L375.1 613.7L375.7 612.3L376.3 610.9L376.8 609.5L377.2 608.1L377.7 606.6L378.1 605.2L378.5 603.7L379.0 602.3L379.4 600.8L379.8 599.4L380.2 597.9L380.6 596.5L380.9 595.0L381.3 593.6L381.7 592.1L382.0 590.7L382.3 589.2L382.7 587.7L383.0 586.3L383.3 584.8L383.6 583.3L383.9 581.9L384.2 580.4L384.5 578.9L384.8 577.4L385.1 576.0L385.4 574.5L385.6 573.0L385.9 571.5L386.2 570.1L386.4 568.6L386.7 567.1L386.9 565.6L387.1 564.1L387.3 562.6L387.6 561.2L387.8 559.7L388.0 558.2L388.2 556.7L388.4 555.2L388.6 553.7L388.8 552.2L389.0 550.7L389.2 549.3L389.4 547.8L389.6 546.3L389.7 544.8L389.9 543.3L390.1 541.8L390.2 540.3L390.4 538.8L390.6 537.3L390.7 535.8L390.9 534.3L391.0 532.8L391.2 531.3L391.4 529.8L391.5 528.3L391.7 526.8L391.8 525.3L391.9 523.9L392.1 522.4L392.2 520.9L392.4 519.4L392.5 517.9L392.7 516.4L392.8 514.9L392.9 513.4L393.1 511.9L393.2 510.4L393.3 508.9L393.5 507.4L393.6 505.9L393.7 504.4L393.9 502.9L394.0 501.4L394.1 499.9L394.2 498.4L394.4 496.9L394.5 495.4L394.6 493.9L394.7 492.4L394.9 490.9L395.0 489.4L395.1 487.9L395.2 486.4L395.3 484.9L395.4 483.4L395.5 481.9L395.7 480.4L395.8 478.9L395.9 477.4L396.0 475.9L396.1 474.5L396.2 473.0L396.3 471.5L396.4 470.0L396.5 468.5L396.6 467.0L396.7 465.5L396.8 464.0L396.9 462.5L397.0 461.0L397.1 459.5L397.2 458.0L397.3 456.5L397.4 455.0L397.5 453.5L397.6 452.0L397.7 450.5L397.8 449.0L397.9 447.5L398.0 446.0L398.1 444.5L398.2 443.0L398.3 441.5L398.4 440.0L398.5 438.5L398.6 437.0L398.6 435.5L398.7 434.0L398.8 432.5L398.9 431.0L399.0 429.5L399.1 428.0L399.2 426.5L399.3 425.0L399.3 423.5L399.4 422.0L399.5 420.5L399.6 419.0L399.7 417.5L399.8 416.0L399.8 414.5L399.9 413.0L400.0 411.5L400.1 410.0L400.2 408.5L400.3 407.0L400.3 405.5L400.4 404.0L400.5 402.5L400.6 401.0L400.7 399.5L400.7 398.0L400.8 396.5L400.9 395.0L401.0 393.5L401.1 392.0L401.1 390.5L401.2 389.0L401.3 387.5L401.4 386.0L401.4 384.5L401.5 383.0L401.6 381.5L401.7 380.0L401.8 378.5L401.8 377.0L401.9 375.5L402.0 374.0L402.1 372.5L402.1 371.0L402.2 369.5L402.3 368.0L402.4 366.5L402.5 365.0L402.5 363.5L402.6 362.0L402.7 360.5L402.8 359.0L402.8 357.5L402.9 356.0L403.0 354.5L403.1 353.0L403.2 351.5L403.2 350.0L403.3 348.5L403.4 347.0L403.5 345.5L403.6 344.0L403.6 342.5L403.7 341.0L403.8 339.5L403.9 338.0L404.0 336.5L404.0 335.0L404.1 333.5L404.2 332.0L404.3 330.5L404.4 329.0L404.5 327.5L404.5 326.0L404.6 324.5L404.7 323.0L404.8 321.5L404.9 320.0L405.0 318.5L405.1 317.0L405.1 315.5L405.2 314.0L405.3 312.5L405.4 311.0L405.5 309.5L405.6 308.0L405.7 306.5L405.7 305.0L405.8 303.5L405.9 302.0L406.0 300.5L406.1 299.0L406.2 297.5L406.3 296.0L406.4 294.5L406.5 293.0L406.5 291.5L406.6 290.0L406.7 288.5L406.8 287.0L406.9 285.5L407.0 284.0L407.1 282.5L407.2 281.0L407.3 279.5L407.4 278.0L407.5 276.5L407.6 275.0L407.7 273.5L407.7 272.0L407.8 270.5L407.9 269.0L408.0 267.5L408.1 266.0L408.2 264.5L408.3 263.0L408.4 261.5L408.5 260.0L408.6 258.5L408.7 257.0L408.8 255.5L408.9 254.0L409.0 252.5L409.1 251.0L409.2 249.5L409.3 248.0L409.4 246.5L409.5 245.0L409.6 243.5L409.7 242.0L409.8 240.5L409.9 239.0L410.0 237.5L410.1 236.0L410.3 234.5L410.4 233.0L410.5 231.5L410.6 230.0L410.7 228.5L410.8 227.0L410.9 225.5L411.0 224.0L411.1 222.5L411.2 221.0L411.3 219.5L411.4 218.0L411.6 216.5L411.7 215.0L411.8 213.5L411.9 212.0L412.0 210.5L412.1 209.0L412.2 207.5L412.3 206.0L412.5 204.5L412.6 203.0L412.7 201.5L412.8 200.0L412.9 198.5L413.0 197.0L413.2 195.5L413.3 194.0L413.4 192.5L413.5 191.0L413.6 189.5L413.8 188.0L413.9 186.6L414.0 185.1L414.1 183.6L414.3 182.1L414.4 180.6L414.5 179.1L414.6 177.6L414.7 176.1L414.9 174.6L415.0 173.1L415.1 171.6L415.3 170.1L415.4 168.6L415.5 167.1L415.6 165.6L415.8 164.1L415.9 162.6L416.0 161.1L416.2 159.6L416.3 158.1L416.4 156.6L416.6 155.1L416.7 153.6L416.8 152.1L417.0 150.6L417.1 149.1L417.2 147.6L417.4 146.1L417.5 144.6L417.6 143.1L417.8 141.7L417.9 140.2L418.0 138.7L418.2 137.2L418.3 135.7L418.5 134.2L418.6 132.7L418.7 131.2L418.9 129.7L419.0 128.2L419.2 126.7L419.3 125.2L419.5 123.7L419.7 122.2L419.9 120.7L420.0 119.2L420.2 117.7L420.4 116.2L420.7 114.8L420.9 113.3L421.3 111.8L421.8 110.4L422.4 109.1L423.0 107.7L423.4 106.3L423.8 104.8L424.3 103.4L425.0 101.9L426.0 100.8L427.0 100.6L428.0 101.5L428.7 102.9L429.2 104.4L429.6 105.9L429.9 107.3L430.3 108.8L430.6 110.2L430.9 111.7L431.1 113.2L431.4 114.6L431.6 116.1L431.9 117.6L432.1 119.1L432.4 120.6L432.6 122.1L432.9 123.5L433.2 125.0L433.4 126.5L433.7 128.0L434.0 129.5L434.2 130.9L434.5 132.4L434.7 133.9L435.0 135.4L435.2 136.9L435.4 138.3L435.7 139.8L435.9 141.3L436.1 142.8L436.3 144.3L436.5 145.8L436.7 147.3L437.0 148.7L437.2 150.2L437.4 151.7L437.6 153.2L437.7 154.7L437.9 156.2L438.1 157.7L438.3 159.2L438.5 160.7L438.7 162.1L438.9 163.6L439.0 165.1L439.2 166.6L439.4 168.1L439.6 169.6L439.8 171.1L439.9 172.6L440.1 174.1L440.3 175.6L440.5 177.1L440.7 178.6L440.8 180.1L441.0 181.5L441.2 183.0L441.4 184.5L441.5 186.0L441.7 187.5L441.9 189.0L442.1 190.5L442.3 192.0L442.4 193.5L442.6 195.0L442.8 196.5L443.0 198.0L443.2 199.4L443.4 200.9L443.5 202.4L443.7 203.9L443.9 205.4L444.1 206.9L444.3 208.4L444.4 209.9L444.6 211.4L444.8 212.9L445.0 214.4L445.2 215.8L445.4 217.3L445.5 218.8L445.7 220.3L445.9 221.8L446.1 223.3L446.3 224.8L446.4 226.3L446.6 227.8L446.8 229.3L447.0 230.8L447.2 232.3L447.4 233.7L447.5 235.2L447.7 236.7L447.9 238.2L448.1 239.7L448.3 241.2L448.4 242.7L448.6 244.2L448.8 245.7L449.0 247.2L449.2 248.7L449.3 250.1L449.5 251.6L449.7 253.1L449.9 254.6L450.1 256.1L450.2 257.6L450.4 259.1L450.6 260.6L450.8 262.1L451.0 263.6L451.1 265.1L451.3 266.5L451.5 268.0L451.7 269.5L451.8 271.0L452.0 272.5L452.2 274.0L452.4 275.5L452.5 277.0L452.7 278.5L452.9 280.0L453.1 281.5L453.2 283.0L453.4 284.4L453.6 285.9L453.8 287.4L453.9 288.9L454.1 290.4L454.3 291.9L454.5 293.4L454.6 294.9L454.8 296.4L455.0 297.9L455.1 299.4L456.1 300.8L456.3 302.3L456.1 303.8L455.8 305.3L455.8 306.8L456.1 308.3L456.5 309.8L457.0 311.3L457.1 312.8L456.6 314.3L456.3 315.9L456.5 317.3L456.8 318.8L457.0 320.3L457.4 321.8L457.6 323.3L457.7 324.8L457.7 326.3L458.0 327.8L458.5 329.2L458.9 330.7L459.3 332.2L459.7 333.6L459.4 335.2L458.9 336.7L459.1 338.2L459.6 339.7L460.4 341.1L460.8 342.6L460.5 344.1L460.2 345.7L460.1 347.2L459.9 348.7L460.3 350.2L461.3 351.6L461.6 353.1L461.5 354.6L461.3 356.1L460.9 357.7L461.1 359.2L461.6 360.6L461.9 362.1L461.9 363.6L461.4 365.2L461.5 366.7L462.1 368.1L462.3 369.6L462.0 371.2L461.6 372.7L462.0 374.2L463.2 375.6L464.2 377.0L464.5 378.5L464.7 379.9L464.5 381.5L464.0 383.0L464.3 384.5L464.6 386.0L464.7 387.5L464.5 389.0L464.1 390.6L464.4 392.1L465.0 393.5L465.6 395.0L465.3 396.5L464.8 398.0L465.0 399.5L465.5 401.0L465.7 402.5L465.5 404.0L465.8 405.5L466.6 406.9L467.0 408.4L467.2 409.9L467.1 411.4L467.3 412.9L467.1 414.4L466.7 416.0L467.1 417.4L467.8 418.9L467.8 420.4L467.9 421.9L469.2 423.2L469.7 424.7L468.6 426.3L468.1 427.9L468.6 429.3L468.9 430.8L469.0 432.3L469.6 433.7L470.1 435.2L470.6 436.6L470.7 438.1L470.8 439.6L470.5 441.2L470.1 442.7L470.5 444.2L471.0 445.7L470.9 447.2L470.6 448.7L470.7 450.2L471.4 451.7L471.9 453.2L471.8 454.7L471.8 456.2L472.1 457.7L472.6 459.2L472.3 460.7L471.6 462.3L471.5 463.8L471.9 465.3L472.5 466.8L473.1 468.1L473.9 469.4L474.3 470.9L474.7 472.3L475.1 473.7L475.5 475.2L476.0 476.6L476.8 478.0L477.8 479.3L477.9 480.9L477.3 482.5L477.1 484.1L477.4 485.5L477.9 487.0L478.2 488.4L478.2 490.0L478.6 491.4L479.1 492.8L479.1 494.4L479.0 495.9L479.0 497.4L479.0 499.0L479.4 500.5L480.0 501.9L480.3 503.3L480.1 505.0L480.5 506.4L481.9 507.6L483.0 508.8L483.2 510.3L483.6 511.7L484.4 513.0L485.0 514.4L485.8 515.6L486.6 516.9L487.1 518.3L487.5 519.8L487.9 521.4L488.6 522.7L490.0 523.6L491.4 524.5L491.8 526.0L492.1 527.6L493.5 528.5L494.6 529.6L495.0 531.1L495.6 532.5L496.7 533.6L497.6 534.8L498.5 536.0L499.4 537.2L500.1 538.5L500.9 539.8L502.0 540.9L503.1 541.9L504.3 542.8L505.6 543.7L506.7 544.8L507.5 546.1L508.2 547.4L509.2 548.5L510.2 549.6L510.8 551.1L511.6 552.4L512.9 553.3L513.8 554.5L514.8 555.6L516.1 556.4L517.2 557.4L518.3 558.5L519.0 559.9L519.4 561.5L519.9 562.9L521.2 563.9L522.7 564.7L523.3 566.0L523.7 567.6L524.8 568.7L525.8 569.8L526.1 571.4L526.4 572.9L526.9 574.3L527.6 575.6L528.7 576.7L529.8 577.9L530.4 579.3L530.4 581.0L530.7 582.5L531.9 583.6L533.1 584.6L533.8 585.9L534.5 587.2L535.5 588.3L536.4 589.6L536.8 591.1L537.6 592.4L538.8 593.4L539.9 594.4L540.7 595.8L541.5 597.0L542.8 597.9L544.1 598.7L544.9 600.1L545.7 601.4L546.9 602.3L548.1 603.2L549.3 604.2L550.4 605.1L551.6 606.1L552.6 607.2L553.5 608.6L554.8 609.3L556.6 609.5L558.0 610.0L559.1 611.0L560.5 611.6L562.0 612.0L563.2 612.7L564.4 613.5L565.6 614.5L566.8 615.6L568.2 616.1L569.6 616.6L571.0 617.2L572.5 617.5L574.0 617.7L575.3 618.4L576.6 619.3L578.1 619.6L579.7 619.7L581.1 620.3L582.6 620.5L584.1 620.7L585.4 621.6L586.7 622.3L588.2 622.8L589.6 623.3L591.1 623.5L592.6 623.8L594.0 624.5L595.3 625.3L596.8 625.6L598.4 625.4L599.9 625.6L601.3 626.2L602.8 626.1L604.4 626.1L605.9 626.2L607.3 626.5L608.9 626.5L610.4 626.3L611.8 627.1L613.1 628.4L614.5 629.2L616.0 629.2L617.5 629.0L619.1 628.8L620.5 629.6L621.8 630.7L623.4 630.6L624.9 630.2L626.4 630.2L627.9 630.5L629.4 630.7L630.9 630.7L632.4 630.9L633.9 630.9L635.5 630.4L637.0 630.5L638.4 631.5L639.9 631.9L641.4 631.9L642.8 632.6L644.3 633.2L645.8 632.9L647.4 632.4L648.9 632.3L650.4 632.3L651.9 632.3L653.4 632.6L654.8 633.1L656.3 633.5L657.8 634.0L659.4 633.0L660.9 633.1L662.4 633.2L663.9 633.2L665.4 633.3L666.9 633.4L668.4 633.4L669.9 633.5L671.4 633.5L672.9 633.6L674.4 633.6L675.9 633.7L677.4 633.7L678.9 633.8L680.4 633.8L681.9 633.9L683.4 633.9L684.9 633.9L686.4 634.0L687.9 634.0L689.4 634.0L690.9 634.1L692.4 634.1L693.9 634.1L695.4 634.2L696.9 634.2L698.4 634.2L699.9 634.2L701.4 634.3L702.9 634.3L704.4 634.3L705.9 634.3L707.4 634.3L708.9 634.4L710.4 634.4L711.9 634.4L713.4 634.4L714.9 634.4L716.4 634.4L717.9 634.5L719.4 634.5L720.9 634.5L722.4 634.5L723.9 634.5L725.4 634.5L727.0 634.6L728.5 634.6L730.0 634.6L731.5 634.6L733.0 634.6L734.5 634.6L736.0 634.6L737.5 634.7L739.0 634.7L740.5 634.7L742.0 634.7L743.5 634.7L745.0 634.7L746.5 634.7L748.0 634.8L749.5 634.8L751.0 634.8L752.5 634.8L754.0 634.8L755.5 634.9" stroke="#F79646" stroke-width="2.0"/>
<path d="M370.0 627.9L371.5 627.4L373.0 626.8L374.4 626.2L375.7 625.4L376.9 624.6L378.1 623.8L379.2 622.8L380.3 621.8L381.3 620.8L382.2 619.7L383.1 618.5L383.9 617.3L384.7 616.1L385.5 614.8L386.2 613.5L386.9 612.2L387.5 610.8L388.1 609.4L388.7 608.0L389.3 606.6L389.8 605.2L390.3 603.7L390.8 602.3L391.3 600.8L391.8 599.4L392.2 597.9L392.7 596.5L393.1 595.0L393.5 593.6L393.9 592.1L394.3 590.7L394.6 589.2L395.0 587.8L395.4 586.3L395.7 584.8L396.0 583.4L396.3 581.9L396.6 580.4L396.9 579.0L397.2 577.5L397.5 576.0L397.8 574.6L398.1 573.1L398.3 571.6L398.6 570.1L398.8 568.7L399.1 567.2L399.3 565.7L399.5 564.2L399.7 562.7L400.0 561.3L400.2 559.8L400.4 558.3L400.6 556.8L400.8 555.3L401.0 553.8L401.2 552.3L401.4 550.9L401.5 549.4L401.7 547.9L401.9 546.4L402.1 544.9L402.2 543.4L402.4 541.9L402.5 540.4L402.7 538.9L402.9 537.4L403.0 535.9L403.1 534.4L403.3 532.9L403.4 531.4L403.6 529.9L403.7 528.4L403.8 526.9L404.0 525.4L404.1 523.9L404.2 522.4L404.3 520.9L404.5 519.4L404.6 517.9L404.7 516.4L404.8 514.9L404.9 513.4L405.1 511.9L405.2 510.4L405.3 508.9L405.4 507.4L405.5 505.9L405.6 504.4L405.8 502.9L405.9 501.4L406.0 499.9L406.1 498.4L406.2 496.9L406.3 495.4L406.4 493.9L406.6 492.4L406.7 490.9L406.8 489.4L406.9 487.9L407.0 486.4L407.1 484.9L407.2 483.4L407.3 481.9L407.4 480.4L407.6 478.9L407.7 477.4L407.8 475.9L407.9 474.5L408.0 473.0L408.1 471.5L408.2 470.0L408.3 468.5L408.4 467.0L408.6 465.5L408.7 464.0L408.8 462.5L408.9 461.0L409.0 459.5L409.1 458.0L409.2 456.5L409.3 455.0L409.4 453.5L409.5 452.0L409.6 450.5L409.7 449.0L409.8 447.5L410.0 446.0L410.1 444.5L410.2 443.0L410.3 441.5L410.4 440.0L410.5 438.5L410.6 437.0L410.7 435.5L410.8 434.0L410.9 432.5L411.0 431.0L411.1 429.5L411.2 428.0L411.3 426.5L411.4 425.0L411.5 423.5L411.6 422.0L411.7 420.5L411.8 419.0L411.9 417.6L412.0 416.1L412.1 414.6L412.2 413.1L412.3 411.6L412.4 410.1L412.5 408.6L412.6 407.1L412.7 405.6L412.8 404.1L412.9 402.6L413.0 401.1L413.1 399.6L413.2 398.1L413.3 396.6L413.4 395.1L413.5 393.6L413.6 392.1L413.7 390.6L413.8 389.1L413.9 387.6L414.0 386.1L414.1 384.6L414.2 383.1L414.2 381.6L414.3 380.1L414.4 378.6L414.5 377.1L414.6 375.6L414.7 374.1L414.8 372.6L414.9 371.1L415.0 369.6L415.1 368.1L415.2 366.6L415.2 365.1L415.3 363.6L415.4 362.1L415.5 360.6L415.6 359.1L415.7 357.6L415.8 356.1L415.9 354.6L415.9 353.1L416.0 351.6L416.1 350.1L416.2 348.6L416.3 347.1L416.4 345.6L416.4 344.1L416.5 342.6L416.6 341.1L416.7 339.6L416.8 338.1L416.9 336.6L416.9 335.1L417.0 333.6L417.1 332.1L417.2 330.6L417.3 329.1L417.3 327.6L417.4 326.1L417.5 324.6L417.6 323.0L417.7 321.5L417.8 320.0L417.8 318.5L417.9 317.0L418.0 315.5L418.1 314.0L418.2 312.5L418.2 311.0L418.3 309.5L418.4 308.0L418.5 306.5L418.5 305.0L418.6 303.5L418.7 302.0L418.8 300.5L418.9 299.0L418.9 297.5L419.0 296.0L419.1 294.5L419.2 293.0L419.3 291.5L419.3 290.0L419.4 288.5L419.5 287.0L419.6 285.5L419.7 284.0L419.7 282.5L419.8 280.9L419.9 279.4L420.0 277.9L420.1 276.4L420.1 274.9L420.2 273.4L420.3 271.9L420.4 270.4L420.5 268.9L420.5 267.4L420.6 265.9L420.7 264.4L420.8 262.9L420.9 261.4L420.9 259.9L421.0 258.4L421.1 256.9L421.2 255.4L421.3 253.9L421.3 252.4L421.4 250.9L421.5 249.4L421.6 247.9L421.7 246.4L421.8 244.9L421.9 243.4L421.9 241.9L422.0 240.4L422.1 238.9L422.2 237.4L422.3 235.9L422.4 234.4L422.4 232.9L422.5 231.4L422.6 229.9L422.7 228.3L422.8 226.8L422.9 225.3L423.0 223.8L423.1 222.3L423.2 220.8L423.2 219.3L423.3 217.8L423.4 216.3L423.5 214.8L423.6 213.3L423.7 211.8L423.8 210.3L423.9 208.8L424.0 207.3L424.1 205.8L424.2 204.3L424.3 202.8L424.4 201.4L424.5 199.9L424.6 198.4L424.7 196.9L424.8 195.4L424.9 193.9L425.0 192.4L425.1 190.9L425.2 189.4L425.4 187.9L425.5 186.4L425.6 184.9L425.7 183.4L425.8 181.9L426.0 180.4L426.1 178.9L426.2 177.4L426.3 175.9L426.5 174.4L426.6 172.9L426.7 171.5L426.9 170.0L427.0 168.5L427.1 167.0L427.3 165.5L427.4 164.0L427.6 162.5L427.7 161.0L427.8 159.5L428.0 158.0L428.1 156.5L428.2 155.0L428.4 153.5L428.5 152.0L428.6 150.5L428.8 149.0L428.9 147.5L429.0 146.0L429.2 144.5L429.3 143.0L429.4 141.4L429.5 139.9L429.7 138.4L429.8 136.9L430.0 135.4L430.1 134.0L430.3 132.5L430.4 131.0L430.6 129.5L430.7 128.1L430.9 126.6L431.1 125.1L431.3 123.7L431.5 122.2L431.7 120.7L431.9 119.2L432.0 117.7L432.2 116.2L432.4 114.6L432.6 113.1L432.8 111.5L433.0 109.9L433.3 108.4L433.7 106.8L434.2 105.3L434.8 104.0L435.5 102.9L436.3 102.3L437.1 102.4L438.0 102.9L438.8 103.9L439.6 105.1L440.1 106.4L440.6 107.8L440.9 109.3L441.1 110.8L441.3 112.3L441.6 113.8L441.8 115.3L442.0 116.8L442.2 118.3L442.4 119.8L442.6 121.3L442.8 122.8L443.0 124.3L443.3 125.8L443.5 127.3L443.7 128.8L443.9 130.3L444.1 131.8L444.3 133.3L444.5 134.8L444.7 136.3L444.9 137.8L445.1 139.3L445.3 140.8L445.4 142.3L445.6 143.8L445.8 145.3L446.0 146.8L446.2 148.3L446.4 149.8L446.6 151.3L446.8 152.8L446.9 154.3L447.1 155.7L447.3 157.2L447.5 158.7L447.6 160.2L447.8 161.7L448.0 163.2L448.2 164.7L448.3 166.2L448.5 167.7L448.7 169.2L448.9 170.6L449.0 172.1L449.2 173.6L449.4 175.1L449.5 176.6L449.7 178.1L449.8 179.6L450.0 181.1L450.2 182.5L450.3 184.0L450.5 185.5L450.6 187.0L450.8 188.5L450.9 190.0L451.1 191.5L451.2 193.0L451.4 194.4L451.5 195.9L451.7 197.4L451.8 198.9L452.0 200.4L452.1 201.9L452.3 203.4L452.4 204.9L452.5 206.3L452.7 207.8L452.8 209.3L452.9 210.8L453.1 212.3L453.2 213.8L453.4 215.3L453.5 216.8L453.6 218.3L453.7 219.7L453.9 221.2L454.0 222.7L454.1 224.2L454.3 225.7L454.4 227.2L454.5 228.7L454.6 230.2L454.8 231.7L454.9 233.2L455.0 234.7L455.1 236.2L455.2 237.6L455.3 239.1L455.5 240.6L455.6 242.1L455.7 243.6L455.8 245.1L455.9 246.6L456.0 248.1L456.1 249.6L456.3 251.1L456.4 252.6L456.5 254.1L456.6 255.6L456.7 257.1L456.8 258.6L456.9 260.1L457.0 261.6L457.1 263.1L457.2 264.6L457.3 266.1L457.4 267.6L457.5 269.1L457.6 270.6L457.7 272.2L457.8 273.7L457.9 275.2L458.0 276.7L458.1 278.2L458.2 279.7L458.3 281.2L458.4 282.7L458.5 284.2L458.6 285.7L458.7 287.2L458.8 288.7L458.9 290.2L459.0 291.8L459.1 293.3L459.2 294.8L459.3 296.3L459.4 297.8L459.5 299.3L459.5 300.8L459.6 302.3L459.7 303.8L459.8 305.3L459.9 306.8L460.0 308.4L460.1 309.9L460.2 311.4L460.3 312.9L460.4 314.4L460.5 315.9L460.6 317.4L460.7 318.9L460.8 320.4L460.9 321.9L461.0 323.5L461.1 325.0L461.3 326.5L461.4 328.0L461.5 329.5L461.6 331.0L461.7 332.5L461.8 334.0L461.9 335.5L462.0 337.0L462.1 338.5L462.2 340.1L462.4 341.6L462.5 343.1L462.6 344.6L462.7 346.1L462.8 347.6L462.9 349.1L463.1 350.6L463.2 352.1L463.3 353.6L463.4 355.1L463.6 356.6L463.7 358.1L463.8 359.6L463.9 361.1L464.1 362.6L464.2 364.1L464.3 365.6L464.5 367.1L464.6 368.6L464.8 370.1L464.9 371.6L465.0 373.1L465.2 374.6L465.3 376.1L465.5 377.6L465.6 379.1L465.8 380.6L466.0 382.1L466.1 383.6L466.3 385.1L466.4 386.6L466.6 388.1L466.8 389.6L466.9 391.0L467.1 392.5L467.3 394.0L467.4 395.5L467.6 397.0L467.8 398.5L468.0 400.0L468.2 401.4L468.4 402.9L468.5 404.4L468.7 405.9L468.9 407.4L469.1 408.9L469.3 410.3L469.5 411.8L469.7 413.3L469.9 414.8L470.1 416.3L470.4 417.7L470.6 419.2L470.8 420.7L471.0 422.2L471.2 423.6L471.4 425.1L471.7 426.6L471.9 428.1L472.1 429.5L472.4 431.0L472.6 432.5L472.8 434.0L473.1 435.4L473.3 436.9L473.6 438.4L473.8 439.9L474.1 441.3L474.3 442.8L474.6 444.3L474.9 445.8L475.1 447.2L475.4 448.7L475.7 450.2L475.9 451.7L476.2 453.1L476.5 454.6L476.8 456.1L477.0 457.6L477.3 459.0L477.6 460.5L477.9 462.0L478.2 463.5L478.5 465.0L478.8 466.4L479.1 467.9L479.4 469.4L479.7 470.9L480.1 472.3L480.4 473.8L480.7 475.3L481.0 476.8L481.4 478.2L481.7 479.7L482.1 481.2L482.5 482.6L482.8 484.1L483.2 485.6L483.6 487.0L484.0 488.5L484.4 489.9L484.8 491.4L485.2 492.8L485.7 494.3L486.1 495.7L486.6 497.1L487.1 498.5L487.6 500.0L488.1 501.4L488.6 502.8L489.1 504.2L489.6 505.6L490.2 507.0L490.7 508.4L491.3 509.7L491.9 511.1L492.5 512.5L493.2 513.8L493.8 515.2L494.5 516.5L495.2 517.8L495.9 519.1L496.6 520.5L497.3 521.8L498.1 523.1L498.9 524.3L499.7 525.6L500.5 526.9L501.3 528.1L502.2 529.4L503.0 530.6L503.9 531.9L504.8 533.1L505.6 534.4L506.5 535.6L507.4 536.8L508.2 538.1L509.1 539.3L509.9 540.6L510.7 541.9L511.5 543.1L512.3 544.4L513.0 545.7L513.8 547.0L514.5 548.3L515.3 549.6L516.1 550.9L516.8 552.2L517.6 553.4L518.4 554.7L519.2 556.0L520.0 557.2L520.8 558.5L521.7 559.7L522.6 561.0L523.4 562.2L524.3 563.4L525.1 564.7L526.0 565.9L526.8 567.2L527.6 568.4L528.4 569.7L529.1 571.0L529.8 572.3L530.5 573.6L531.2 575.0L531.8 576.3L532.4 577.7L532.9 579.1L533.4 580.5L533.9 582.0L534.5 583.4L535.1 584.8L535.7 586.1L536.4 587.5L537.1 588.8L537.8 590.1L538.6 591.4L539.4 592.6L540.2 593.9L541.1 595.1L542.0 596.3L542.8 597.6L543.7 598.8L544.6 600.0L545.5 601.2L546.5 602.4L547.4 603.6L548.4 604.7L549.3 605.9L550.3 607.0L551.3 608.1L552.3 609.2L553.4 610.3L554.5 611.3L555.6 612.4L556.7 613.4L557.8 614.3L559.0 615.3L560.2 616.2L561.4 617.1L562.6 617.9L563.9 618.8L565.2 619.6L566.4 620.3L567.8 621.0L569.1 621.7L570.4 622.4L571.8 623.0L573.2 623.6L574.6 624.1L576.0 624.6L577.4 625.1L578.9 625.5L580.3 625.9" stroke="#FF3A0A" stroke-width="2.1"/>
<path d="M370.0 635.1L371.4 634.9L372.9 634.6L374.4 634.5L375.9 634.4L377.4 634.3L378.9 634.2L380.5 634.1L382.0 633.9L383.5 633.8L385.0 633.5L386.5 633.3L388.0 632.9L389.4 632.5L390.8 631.9L392.2 631.3L393.5 630.6L394.8 629.9L396.1 629.1L397.3 628.2L398.5 627.3L399.6 626.3L400.7 625.2L401.8 624.2L402.8 623.1L403.7 621.9L404.7 620.8L405.5 619.6L406.4 618.4L407.2 617.1L407.9 615.9L408.7 614.6L409.3 613.3L410.0 612.0L410.6 610.6L411.2 609.3L411.8 607.9L412.3 606.5L412.8 605.1L413.3 603.7L413.8 602.2L414.2 600.8L414.6 599.3L415.0 597.9L415.4 596.4L415.8 594.9L416.2 593.4L416.5 592.0L416.8 590.5L417.2 589.0L417.5 587.5L417.8 586.0L418.1 584.6L418.4 583.1L418.7 581.6L419.0 580.1L419.3 578.6L419.5 577.1L419.8 575.6L420.0 574.2L420.3 572.7L420.5 571.2L420.8 569.7L421.0 568.2L421.2 566.7L421.4 565.2L421.7 563.7L421.9 562.3L422.1 560.8L422.3 559.3L422.5 557.8L422.7 556.3L422.8 554.8L423.0 553.3L423.2 551.8L423.4 550.3L423.6 548.8L423.7 547.4L423.9 545.9L424.0 544.4L424.2 542.9L424.4 541.4L424.5 539.9L424.7 538.4L424.8 536.9L425.0 535.4L425.1 533.9L425.3 532.4L425.4 530.9L425.5 529.4L425.7 527.9L425.8 526.5L426.0 525.0L426.1 523.5L426.2 522.0L426.4 520.5L426.5 519.0L426.6 517.5L426.8 516.0L426.9 514.5L427.1 513.0L427.2 511.5L427.3 510.0L427.5 508.5L427.6 507.0L427.8 505.5L427.9 504.0L428.0 502.5L428.2 501.0L428.3 499.5L428.5 498.0L428.6 496.5L428.8 495.0L428.9 493.5L429.1 492.0L429.2 490.6L429.3 489.1L429.5 487.6L429.6 486.1L429.8 484.6L429.9 483.1L430.1 481.6L430.2 480.1L430.4 478.6L430.5 477.1L430.7 475.6L430.8 474.1L431.0 472.6L431.1 471.1L431.3 469.6L431.4 468.1L431.6 466.6L431.7 465.1L431.9 463.6L432.0 462.1L432.1 460.6L432.3 459.1L432.4 457.6L432.6 456.1L432.7 454.6L432.9 453.1L433.0 451.6L433.2 450.1L433.3 448.6L433.5 447.1L433.6 445.6L433.8 444.1L433.9 442.6L434.1 441.1L434.2 439.6L434.3 438.1L434.5 436.6L434.6 435.1L434.8 433.6L434.9 432.1L435.1 430.6L435.2 429.1L435.3 427.6L435.5 426.1L435.6 424.6L435.8 423.1L435.9 421.6L436.1 420.1L436.2 418.6L436.3 417.1L436.5 415.6L436.6 414.1L436.7 412.6L436.9 411.1L437.0 409.6L437.1 408.1L437.3 406.6L437.4 405.1L437.5 403.6L437.7 402.1L437.8 400.6L437.9 399.1L438.1 397.6L438.2 396.1L438.3 394.6L438.5 393.1L438.6 391.6L438.7 390.1L438.8 388.6L438.9 387.1L439.1 385.6L439.2 384.1L439.3 382.6L439.4 381.1L439.6 379.6L439.7 378.1L439.8 376.6L439.9 375.1L440.0 373.6L440.1 372.1L440.2 370.6L440.3 369.1L440.5 367.6L440.6 366.1L440.7 364.6L440.8 363.1L440.9 361.6L441.0 360.1L441.1 358.6L441.2 357.1L441.3 355.6L441.4 354.1L441.5 352.6L441.6 351.1L441.7 349.6L441.8 348.1L441.9 346.6L442.0 345.1L442.1 343.6L442.1 342.1L442.2 340.6L442.3 339.1L442.4 337.6L442.5 336.1L442.6 334.6L442.7 333.1L442.8 331.6L442.8 330.1L442.9 328.6L443.0 327.1L443.1 325.6L443.2 324.1L443.3 322.6L443.3 321.1L443.4 319.6L443.5 318.1L443.6 316.6L443.6 315.1L443.7 313.6L443.8 312.1L443.9 310.6L444.0 309.1L444.0 307.6L444.1 306.1L444.2 304.6L444.3 303.1L444.3 301.6L444.4 300.1L444.5 298.6L444.6 297.1L444.6 295.6L444.7 294.1L444.8 292.6L444.8 291.1L444.9 289.6L445.0 288.1L445.1 286.6L445.1 285.1L445.2 283.6L445.3 282.1L445.4 280.6L445.4 279.1L445.5 277.6L445.6 276.1L445.7 274.6L445.7 273.1L445.8 271.6L445.9 270.1L446.0 268.6L446.0 267.1L446.1 265.6L446.2 264.1L446.3 262.6L446.3 261.1L446.4 259.6L446.5 258.1L446.6 256.6L446.6 255.1L446.7 253.6L446.8 252.1L446.9 250.6L447.0 249.1L447.0 247.6L447.1 246.1L447.2 244.6L447.3 243.1L447.4 241.6L447.4 240.1L447.5 238.6L447.6 237.1L447.7 235.6L447.8 234.1L447.9 232.6L448.0 231.1L448.1 229.6L448.1 228.1L448.2 226.6L448.3 225.1L448.4 223.6L448.5 222.1L448.6 220.6L448.7 219.1L448.8 217.6L448.9 216.1L449.0 214.6L449.1 213.1L449.2 211.6L449.3 210.1L449.4 208.6L449.5 207.1L449.6 205.6L449.7 204.1L449.8 202.6L449.9 201.1L450.1 199.6L450.2 198.1L450.3 196.6L450.4 195.1L450.5 193.6L450.6 192.1L450.8 190.6L450.9 189.1L451.0 187.6L451.1 186.1L451.2 184.6L451.4 183.1L451.5 181.6L451.6 180.1L451.7 178.6L451.9 177.1L452.0 175.6L452.1 174.1L452.2 172.6L452.4 171.1L452.5 169.6L452.6 168.1L452.8 166.6L452.9 165.1L453.0 163.6L453.2 162.1L453.3 160.6L453.4 159.1L453.6 157.6L453.7 156.1L453.8 154.6L454.0 153.1L454.1 151.6L454.3 150.1L454.4 148.6L454.6 147.2L454.7 145.7L454.9 144.2L455.0 142.7L455.2 141.2L455.3 139.7L455.5 138.2L455.7 136.7L455.8 135.2L456.0 133.7L456.2 132.2L456.3 130.7L456.5 129.3L456.7 127.8L456.9 126.3L457.1 124.8L457.3 123.3L457.5 121.8L457.7 120.3L457.9 118.8L458.1 117.4L458.4 115.9L458.6 114.4L458.9 112.9L459.2 111.4L459.5 109.8L459.8 108.3L460.2 106.9L460.8 105.5L461.4 104.2L462.3 103.0L463.3 102.0L464.4 101.6L465.5 102.0L466.5 103.1L467.4 104.3L468.1 105.7L468.8 107.0L469.3 108.5L469.8 109.9L470.2 111.4L470.5 112.9L470.7 114.3L471.0 115.8L471.2 117.3L471.3 118.8L471.5 120.3L471.7 121.8L471.9 123.2L472.1 124.7L472.3 126.2L472.5 127.7L472.7 129.2L472.9 130.7L473.1 132.2L473.3 133.6L473.5 135.1L473.7 136.6L473.9 138.1L474.1 139.6L474.3 141.1L474.5 142.6L474.7 144.1L474.9 145.6L475.1 147.1L475.3 148.5L475.5 150.0L475.7 151.5L475.8 153.0L476.0 154.5L476.2 156.0L476.4 157.5L476.6 159.0L476.8 160.5L476.9 162.0L477.1 163.5L477.3 165.0L477.5 166.5L477.7 168.0L477.8 169.5L478.0 171.0L478.2 172.5L478.3 173.9L478.5 175.4L478.7 176.9L478.9 178.4L479.0 179.9L479.2 181.4L479.4 182.9L479.5 184.4L479.7 185.9L479.8 187.4L480.0 188.9L480.2 190.4L480.3 191.9L480.5 193.4L480.7 194.9L480.8 196.4L481.0 197.9L481.1 199.4L481.3 200.9L481.4 202.4L481.6 203.9L481.8 205.4L481.9 206.9L482.1 208.4L482.2 209.9L482.4 211.4L482.5 212.9L482.7 214.4L482.8 215.9L483.0 217.4L483.1 218.9L483.3 220.4L483.5 221.9L483.6 223.4L483.8 224.9L483.9 226.4L484.1 227.9L484.2 229.4L484.4 230.9L484.5 232.4L484.7 233.9L484.8 235.4L485.0 236.9L485.1 238.4L485.3 239.9L485.4 241.4L485.6 242.8L485.7 244.3L485.9 245.8L486.1 247.3L486.2 248.8L486.4 250.3L486.5 251.8L486.7 253.3L486.8 254.8L487.0 256.3L487.2 257.8L487.3 259.3L487.5 260.8L487.6 262.3L487.8 263.8L488.0 265.3L488.1 266.8L488.3 268.3L488.4 269.8L488.6 271.3L488.8 272.8L488.9 274.2L489.1 275.7L489.3 277.2L489.4 278.7L489.6 280.2L489.8 281.7L489.9 283.2L490.1 284.7L490.3 286.2L490.5 287.7L490.6 289.2L490.8 290.6L491.0 292.1L491.2 293.6L491.4 295.1L491.5 296.6L491.7 298.1L491.9 299.6L492.1 301.1L492.3 302.5L492.5 304.0L492.6 305.5L492.8 307.0L493.0 308.5L493.2 310.0L493.4 311.5L493.6 312.9L493.8 314.4L494.0 315.9L494.2 317.4L494.4 318.9L494.6 320.4L494.8 321.8L495.0 323.3L495.2 324.8L495.4 326.3L495.6 327.8L495.8 329.2L496.0 330.7L496.2 332.2L496.4 333.7L496.6 335.2L496.8 336.7L497.1 338.1L497.3 339.6L497.5 341.1L497.7 342.6L497.9 344.1L498.1 345.5L498.3 347.0L498.5 348.5L498.8 350.0L499.0 351.5L499.2 352.9L499.4 354.4L499.6 355.9L499.9 357.4L500.1 358.9L500.3 360.3L500.5 361.8L500.8 363.3L501.0 364.8L501.2 366.3L501.4 367.7L501.7 369.2L501.9 370.7L502.1 372.2L502.3 373.7L502.6 375.1L502.8 376.6L503.0 378.1L503.3 379.6L503.5 381.1L503.7 382.5L503.9 384.0L504.2 385.5L504.4 387.0L504.6 388.5L504.9 390.0L505.1 391.4L505.3 392.9L505.6 394.4L505.8 395.9L506.0 397.4L506.3 398.9L506.5 400.3L506.8 401.8L507.0 403.3L507.2 404.8L507.5 406.3L507.7 407.8L507.9 409.3L508.2 410.7L508.4 412.2L508.7 413.7L508.9 415.2L509.1 416.7L509.4 418.2L509.6 419.7L509.9 421.2L510.1 422.6L510.3 424.1L510.6 425.6L510.8 427.1L511.1 428.6L511.3 430.1L511.5 431.6L511.8 433.1L512.0 434.6L512.3 436.1L512.5 437.6L512.7 439.1L513.0 440.6L513.2 442.1L513.5 443.6L513.7 445.1L513.9 446.6L514.2 448.1L514.4 449.6L514.7 451.1L514.9 452.6L515.1 454.1L515.4 455.6L515.6 457.1L515.9 458.6L516.1 460.1L516.4 461.5L516.7 463.0L516.9 464.5L517.2 466.0L517.5 467.5L517.8 469.0L518.1 470.5L518.5 471.9L518.8 473.4L519.2 474.8L519.6 476.3L519.9 477.7L520.4 479.2L520.8 480.6L521.2 482.0L521.7 483.4L522.2 484.8L522.7 486.2L523.3 487.6L523.8 489.0L524.4 490.4L525.0 491.7L525.7 493.1L526.3 494.4L527.0 495.7L527.6 497.1L528.3 498.4L528.9 499.8L529.6 501.1L530.2 502.5L530.8 503.8L531.4 505.2L532.0 506.6L532.6 507.9L533.2 509.3L533.8 510.7L534.4 512.1L535.0 513.4L535.6 514.8L536.3 516.1L536.9 517.4L537.6 518.7L538.4 520.0L539.1 521.3L539.9 522.6L540.8 523.8L541.6 525.1L542.5 526.3L543.4 527.5L544.3 528.7L545.2 529.9L546.2 531.0L547.1 532.2L548.1 533.4L549.0 534.5L550.0 535.7L551.0 536.8L552.0 537.9L553.0 539.1L553.9 540.2L554.9 541.4L555.8 542.5L556.7 543.7L557.6 544.9L558.5 546.1L559.4 547.4L560.2 548.6L560.9 549.9L561.7 551.2L562.4 552.6L563.2 553.9L563.9 555.2L564.6 556.6L565.3 557.9L566.0 559.2L566.7 560.6L567.4 561.9L568.2 563.2L569.0 564.5L569.8 565.7L570.6 567.0L571.4 568.2L572.2 569.5L573.0 570.7L573.9 571.9L574.7 573.2L575.5 574.4L576.3 575.7L577.1 577.0L577.9 578.3L578.6 579.6L579.4 580.9L580.1 582.3L580.8 583.6L581.6 585.0L582.3 586.3L583.1 587.6L583.9 588.9L584.7 590.2L585.5 591.4L586.4 592.6L587.3 593.8L588.3 594.9L589.3 595.9L590.4 597.0L591.4 598.0L592.6 598.9L593.7 599.9L594.9 600.8L596.1 601.7L597.3 602.6L598.5 603.4L599.8 604.3L601.0 605.1L602.3 606.0L603.6 606.8L604.8 607.6L606.1 608.4L607.4 609.3L608.7 610.1L610.0 610.8L611.2 611.6L612.6 612.4L613.9 613.1L615.2 613.9L616.5 614.6L617.8 615.3L619.2 616.0L620.5 616.7L621.9 617.4L623.2 618.0L624.6 618.6L626.0 619.2L627.3 619.8L628.7 620.4L630.1 621.0L631.5 621.5L632.9 622.0L634.3 622.5L635.8 622.9L637.2 623.4L638.6 623.8L640.0 624.2L641.5 624.6L642.9 625.0L644.4 625.3L645.8 625.7L647.3 626.0L648.8 626.3L650.2 626.6L651.7 626.9L653.2 627.2L654.7 627.4L656.1 627.7L657.6 627.9L659.1 628.1L660.6 628.3L662.1 628.5L663.6 628.7L665.1 628.9L666.6 629.1L668.1 629.3L669.6 629.4L671.1 629.6L672.6 629.7L674.1 629.9L675.6 630.0L677.1 630.2L678.6 630.3L680.1 630.4L681.6 630.6L683.1 630.7L684.6 630.8L686.1 630.9L687.6 631.1L689.1 631.2L690.6 631.3L692.1 631.5L693.6 631.6L695.1 631.7L696.6 631.9L698.1 632.0L699.6 632.2L701.0 632.3L702.5 632.5" stroke="#FF0000" stroke-width="2.1"/>
<path d="M404.9 635.8L406.5 635.7L408.0 635.7L409.5 635.6L411.0 635.6L412.5 635.5L414.0 635.5L415.4 635.4L416.9 635.3L418.4 635.3L419.9 635.2L421.4 635.1L422.9 635.0L424.4 634.9L425.9 634.7L427.4 634.6L428.9 634.4L430.4 634.2L431.9 633.9L433.4 633.7L434.9 633.3L436.4 633.0L437.8 632.6L439.2 632.1L440.6 631.6L442.0 631.0L443.4 630.3L444.7 629.6L445.9 628.8L447.1 628.0L448.3 627.1L449.5 626.1L450.6 625.1L451.6 624.1L452.6 623.0L453.6 621.8L454.5 620.6L455.3 619.4L456.1 618.2L456.9 616.9L457.6 615.6L458.3 614.3L458.9 612.9L459.6 611.5L460.1 610.2L460.7 608.8L461.2 607.3L461.7 605.9L462.2 604.5L462.7 603.0L463.1 601.6L463.6 600.2L464.0 598.7L464.4 597.3L464.8 595.8L465.2 594.4L465.6 592.9L466.0 591.5L466.4 590.0L466.8 588.5L467.2 587.1L467.5 585.6L467.9 584.2L468.2 582.7L468.6 581.2L468.9 579.8L469.2 578.3L469.5 576.8L469.8 575.4L470.1 573.9L470.4 572.4L470.7 571.0L471.0 569.5L471.3 568.0L471.5 566.5L471.8 565.1L472.1 563.6L472.3 562.1L472.6 560.6L472.8 559.1L473.1 557.7L473.3 556.2L473.5 554.7L473.8 553.2L474.0 551.7L474.2 550.2L474.4 548.8L474.6 547.3L474.8 545.8L475.0 544.3L475.2 542.8L475.4 541.3L475.6 539.8L475.8 538.3L476.0 536.9L476.2 535.4L476.4 533.9L476.6 532.4L476.8 530.9L477.0 529.4L477.1 527.9L477.3 526.4L477.5 524.9L477.7 523.4L477.9 521.9L478.0 520.5L478.2 519.0L478.4 517.5L478.6 516.0L478.7 514.5L478.9 513.0L479.1 511.5L479.2 510.0L479.4 508.5L479.6 507.0L479.7 505.5L479.9 504.0L480.1 502.5L480.2 501.1L480.4 499.6L480.6 498.1L480.7 496.6L480.9 495.1L481.0 493.6L481.2 492.1L481.3 490.6L481.5 489.1L481.6 487.6L481.8 486.1L481.9 484.6L482.1 483.1L482.2 481.6L482.4 480.1L482.5 478.6L482.7 477.1L482.8 475.6L483.0 474.2L483.1 472.7L483.3 471.2L483.4 469.7L483.5 468.2L483.7 466.7L483.8 465.2L484.0 463.7L484.1 462.2L484.2 460.7L484.4 459.2L484.5 457.7L484.6 456.2L484.8 454.7L484.9 453.2L485.0 451.7L485.2 450.2L485.3 448.7L485.4 447.2L485.6 445.7L485.7 444.2L485.8 442.7L485.9 441.2L486.1 439.7L486.2 438.2L486.3 436.7L486.4 435.2L486.6 433.7L486.7 432.2L486.8 430.7L486.9 429.2L487.1 427.7L487.2 426.3L487.3 424.8L487.4 423.3L487.5 421.8L487.6 420.3L487.8 418.8L487.9 417.3L488.0 415.8L488.1 414.3L488.2 412.8L488.3 411.3L488.4 409.8L488.6 408.3L488.7 406.8L488.8 405.3L488.9 403.8L489.0 402.3L489.1 400.8L489.2 399.3L489.3 397.8L489.4 396.3L489.6 394.8L489.7 393.3L489.8 391.8L489.9 390.3L490.0 388.8L490.1 387.3L490.2 385.8L490.3 384.3L490.4 382.8L490.5 381.3L490.6 379.8L490.7 378.3L490.8 376.8L490.9 375.3L491.0 373.8L491.1 372.3L491.2 370.8L491.3 369.3L491.4 367.8L491.5 366.3L491.6 364.8L491.7 363.3L491.9 361.8L492.0 360.3L492.1 358.8L492.2 357.3L492.3 355.8L492.4 354.3L492.5 352.8L492.6 351.3L492.7 349.8L492.7 348.3L492.8 346.8L492.9 345.3L493.0 343.8L493.1 342.3L493.2 340.8L493.3 339.3L493.4 337.8L493.5 336.3L493.6 334.8L493.7 333.3L493.8 331.8L493.9 330.3L494.0 328.8L494.1 327.3L494.2 325.8L494.3 324.3L494.4 322.8L494.5 321.3L494.6 319.8L494.7 318.3L494.8 316.8L494.9 315.3L495.0 313.8L495.1 312.3L495.2 310.8L495.3 309.3L495.4 307.8L495.5 306.3L495.6 304.8L495.7 303.3L495.8 301.8L495.9 300.3L496.0 298.8L496.1 297.3L496.2 295.8L496.3 294.4L496.4 292.9L496.5 291.4L496.6 289.9L496.7 288.4L496.8 286.9L496.9 285.4L497.0 283.9L497.1 282.4L497.2 280.9L497.3 279.4L497.4 277.9L497.5 276.4L497.6 274.9L497.7 273.4L497.8 271.9L497.9 270.4L498.0 268.9L498.1 267.4L498.2 265.9L498.3 264.4L498.4 262.9L498.5 261.4L498.6 259.9L498.7 258.4L498.8 256.9L498.9 255.4L499.0 253.9L499.1 252.4L499.2 250.9L499.3 249.4L499.4 247.9L499.5 246.4L499.6 244.9L499.7 243.4L499.8 241.9L499.9 240.4L500.1 238.9L500.2 237.4L500.3 235.9L500.4 234.4L500.5 232.9L500.6 231.4L500.7 229.9L500.8 228.4L500.9 226.9L501.1 225.4L501.2 223.9L501.3 222.4L501.4 220.9L501.5 219.5L501.6 218.0L501.7 216.5L501.9 215.0L502.0 213.5L502.1 212.0L502.2 210.5L502.3 209.0L502.4 207.5L502.6 206.0L502.7 204.5L502.8 203.0L502.9 201.5L503.1 200.0L503.2 198.5L503.3 197.0L503.4 195.5L503.6 194.0L503.7 192.5L503.8 191.0L503.9 189.5L504.1 188.0L504.2 186.5L504.3 185.0L504.5 183.5L504.6 182.0L504.7 180.5L504.9 179.0L505.0 177.5L505.2 176.1L505.3 174.6L505.5 173.1L505.6 171.6L505.7 170.1L505.9 168.6L506.0 167.1L506.2 165.6L506.3 164.1L506.5 162.6L506.7 161.1L506.8 159.6L507.0 158.1L507.1 156.6L507.3 155.1L507.5 153.6L507.7 152.1L507.8 150.6L508.0 149.1L508.2 147.6L508.4 146.1L508.5 144.7L508.7 143.2L508.9 141.7L509.1 140.2L509.3 138.7L509.5 137.2L509.7 135.7L509.9 134.3L510.2 132.8L510.4 131.3L510.6 129.8L510.8 128.3L511.1 126.9L511.3 125.4L511.5 123.9L511.8 122.4L512.0 120.9L512.3 119.4L512.5 118.0L512.8 116.5L513.0 115.0L513.3 113.5L513.6 112.0L513.9 110.5L514.4 109.0L514.9 107.5L515.5 106.1L516.2 104.7L517.1 103.6L518.0 102.7L519.0 102.4L520.0 102.6L520.9 103.3L521.6 104.4L522.3 105.8L522.9 107.3L523.4 108.9L523.9 110.5L524.3 112.0L524.7 113.5L525.1 114.9L525.4 116.3L525.8 117.8L526.1 119.2L526.3 120.7L526.6 122.1L526.9 123.6L527.2 125.1L527.4 126.5L527.7 128.0L527.9 129.5L528.1 131.0L528.4 132.4L528.6 133.9L528.8 135.4L529.0 136.9L529.2 138.4L529.5 139.9L529.7 141.4L529.9 142.9L530.1 144.3L530.3 145.8L530.5 147.3L530.8 148.8L531.0 150.3L531.2 151.8L531.4 153.3L531.6 154.8L531.8 156.3L532.0 157.7L532.2 159.2L532.4 160.7L532.6 162.2L532.8 163.7L533.0 165.2L533.2 166.7L533.4 168.2L533.6 169.7L533.8 171.2L534.0 172.6L534.2 174.1L534.4 175.6L534.6 177.1L534.8 178.6L535.0 180.1L535.2 181.6L535.3 183.1L535.5 184.6L535.7 186.1L535.9 187.6L536.1 189.0L536.3 190.5L536.5 192.0L536.6 193.5L536.8 195.0L537.0 196.5L537.2 198.0L537.4 199.5L537.5 201.0L537.7 202.5L537.9 204.0L538.1 205.5L538.2 207.0L538.4 208.4L538.6 209.9L538.8 211.4L538.9 212.9L539.1 214.4L539.3 215.9L539.5 217.4L539.6 218.9L539.8 220.4L540.0 221.9L540.1 223.4L540.3 224.9L540.5 226.4L540.6 227.8L540.8 229.3L541.0 230.8L541.1 232.3L541.3 233.8L541.5 235.3L541.6 236.8L541.8 238.3L542.0 239.8L542.1 241.3L542.3 242.8L542.4 244.3L542.6 245.8L542.8 247.3L542.9 248.8L543.1 250.3L543.3 251.7L543.4 253.2L543.6 254.7L543.7 256.2L543.9 257.7L544.1 259.2L544.2 260.7L544.4 262.2L544.5 263.7L544.7 265.2L544.8 266.7L545.0 268.2L545.2 269.7L545.3 271.2L545.5 272.7L545.6 274.2L545.8 275.6L545.9 277.1L546.1 278.6L546.3 280.1L546.4 281.6L546.6 283.1L546.7 284.6L546.9 286.1L547.0 287.6L547.2 289.1L547.4 290.6L547.5 292.1L547.7 293.6L547.8 295.1L548.0 296.6L548.1 298.1L548.3 299.6L548.4 301.0L548.6 302.5L548.8 304.0L548.9 305.5L549.1 307.0L549.2 308.5L549.4 310.0L549.5 311.5L549.7 313.0L549.9 314.5L550.0 316.0L550.2 317.5L550.3 319.0L550.5 320.5L550.7 322.0L550.8 323.5L551.0 324.9L551.1 326.4L551.3 327.9L551.5 329.4L551.6 330.9L551.8 332.4L551.9 333.9L552.1 335.4L552.3 336.9L552.4 338.4L552.6 339.9L552.8 341.4L552.9 342.9L553.1 344.4L553.3 345.9L553.4 347.3L553.6 348.8L553.8 350.3L553.9 351.8L554.1 353.3L554.3 354.8L554.4 356.3L554.6 357.8L554.8 359.3L554.9 360.8L555.1 362.3L555.3 363.8L555.5 365.3L555.6 366.7L555.8 368.2L556.0 369.7L556.1 371.2L556.3 372.7L556.5 374.2L556.7 375.7L556.9 377.2L557.0 378.7L557.2 380.2L557.4 381.7L557.6 383.1L557.8 384.6L557.9 386.1L558.1 387.6L558.3 389.1L558.5 390.6L558.7 392.1L558.9 393.6L559.1 395.1L559.2 396.6L559.4 398.1L559.6 399.5L559.8 401.0L560.0 402.5L560.2 404.0L560.4 405.5L560.6 407.0L560.8 408.5L561.0 410.0L561.2 411.5L561.4 412.9L561.6 414.4L561.8 415.9L562.0 417.4L562.2 418.9L562.4 420.4L562.6 421.9L562.8 423.4L563.0 424.9L563.2 426.3L563.4 427.8L563.6 429.3L563.9 430.8L564.1 432.3L564.3 433.8L564.5 435.3L564.7 436.7L564.9 438.2L565.2 439.7L565.4 441.2L565.6 442.7L565.8 444.2L566.0 445.7L566.3 447.2L566.5 448.6L566.7 450.1L567.0 451.6L567.2 453.1L567.4 454.6L567.7 456.1L567.9 457.5L568.1 459.0L568.4 460.5L568.6 462.0L568.9 463.5L569.1 465.0L569.4 466.4L569.6 467.9L569.9 469.4L570.2 470.9L570.4 472.4L570.7 473.8L571.0 475.3L571.3 476.8L571.5 478.3L571.8 479.7L572.1 481.2L572.4 482.7L572.7 484.2L573.0 485.6L573.4 487.1L573.7 488.6L574.0 490.0L574.4 491.5L574.7 493.0L575.1 494.4L575.4 495.9L575.8 497.3L576.2 498.8L576.6 500.2L576.9 501.7L577.4 503.1L577.8 504.6L578.2 506.0L578.6 507.5L579.1 508.9L579.5 510.3L580.0 511.7L580.5 513.2L581.0 514.6L581.5 516.0L582.0 517.4L582.6 518.8L583.1 520.2L583.7 521.6L584.3 523.0L584.9 524.3L585.5 525.7L586.1 527.1L586.8 528.4L587.4 529.8L588.1 531.1L588.8 532.4L589.5 533.8L590.2 535.1L591.0 536.4L591.7 537.7L592.5 539.0L593.3 540.3L594.1 541.5L595.0 542.7L595.9 544.0L596.8 545.1L597.7 546.3L598.7 547.4L599.8 548.5L600.8 549.5L602.0 550.5L603.2 551.4L604.4 552.2L605.7 553.0L607.0 553.8L608.3 554.6L609.6 555.4L610.9 556.2L612.1 557.1L613.2 558.0L614.4 559.0L615.5 560.0L616.6 561.0L617.7 561.9L618.8 562.9L619.9 563.9L621.1 564.9L622.2 565.8L623.4 566.8L624.5 567.8L625.6 568.7L626.8 569.7L627.9 570.7L629.0 571.7L630.1 572.7L631.2 573.8L632.3 574.8L633.3 575.9L634.4 576.9L635.4 578.0L636.5 579.1L637.5 580.2L638.5 581.3L639.5 582.4L640.5 583.6L641.5 584.7L642.5 585.8L643.5 586.9L644.5 588.1L645.5 589.2L646.5 590.3L647.5 591.4L648.5 592.5L649.5 593.6L650.6 594.7L651.6 595.8L652.6 596.9L653.7 598.0L654.7 599.0L655.8 600.1L656.9 601.1L658.0 602.1L659.1 603.1L660.3 604.1L661.4 605.1L662.6 606.0L663.8 606.9L665.0 607.8L666.2 608.7L667.4 609.6L668.6 610.4L669.9 611.3L671.1 612.1L672.4 612.9L673.7 613.7L675.0 614.4L676.3 615.2L677.6 615.9L678.9 616.6L680.2 617.3L681.6 617.9L682.9 618.6L684.3 619.2L685.7 619.8L687.1 620.3L688.5 620.9L689.9 621.4L691.3 621.9L692.7 622.4L694.1 622.9L695.5 623.3L697.0 623.8L698.4 624.2L699.9 624.6L701.3 625.0L702.8 625.3L704.3 625.7L705.7 626.0L707.2 626.4L708.7 626.7L710.2 627.0L711.6 627.3L713.1 627.6L714.6 627.8L716.1 628.1L717.6 628.4L719.0 628.6L720.5 628.9L722.0 629.1L723.5 629.3L725.0 629.6L726.5 629.8L727.9 630.0L729.4 630.2L730.9 630.4L732.4 630.6L733.9 630.8L735.4 630.9L736.8 631.1L738.3 631.3L739.8 631.4L741.3 631.5L742.8 631.6L744.3 631.8L745.8 631.9L747.3 631.9L748.8 632.0L750.3 632.1L751.8 632.1L753.3 632.2L754.8 632.2" stroke="#990000" stroke-width="2.15"/>
<path d="M492.6 624.2L493.7 623.2L494.8 622.2L495.9 621.1L496.9 620.0L497.9 618.9L498.9 617.7L499.8 616.6L500.7 615.4L501.6 614.2L502.4 612.9L503.2 611.7L504.0 610.4L504.8 609.1L505.5 607.8L506.3 606.5L507.0 605.2L507.6 603.8L508.3 602.5L508.9 601.1L509.5 599.7L510.1 598.3L510.7 596.9L511.2 595.5L511.8 594.1L512.3 592.7L512.8 591.3L513.3 589.9L513.8 588.5L514.3 587.0L514.7 585.6L515.2 584.2L515.6 582.8L516.1 581.3L516.5 579.9L516.9 578.5L517.4 577.0L517.8 575.6L518.2 574.1L518.6 572.7L519.0 571.2L519.4 569.8L519.8 568.3L520.2 566.9L520.5 565.4L520.8 563.9L521.1 562.4L521.3 561.0L521.5 559.5L521.8 558.0L522.0 556.5L522.2 555.0L522.4 553.5L522.6 552.0L522.8 550.6L523.0 549.1L523.2 547.6L523.3 546.1L523.5 544.6L523.7 543.1L523.9 541.6L524.0 540.1L524.2 538.6L524.4 537.1L524.6 535.6L524.7 534.1L524.9 532.7L525.1 531.2L525.2 529.7L525.4 528.2L525.6 526.7L525.8 525.2L525.9 523.7L526.1 522.2L526.3 520.7L526.5 519.2L526.6 517.7L526.8 516.2L527.0 514.7L527.2 513.2L527.4 511.8L527.5 510.3L527.7 508.8L527.9 507.3L528.1 505.8L528.3 504.3L528.5 502.8L528.7 501.3L528.9 499.8L529.1 498.3L529.3 496.9L529.5 495.4L529.6 493.9L529.8 492.4L530.0 490.9L530.2 489.4L530.4 487.9L530.6 486.4L530.8 484.9L530.9 483.4L531.1 481.9L531.3 480.4L531.5 479.0L531.6 477.5L531.8 476.0L531.9 474.5L532.1 473.0L532.3 471.5L532.4 470.0L532.6 468.5L532.7 467.0L532.8 465.5L533.0 464.0L533.1 462.5L533.3 461.0L533.4 459.5L533.5 458.0L533.6 456.5L533.8 455.0L533.9 453.5L534.0 452.0L534.1 450.5L534.3 449.0L534.4 447.5L534.5 446.0L534.6 444.5L534.7 443.0L534.8 441.5L534.9 440.0L535.0 438.5L535.2 437.0L535.3 435.6L535.4 434.1L535.5 432.6L535.6 431.1L535.7 429.6L535.8 428.1L535.9 426.6L536.0 425.1L536.1 423.6L536.2 422.1L536.3 420.6L536.4 419.1L536.5 417.6L536.6 416.1L536.7 414.6L536.8 413.1L536.9 411.6L537.0 410.1L537.1 408.6L537.2 407.1L537.4 405.6L537.5 404.1L537.6 402.6L537.7 401.1L537.8 399.6L537.9 398.1L538.0 396.6L538.1 395.1L538.3 393.6L538.4 392.1L538.5 390.6L538.6 389.1L538.7 387.6L538.9 386.1L539.0 384.6L539.1 383.1L539.3 381.6L539.4 380.1L539.5 378.6L539.6 377.1L539.8 375.6L539.9 374.1L540.0 372.6L540.2 371.1L540.3 369.6L540.4 368.1L540.6 366.6L540.7 365.1L540.8 363.6L541.0 362.1L541.1 360.6L541.2 359.1L541.4 357.6L541.5 356.1L541.6 354.7L541.8 353.2L541.9 351.7L542.1 350.2L542.2 348.7L542.3 347.2L542.5 345.7L542.6 344.2L542.7 342.7L542.9 341.2L543.0 339.7L543.1 338.2L543.3 336.7L543.4 335.2L543.5 333.7L543.7 332.2L543.8 330.7L543.9 329.2L544.1 327.7L544.2 326.2L544.3 324.7L544.4 323.2L544.6 321.7L544.7 320.2L544.8 318.7L544.9 317.2L545.1 315.7L545.2 314.2L545.3 312.7L545.4 311.2L545.6 309.8L545.7 308.3L545.8 306.8L545.9 305.3L546.0 303.8L546.1 302.3L546.2 300.8L546.4 299.3L546.5 297.8L546.6 296.3L546.7 294.8L546.8 293.3L546.9 291.8L547.0 290.3L547.1 288.8L547.2 287.3L547.4 285.8L547.5 284.3L547.6 282.8L547.7 281.3L547.8 279.8L547.9 278.3L548.0 276.8L548.1 275.3L548.2 273.8L548.3 272.3L548.4 270.8L548.5 269.3L548.6 267.8L548.7 266.3L548.8 264.8L548.9 263.3L549.0 261.8L549.1 260.3L549.2 258.8L549.3 257.3L549.4 255.8L549.5 254.3L549.6 252.8L549.8 251.3L549.9 249.8L550.0 248.3L550.1 246.8L550.2 245.3L550.3 243.8L550.4 242.3L550.5 240.8L550.6 239.3L550.7 237.8L550.8 236.3L550.9 234.8L551.0 233.3L551.1 231.8L551.2 230.3L551.3 228.8L551.4 227.3L551.5 225.8L551.6 224.3L551.7 222.8L551.8 221.3L552.0 219.8L552.1 218.3L552.2 216.8L552.3 215.3L552.4 213.8L552.5 212.3L552.6 210.8L552.7 209.3L552.9 207.8L553.0 206.3L553.1 204.8L553.2 203.3L553.3 201.8L553.5 200.3L553.6 198.8L553.7 197.4L553.8 195.9L554.0 194.4L554.1 192.9L554.2 191.4L554.3 189.9L554.5 188.4L554.6 186.9L554.7 185.4L554.9 183.9L555.0 182.4L555.2 180.9L555.3 179.4L555.4 177.9L555.6 176.4L555.7 174.9L555.9 173.4L556.0 171.9L556.2 170.4L556.3 168.9L556.5 167.4L556.6 165.9L556.8 164.4L557.0 163.0L557.1 161.5L557.3 160.0L557.5 158.5L557.6 157.0L557.8 155.5L558.0 154.0L558.1 152.5L558.3 151.0L558.5 149.5L558.7 148.0L558.9 146.5L559.1 145.0L559.3 143.6L559.5 142.1L559.7 140.6L559.9 139.1L560.1 137.6L560.3 136.1L560.5 134.6L560.8 133.1L561.0 131.7L561.2 130.2L561.5 128.7L561.7 127.2L562.0 125.7L562.2 124.2L562.5 122.8L562.8 121.3L563.1 119.8L563.3 118.3L563.6 116.9L563.9 115.4L564.2 113.9L564.6 112.5L564.9 111.0L565.2 109.5L565.6 108.1L566.0 106.6L566.5 105.2L566.9 103.8L567.3 102.3L568.1 100.9L569.0 100.5L569.7 102.0L570.1 103.4L570.3 104.9L570.5 106.4L570.7 107.9L570.9 109.4L571.3 110.9L571.7 112.3L572.3 113.7L572.9 115.0L573.5 116.3L574.0 117.7L574.4 119.2L574.7 120.6L575.0 122.1L575.3 123.6L575.6 125.1L576.0 126.5L576.3 128.0L576.7 129.5L577.0 130.9L577.3 132.4L577.6 133.9L577.9 135.3L578.2 136.8L578.5 138.3L578.7 139.8L579.0 141.3L579.3 142.7L579.5 144.2L579.8 145.7L580.0 147.2L580.3 148.7L580.5 150.1L580.7 151.6L581.0 153.1L581.2 154.6L581.4 156.1L581.7 157.6L581.9 159.0L582.1 160.5L582.4 162.0L582.6 163.5L582.8 165.0L583.0 166.5L583.3 168.0L583.5 169.4L583.8 170.9L584.0 172.4L584.3 173.9L584.5 175.4L584.8 176.8L585.1 178.3L585.4 179.8L585.6 181.3L585.9 182.7L586.2 184.2L586.5 185.7L586.7 187.2L586.9 188.6L587.1 190.1L587.3 191.6L587.4 193.1L587.4 194.6L587.5 196.1L587.6 197.7L587.6 199.2L587.7 200.7L587.8 202.2L587.9 203.7L588.1 205.2L588.2 206.7L588.4 208.2L588.5 209.7L588.7 211.2L588.9 212.6L589.0 214.1L589.2 215.6L589.4 217.1L589.6 218.6L589.8 220.1L590.0 221.6L590.2 223.1L590.4 224.6L590.6 226.0L590.8 227.5L590.9 229.0L591.1 230.5L591.3 232.0L591.5 233.5L591.7 235.0L591.9 236.5L592.1 238.0L592.3 239.5L592.5 241.0L592.6 242.4L592.8 243.9L593.0 245.4L593.2 246.9L593.4 248.4L593.6 249.9L593.8 251.4L593.9 252.9L594.1 254.4L594.3 255.9L594.5 257.4L594.7 258.9L594.9 260.3L595.1 261.8L595.2 263.3L595.4 264.8L595.6 266.3L595.8 267.8L596.0 269.3L596.2 270.8L596.3 272.3L596.5 273.8L596.7 275.3L596.9 276.7L597.1 278.2L597.3 279.7L597.4 281.2L597.6 282.7L597.8 284.2L598.0 285.7L598.2 287.2L598.4 288.7L598.5 290.2L598.7 291.7L598.9 293.2L599.1 294.6L599.3 296.1L599.5 297.6L599.7 299.1L599.8 300.6L600.0 302.1L600.2 303.6L600.4 305.1L600.6 306.6L600.8 308.1L601.0 309.6L601.2 311.0L601.4 312.5L601.6 314.0L601.7 315.5L601.9 317.0L602.1 318.5L602.3 320.0L602.5 321.5L602.7 323.0L602.9 324.5L603.1 325.9L603.3 327.4L603.5 328.9L603.7 330.4L603.9 331.9L604.1 333.4L604.3 334.9L604.5 336.4L604.7 337.9L604.9 339.3L605.2 340.8L605.4 342.3L605.6 343.8L605.8 345.3L606.0 346.8L606.2 348.3L606.4 349.8L606.6 351.2L606.8 352.7L607.1 354.2L607.3 355.7L607.5 357.2L607.7 358.7L607.9 360.2L608.2 361.6L608.4 363.1L608.6 364.6L608.8 366.1L609.1 367.6L609.3 369.1L609.5 370.6L609.7 372.1L610.0 373.5L610.2 375.0L610.4 376.5L610.7 378.0L610.9 379.5L611.1 381.0L611.3 382.4L611.6 383.9L611.8 385.4L612.0 386.9L612.3 388.4L612.5 389.9L612.8 391.4L613.0 392.8L613.2 394.3L613.5 395.8L613.7 397.3L614.0 398.8L614.2 400.3L614.4 401.7L614.7 403.2L614.9 404.7L615.2 406.2L615.4 407.7L615.6 409.1L615.9 410.6L616.1 412.1L616.4 413.6L616.6 415.1L616.9 416.6L617.1 418.0L617.4 419.5L617.6 421.0L617.9 422.5L618.1 424.0L618.4 425.4L618.6 426.9L618.9 428.4L619.1 429.9L619.4 431.4L619.6 432.8L619.9 434.3L620.1 435.8L620.4 437.3L620.6 438.8L620.6 440.3L621.1 441.7L621.6 443.2L622.1 444.6L622.5 446.1L622.5 447.6L622.4 449.1L622.6 450.6L622.9 452.1L623.1 453.6L623.5 455.1L623.7 456.5L623.5 458.1L623.6 459.6L624.3 461.0L625.2 462.4L625.9 463.8L626.2 465.3L626.7 466.7L626.8 468.2L625.9 469.9L625.8 471.4L626.4 472.9L626.8 474.3L627.4 475.7L627.8 477.2L627.9 478.7L628.2 480.2L629.2 481.5L629.9 482.8L629.9 484.4L630.4 485.8L631.3 487.1L631.4 488.6L631.8 490.0L632.6 491.4L632.7 492.9L632.7 494.5L633.0 496.0L633.5 497.4L634.1 498.8L634.7 500.2L635.5 501.5L636.5 502.8L636.6 504.3L636.6 505.9L637.1 507.3L637.9 508.6L638.4 510.0L638.6 511.5L638.5 513.1L638.4 514.7L638.5 516.2L639.2 517.6L640.1 518.9L641.0 520.2L641.6 521.6L642.0 523.1L642.4 524.5L643.2 525.8L644.1 527.0L644.4 528.5L645.1 529.9L646.2 531.0L647.0 532.3L647.8 533.5L649.1 534.0L650.5 534.4L651.9 535.2L652.9 536.4L653.6 537.8L654.7 538.7L656.1 539.5L656.7 541.1L656.9 542.8L658.0 543.8L659.2 544.8L660.3 545.9L661.1 547.1L661.7 548.6L662.6 549.7L663.9 550.6L664.7 551.9L665.5 553.4L667.0 553.7L668.0 553.4L669.5 553.3L671.1 552.6L672.6 553.2L673.3 554.7L674.2 555.7L675.7 556.1L677.1 556.7L678.1 558.0L678.5 559.5L679.1 560.9L680.2 561.9L681.1 563.1L681.8 564.5L683.0 565.4L684.5 566.1L685.4 567.3L686.1 568.7L687.0 569.9L688.0 571.1L689.1 572.0L690.5 572.1L692.1 572.1L693.1 573.3L693.7 574.7L694.9 575.7L696.1 576.5L697.0 577.8L697.8 579.1L698.9 580.1L700.1 581.0L701.0 582.2L701.7 583.6L702.7 584.7L704.1 585.5L705.4 586.3L706.3 587.5L707.3 588.7L708.6 589.4L710.0 590.1L711.2 591.0L712.5 591.7L713.7 592.6L714.7 593.8L715.9 594.6L717.4 595.3L718.6 596.1L719.5 597.4L720.3 598.8L721.3 599.9L722.6 600.7L723.9 601.6L724.9 602.6L726.1 603.6L726.9 604.9L727.9 606.1L729.1 606.9L730.3 607.9L731.5 608.8L732.8 609.6L734.0 610.5L735.0 611.6L736.2 612.6L737.5 613.3L739.0 613.8L740.2 614.7L741.5 615.4L743.1 615.7L744.6 616.0L745.8 616.9L747.0 617.8L748.2 618.8L749.5 619.7L751.0 620.0L752.3 620.7L753.7 621.3L755.2 621.6L756.6 622.2L757.9 622.9L759.4 623.3L760.8 623.7L762.4 623.8L763.9 623.9L765.2 624.6L766.7 625.0L768.2 625.2L769.6 625.7L771.0 626.2L772.5 626.7L773.9 627.1L775.4 627.5L776.8 627.9L778.3 628.0L779.8 628.2L781.3 628.7L782.7 629.1L784.2 629.5L785.7 629.6L787.3 628.9L789.0 628.2L790.4 628.5L791.8 629.3L793.3 629.8L794.8 630.0L796.2 630.6L797.7 631.1L799.2 631.2L800.6 631.4L802.2 631.5L803.7 631.5L805.2 631.7L806.7 631.6L808.2 631.8L809.6 632.7L811.1 633.0L812.6 632.2L814.2 631.8L815.6 632.5L817.1 632.9L818.7 632.3L820.2 631.8L821.7 632.0L823.2 632.7L824.7 633.2L826.2 633.1L827.7 632.4L829.2 631.9L830.7 632.7L832.2 633.6L833.7 632.9L835.2 632.2L836.7 632.3L838.2 632.3L839.7 632.2L841.2 632.2L842.7 632.7L844.2 632.8" stroke="#A00000" stroke-width="2.1"/>
<path d="M482.7 632.8L484.2 632.6L485.7 632.5L487.2 632.4L488.7 632.2L490.2 632.0L491.6 631.8L493.1 631.5L494.6 631.2L496.1 630.9L497.5 630.5L499.0 630.1L500.4 629.6L501.7 629.0L503.1 628.4L504.4 627.6L505.7 626.8L506.9 625.9L508.0 625.0L509.1 624.0L510.2 622.9L511.2 621.8L512.1 620.6L513.0 619.4L513.8 618.1L514.6 616.9L515.4 615.6L516.1 614.3L516.8 612.9L517.4 611.6L518.0 610.2L518.6 608.8L519.2 607.4L519.7 606.0L520.2 604.6L520.7 603.2L521.2 601.8L521.7 600.3L522.1 598.9L522.6 597.5L523.0 596.0L523.4 594.6L523.8 593.1L524.2 591.7L524.6 590.2L524.9 588.8L525.3 587.3L525.6 585.9L526.0 584.4L526.3 582.9L526.6 581.5L526.9 580.0L527.2 578.5L527.5 577.0L527.7 575.6L528.0 574.1L528.3 572.6L528.5 571.1L528.8 569.6L529.1 568.1L529.4 566.7L529.8 565.2L530.2 563.8L530.8 562.4L531.4 561.1L531.9 559.7L532.2 558.2L532.4 556.7L532.5 555.2L532.6 553.7L532.7 552.2L532.9 550.7L533.0 549.2L533.2 547.7L533.4 546.2L533.5 544.8L533.7 543.3L533.8 541.8L534.0 540.3L534.1 538.8L534.3 537.3L534.4 535.8L534.6 534.3L534.7 532.8L534.9 531.3L535.0 529.8L535.2 528.3L535.3 526.8L535.5 525.3L535.6 523.8L535.8 522.3L535.9 520.8L536.1 519.3L536.2 517.8L536.4 516.4L536.5 514.9L536.7 513.4L536.8 511.9L537.0 510.4L537.1 508.9L537.3 507.4L537.4 505.9L537.6 504.4L537.7 502.9L537.9 501.4L538.0 499.9L538.2 498.4L538.4 496.9L538.5 495.4L538.7 493.9L538.9 492.4L539.0 490.9L539.2 489.5L539.4 488.0L539.6 486.5L539.8 485.0L540.0 483.5L540.2 482.0L540.4 480.5L540.6 479.0L540.8 477.5L541.0 476.1L541.2 474.6L541.4 473.1L541.6 471.6L541.8 470.1L542.0 468.6L542.2 467.1L542.3 465.6L542.5 464.1L542.7 462.6L542.8 461.1L543.0 459.6L543.1 458.2L543.2 456.7L543.4 455.2L543.5 453.7L543.6 452.2L543.7 450.7L543.8 449.2L543.9 447.7L544.0 446.2L544.1 444.7L544.2 443.2L544.3 441.7L544.4 440.2L544.5 438.7L544.6 437.2L544.7 435.7L544.8 434.2L544.9 432.7L544.9 431.2L545.0 429.7L545.1 428.2L545.2 426.7L545.3 425.2L545.4 423.7L545.5 422.2L545.6 420.7L545.7 419.2L545.8 417.7L545.9 416.2L546.0 414.7L546.1 413.2L546.2 411.7L546.3 410.2L546.4 408.7L546.5 407.2L546.6 405.7L546.7 404.2L546.8 402.7L546.9 401.2L547.0 399.7L547.1 398.2L547.3 396.7L547.4 395.2L547.5 393.7L547.6 392.2L547.7 390.7L547.8 389.2L547.9 387.7L548.0 386.2L548.2 384.7L548.3 383.2L548.4 381.7L548.5 380.2L548.6 378.7L548.7 377.2L548.8 375.7L549.0 374.2L549.1 372.7L549.2 371.2L549.3 369.7L549.4 368.2L549.5 366.7L549.7 365.2L549.8 363.7L549.9 362.2L550.0 360.7L550.1 359.2L550.2 357.7L550.3 356.2L550.5 354.7L550.6 353.2L550.7 351.7L550.8 350.2L550.9 348.7L551.0 347.2L551.1 345.7L551.3 344.2L551.4 342.7L551.5 341.2L551.6 339.7L551.7 338.2L551.8 336.7L551.9 335.2L552.0 333.8L552.2 332.3L552.3 330.8L552.4 329.3L552.5 327.8L552.6 326.3L552.7 324.8L552.8 323.3L552.9 321.8L553.0 320.3L553.1 318.8L553.3 317.3L553.4 315.8L553.5 314.3L553.6 312.8L553.7 311.3L553.8 309.8L553.9 308.3L554.0 306.8L554.1 305.3L554.2 303.8L554.3 302.3L554.4 300.8L554.6 299.3L554.7 297.8L554.8 296.3L554.9 294.8L555.0 293.3L555.1 291.8L555.2 290.3L555.3 288.8L555.4 287.3L555.5 285.8L555.6 284.3L555.7 282.8L555.9 281.3L556.0 279.8L556.1 278.3L556.2 276.8L556.3 275.3L556.4 273.8L556.5 272.3L556.6 270.8L556.7 269.3L556.8 267.8L557.0 266.3L557.1 264.8L557.2 263.3L557.3 261.8L557.4 260.3L557.5 258.8L557.6 257.3L557.7 255.8L557.8 254.3L558.0 252.8L558.1 251.3L558.2 249.8L558.3 248.3L558.4 246.8L558.5 245.3L558.6 243.8L558.8 242.4L558.9 240.9L559.0 239.4L559.1 237.9L559.2 236.4L559.3 234.9L559.5 233.4L559.6 231.9L559.7 230.4L559.8 228.9L559.9 227.4L560.1 225.9L560.2 224.4L560.3 222.9L560.4 221.4L560.5 219.9L560.7 218.4L560.8 216.9L560.9 215.4L561.0 213.9L561.2 212.4L561.3 210.9L561.4 209.4L561.5 207.9L561.7 206.4L561.8 204.9L561.9 203.4L562.1 201.9L562.2 200.4L562.3 198.9L562.5 197.4L562.6 195.9L562.7 194.4L562.9 192.9L563.0 191.4L563.1 189.9L563.3 188.4L563.4 186.9L563.5 185.5L563.7 184.0L563.8 182.5L564.0 181.0L564.1 179.5L564.3 178.0L564.4 176.5L564.5 175.0L564.7 173.5L564.8 172.0L565.0 170.5L565.2 169.0L565.3 167.5L565.5 166.0L565.6 164.5L565.8 163.0L566.0 161.5L566.1 160.0L566.3 158.5L566.5 157.1L566.6 155.6L566.8 154.1L567.0 152.6L567.2 151.1L567.4 149.6L567.5 148.1L567.7 146.6L567.9 145.1L568.1 143.6L568.3 142.1L568.5 140.7L568.7 139.2L568.9 137.7L569.1 136.2L569.3 134.7L569.5 133.2L569.6 131.7L569.8 130.2L570.0 128.7L570.2 127.2L570.4 125.7L570.7 124.3L571.1 122.8L571.5 121.4L571.9 119.9L572.3 118.5L572.7 117.1L573.1 115.6L573.4 114.1L573.7 112.6L574.2 111.3L575.0 110.0L575.8 108.7L576.5 107.5L577.1 106.1L577.7 104.7L578.5 103.3L579.4 102.2L580.4 102.5L581.3 103.8L581.9 105.2L582.5 106.6L583.2 107.9L583.8 109.3L584.5 110.6L585.1 112.0L585.7 113.4L586.3 114.7L586.9 116.1L587.5 117.5L588.0 119.0L588.4 120.4L588.9 121.8L589.3 123.3L589.6 124.7L590.0 126.2L590.3 127.6L590.6 129.1L590.9 130.6L591.2 132.1L591.5 133.5L591.7 135.0L592.0 136.5L592.2 138.0L592.5 139.5L592.7 140.9L593.0 142.4L593.2 143.9L593.4 145.4L593.6 146.9L593.9 148.4L594.1 149.9L594.3 151.3L594.5 152.8L594.7 154.3L594.9 155.8L595.1 157.3L595.3 158.8L595.6 160.3L595.8 161.8L596.0 163.2L596.2 164.7L596.4 166.2L596.6 167.7L596.8 169.2L597.0 170.7L597.2 172.2L597.4 173.7L597.6 175.2L597.8 176.6L598.0 178.1L598.2 179.6L598.3 181.1L598.5 182.6L598.7 184.1L598.9 185.6L599.1 187.1L599.3 188.6L599.5 190.1L599.7 191.6L599.9 193.0L600.0 194.5L600.2 196.0L600.4 197.5L600.6 199.0L600.8 200.5L601.0 202.0L601.1 203.5L601.3 205.0L601.5 206.5L601.7 208.0L601.8 209.5L602.0 210.9L602.2 212.4L602.4 213.9L602.6 215.4L602.7 216.9L602.9 218.4L603.1 219.9L603.3 221.4L603.4 222.9L603.6 224.4L603.8 225.9L603.9 227.4L604.1 228.9L604.3 230.4L604.5 231.8L604.6 233.3L604.8 234.8L605.0 236.3L605.1 237.8L605.3 239.3L605.5 240.8L605.7 242.3L605.8 243.8L606.0 245.3L606.2 246.8L606.3 248.3L606.5 249.8L606.7 251.3L606.8 252.7L607.0 254.2L607.2 255.7L607.4 257.2L607.5 258.7L607.7 260.2L607.9 261.7L608.0 263.2L608.2 264.7L608.4 266.2L608.5 267.7L608.7 269.2L608.9 270.7L609.0 272.2L609.2 273.6L609.4 275.1L609.6 276.6L609.7 278.1L609.9 279.6L610.1 281.1L610.3 282.6L610.4 284.1L610.6 285.6L610.8 287.1L610.9 288.6L611.1 290.1L611.3 291.6L611.5 293.0L611.6 294.5L611.8 296.0L612.0 297.5L612.2 299.0L612.4 300.5L612.5 302.0L612.7 303.5L612.9 305.0L613.1 306.5L613.3 308.0L613.4 309.5L613.6 310.9L613.8 312.4L614.0 313.9L614.2 315.4L614.4 316.9L614.5 318.4L614.7 319.9L614.9 321.4L615.1 322.9L615.3 324.4L615.5 325.8L615.7 327.3L615.9 328.8L616.1 330.3L616.2 331.8L616.4 333.3L616.6 334.8L616.8 336.3L617.0 337.8L617.2 339.2L617.4 340.7L617.6 342.2L617.8 343.7L618.0 345.2L618.2 346.7L618.4 348.2L618.6 349.7L618.8 351.2L619.0 352.6L619.2 354.1L619.4 355.6L619.6 357.1L619.8 358.6L620.0 360.1L620.2 361.6L620.3 363.1L620.5 364.6L620.7 366.0L620.9 367.5L621.1 369.0L621.3 370.5L621.5 372.0L621.7 373.5L621.9 375.0L622.1 376.5L622.3 378.0L622.5 379.5L622.7 380.9L622.9 382.4L623.1 383.9L623.3 385.4L623.5 386.9L623.7 388.4L623.9 389.9L624.1 391.4L624.3 392.9L624.5 394.4L624.7 395.8L624.9 397.3L625.1 398.8L625.3 400.3L625.5 401.8L625.7 403.3L625.9 404.8L626.1 406.3L626.3 407.8L626.5 409.3L626.7 410.8L626.9 412.2L627.1 413.7L627.3 415.2L627.5 416.7L627.7 418.2L627.9 419.7L628.1 421.2L628.3 422.7L628.6 424.2L628.8 425.6L629.0 427.1L629.2 428.6L629.4 430.1L629.7 431.6L629.9 433.1L630.1 434.6L630.3 436.1L630.6 437.5L630.8 439.0L631.1 440.5L631.3 442.0L631.5 443.5L631.8 445.0L632.0 446.4L632.3 447.9L632.6 449.4L632.8 450.9L633.1 452.4L633.4 453.8L633.6 455.3L633.9 456.8L634.2 458.3L634.5 459.7L634.8 461.2L635.1 462.7L635.4 464.2L635.7 465.6L636.0 467.1L636.3 468.6L636.6 470.0L636.9 471.5L637.2 473.0L637.6 474.4L637.9 475.9L638.2 477.4L638.6 478.8L638.9 480.3L639.3 481.7L639.6 483.2L639.9 484.7L640.3 486.1L640.6 487.6L641.0 489.1L641.3 490.5L641.7 492.0L642.1 493.4L642.4 494.9L642.8 496.4L643.1 497.8L643.5 499.3L643.9 500.7L644.3 502.2L644.6 503.6L645.0 505.1L645.4 506.5L645.8 508.0L646.2 509.4L646.6 510.9L647.0 512.3L647.4 513.8L647.9 515.2L648.3 516.6L648.8 518.1L649.2 519.5L649.7 520.9L650.2 522.4L650.7 523.8L651.2 525.2L651.7 526.6L652.2 528.0L652.8 529.4L653.3 530.8L653.9 532.2L654.5 533.6L655.1 534.9L655.7 536.3L656.3 537.7L657.0 539.0L657.3 540.5L658.3 541.7L658.9 543.1L659.5 544.5L660.4 545.7L661.1 547.1L661.6 548.5L662.3 549.8L663.2 551.1L664.2 552.2L665.1 553.4L665.7 554.8L666.7 555.9L667.7 557.0L668.7 558.2L669.9 559.1L671.4 559.4L672.8 559.9L674.0 560.9L675.3 561.6L676.7 562.3L677.8 563.3L679.1 564.2L680.5 564.7L682.1 564.9L683.5 565.1L685.0 565.5L686.5 565.5L688.0 565.8L689.4 566.4L690.8 566.7L692.3 566.9L693.8 567.3L695.1 568.2L696.2 569.2L697.3 570.2L698.4 571.2L699.7 572.0L701.1 572.6L702.3 573.5L703.4 574.6L704.6 575.5L705.9 576.3L707.3 577.0L708.5 577.8L709.8 578.6L711.1 579.4L712.4 580.1L713.7 580.8L714.9 581.7L716.1 582.7L717.1 583.8L718.2 584.9L719.4 585.7L720.4 586.8L721.5 587.9L722.5 589.0L723.6 590.0L724.7 591.1L725.7 592.2L726.9 593.1L728.1 594.0L729.0 595.3L729.9 596.5L731.1 597.4L732.5 598.2L733.7 599.0L734.8 600.0L735.7 601.3L736.6 602.6L737.7 603.6L738.8 604.6L740.0 605.5L741.3 606.3L742.4 607.3L743.5 608.3L744.7 609.3L745.9 610.3L747.0 611.2L748.4 611.9L749.9 612.4L751.4 612.9L752.5 613.9L753.8 614.7L755.2 615.3L756.3 616.3L757.4 617.4L758.8 618.0L760.3 618.5L761.6 619.2L763.0 619.7L764.5 619.9L765.9 620.5L767.4 620.9L768.7 621.5L770.1 622.1L771.6 622.3L773.1 622.7L774.5 623.3L775.8 623.9L777.2 624.5L778.7 625.0L780.1 625.3L781.7 625.3L783.2 625.6L784.6 626.0L786.1 626.2L787.5 626.7L788.9 627.6L790.4 627.7L792.0 627.4L793.4 627.9L794.8 628.4L796.4 628.4L797.9 628.6L799.3 629.2L800.8 629.5L802.3 629.5L803.8 629.7L805.3 629.8L806.7 630.1L808.2 630.3L809.8 630.1L811.3 630.0L812.7 630.4L814.2 630.7L815.7 630.8L817.2 630.8L818.7 630.9L820.2 631.2L821.7 631.5L823.2 631.5L824.7 631.4L826.2 631.6L827.7 631.9L829.2 632.1L830.7 632.3L832.2 632.1L833.7 632.0L835.2 632.1L836.7 632.2L838.2 632.6L839.7 632.5L841.2 631.9L842.7 632.4L844.2 632.5" stroke="#FF00DC" stroke-width="2.1"/>
<path d="M474.8 635.8L476.3 635.8L477.8 635.7L479.3 635.7L480.8 635.7L482.3 635.6L483.8 635.6L485.3 635.5L486.8 635.5L488.3 635.5L489.8 635.4L491.3 635.4L492.8 635.3L494.3 635.3L495.8 635.2L497.3 635.2L498.8 635.1L500.3 635.1L501.8 635.0L503.3 634.9L504.8 634.8L506.4 634.7L507.9 634.5L509.4 634.3L510.8 634.1L512.3 633.8L513.7 633.4L515.2 633.0L516.5 632.5L517.9 632.0L519.3 631.4L520.6 630.7L521.9 629.9L523.2 629.1L524.4 628.3L525.7 627.4L526.9 626.6L528.1 625.7L529.3 624.7L530.5 623.8L531.6 622.7L532.6 621.7L533.6 620.6L534.5 619.4L535.4 618.2L536.2 616.9L536.9 615.7L537.6 614.3L538.3 613.0L539.0 611.6L539.6 610.3L540.2 608.9L540.8 607.5L541.3 606.1L541.9 604.7L542.4 603.3L542.9 601.9L543.4 600.4L543.8 599.0L544.3 597.6L544.7 596.1L545.2 594.7L545.6 593.3L546.0 591.8L546.4 590.4L546.8 588.9L547.1 587.5L547.5 586.0L547.9 584.6L548.3 583.1L548.6 581.7L549.0 580.2L549.4 578.7L549.7 577.3L550.1 575.8L550.4 574.4L550.7 572.9L551.1 571.4L551.4 569.9L551.7 568.5L552.0 567.0L552.3 565.5L552.5 564.1L552.8 562.6L553.1 561.1L553.3 559.6L553.6 558.1L553.8 556.7L554.0 555.2L554.2 553.7L554.4 552.2L554.6 550.7L554.8 549.2L555.0 547.7L555.2 546.2L555.4 544.7L555.6 543.3L555.7 541.8L555.9 540.3L556.1 538.8L556.2 537.3L556.4 535.8L556.5 534.3L556.7 532.8L556.9 531.3L557.0 529.8L557.2 528.3L557.3 526.8L557.5 525.3L557.6 523.8L557.8 522.3L558.0 520.8L558.1 519.3L558.3 517.9L558.4 516.4L558.6 514.9L558.8 513.4L558.9 511.9L559.1 510.4L559.3 508.9L559.5 507.4L559.6 505.9L559.8 504.4L560.0 502.9L560.1 501.4L560.3 499.9L560.5 498.4L560.7 497.0L560.8 495.5L561.0 494.0L561.2 492.5L561.4 491.0L561.5 489.5L561.7 488.0L561.9 486.5L562.1 485.0L562.3 483.5L562.4 482.0L562.6 480.5L562.8 479.1L563.0 477.6L563.2 476.1L563.4 474.6L563.5 473.1L563.7 471.6L563.9 470.1L564.1 468.6L564.3 467.1L564.4 465.6L564.6 464.1L564.8 462.7L565.0 461.2L565.2 459.7L565.3 458.2L565.5 456.7L565.7 455.2L565.9 453.7L566.0 452.2L566.2 450.7L566.4 449.2L566.5 447.7L566.7 446.2L566.9 444.7L567.0 443.3L567.2 441.8L567.3 440.3L567.5 438.8L567.6 437.3L567.8 435.8L567.9 434.3L568.1 432.8L568.2 431.3L568.4 429.8L568.5 428.3L568.7 426.8L568.8 425.3L568.9 423.8L569.1 422.3L569.2 420.8L569.3 419.3L569.5 417.8L569.6 416.3L569.7 414.8L569.9 413.3L570.0 411.8L570.1 410.3L570.2 408.8L570.4 407.4L570.5 405.9L570.6 404.4L570.7 402.9L570.8 401.4L571.0 399.9L571.1 398.4L571.2 396.9L571.3 395.4L571.4 393.9L571.5 392.4L571.7 390.9L571.8 389.4L571.9 387.9L572.0 386.4L572.1 384.9L572.2 383.4L572.3 381.9L572.4 380.4L572.6 378.9L572.7 377.4L572.8 375.9L572.9 374.4L573.0 372.9L573.1 371.4L573.2 369.9L573.3 368.4L573.4 366.9L573.5 365.4L573.6 363.9L573.8 362.4L573.9 360.9L574.0 359.4L574.1 357.9L574.2 356.4L574.3 354.9L574.4 353.4L574.5 351.9L574.6 350.4L574.8 348.9L574.9 347.4L575.0 345.9L575.1 344.4L575.2 342.9L575.3 341.4L575.4 339.9L575.5 338.4L575.7 336.9L575.8 335.4L575.9 333.9L576.0 332.4L576.1 330.9L576.2 329.4L576.3 327.9L576.5 326.4L576.6 324.9L576.7 323.4L576.8 321.9L576.9 320.4L577.0 318.9L577.2 317.4L577.3 315.9L577.4 314.4L577.5 313.0L577.6 311.5L577.8 310.0L577.9 308.5L578.0 307.0L578.1 305.5L578.2 304.0L578.4 302.5L578.5 301.0L578.6 299.5L578.7 298.0L578.8 296.5L579.0 295.0L579.1 293.5L579.2 292.0L579.3 290.5L579.4 289.0L579.6 287.5L579.7 286.0L579.8 284.5L579.9 283.0L580.1 281.5L580.2 280.0L580.3 278.5L580.4 277.0L580.6 275.5L580.7 274.0L580.8 272.5L580.9 271.0L581.1 269.5L581.2 268.0L581.3 266.5L581.4 265.0L581.6 263.5L581.7 262.0L581.8 260.5L581.9 259.1L582.1 257.6L582.2 256.1L582.3 254.6L582.4 253.1L582.6 251.6L582.7 250.1L582.8 248.6L583.0 247.1L583.1 245.6L583.2 244.1L583.3 242.6L583.5 241.1L583.6 239.6L583.7 238.1L583.9 236.6L584.0 235.1L584.1 233.6L584.2 232.1L584.4 230.6L584.5 229.1L584.6 227.6L584.8 226.1L584.9 224.6L585.0 223.1L585.2 221.6L585.3 220.1L585.4 218.6L585.6 217.1L585.7 215.6L585.8 214.1L585.9 212.7L586.1 211.2L586.2 209.7L586.3 208.2L586.5 206.7L586.6 205.2L586.7 203.7L586.9 202.2L587.0 200.7L587.1 199.2L587.3 197.7L587.4 196.2L587.6 194.7L587.7 193.2L587.8 191.7L588.0 190.2L588.1 188.7L588.2 187.2L588.4 185.7L588.5 184.2L588.6 182.7L588.8 181.2L588.9 179.7L589.0 178.2L589.2 176.7L589.3 175.2L589.5 173.7L589.6 172.2L589.7 170.7L589.9 169.2L590.0 167.8L590.2 166.3L590.3 164.8L590.5 163.3L590.6 161.8L590.8 160.3L590.9 158.8L591.1 157.3L591.3 155.8L591.4 154.3L591.6 152.8L591.8 151.3L592.0 149.8L592.1 148.3L592.3 146.8L592.5 145.4L592.7 143.9L592.9 142.4L593.1 140.9L593.3 139.4L593.5 137.9L593.7 136.4L594.0 134.9L594.2 133.5L594.4 132.0L594.6 130.5L594.8 129.0L595.1 127.5L595.3 126.0L595.5 124.5L595.7 123.1L596.0 121.6L596.2 120.1L596.4 118.6L596.6 117.1L596.9 115.6L597.2 114.1L597.4 112.7L597.8 111.2L598.1 109.8L598.5 108.3L599.0 106.9L599.4 105.5L600.0 104.1L600.6 102.7L601.6 101.6L602.9 101.0L603.8 101.9L604.2 103.4L604.4 104.9L604.7 106.4L605.0 107.9L605.4 109.3L605.8 110.8L606.2 112.2L606.6 113.6L607.0 115.1L607.4 116.5L607.8 118.0L608.2 119.4L608.5 120.9L608.9 122.4L609.2 123.8L609.6 125.3L609.9 126.8L610.2 128.2L610.5 129.7L610.8 131.2L611.1 132.7L611.4 134.1L611.7 135.6L612.0 137.1L612.2 138.6L612.5 140.0L612.8 141.5L613.1 143.0L613.3 144.5L613.6 145.9L613.9 147.4L614.2 148.9L614.4 150.4L614.7 151.9L614.9 153.3L615.2 154.8L615.5 156.3L615.7 157.8L616.0 159.3L616.2 160.7L616.5 162.2L616.7 163.7L617.0 165.2L617.2 166.7L617.5 168.1L617.7 169.6L618.0 171.1L618.2 172.6L618.5 174.1L618.7 175.5L619.0 177.0L619.2 178.5L619.4 180.0L619.6 181.5L619.9 183.0L620.1 184.5L620.2 185.9L620.4 187.4L620.6 188.9L620.8 190.4L620.9 191.9L621.0 193.4L621.1 194.9L621.2 196.4L621.3 197.9L621.4 199.4L621.5 200.9L621.6 202.4L621.7 203.9L621.8 205.4L621.8 206.9L621.9 208.4L622.0 209.9L622.1 211.4L622.2 212.9L622.2 214.4L622.3 215.9L622.4 217.4L622.5 218.9L622.6 220.4L622.7 221.9L622.9 223.4L623.0 224.9L623.1 226.4L623.2 227.9L623.3 229.4L623.5 230.9L623.6 232.4L623.7 233.9L623.8 235.4L624.0 236.9L624.1 238.4L624.3 239.9L624.4 241.4L624.5 242.9L624.7 244.4L624.8 245.9L625.0 247.4L625.1 248.9L625.3 250.4L625.4 251.8L625.5 253.3L625.7 254.8L625.8 256.3L626.0 257.8L626.1 259.3L626.3 260.8L626.4 262.3L626.6 263.8L626.7 265.3L626.9 266.8L627.0 268.3L627.2 269.8L627.3 271.3L627.5 272.8L627.6 274.3L627.8 275.8L627.9 277.3L628.1 278.8L628.2 280.3L628.4 281.8L628.5 283.2L628.7 284.7L628.8 286.2L629.0 287.7L629.1 289.2L629.3 290.7L629.4 292.2L629.6 293.7L629.7 295.2L629.9 296.7L630.0 298.2L630.2 299.7L630.3 301.2L630.5 302.7L630.6 304.2L630.8 305.7L630.9 307.2L631.1 308.7L631.2 310.2L631.4 311.7L631.6 313.2L631.7 314.6L631.9 316.1L632.0 317.6L632.2 319.1L632.3 320.6L632.5 322.1L632.6 323.6L632.8 325.1L633.0 326.6L633.1 328.1L633.3 329.6L633.4 331.1L633.6 332.6L633.7 334.1L633.9 335.6L634.1 337.1L634.2 338.6L634.4 340.1L634.5 341.5L634.7 343.0L634.9 344.5L635.0 346.0L635.2 347.5L635.4 349.0L635.5 350.5L635.7 352.0L635.8 353.5L636.0 355.0L636.2 356.5L636.3 358.0L636.5 359.5L636.7 361.0L636.8 362.4L637.0 363.9L637.2 365.4L637.3 366.9L637.5 368.4L637.7 369.9L637.9 371.4L638.0 372.9L638.2 374.4L638.4 375.9L638.6 377.4L638.7 378.9L638.9 380.3L639.1 381.8L639.3 383.3L639.5 384.8L639.6 386.3L639.8 387.8L640.0 389.3L640.2 390.8L640.4 392.3L640.6 393.8L640.8 395.2L641.0 396.7L641.2 398.2L641.4 399.7L641.6 401.2L641.8 402.7L642.0 404.2L642.2 405.7L642.4 407.1L642.6 408.6L642.8 410.1L643.0 411.6L643.2 413.1L643.4 414.6L643.6 416.1L643.8 417.6L644.0 419.0L644.3 420.5L644.5 422.0L644.7 423.5L644.9 425.0L645.1 426.5L645.4 428.0L645.6 429.4L645.8 430.9L646.1 432.4L646.3 433.9L646.6 435.4L646.8 436.9L647.0 438.3L647.3 439.8L647.5 441.3L647.8 442.8L648.0 444.3L648.3 445.7L648.6 447.2L648.8 448.7L649.1 450.2L649.4 451.7L649.6 453.1L649.9 454.6L650.2 456.1L650.5 457.6L650.7 459.0L651.0 460.5L651.3 462.0L651.6 463.5L651.9 464.9L652.2 466.4L652.5 467.9L652.8 469.3L653.2 470.8L653.5 472.3L653.8 473.7L654.1 475.2L654.5 476.7L654.8 478.1L655.2 479.6L655.5 481.1L655.8 482.5L656.2 484.0L656.6 485.4L656.9 486.9L657.3 488.4L657.7 489.8L658.1 491.3L658.4 492.7L658.8 494.2L659.2 495.6L659.6 497.1L660.0 498.5L660.4 499.9L660.9 501.4L661.3 502.8L661.7 504.3L662.2 505.7L662.6 507.2L663.0 508.6L663.5 510.0L664.0 511.5L664.4 512.9L664.9 514.3L665.4 515.7L665.9 517.2L666.4 518.6L666.9 520.0L667.4 521.4L667.9 522.8L668.5 524.2L669.0 525.6L669.6 527.0L670.2 528.4L670.8 529.7L671.4 531.1L672.0 532.5L672.6 533.8L673.2 535.2L673.9 536.5L674.6 537.9L675.3 539.2L676.0 540.5L676.7 541.9L677.5 543.2L678.2 544.5L679.0 545.8L679.8 547.0L680.7 548.3L681.6 549.5L682.5 550.6L683.5 551.7L684.6 552.7L685.8 553.6L687.0 554.4L688.5 554.9L689.9 555.5L691.0 556.5L691.7 557.9L692.7 559.2L694.0 559.7L695.5 560.0L696.9 560.6L698.2 561.3L699.6 562.0L700.8 562.8L702.3 563.3L703.8 563.6L705.2 564.1L706.7 564.3L708.2 564.6L709.6 565.2L711.0 565.6L712.3 566.6L713.2 567.7L714.6 568.5L715.9 569.3L717.1 570.1L718.2 571.0L719.3 572.1L720.3 573.3L721.3 574.5L722.5 575.3L723.8 576.0L725.3 576.7L726.6 577.5L727.6 578.5L728.6 579.7L729.6 580.8L730.9 581.7L732.0 582.7L732.8 584.0L733.7 585.2L734.7 586.3L735.7 587.5L737.0 588.3L738.4 588.9L739.6 589.9L740.6 591.0L741.9 591.8L743.5 592.2L744.8 592.9L745.8 594.1L747.0 595.0L748.0 596.1L748.7 597.6L749.8 598.6L751.1 599.4L751.9 600.8L752.8 602.1L754.2 602.8L755.9 603.1L757.1 603.9L758.2 604.9L759.6 605.6L760.7 606.6L761.7 607.8L763.1 608.4L764.5 609.0L765.9 609.6L767.3 610.2L768.4 611.2L769.4 612.4L770.8 613.1L772.2 613.6L773.6 614.3L774.8 615.2L776.1 616.0L777.4 616.7L778.8 617.4L780.2 617.9L781.7 618.2L783.2 618.5L784.5 619.3L785.9 619.9L787.3 620.4L788.6 621.2L790.0 621.7L791.4 622.1L792.7 623.0L794.1 623.6L795.7 623.5L797.2 623.8L798.5 624.5L799.9 625.2L801.3 625.6L802.8 626.0L804.3 626.3L805.7 626.6L807.2 627.1L808.6 627.6L810.0 627.9L811.5 628.2L813.0 628.2L814.5 628.4L816.0 628.7L817.5 628.9L819.0 629.3L820.5 629.3L822.0 629.0L823.5 629.5L824.9 630.2L826.4 630.5L827.9 630.3L829.5 630.1L831.0 630.3L832.4 630.8L833.9 631.2L835.4 631.3L836.9 631.0L838.5 630.8L839.9 631.0L841.4 631.3L842.9 631.4L844.4 631.6L845.9 631.5L847.4 631.3L848.9 631.8L850.4 632.3L851.9 632.4L853.4 632.0L854.9 631.6L856.4 631.6L857.9 631.7L859.4 631.8L860.9 632.0L862.4 631.9L863.9 631.6L865.4 631.4L866.9 631.9L868.4 632.1L869.9 632.1L871.4 632.3L873.0 632.2L874.4 632.3L875.9 632.6L877.5 632.4L879.0 632.4L880.5 632.5L882.0 632.6L883.5 632.6L885.0 632.4L886.5 632.2L888.0 632.1L889.5 632.7L890.9 633.3L892.5 633.1L894.0 632.9L895.5 633.1L897.0 633.1L898.5 633.2L900.0 633.3L901.5 633.4L903.0 633.4L904.5 633.5L906.0 633.6L907.5 633.7L909.0 633.8L910.5 633.9L912.0 634.0L913.5 634.1L915.0 634.2L916.5 634.3L918.0 634.4L919.5 634.5L921.0 634.6L922.5 634.7L924.0 634.8L925.5 634.9L927.0 635.0L928.5 635.1L930.0 635.3L931.4 635.4" stroke="#B400B4" stroke-width="2.1"/>
<path d="M545.2 603.5L545.9 602.2L546.6 600.8L547.3 599.5L547.9 598.1L548.6 596.8L549.2 595.4L549.8 594.0L550.4 592.6L550.9 591.2L551.5 589.8L552.0 588.4L552.5 587.0L553.0 585.6L553.4 584.2L553.9 582.8L554.3 581.4L554.8 579.9L555.2 578.5L555.6 577.0L556.0 575.6L556.3 574.1L556.7 572.7L557.0 571.2L557.4 569.8L557.7 568.3L558.0 566.8L558.3 565.4L558.6 563.9L558.9 562.4L559.2 560.9L559.5 559.4L559.7 558.0L560.0 556.5L560.2 555.0L560.5 553.5L560.7 552.0L561.0 550.5L561.2 549.0L561.4 547.5L561.7 546.1L561.9 544.6L562.1 543.1L562.4 541.6L562.6 540.1L562.8 538.6L563.0 537.1L563.3 535.6L563.5 534.1L563.7 532.6L563.9 531.2L564.1 529.7L564.3 528.2L564.6 526.7L564.8 525.2L565.0 523.7L565.2 522.2L565.4 520.7L565.6 519.2L565.8 517.7L566.0 516.3L566.2 514.8L566.4 513.3L566.6 511.8L566.8 510.3L567.0 508.8L567.2 507.3L567.4 505.8L567.6 504.3L567.8 502.8L568.0 501.4L568.2 499.9L568.4 498.4L568.6 496.9L568.8 495.4L568.9 493.9L569.1 492.4L569.3 490.9L569.5 489.4L569.7 487.9L569.9 486.4L570.1 485.0L570.2 483.5L570.4 482.0L570.6 480.5L570.8 479.0L571.0 477.5L571.1 476.0L571.3 474.5L571.5 473.0L571.7 471.5L571.8 470.0L572.0 468.5L572.2 467.0L572.4 465.5L572.5 464.1L572.7 462.6L572.9 461.1L573.0 459.6L573.2 458.1L573.4 456.6L573.5 455.1L573.7 453.6L573.9 452.1L574.0 450.6L574.2 449.1L574.4 447.6L574.5 446.1L574.7 444.6L574.8 443.1L575.0 441.6L575.2 440.1L575.3 438.6L575.5 437.1L575.6 435.6L575.8 434.1L576.0 432.6L576.1 431.1L576.3 429.6L576.4 428.1L576.6 426.6L576.7 425.1L576.9 423.6L577.0 422.1L577.2 420.7L577.3 419.2L577.5 417.7L577.6 416.2L577.8 414.7L577.9 413.2L578.1 411.7L578.2 410.2L578.4 408.7L578.5 407.2L578.6 405.7L578.8 404.2L578.9 402.7L579.1 401.2L579.2 399.7L579.4 398.2L579.5 396.7L579.6 395.2L579.8 393.7L579.9 392.2L580.0 390.7L580.2 389.2L580.3 387.7L580.4 386.2L580.6 384.7L580.7 383.2L580.9 381.7L581.0 380.2L581.1 378.7L581.2 377.2L581.4 375.7L581.5 374.2L581.6 372.7L581.8 371.2L581.9 369.7L582.0 368.2L582.1 366.7L582.3 365.2L582.4 363.7L582.5 362.2L582.6 360.7L582.8 359.2L582.9 357.7L583.0 356.2L583.1 354.7L583.3 353.2L583.4 351.7L583.5 350.2L583.6 348.7L583.7 347.2L583.9 345.7L584.0 344.2L584.1 342.7L584.2 341.2L584.3 339.7L584.4 338.2L584.5 336.7L584.7 335.2L584.8 333.7L584.9 332.2L585.0 330.7L585.1 329.2L585.2 327.7L585.3 326.2L585.5 324.7L585.6 323.2L585.7 321.7L585.8 320.2L585.9 318.7L586.0 317.2L586.1 315.7L586.2 314.2L586.3 312.7L586.4 311.2L586.5 309.7L586.7 308.2L586.8 306.7L586.9 305.2L587.0 303.7L587.1 302.2L587.2 300.7L587.3 299.2L587.4 297.7L587.5 296.3L587.6 294.8L587.7 293.3L587.8 291.8L587.9 290.3L588.0 288.8L588.2 287.3L588.3 285.8L588.4 284.3L588.5 282.8L588.6 281.3L588.7 279.8L588.8 278.3L588.9 276.8L589.0 275.3L589.1 273.8L589.2 272.3L589.3 270.8L589.4 269.3L589.5 267.8L589.7 266.3L589.8 264.8L589.9 263.3L590.0 261.8L590.1 260.3L590.2 258.8L590.3 257.3L590.4 255.8L590.5 254.3L590.6 252.8L590.8 251.3L590.9 249.8L591.0 248.3L591.1 246.8L591.2 245.3L591.3 243.8L591.4 242.3L591.5 240.8L591.7 239.3L591.8 237.8L591.9 236.3L592.0 234.8L592.1 233.3L592.2 231.8L592.4 230.3L592.5 228.8L592.6 227.3L592.7 225.8L592.8 224.3L593.0 222.8L593.1 221.3L593.2 219.8L593.3 218.3L593.4 216.8L593.6 215.3L593.7 213.8L593.8 212.3L594.0 210.8L594.1 209.3L594.2 207.8L594.3 206.3L594.5 204.8L594.6 203.3L594.7 201.8L594.9 200.3L595.0 198.8L595.1 197.3L595.3 195.8L595.4 194.3L595.5 192.7L595.7 191.2L595.8 189.7L596.0 188.3L596.1 186.8L596.2 185.3L596.4 183.8L596.5 182.3L596.7 180.8L596.8 179.3L597.0 177.8L597.1 176.3L597.3 174.8L597.4 173.3L597.6 171.8L597.7 170.3L597.9 168.8L598.0 167.3L598.2 165.8L598.3 164.3L598.5 162.8L598.7 161.3L598.8 159.8L599.0 158.4L599.1 156.9L599.3 155.4L599.5 153.9L599.6 152.4L599.8 150.9L600.0 149.4L600.1 147.9L600.3 146.4L600.5 144.9L600.7 143.4L600.8 141.9L601.0 140.4L601.2 138.9L601.4 137.4L601.6 135.9L601.8 134.4L602.0 132.9L602.2 131.4L602.4 129.9L602.6 128.4L602.8 126.9L603.0 125.5L603.3 124.0L603.5 122.5L603.7 121.0L604.0 119.6L604.2 118.1L604.5 116.7L604.8 115.2L605.1 113.8L605.3 112.3L605.6 110.8L605.9 109.2L606.2 107.6L606.6 106.0L607.1 104.5L607.9 103.2L608.9 102.1L610.1 101.4L611.3 101.1L612.5 101.3L613.3 102.0L613.9 103.1L614.4 104.5L614.8 105.9L615.2 107.4L615.5 108.9L615.9 110.4L616.2 111.9L616.6 113.4L616.9 114.9L617.2 116.4L617.6 117.9L617.9 119.4L618.2 120.9L618.5 122.4L618.7 123.8L619.0 125.3L619.3 126.8L619.5 128.3L619.8 129.8L620.0 131.3L620.3 132.8L620.5 134.3L620.8 135.7L621.0 137.2L621.2 138.7L621.4 140.2L621.6 141.7L621.8 143.2L622.0 144.7L622.2 146.2L622.4 147.6L622.6 149.1L622.8 150.6L623.0 152.1L623.2 153.6L623.3 155.1L623.5 156.6L623.7 158.1L623.8 159.6L624.0 161.0L624.2 162.5L624.3 164.0L624.5 165.5L624.7 167.0L624.8 168.5L625.0 170.0L625.2 171.5L625.3 173.0L625.5 174.5L625.6 176.0L625.8 177.5L625.9 179.0L626.1 180.5L626.3 182.0L626.4 183.5L626.6 185.0L626.7 186.5L626.9 188.0L627.0 189.5L627.2 191.0L627.3 192.4L627.5 193.9L627.6 195.5L627.8 197.0L627.9 198.5L628.1 200.0L628.2 201.5L628.4 203.0L628.5 204.5L628.7 206.0L628.8 207.5L628.9 209.0L629.1 210.5L629.2 212.0L629.4 213.5L629.5 215.0L629.6 216.5L629.8 218.0L629.9 219.5L630.1 221.0L630.2 222.5L630.3 224.0L630.5 225.5L630.6 227.0L630.7 228.5L630.8 230.0L631.0 231.5L631.1 233.0L631.2 234.5L631.4 236.0L631.5 237.5L631.6 239.0L631.7 240.5L631.8 242.0L632.0 243.5L632.1 245.0L632.2 246.5L632.3 248.0L632.4 249.5L632.6 251.0L632.7 252.5L632.8 254.0L632.9 255.5L633.0 257.0L633.1 258.5L633.2 260.0L633.4 261.5L633.5 263.0L633.6 264.5L633.7 266.0L633.8 267.5L633.9 269.0L634.0 270.5L634.1 272.0L634.2 273.5L634.3 275.0L634.4 276.5L634.5 278.0L634.6 279.5L634.7 281.0L634.8 282.5L634.9 284.0L635.0 285.5L635.1 287.0L635.2 288.5L635.3 290.0L635.4 291.5L635.5 293.0L635.6 294.5L635.7 296.0L635.8 297.5L635.9 299.0L636.0 300.5L636.1 302.0L636.2 303.5L636.3 305.0L636.4 306.5L636.4 308.0L636.5 309.5L636.6 311.0L636.7 312.5L636.8 314.0L636.9 315.5L637.0 317.0L637.1 318.5L637.2 320.0L637.3 321.5L637.4 323.0L637.4 324.5L637.5 326.0L637.6 327.5L637.7 329.0L637.8 330.5L637.9 332.0L638.0 333.5L638.1 335.0L638.1 336.5L638.2 338.0L638.3 339.5L638.4 341.0L638.5 342.5L638.6 344.0L638.7 345.5L638.7 347.0L638.8 348.5L638.9 350.0L639.0 351.5L639.1 353.0L639.2 354.5L639.3 356.0L639.3 357.5L639.4 359.0L639.5 360.5L639.6 362.0L639.7 363.5L639.8 365.0L639.9 366.5L640.0 368.0L640.0 369.5L640.1 371.0L640.2 372.5L640.3 374.0L640.4 375.5L640.5 377.0L640.6 378.5L640.7 380.0L640.7 381.5L640.8 383.0L640.9 384.5L641.0 386.0L641.1 387.5L641.2 389.0L641.3 390.5L641.4 392.0L641.5 393.5L641.6 395.0L641.7 396.5L641.8 398.0L641.9 399.5L642.0 401.0L642.1 402.5L642.2 404.0L642.3 405.5L642.4 407.0L642.5 408.5L642.6 410.0L642.7 411.5L642.8 413.0L642.9 414.5L643.0 416.0L643.2 417.5L643.3 419.0L643.4 420.5L643.5 422.0L643.6 423.5L643.7 425.0L643.9 426.5L644.0 428.0L644.1 429.5L644.3 431.0L644.4 432.5L644.5 434.0L644.6 435.5L644.8 437.0L644.9 438.5L645.1 440.0L645.2 441.5L645.3 443.0L645.5 444.5L645.6 446.0L645.8 447.5L645.9 449.0L646.1 450.5L646.3 452.0L646.4 453.5L646.6 455.0L646.8 456.5L646.9 458.0L647.1 459.5L647.3 461.0L647.4 462.5L647.6 464.0L647.8 465.4L648.0 466.9L648.2 468.4L648.4 469.9L648.6 471.4L648.8 472.9L649.0 474.4L649.2 475.9L649.4 477.4L649.6 478.9L649.8 480.4L650.0 481.8L650.2 483.3L650.4 484.8L650.7 486.3L650.9 487.8L651.1 489.3L651.3 490.8L651.6 492.3L651.8 493.7L652.1 495.2L652.3 496.7L652.6 498.2L652.8 499.7L653.1 501.2L653.3 502.6L653.6 504.1L653.9 505.6L654.2 507.1L654.4 508.6L654.7 510.0L655.0 511.5L655.3 513.0L655.6 514.5L655.9 515.9L656.3 517.4L656.6 518.9L656.9 520.4L657.2 521.8L657.6 523.3L657.9 524.7L658.3 526.2L658.6 527.7L659.0 529.1L659.4 530.6L659.8 532.0L660.2 533.5L660.6 534.9L661.0 536.4L661.4 537.8L661.8 539.3L662.2 540.7L662.7 542.1L663.1 543.6L663.6 545.0L664.0 546.4L664.5 547.8L665.0 549.3L665.5 550.7L666.0 552.1L666.5 553.5L667.1 554.9L667.6 556.3L668.1 557.7L668.7 559.1L669.3 560.5L669.8 561.9L670.4 563.3L670.9 564.7L671.5 566.1L672.0 567.5L672.4 568.9L672.9 570.3L673.4 571.7L673.9 573.1L674.5 574.5L675.1 575.8L675.8 577.1L676.6 578.4L677.4 579.7L678.2 581.0L679.1 582.2L679.9 583.5L680.9 584.7L681.8 585.9L682.7 587.1L683.6 588.3L684.6 589.4L685.6 590.6L686.5 591.7L687.5 592.9L688.5 594.0L689.5 595.1L690.6 596.2L691.6 597.2L692.7 598.3L693.8 599.3L694.9 600.3L696.0 601.3L697.1 602.3L698.3 603.2L699.5 604.2L700.7 605.1L701.9 605.9L703.2 606.8" stroke="#990099" stroke-width="2.1"/>
<path d="M521.6 636.2L523.3 636.3L524.8 636.3L526.1 636.1L527.4 635.8L528.6 635.5L529.8 635.2L531.1 634.9L532.4 634.6L533.8 634.4L535.2 634.3L536.6 634.1L538.1 634.0L539.6 633.9L541.1 633.8L542.6 633.6L544.1 633.5L545.6 633.4L547.1 633.3L548.6 633.1L550.1 632.9L551.6 632.7L553.0 632.5L554.5 632.1L556.0 631.8L557.4 631.3L558.9 630.9L560.3 630.3L561.6 629.7L563.0 629.0L564.3 628.3L565.6 627.5L566.8 626.6L568.0 625.7L569.1 624.8L570.2 623.7L571.2 622.7L572.2 621.5L573.1 620.4L573.9 619.2L574.7 617.9L575.5 616.6L576.2 615.3L576.9 613.9L577.5 612.6L578.1 611.2L578.7 609.8L579.3 608.4L579.8 607.0L580.3 605.5L580.8 604.1L581.3 602.7L581.8 601.3L582.2 599.8L582.7 598.4L583.1 597.0L583.5 595.5L583.9 594.1L584.3 592.6L584.7 591.2L585.1 589.7L585.4 588.3L585.8 586.8L586.1 585.4L586.5 583.9L586.8 582.4L587.2 581.0L587.5 579.5L587.8 578.1L588.2 576.6L588.5 575.1L588.8 573.7L589.2 572.2L589.5 570.7L589.8 569.3L590.2 567.8L590.5 566.3L590.8 564.9L591.1 563.4L591.5 561.9L591.8 560.4L592.1 559.0L592.4 557.5L592.6 556.0L592.9 554.5L593.2 553.1L593.4 551.6L593.6 550.1L593.9 548.6L594.1 547.1L594.3 545.6L594.5 544.2L594.7 542.7L594.9 541.2L595.1 539.7L595.3 538.2L595.5 536.7L595.7 535.2L595.9 533.7L596.1 532.2L596.3 530.7L596.5 529.3L596.6 527.8L596.8 526.3L597.0 524.8L597.2 523.3L597.4 521.8L597.5 520.3L597.7 518.8L597.9 517.3L598.1 515.8L598.3 514.3L598.4 512.9L598.6 511.4L598.8 509.9L599.0 508.4L599.2 506.9L599.4 505.4L599.6 503.9L599.7 502.4L599.9 500.9L600.1 499.4L600.3 497.9L600.5 496.5L600.7 495.0L600.9 493.5L601.1 492.0L601.3 490.5L601.5 489.0L601.7 487.5L601.9 486.0L602.1 484.5L602.3 483.1L602.6 481.6L602.8 480.1L603.0 478.6L603.2 477.1L603.4 475.6L603.6 474.1L603.8 472.6L604.0 471.1L604.2 469.7L604.4 468.2L604.5 466.7L604.7 465.2L604.9 463.7L605.1 462.2L605.3 460.7L605.5 459.2L605.6 457.7L605.8 456.2L606.0 454.7L606.1 453.3L606.3 451.8L606.4 450.3L606.6 448.8L606.7 447.3L606.9 445.8L607.0 444.3L607.2 442.8L607.3 441.3L607.4 439.8L607.6 438.3L607.7 436.8L607.8 435.3L607.9 433.8L608.0 432.3L608.2 430.8L608.3 429.3L608.4 427.8L608.5 426.3L608.6 424.8L608.7 423.3L608.8 421.8L609.0 420.4L609.1 418.9L609.2 417.4L609.3 415.9L609.4 414.4L609.5 412.9L609.6 411.4L609.7 409.9L609.8 408.4L609.9 406.9L610.0 405.4L610.1 403.9L610.2 402.4L610.2 400.9L610.3 399.4L610.4 397.9L610.5 396.4L610.6 394.9L610.7 393.4L610.8 391.9L610.9 390.4L611.0 388.9L611.1 387.4L611.2 385.9L611.3 384.4L611.4 382.9L611.5 381.4L611.6 379.9L611.7 378.4L611.8 376.9L611.9 375.4L612.0 373.9L612.1 372.4L612.2 370.9L612.3 369.4L612.4 367.9L612.5 366.4L612.6 364.9L612.7 363.4L612.8 361.9L612.9 360.4L613.1 358.9L613.2 357.4L613.3 355.9L613.4 354.4L613.5 352.9L613.6 351.4L613.7 349.8L613.8 348.3L613.9 346.8L614.0 345.3L614.2 343.8L614.3 342.3L614.4 340.8L614.5 339.3L614.6 337.8L614.7 336.3L614.8 334.8L615.0 333.3L615.1 331.8L615.2 330.3L615.3 328.8L615.4 327.3L615.5 325.8L615.7 324.3L615.8 322.8L615.9 321.3L616.0 319.8L616.1 318.3L616.2 316.8L616.4 315.3L616.5 313.8L616.6 312.3L616.7 310.8L616.8 309.3L617.0 307.8L617.1 306.3L617.2 304.8L617.3 303.3L617.4 301.8L617.6 300.3L617.7 298.8L617.8 297.3L617.9 295.8L618.0 294.3L618.2 292.8L618.3 291.3L618.4 289.8L618.5 288.3L618.7 286.8L618.8 285.3L618.9 283.8L619.0 282.3L619.1 280.9L619.3 279.4L619.4 277.9L619.5 276.4L619.6 274.9L619.8 273.4L619.9 271.9L620.0 270.4L620.1 268.9L620.2 267.4L620.4 265.9L620.5 264.4L620.6 262.9L620.7 261.4L620.9 259.9L621.0 258.4L621.1 256.9L621.2 255.4L621.3 253.9L621.5 252.4L621.6 250.9L621.7 249.4L621.8 247.9L621.9 246.4L622.1 244.9L622.2 243.4L622.3 241.9L622.4 240.4L622.5 238.9L622.7 237.4L622.8 235.9L622.9 234.4L623.0 232.9L623.1 231.4L623.3 229.9L623.4 228.4L623.5 226.9L623.6 225.4L623.7 224.0L623.9 222.5L624.0 221.0L624.1 219.5L624.2 218.0L624.3 216.5L624.4 215.0L624.6 213.5L624.7 212.0L624.8 210.5L624.9 209.0L625.0 207.5L625.2 206.0L625.3 204.5L625.4 203.0L625.5 201.5L625.6 200.0L625.8 198.5L625.9 197.0L626.0 195.5L626.1 194.1L626.3 192.6L626.4 191.1L626.5 189.6L626.6 188.1L626.8 186.6L626.9 185.1L627.0 183.6L627.2 182.1L627.3 180.6L627.4 179.1L627.6 177.6L627.7 176.1L627.8 174.6L628.0 173.1L628.1 171.6L628.3 170.1L628.4 168.6L628.6 167.1L628.7 165.6L628.9 164.1L629.0 162.6L629.2 161.2L629.3 159.7L629.5 158.2L629.7 156.7L629.8 155.2L630.0 153.7L630.2 152.2L630.3 150.7L630.5 149.2L630.7 147.7L630.9 146.2L631.0 144.7L631.2 143.2L631.4 141.7L631.6 140.2L631.8 138.7L632.0 137.2L632.2 135.7L632.4 134.3L632.6 132.8L632.8 131.3L633.0 129.8L633.2 128.4L633.4 126.9L633.6 125.4L633.8 124.0L634.1 122.5L634.3 121.0L634.6 119.5L634.8 118.1L635.1 116.6L635.4 115.0L635.6 113.5L635.9 112.0L636.3 110.5L636.6 108.9L637.1 107.4L637.6 105.9L638.2 104.5L639.0 103.2L639.8 102.0L640.8 101.3L641.8 101.2L642.8 101.8L643.7 102.8L644.6 103.9L645.3 105.1L645.9 106.4L646.4 107.7L646.8 109.1L647.2 110.5L647.5 111.9L647.8 113.4L648.0 114.9L648.3 116.4L648.5 117.9L648.8 119.4L649.0 120.9L649.3 122.4L649.5 123.9L649.7 125.4L650.0 126.9L650.2 128.4L650.4 129.8L650.7 131.3L650.9 132.8L651.1 134.3L651.3 135.8L651.6 137.3L651.8 138.8L652.0 140.3L652.2 141.8L652.5 143.3L652.7 144.8L652.9 146.3L653.1 147.8L653.3 149.3L653.5 150.7L653.7 152.2L653.9 153.7L654.2 155.2L654.4 156.7L654.6 158.2L654.8 159.7L655.0 161.2L655.2 162.7L655.4 164.2L655.6 165.7L655.8 167.2L656.0 168.7L656.2 170.1L656.4 171.6L656.5 173.1L656.7 174.6L656.9 176.1L657.1 177.6L657.3 179.1L657.5 180.6L657.7 182.1L657.9 183.6L658.0 185.1L658.2 186.6L658.4 188.1L658.6 189.5L658.8 191.0L659.0 192.5L659.1 194.0L659.3 195.5L659.5 197.0L659.7 198.5L659.8 200.0L660.0 201.5L660.2 203.0L660.4 204.5L660.5 206.0L660.7 207.4L660.9 208.9L661.0 210.4L661.2 211.9L661.4 213.4L661.5 214.9L661.7 216.4L661.9 217.9L662.0 219.4L662.2 220.9L662.4 222.4L662.5 223.9L662.7 225.4L662.8 226.8L663.0 228.3L663.2 229.8L663.3 231.3L663.5 232.8L663.6 234.3L663.8 235.8L664.0 237.3L664.1 238.8L664.3 240.3L664.4 241.8L664.6 243.3L664.7 244.7L664.9 246.2L665.0 247.7L665.2 249.2L665.3 250.7L665.5 252.2L665.6 253.7L665.8 255.2L666.0 256.7L666.1 258.2L666.3 259.7L666.4 261.2L666.6 262.6L666.7 264.1L666.9 265.6L667.0 267.1L667.1 268.6L667.3 270.1L667.4 271.6L667.6 273.1L667.7 274.6L667.9 276.1L668.0 277.6L668.2 279.1L668.3 280.5L668.5 282.0L668.6 283.5L668.8 285.0L668.9 286.5L669.1 288.0L669.2 289.5L669.4 291.0L669.5 292.5L669.7 294.0L669.8 295.5L669.9 297.0L670.1 298.5L670.2 299.9L670.4 301.4L670.5 302.9L670.7 304.4L670.8 305.9L671.0 307.4L671.1 308.9L671.3 310.4L671.4 311.9L671.6 313.4L671.7 314.9L671.9 316.4L672.0 317.8L672.2 319.3L672.3 320.8L672.5 322.3L672.6 323.8L672.8 325.3L672.9 326.8L673.1 328.3L673.2 329.8L673.4 331.3L673.5 332.8L673.7 334.3L673.8 335.8L674.0 337.3L674.1 338.7L674.3 340.2L674.4 341.7L674.6 343.2L674.7 344.7L674.9 346.2L675.1 347.7L675.2 349.2L675.4 350.7L675.5 352.2L675.7 353.7L675.8 355.2L676.0 356.7L676.2 358.2L676.3 359.6L676.5 361.1L676.6 362.6L676.8 364.1L677.0 365.6L677.1 367.1L677.3 368.6L677.5 370.1L677.6 371.6L677.8 373.1L678.0 374.6L678.1 376.1L678.3 377.6L678.5 379.1L678.6 380.6L678.8 382.0L679.0 383.5L679.2 385.0L679.3 386.5L679.5 388.0L679.7 389.5L679.9 391.0L680.0 392.5L680.2 394.0L680.4 395.5L680.6 397.0L680.8 398.5L680.9 400.0L681.1 401.5L681.3 403.0L681.5 404.5L681.7 406.0L681.9 407.4L682.1 408.9L682.2 410.4L682.4 411.9L682.6 413.4L682.8 414.9L683.0 416.4L683.2 417.9L683.4 419.4L683.6 420.9L683.8 422.4L684.0 423.9L684.2 425.4L684.4 426.9L684.6 428.4L684.8 429.9L685.0 431.4L685.2 432.9L685.5 434.4L685.7 435.8L685.9 437.3L686.1 438.8L686.3 440.3L686.6 441.8L686.8 443.3L687.0 444.8L687.3 446.3L687.5 447.8L687.8 449.3L688.0 450.7L688.3 452.2L688.5 453.7L688.8 455.2L689.1 456.7L689.3 458.2L689.6 459.6L689.9 461.1L690.2 462.6L690.5 464.1L690.8 465.5L691.1 467.0L691.4 468.5L691.7 470.0L692.0 471.4L692.3 472.9L692.7 474.4L693.0 475.8L693.4 477.3L693.7 478.8L694.1 480.2L694.4 481.7L694.8 483.1L695.2 484.6L695.6 486.0L695.9 487.5L696.3 488.9L696.7 490.4L697.2 491.8L697.6 493.3L698.0 494.7L698.5 496.1L698.9 497.6L699.3 499.0L699.8 500.4L700.3 501.9L700.8 503.3L701.2 504.7L701.7 506.1L702.2 507.5L702.8 508.9L703.3 510.3L703.8 511.8L704.4 513.2L704.9 514.5L705.5 515.9L706.0 517.3L706.6 518.7L707.2 520.1L707.8 521.5L708.4 522.9L709.1 524.2L709.7 525.6L710.3 526.9L711.0 528.3L711.6 529.7L712.3 531.0L713.0 532.3L713.7 533.7L714.4 535.0L715.1 536.3L715.9 537.6L716.6 538.9L717.4 540.2L718.2 541.5L719.0 542.8L719.8 544.0L720.6 545.3L721.5 546.5L722.3 547.7L723.2 548.9L724.1 550.1L725.1 551.3L726.0 552.4L727.0 553.6L727.9 554.7L728.9 555.8L730.0 556.9L731.0 558.0L732.1 559.1L733.1 560.1L734.2 561.2L735.3 562.2L736.4 563.2L737.5 564.2L738.7 565.3L739.8 566.3L740.9 567.3L742.0 568.3L743.1 569.4L744.1 570.4L745.2 571.5L746.3 572.6L747.3 573.6L748.4 574.7L749.4 575.8L750.5 576.9L751.5 577.9L752.6 579.0L753.7 580.0L754.8 581.0L755.9 582.0L757.0 583.0L758.1 584.0L759.3 585.0L760.4 585.9L761.6 586.9L762.8 587.8L764.0 588.7L765.2 589.6L766.4 590.5L767.6 591.4L768.8 592.3L770.0 593.2L771.2 594.1L772.4 595.0L773.6 595.9L774.8 596.9L776.0 597.8L777.2 598.7L778.3 599.6L779.5 600.6L780.7 601.5L781.8 602.5L782.9 603.5L784.1 604.5L785.2 605.5L786.3 606.6L787.4 607.6L788.5 608.6L789.6 609.6L790.7 610.6L791.9 611.5L793.0 612.5L794.2 613.4L795.4 614.3L796.7 615.1L797.9 615.9L799.2 616.7L800.5 617.4L801.9 618.1L803.2 618.7L804.6 619.4L806.0 620.0L807.4 620.5L808.8 621.1L810.3 621.6L811.7 622.0L813.1 622.5L814.6 622.9L816.0 623.3L817.5 623.7L818.9 624.0L820.4 624.4L821.8 624.7L823.3 624.9L824.8 625.2L826.3 625.5L827.7 625.7L829.2 625.9L830.7 626.1L832.2 626.3L833.7 626.4L835.2 626.6L836.7 626.7L838.2 626.8L839.7 627.0L841.2 627.0L842.7 627.1L844.2 627.2" stroke="#E000C0" stroke-width="2.1"/>
<path d="M509.7 635.8L511.2 635.8L512.7 635.7L514.2 635.6L515.7 635.6L517.2 635.5L518.7 635.5L520.2 635.4L521.7 635.4L523.3 635.4L524.8 635.4L526.3 635.3L527.7 635.2L529.0 634.9L529.9 634.3L530.7 633.5L531.7 633.0L533.1 632.8L534.7 632.6L536.2 632.5L537.7 632.4L539.2 632.2L540.7 632.0L542.2 631.8L543.7 631.6L545.2 631.4L546.6 631.1L548.1 630.8L549.6 630.4L551.0 630.0L552.4 629.5L553.8 628.9L555.2 628.3L556.5 627.6L557.8 626.9L559.1 626.1L560.4 625.3L561.6 624.4L562.7 623.4L563.8 622.4L564.9 621.4L565.9 620.3L566.8 619.1L567.7 617.9L568.5 616.7L569.3 615.5L570.1 614.2L570.8 612.8L571.5 611.5L572.1 610.1L572.7 608.7L573.3 607.3L573.8 605.9L574.3 604.5L574.9 603.0L575.3 601.6L575.8 600.2L576.3 598.8L576.7 597.3L577.2 595.9L577.6 594.5L578.0 593.0L578.4 591.6L578.9 590.2L579.3 588.7L579.7 587.3L580.1 585.8L580.5 584.4L580.9 582.9L581.3 581.5L581.6 580.0L582.0 578.6L582.4 577.1L582.8 575.7L583.2 574.2L583.6 572.8L584.0 571.3L584.3 569.8L584.7 568.4L585.0 566.9L585.3 565.4L585.7 564.0L586.0 562.5L586.3 561.0L586.6 559.6L586.8 558.1L587.1 556.6L587.4 555.1L587.6 553.7L587.9 552.2L588.1 550.7L588.3 549.2L588.5 547.7L588.8 546.2L589.0 544.8L589.2 543.3L589.4 541.8L589.5 540.3L589.7 538.8L589.9 537.3L590.1 535.8L590.3 534.3L590.4 532.8L590.6 531.3L590.8 529.8L591.0 528.3L591.1 526.9L591.3 525.4L591.5 523.9L591.6 522.4L591.8 520.9L592.0 519.4L592.2 517.9L592.3 516.4L592.5 514.9L592.7 513.4L592.8 511.9L593.0 510.4L593.2 508.9L593.4 507.4L593.5 505.9L593.7 504.5L593.9 503.0L594.1 501.5L594.2 500.0L594.4 498.5L594.6 497.0L594.8 495.5L594.9 494.0L595.1 492.5L595.3 491.0L595.4 489.5L595.6 488.0L595.8 486.5L596.0 485.1L596.1 483.6L596.3 482.1L596.5 480.6L596.6 479.1L596.8 477.6L597.0 476.1L597.1 474.6L597.3 473.1L597.5 471.6L597.6 470.1L597.8 468.6L598.0 467.1L598.1 465.6L598.3 464.1L598.4 462.7L598.6 461.2L598.7 459.7L598.9 458.2L599.1 456.7L599.2 455.2L599.4 453.7L599.5 452.2L599.6 450.7L599.8 449.2L599.9 447.7L600.1 446.2L600.2 444.7L600.4 443.2L600.5 441.7L600.6 440.2L600.8 438.7L600.9 437.2L601.0 435.7L601.2 434.2L601.3 432.8L601.4 431.3L601.6 429.8L601.7 428.3L601.8 426.8L601.9 425.3L602.0 423.8L602.2 422.3L602.3 420.8L602.4 419.3L602.5 417.8L602.6 416.3L602.8 414.8L602.9 413.3L603.0 411.8L603.1 410.3L603.2 408.8L603.3 407.3L603.4 405.8L603.5 404.3L603.6 402.8L603.8 401.3L603.9 399.8L604.0 398.3L604.1 396.8L604.2 395.3L604.3 393.8L604.4 392.3L604.5 390.8L604.6 389.3L604.7 387.8L604.8 386.3L604.9 384.8L605.0 383.3L605.1 381.8L605.2 380.3L605.3 378.8L605.4 377.3L605.6 375.8L605.7 374.3L605.8 372.8L605.9 371.3L606.0 369.8L606.1 368.3L606.2 366.8L606.3 365.3L606.4 363.8L606.5 362.3L606.6 360.8L606.7 359.3L606.8 357.8L606.9 356.3L607.1 354.8L607.2 353.3L607.3 351.8L607.4 350.3L607.5 348.8L607.6 347.3L607.7 345.8L607.8 344.3L608.0 342.8L608.1 341.3L608.2 339.8L608.3 338.3L608.4 336.8L608.5 335.3L608.6 333.8L608.8 332.3L608.9 330.8L609.0 329.3L609.1 327.8L609.2 326.3L609.4 324.8L609.5 323.3L609.6 321.8L609.7 320.3L609.8 318.9L610.0 317.4L610.1 315.9L610.2 314.4L610.3 312.9L610.5 311.4L610.6 309.9L610.7 308.4L610.8 306.9L611.0 305.4L611.1 303.9L611.2 302.4L611.3 300.9L611.5 299.4L611.6 297.9L611.7 296.4L611.9 294.9L612.0 293.4L612.1 291.9L612.2 290.4L612.4 288.9L612.5 287.4L612.6 285.9L612.8 284.4L612.9 282.9L613.0 281.4L613.2 279.9L613.3 278.4L613.4 276.9L613.6 275.4L613.7 273.9L613.8 272.4L614.0 270.9L614.1 269.4L614.2 267.9L614.4 266.4L614.5 264.9L614.6 263.4L614.8 262.0L614.9 260.5L615.1 259.0L615.2 257.5L615.3 256.0L615.5 254.5L615.6 253.0L615.7 251.5L615.9 250.0L616.0 248.5L616.2 247.0L616.3 245.5L616.4 244.0L616.6 242.5L616.7 241.0L616.8 239.5L617.0 238.0L617.1 236.5L617.3 235.0L617.4 233.5L617.5 232.0L617.7 230.5L617.8 229.0L618.0 227.5L618.1 226.0L618.3 224.5L618.4 223.1L618.5 221.6L618.7 220.1L618.8 218.6L619.0 217.1L619.1 215.6L619.3 214.1L619.4 212.6L619.5 211.1L619.7 209.6L619.8 208.1L620.0 206.6L620.1 205.1L620.3 203.6L620.4 202.1L620.5 200.6L620.7 199.1L620.8 197.6L621.0 196.1L621.1 194.6L621.3 193.2L621.4 191.7L621.6 190.2L621.7 188.7L621.8 187.2L622.0 185.7L622.1 184.2L622.3 182.7L622.4 181.2L622.6 179.7L622.7 178.2L622.9 176.7L623.0 175.2L623.1 173.7L623.3 172.2L623.4 170.7L623.6 169.2L623.7 167.7L623.9 166.3L624.0 164.8L624.2 163.3L624.3 161.8L624.5 160.3L624.6 158.8L624.8 157.3L624.9 155.8L625.1 154.3L625.2 152.8L625.4 151.3L625.6 149.8L625.7 148.3L625.9 146.8L626.0 145.3L626.2 143.8L626.4 142.3L626.5 140.8L626.7 139.3L626.8 137.8L627.0 136.3L627.2 134.8L627.4 133.4L627.6 131.9L627.7 130.4L627.9 128.9L628.1 127.4L628.3 125.9L628.5 124.4L628.8 123.0L629.0 121.5L629.2 120.0L629.5 118.5L629.7 117.1L630.0 115.6L630.2 114.1L630.5 112.6L630.8 111.1L631.1 109.6L631.5 108.1L631.8 106.6L632.2 105.1L632.7 103.7L633.3 102.5L634.2 101.5L635.5 100.7L637.0 100.3L638.6 100.3L640.0 100.9L641.0 101.9L641.8 103.2L642.5 104.5L643.1 105.9L643.6 107.3L644.1 108.7L644.6 110.1L645.0 111.5L645.4 113.0L645.7 114.4L646.0 115.9L646.3 117.4L646.6 118.9L646.8 120.3L647.1 121.8L647.3 123.3L647.6 124.8L647.8 126.3L648.1 127.8L648.3 129.3L648.6 130.7L648.8 132.2L649.1 133.7L649.3 135.2L649.6 136.7L649.8 138.2L650.1 139.6L650.3 141.1L650.5 142.6L650.8 144.1L651.0 145.6L651.3 147.1L651.5 148.5L651.7 150.0L652.0 151.5L652.2 153.0L652.4 154.5L652.7 156.0L652.9 157.4L653.1 158.9L653.4 160.4L653.6 161.9L653.8 163.4L654.0 164.9L654.3 166.3L654.5 167.8L654.7 169.3L654.9 170.8L655.1 172.3L655.4 173.8L655.6 175.3L655.8 176.7L656.0 178.2L656.2 179.7L656.4 181.2L656.6 182.7L656.8 184.2L657.1 185.7L657.3 187.2L657.5 188.6L657.7 190.1L657.9 191.6L658.1 193.1L658.3 194.6L658.5 196.1L658.7 197.6L658.9 199.1L659.1 200.5L659.3 202.0L659.5 203.5L659.7 205.0L659.9 206.5L660.1 208.0L660.3 209.5L660.5 211.0L660.7 212.5L660.9 214.0L661.0 215.4L661.2 216.9L661.4 218.4L661.6 219.9L661.8 221.4L662.0 222.9L662.2 224.4L662.4 225.9L662.6 227.4L662.7 228.9L662.9 230.4L663.1 231.8L663.3 233.3L663.5 234.8L663.7 236.3L663.8 237.8L664.0 239.3L664.2 240.8L664.4 242.3L664.6 243.8L664.8 245.3L664.9 246.8L665.1 248.2L665.3 249.7L665.5 251.2L665.7 252.7L665.8 254.2L666.0 255.7L666.2 257.2L666.4 258.7L666.6 260.2L666.7 261.7L666.9 263.2L667.1 264.7L667.3 266.2L667.4 267.6L667.6 269.1L667.8 270.6L668.0 272.1L668.1 273.6L668.3 275.1L668.5 276.6L668.7 278.1L668.8 279.6L669.0 281.1L669.2 282.6L669.4 284.1L669.6 285.6L669.7 287.1L669.9 288.5L670.1 290.0L670.3 291.5L670.4 293.0L670.6 294.5L670.8 296.0L671.0 297.5L671.1 299.0L671.3 300.5L671.5 302.0L671.7 303.5L671.9 305.0L672.0 306.5L672.2 308.0L672.4 309.4L672.6 310.9L672.8 312.4L672.9 313.9L673.1 315.4L673.3 316.9L673.5 318.4L673.7 319.9L673.8 321.4L674.0 322.9L674.2 324.4L674.4 325.9L674.6 327.4L674.8 328.8L674.9 330.3L675.1 331.8L675.3 333.3L675.5 334.8L675.7 336.3L675.9 337.8L676.1 339.3L676.2 340.8L676.4 342.3L676.6 343.8L676.8 345.3L677.0 346.7L677.2 348.2L677.4 349.7L677.6 351.2L677.8 352.7L678.0 354.2L678.2 355.7L678.4 357.2L678.6 358.7L678.8 360.2L678.9 361.6L679.1 363.1L679.3 364.6L679.5 366.1L679.7 367.6L680.0 369.1L680.2 370.6L680.4 372.1L680.6 373.6L680.8 375.1L681.0 376.5L681.2 378.0L681.4 379.5L681.6 381.0L681.8 382.5L682.0 384.0L682.2 385.5L682.4 387.0L682.7 388.4L682.9 389.9L683.1 391.4L683.3 392.9L683.5 394.4L683.7 395.9L684.0 397.4L684.2 398.9L684.4 400.3L684.6 401.8L684.9 403.3L685.1 404.8L685.3 406.3L685.5 407.8L685.8 409.2L686.0 410.7L686.2 412.2L686.5 413.7L686.7 415.2L686.9 416.7L687.2 418.2L687.4 419.6L687.6 421.1L687.9 422.6L688.1 424.1L688.4 425.6L688.6 427.0L688.9 428.5L689.1 430.0L689.4 431.5L689.6 433.0L689.9 434.5L690.1 435.9L690.4 437.4L690.6 438.9L690.9 440.4L691.1 441.9L691.4 443.3L691.7 444.8L691.9 446.3L692.2 447.8L692.4 449.3L692.7 450.7L693.0 452.2L693.3 453.7L693.5 455.2L693.8 456.6L694.1 458.1L694.3 459.6L694.6 461.1L694.9 462.5L695.2 464.0L695.5 465.5L695.8 467.0L696.0 468.4L696.3 469.9L696.6 471.4L696.9 472.9L697.2 474.3L697.5 475.8L697.8 477.3L698.1 478.8L698.4 480.2L698.7 481.7L699.0 483.2L699.3 484.6L699.6 486.1L699.9 487.6L700.2 489.1L700.6 490.5L700.9 492.0L701.2 493.5L701.5 494.9L701.8 496.4L702.1 497.9L702.5 499.3L702.8 500.8L703.1 502.3L703.5 503.7L703.8 505.2L704.2 506.7L704.5 508.1L704.9 509.6L705.3 511.0L705.6 512.5L706.0 513.9L706.4 515.4L706.8 516.8L707.2 518.3L707.6 519.7L708.0 521.2L708.4 522.6L708.9 524.1L709.3 525.5L709.8 526.9L710.2 528.4L710.7 529.8L711.2 531.2L711.7 532.6L712.2 534.0L712.7 535.4L713.3 536.8L713.8 538.2L714.4 539.6L715.0 541.0L715.6 542.4L716.2 543.7L716.9 545.1L717.6 546.4L718.3 547.8L719.0 549.1L719.7 550.4L720.5 551.7L721.3 552.9L722.1 554.2L723.0 555.4L723.8 556.6L724.7 557.8L725.6 559.0L726.7 560.1L727.5 561.3L728.3 562.5L728.9 563.9L729.4 565.3L730.6 566.4L731.9 567.2L733.0 568.2L734.1 569.2L735.4 570.0L736.6 570.8L738.0 571.4L739.3 572.1L740.6 572.9L742.1 573.3L743.6 573.5L745.0 573.9L746.5 574.4L747.8 575.0L749.1 575.8L750.3 576.7L751.6 577.4L752.9 578.1L754.2 579.0L755.6 579.5L757.1 579.8L758.6 579.9L760.0 580.1L761.5 580.3L763.0 580.3L764.5 580.7L765.9 581.0L767.3 581.7L768.4 582.6L769.7 583.3L771.2 583.9L772.3 584.9L773.3 586.0L774.5 586.9L775.8 587.7L777.2 588.2L778.5 589.0L779.6 590.1L780.8 591.1L782.1 591.8L783.5 592.4L784.8 593.1L786.0 594.0L787.0 595.2L788.2 596.1L789.7 596.6L790.9 597.4L792.3 598.2L793.6 598.9L794.8 599.8L795.9 600.9L796.8 602.2L798.2 602.9L799.7 603.4L800.8 604.3L801.9 605.4L803.0 606.4L804.4 607.1L805.7 607.8L807.0 608.6L808.4 609.1L809.8 609.7L811.1 610.4L812.6 610.7L814.0 611.4L815.1 612.4L816.6 613.0L818.2 613.0L819.7 613.0L821.1 613.6L822.4 614.6L823.8 615.0L825.3 615.3L826.8 615.6L828.3 615.6L829.8 615.9L831.1 616.7L832.5 617.5L833.9 618.0L835.5 617.9L837.1 617.8L838.5 618.4L839.9 619.0L841.3 619.3L842.8 619.6L844.3 619.9L845.8 620.2L847.2 620.5L848.7 620.8L850.2 621.2L851.6 621.7L853.0 622.1L854.5 622.4L855.9 622.9L857.4 623.3L858.8 623.6L860.3 624.1L861.7 624.5L863.1 625.1L864.6 625.4L866.2 625.3L867.6 625.6L869.0 626.2L870.5 626.5L872.0 626.6L873.5 626.9L874.9 627.4L876.3 628.0L877.8 628.4L879.3 628.5L880.8 628.4L882.3 628.9L883.7 629.7L885.1 630.0L886.7 629.8L888.2 629.7L889.8 629.8L891.3 629.8L892.7 630.1L894.2 630.7L895.6 631.1L897.1 631.1L898.6 631.5L900.0 632.1L901.5 632.3L903.0 632.4L904.5 632.8L906.0 633.0L907.5 633.0L909.0 633.0L910.5 633.0L912.0 633.2L913.5 633.3L915.0 633.5L916.5 633.6L918.0 633.8L919.5 633.9L921.0 634.1L922.5 634.2L924.0 634.4L925.5 634.5L927.0 634.7L928.5 634.8L930.0 635.0L931.4 635.1" stroke="#9900AA" stroke-width="2.1"/>
<path d="M579.8 623.3L581.3 622.7L582.8 622.1L584.2 621.4L585.5 620.7L586.7 619.8L587.9 618.9L589.0 618.0L590.0 617.0L591.0 615.9L592.0 614.8L592.9 613.6L593.7 612.4L594.5 611.2L595.2 609.9L596.0 608.6L596.6 607.2L597.3 605.9L597.9 604.5L598.5 603.1L599.1 601.7L599.6 600.3L600.1 598.9L600.7 597.4L601.2 596.0L601.7 594.6L602.1 593.2L602.6 591.7L603.0 590.3L603.5 588.8L603.9 587.4L604.3 585.9L604.7 584.5L605.1 583.0L605.5 581.6L605.9 580.1L606.2 578.7L606.6 577.2L606.9 575.8L607.2 574.3L607.6 572.8L607.9 571.4L608.2 569.9L608.5 568.4L608.8 566.9L609.1 565.5L609.4 564.0L609.7 562.5L609.9 561.1L610.2 559.6L610.5 558.1L610.7 556.6L611.0 555.1L611.2 553.7L611.5 552.2L611.7 550.7L611.9 549.2L612.2 547.7L612.4 546.2L612.6 544.8L612.8 543.3L613.0 541.8L613.2 540.3L613.4 538.8L613.6 537.3L613.8 535.8L614.0 534.3L614.2 532.9L614.4 531.4L614.6 529.9L614.8 528.4L615.0 526.9L615.2 525.4L615.3 523.9L615.5 522.4L615.7 520.9L615.9 519.4L616.0 517.9L616.2 516.4L616.4 514.9L616.5 513.4L616.7 512.0L616.9 510.5L617.0 509.0L617.2 507.5L617.4 506.0L617.5 504.5L617.7 503.0L617.8 501.5L618.0 500.0L618.2 498.5L618.3 497.0L618.5 495.5L618.7 494.0L618.8 492.5L619.0 491.0L619.2 489.5L619.3 488.0L619.5 486.5L619.6 485.0L619.8 483.5L620.0 482.1L620.1 480.6L620.3 479.1L620.5 477.6L620.7 476.1L620.8 474.6L621.0 473.1L621.2 471.6L621.3 470.1L621.5 468.6L621.7 467.1L621.8 465.6L622.0 464.1L622.2 462.6L622.4 461.1L622.5 459.6L622.7 458.2L622.9 456.7L623.0 455.2L623.2 453.7L623.4 452.2L623.6 450.7L623.7 449.2L623.9 447.7L624.1 446.2L624.2 444.7L624.4 443.2L624.6 441.7L624.8 440.2L624.9 438.7L625.1 437.3L625.3 435.8L625.4 434.3L625.6 432.8L625.8 431.3L625.9 429.8L626.1 428.3L626.3 426.8L626.5 425.3L626.6 423.8L626.8 422.3L627.0 420.8L627.1 419.3L627.3 417.8L627.5 416.4L627.6 414.9L627.8 413.4L628.0 411.9L628.1 410.4L628.3 408.9L628.5 407.4L628.6 405.9L628.8 404.4L629.0 402.9L629.1 401.4L629.3 399.9L629.4 398.4L629.6 396.9L629.8 395.5L629.9 394.0L630.1 392.5L630.2 391.0L630.4 389.5L630.6 388.0L630.7 386.5L630.9 385.0L631.0 383.5L631.2 382.0L631.3 380.5L631.5 379.0L631.7 377.5L631.8 376.0L632.0 374.5L632.1 373.1L632.3 371.6L632.4 370.1L632.6 368.6L632.7 367.1L632.8 365.6L633.0 364.1L633.1 362.6L633.3 361.1L633.4 359.6L633.6 358.1L633.7 356.6L633.8 355.1L634.0 353.6L634.1 352.1L634.3 350.6L634.4 349.1L634.5 347.6L634.7 346.1L634.8 344.7L634.9 343.2L635.0 341.7L635.2 340.2L635.3 338.7L635.4 337.2L635.6 335.7L635.7 334.2L635.8 332.7L635.9 331.2L636.1 329.7L636.2 328.2L636.3 326.7L636.4 325.2L636.5 323.7L636.7 322.2L636.8 320.7L636.9 319.2L637.0 317.7L637.1 316.2L637.2 314.7L637.4 313.2L637.5 311.7L637.6 310.2L637.7 308.7L637.8 307.2L637.9 305.7L638.0 304.2L638.2 302.7L638.3 301.2L638.4 299.7L638.5 298.2L638.6 296.7L638.7 295.2L638.8 293.8L638.9 292.3L639.0 290.8L639.1 289.3L639.3 287.8L639.4 286.3L639.5 284.8L639.6 283.3L639.7 281.8L639.8 280.3L639.9 278.8L640.0 277.3L640.1 275.8L640.2 274.3L640.3 272.8L640.5 271.3L640.6 269.8L640.7 268.3L640.8 266.8L640.9 265.3L641.0 263.8L641.1 262.3L641.2 260.8L641.3 259.3L641.4 257.8L641.5 256.3L641.7 254.8L641.8 253.3L641.9 251.8L642.0 250.3L642.1 248.8L642.2 247.3L642.3 245.8L642.4 244.3L642.5 242.8L642.7 241.3L642.8 239.8L642.9 238.3L643.0 236.8L643.1 235.3L643.2 233.8L643.4 232.3L643.5 230.8L643.6 229.3L643.7 227.8L643.8 226.3L643.9 224.8L644.1 223.3L644.2 221.8L644.3 220.3L644.4 218.8L644.6 217.3L644.7 215.8L644.8 214.3L644.9 212.8L645.1 211.3L645.2 209.8L645.3 208.3L645.4 206.8L645.6 205.3L645.7 203.8L645.8 202.3L646.0 200.8L646.1 199.3L646.3 197.8L646.4 196.3L646.5 194.8L646.7 193.3L646.8 191.8L647.0 190.3L647.1 188.8L647.2 187.3L647.4 185.8L647.5 184.3L647.7 182.8L647.8 181.3L648.0 179.8L648.1 178.3L648.3 176.8L648.4 175.3L648.6 173.8L648.8 172.3L648.9 170.8L649.1 169.4L649.2 167.9L649.4 166.4L649.6 164.9L649.7 163.4L649.9 161.9L650.1 160.4L650.3 158.9L650.4 157.4L650.6 156.0L650.8 154.5L651.0 153.0L651.2 151.5L651.4 150.0L651.6 148.5L651.8 147.0L652.0 145.5L652.2 144.0L652.4 142.5L652.6 141.0L652.9 139.6L653.1 138.0L653.3 136.5L653.6 135.0L653.8 133.5L654.1 132.0L654.3 130.5L654.6 129.0L654.9 127.5L655.1 126.1L655.4 124.7L655.7 123.3L656.0 121.9L656.3 120.6L656.7 119.2L657.0 117.7L657.4 116.2L657.8 114.7L658.2 113.0L658.6 111.4L659.1 109.8L659.7 108.3L660.3 106.8L661.0 105.6L661.7 104.5L662.6 103.7L663.5 103.1L664.5 102.9L665.5 103.2L666.3 104.2L666.9 105.6L667.5 107.2L668.0 108.8L668.5 110.3L668.9 111.8L669.3 113.2L669.7 114.6L670.1 116.1L670.4 117.5L670.8 119.0L671.2 120.4L671.5 121.9L671.9 123.4L672.2 124.8L672.5 126.3L672.8 127.8L673.2 129.2L673.5 130.7L673.8 132.2L674.1 133.7L674.4 135.1L674.7 136.6L675.0 138.1L675.3 139.6L675.5 141.0L675.8 142.5L676.1 144.0L676.4 145.5L676.6 147.0L676.9 148.4L677.2 149.9L677.4 151.4L677.7 152.9L677.9 154.4L678.2 155.8L678.4 157.3L678.6 158.8L678.9 160.3L679.1 161.8L679.3 163.3L679.6 164.7L679.8 166.2L680.0 167.7L680.2 169.2L680.5 170.7L680.7 172.2L680.9 173.6L681.1 175.1L681.3 176.6L681.5 178.1L681.7 179.6L681.9 181.1L682.1 182.6L682.3 184.1L682.5 185.5L682.7 187.0L682.8 188.5L683.0 190.0L683.2 191.5L683.4 193.0L683.6 194.5L683.7 196.0L683.9 197.5L684.1 199.0L684.3 200.4L684.4 201.9L684.6 203.4L684.8 204.9L684.9 206.4L685.1 207.9L685.3 209.4L685.4 210.9L685.6 212.4L685.7 213.9L685.9 215.4L686.0 216.9L686.2 218.4L686.4 219.9L686.5 221.3L686.7 222.8L686.8 224.3L687.0 225.8L687.1 227.3L687.3 228.8L687.4 230.3L687.6 231.8L687.7 233.3L687.9 234.8L688.0 236.3L688.2 237.8L688.3 239.3L688.4 240.8L688.6 242.3L688.7 243.8L688.9 245.3L689.0 246.8L689.2 248.3L689.3 249.8L689.5 251.3L689.6 252.8L689.8 254.3L689.9 255.7L690.1 257.2L690.2 258.7L690.4 260.2L690.5 261.7L690.7 263.2L690.8 264.7L691.0 266.2L691.1 267.7L691.3 269.2L691.4 270.7L691.6 272.2L691.7 273.7L691.9 275.2L692.0 276.7L692.2 278.2L692.4 279.7L692.5 281.2L692.7 282.7L692.8 284.2L693.0 285.7L693.2 287.2L693.3 288.7L693.5 290.2L693.7 291.7L693.8 293.2L694.0 294.7L694.2 296.2L694.4 297.7L694.5 299.2L694.7 300.7L694.9 302.2L695.0 303.7L695.2 305.1L695.4 306.6L695.6 308.1L695.7 309.6L695.9 311.1L696.1 312.6L696.3 314.1L696.5 315.6L696.6 317.1L696.8 318.6L697.0 320.1L697.2 321.6L697.4 323.1L697.5 324.6L697.7 326.1L697.9 327.6L698.1 329.1L698.3 330.6L698.5 332.1L698.7 333.6L698.9 335.1L699.0 336.6L699.2 338.0L699.4 339.5L699.6 341.0L699.8 342.5L700.0 344.0L700.2 345.5L700.4 347.0L700.6 348.5L700.8 350.0L701.0 351.5L701.1 353.0L701.3 354.5L701.5 356.0L701.7 357.5L701.9 359.0L702.1 360.5L702.3 361.9L702.5 363.4L702.7 364.9L702.9 366.4L703.1 367.9L703.3 369.4L703.5 370.9L703.7 372.4L703.9 373.9L704.1 375.4L704.3 376.9L704.5 378.3L704.7 379.8L704.9 381.3L705.1 382.8L705.3 384.3L705.5 385.8L705.7 387.3L705.9 388.8L706.1 390.3L706.3 391.8L706.5 393.2L706.7 394.7L706.9 396.2L707.1 397.7L707.4 399.2L707.6 400.7L707.8 402.2L708.0 403.7L708.2 405.1L708.4 406.6L708.6 408.1L708.8 409.6L709.0 411.1L709.2 412.6L709.4 414.1L709.6 415.5L709.8 417.0L710.0 418.5L710.2 420.0L710.4 421.5L710.6 423.0L710.9 424.4L711.1 425.9L711.3 427.4L711.5 428.9L711.7 430.4L711.9 431.9L712.1 433.3L712.3 434.8L712.6 436.3L712.8 437.8L713.0 439.3L713.2 440.7L713.4 442.2L713.7 443.7L713.9 445.2L714.1 446.7L714.3 448.1L714.6 449.6L714.8 451.1L715.0 452.6L715.3 454.1L715.5 455.5L715.7 457.0L716.0 458.5L716.2 460.0L716.5 461.4L716.7 462.9L717.0 464.4L717.3 465.9L717.5 467.4L717.8 468.8L718.0 470.3L718.3 471.8L718.6 473.3L718.9 474.7L719.1 476.2L719.4 477.7L719.7 479.2L720.0 480.6L720.3 482.1L720.6 483.6L720.9 485.1L721.2 486.5L721.5 488.0L721.8 489.5L722.2 491.0L722.5 492.4L722.8 493.9L723.1 495.4L723.5 496.8L723.8 498.3L724.2 499.8L724.6 501.2L724.9 502.7L725.3 504.2L725.7 505.6L726.1 507.1L726.5 508.5L726.9 510.0L727.3 511.4L727.7 512.9L728.2 514.3L728.6 515.7L729.1 517.2L729.5 518.6L730.0 520.0L730.5 521.4L731.0 522.9L731.5 524.3L732.0 525.7L732.5 527.1L733.1 528.5L733.6 529.9L734.2 531.2L734.8 532.6L735.4 534.0L736.0 535.4L736.6 536.7L737.2 538.1L737.9 539.4L738.6 540.8L739.2 542.1L739.9 543.4L740.6 544.8L741.4 546.1L742.1 547.4L742.9 548.7L743.6 550.0L744.4 551.2L745.2 552.5L746.1 553.8L746.9 555.0L747.7 556.3L748.6 557.5L749.5 558.7L750.4 559.9L751.3 561.1L752.3 562.3L753.2 563.4L754.2 564.6L755.2 565.7L756.2 566.8L757.2 567.9L758.2 569.0L759.2 570.1L760.4 571.1L761.6 572.0L762.7 573.0L763.9 573.9L764.9 575.0L765.9 576.1L767.0 577.1L768.0 578.2L769.2 579.2L770.5 580.0L771.8 580.8L773.1 581.6L774.3 582.4L775.6 583.2L776.9 584.0L778.1 584.8L779.3 585.8L780.4 586.9L781.5 587.8L782.9 588.6L784.1 589.4L785.2 590.5L786.3 591.5L787.6 592.3L788.9 593.1L790.1 594.0L791.3 594.9L792.5 595.8L793.7 596.8L794.9 597.7L796.1 598.6L797.2 599.6L798.3 600.6L799.4 601.7L800.6 602.6L802.1 603.1L803.5 603.7L804.7 604.6L805.9 605.4L807.2 606.1L808.4 607.0L809.6 607.8L811.0 608.4L812.4 608.9L813.8 609.4L815.1 610.0L816.5 610.7L817.9 611.3L819.2 612.0L820.6 612.7L822.0 613.0L823.5 613.3L825.0 613.8L826.4 614.3L827.9 614.5L829.5 614.6L830.9 615.1L832.4 615.6L833.9 615.8L835.4 615.9L836.9 616.1L838.4 616.3L839.8 616.6L841.2 617.3L842.8 617.1L844.2 617.3" stroke="#8A00FF" stroke-width="2.15"/>
<path d="M509.7 635.8L511.2 635.8L512.7 635.8L514.2 635.8L515.7 635.8L517.2 635.8L518.7 635.8L520.2 635.8L521.7 635.8L523.2 635.8L524.7 635.8L526.2 635.8L527.7 635.7L529.2 635.7L530.7 635.7L532.2 635.7L533.7 635.6L535.2 635.6L536.7 635.6L538.2 635.5L539.7 635.5L541.2 635.5L542.7 635.4L544.2 635.4L545.7 635.3L547.2 635.2L548.7 635.2L550.2 635.1L551.7 635.0L553.2 634.9L554.7 634.8L556.2 634.7L557.7 634.6L559.2 634.4L560.7 634.3L562.2 634.1L563.7 634.0L565.2 633.7L566.7 633.5L568.1 633.3L569.6 633.0L571.1 632.7L572.6 632.4L574.0 632.0L575.5 631.6L576.9 631.2L578.3 630.7L579.7 630.1L581.1 629.5L582.4 628.8L583.7 628.0L584.9 627.2L586.1 626.3L587.3 625.3L588.3 624.3L589.4 623.2L590.3 622.1L591.2 620.9L592.1 619.7L592.9 618.4L593.6 617.1L594.3 615.8L595.0 614.5L595.6 613.1L596.2 611.7L596.8 610.3L597.4 608.9L597.9 607.5L598.4 606.0L598.9 604.6L599.4 603.2L599.9 601.8L600.3 600.3L600.8 598.9L601.3 597.5L601.7 596.1L602.1 594.6L602.5 593.2L603.0 591.8L603.4 590.3L603.8 588.9L604.2 587.4L604.5 586.0L604.9 584.5L605.3 583.1L605.6 581.6L606.0 580.2L606.3 578.7L606.7 577.2L607.0 575.8L607.4 574.3L607.7 572.8L608.1 571.4L608.4 569.9L608.8 568.4L609.1 567.0L609.5 565.5L609.8 564.0L610.2 562.6L610.5 561.1L610.9 559.7L611.2 558.2L611.5 556.7L611.9 555.3L612.2 553.8L612.5 552.3L612.8 550.9L613.1 549.4L613.3 547.9L613.6 546.5L613.8 545.0L614.1 543.5L614.3 542.0L614.5 540.5L614.7 539.0L614.9 537.5L615.1 536.1L615.3 534.6L615.5 533.1L615.6 531.6L615.8 530.1L616.0 528.6L616.2 527.1L616.3 525.6L616.5 524.1L616.7 522.6L616.8 521.1L617.0 519.6L617.2 518.2L617.4 516.7L617.5 515.2L617.7 513.7L617.9 512.2L618.1 510.7L618.2 509.2L618.4 507.7L618.6 506.2L618.8 504.7L619.0 503.2L619.2 501.8L619.3 500.3L619.5 498.8L619.7 497.3L619.9 495.8L620.1 494.3L620.3 492.8L620.5 491.3L620.7 489.8L620.9 488.3L621.1 486.9L621.3 485.4L621.5 483.9L621.7 482.4L621.9 480.9L622.1 479.4L622.3 477.9L622.5 476.4L622.6 474.9L622.8 473.5L623.0 472.0L623.2 470.5L623.4 469.0L623.6 467.5L623.8 466.0L624.0 464.5L624.1 463.0L624.3 461.5L624.5 460.0L624.7 458.6L624.8 457.1L625.0 455.6L625.2 454.1L625.3 452.6L625.5 451.1L625.7 449.6L625.8 448.1L626.0 446.6L626.2 445.1L626.3 443.6L626.5 442.1L626.6 440.6L626.8 439.1L626.9 437.7L627.1 436.2L627.2 434.7L627.4 433.2L627.5 431.7L627.7 430.2L627.8 428.7L628.0 427.2L628.1 425.7L628.3 424.2L628.4 422.7L628.5 421.2L628.7 419.7L628.8 418.2L629.0 416.7L629.1 415.2L629.2 413.7L629.4 412.2L629.5 410.7L629.6 409.3L629.8 407.8L629.9 406.3L630.0 404.8L630.2 403.3L630.3 401.8L630.5 400.3L630.6 398.8L630.7 397.3L630.9 395.8L631.0 394.3L631.1 392.8L631.2 391.3L631.4 389.8L631.5 388.3L631.6 386.8L631.8 385.3L631.9 383.8L632.0 382.3L632.2 380.8L632.3 379.3L632.5 377.8L632.6 376.3L632.7 374.9L632.9 373.4L633.0 371.9L633.1 370.4L633.3 368.9L633.4 367.4L633.5 365.9L633.7 364.4L633.8 362.9L633.9 361.4L634.1 359.9L634.2 358.4L634.4 356.9L634.5 355.4L634.6 353.9L634.8 352.4L634.9 350.9L635.0 349.4L635.2 347.9L635.3 346.4L635.4 344.9L635.6 343.4L635.7 341.9L635.9 340.5L636.0 339.0L636.1 337.5L636.3 336.0L636.4 334.5L636.5 333.0L636.7 331.5L636.8 330.0L637.0 328.5L637.1 327.0L637.2 325.5L637.4 324.0L637.5 322.5L637.6 321.0L637.8 319.5L637.9 318.0L638.1 316.5L638.2 315.0L638.3 313.5L638.5 312.0L638.6 310.5L638.7 309.0L638.9 307.5L639.0 306.1L639.2 304.6L639.3 303.1L639.4 301.6L639.6 300.1L639.7 298.6L639.8 297.1L640.0 295.6L640.1 294.1L640.2 292.6L640.4 291.1L640.5 289.6L640.6 288.1L640.8 286.6L640.9 285.1L641.1 283.6L641.2 282.1L641.3 280.6L641.5 279.1L641.6 277.6L641.7 276.1L641.9 274.6L642.0 273.1L642.1 271.6L642.2 270.2L642.4 268.7L642.5 267.2L642.6 265.7L642.8 264.2L642.9 262.7L643.0 261.2L643.2 259.7L643.3 258.2L643.4 256.7L643.6 255.2L643.7 253.7L643.8 252.2L643.9 250.7L644.1 249.2L644.2 247.7L644.3 246.2L644.4 244.7L644.6 243.2L644.7 241.7L644.8 240.2L644.9 238.7L645.1 237.2L645.2 235.7L645.3 234.2L645.4 232.7L645.6 231.2L645.7 229.8L645.8 228.3L645.9 226.8L646.0 225.3L646.2 223.8L646.3 222.3L646.4 220.8L646.5 219.3L646.6 217.8L646.8 216.3L646.9 214.8L647.0 213.3L647.1 211.8L647.2 210.3L647.3 208.8L647.4 207.3L647.6 205.8L647.7 204.3L647.8 202.8L647.9 201.3L648.0 199.8L648.1 198.3L648.3 196.8L648.4 195.3L648.5 193.8L648.6 192.3L648.8 190.8L648.9 189.3L649.0 187.8L649.1 186.3L649.3 184.9L649.4 183.4L649.6 181.9L649.7 180.4L649.9 178.9L650.0 177.4L650.2 175.9L650.4 174.4L650.5 172.9L650.7 171.4L650.9 169.9L651.1 168.4L651.3 166.9L651.5 165.5L651.7 164.0L651.9 162.5L652.1 161.0L652.3 159.5L652.5 158.0L652.7 156.5L653.0 155.0L653.2 153.6L653.4 152.1L653.6 150.6L653.8 149.1L654.1 147.6L654.3 146.1L654.5 144.6L654.7 143.2L655.0 141.7L655.2 140.2L655.4 138.7L655.7 137.2L655.9 135.8L656.2 134.3L656.4 132.8L656.7 131.3L657.0 129.9L657.3 128.4L657.6 126.9L658.0 125.4L658.3 124.0L658.7 122.5L659.1 121.1L659.5 119.6L659.9 118.2L660.4 116.8L660.9 115.3L661.4 113.9L661.9 112.5L662.5 111.2L663.1 109.8L664.0 108.6L664.8 107.5L665.4 106.2L665.9 104.7L666.5 103.2L667.3 101.9L668.3 100.9L669.6 100.6L670.7 101.2L671.4 102.4L671.8 104.0L672.1 105.6L672.5 107.1L672.9 108.5L673.3 109.9L673.7 111.3L674.2 112.7L674.6 114.2L675.0 115.6L675.5 117.1L675.9 118.5L676.4 119.9L676.9 121.4L677.3 122.8L677.8 124.2L678.2 125.6L678.7 127.1L679.0 128.5L679.4 130.0L679.7 131.4L680.1 132.9L680.4 134.4L680.7 135.9L680.9 137.3L681.2 138.8L681.5 140.3L681.7 141.8L682.0 143.3L682.2 144.7L682.4 146.2L682.7 147.7L682.9 149.2L683.1 150.7L683.4 152.2L683.6 153.6L683.8 155.1L684.0 156.6L684.3 158.1L684.5 159.6L684.7 161.1L685.0 162.5L685.2 164.0L685.4 165.5L685.7 167.0L685.9 168.5L686.1 170.0L686.4 171.4L686.6 172.9L686.8 174.4L687.0 175.9L687.3 177.4L687.5 178.9L687.7 180.4L687.9 181.8L688.1 183.3L688.3 184.8L688.5 186.3L688.7 187.8L688.9 189.3L689.1 190.8L689.3 192.3L689.4 193.8L689.6 195.2L689.8 196.7L690.0 198.2L690.1 199.7L690.3 201.2L690.5 202.7L690.7 204.2L690.8 205.7L691.0 207.2L691.1 208.7L691.3 210.2L691.5 211.7L691.6 213.1L691.8 214.6L691.9 216.1L692.1 217.6L692.2 219.1L692.4 220.6L692.5 222.1L692.7 223.6L692.8 225.1L693.0 226.6L693.1 228.1L693.3 229.6L693.4 231.1L693.6 232.6L693.7 234.1L693.9 235.6L694.0 237.1L694.2 238.5L694.3 240.0L694.5 241.5L694.6 243.0L694.8 244.5L694.9 246.0L695.1 247.5L695.2 249.0L695.3 250.5L695.5 252.0L695.6 253.5L695.8 255.0L695.9 256.5L696.1 258.0L696.2 259.5L696.4 261.0L696.5 262.5L696.7 264.0L696.8 265.5L697.0 267.0L697.1 268.5L697.3 269.9L697.4 271.4L697.6 272.9L697.7 274.4L697.9 275.9L698.0 277.4L698.2 278.9L698.3 280.4L698.5 281.9L698.7 283.4L698.8 284.9L699.0 286.4L699.1 287.9L699.3 289.4L699.5 290.9L699.6 292.4L699.8 293.9L700.0 295.3L700.1 296.8L700.3 298.3L700.5 299.8L700.6 301.3L700.8 302.8L701.0 304.3L701.2 305.8L701.4 307.3L701.5 308.8L701.7 310.3L701.9 311.7L702.1 313.2L702.3 314.7L702.5 316.2L702.7 317.7L702.8 319.2L703.0 320.7L703.2 322.2L703.4 323.7L703.6 325.2L703.8 326.6L704.0 328.1L704.2 329.6L704.4 331.1L704.6 332.6L704.8 334.1L705.0 335.6L705.2 337.1L705.4 338.6L705.6 340.0L705.8 341.5L706.0 343.0L706.2 344.5L706.4 346.0L706.6 347.5L706.8 349.0L707.0 350.5L707.2 351.9L707.4 353.4L707.6 354.9L707.8 356.4L708.0 357.9L708.2 359.4L708.4 360.9L708.6 362.4L708.8 363.8L709.0 365.3L709.2 366.8L709.4 368.3L709.6 369.8L709.8 371.3L710.0 372.8L710.2 374.3L710.4 375.8L710.6 377.2L710.8 378.7L710.9 380.2L711.1 381.7L711.3 383.2L711.5 384.7L711.7 386.2L711.9 387.7L712.1 389.2L712.3 390.7L712.4 392.1L712.6 393.6L712.8 395.1L713.0 396.6L713.2 398.1L713.3 399.6L713.5 401.1L713.7 402.6L713.9 404.1L714.1 405.6L714.2 407.1L714.4 408.6L714.6 410.0L714.8 411.5L714.9 413.0L715.1 414.5L715.3 416.0L715.5 417.5L715.7 419.0L715.8 420.5L716.0 422.0L716.2 423.5L716.4 425.0L716.6 426.4L716.8 427.9L716.9 429.4L717.1 430.9L717.3 432.4L717.5 433.9L717.7 435.4L717.9 436.9L718.1 438.4L718.3 439.9L718.5 441.3L718.7 442.8L718.9 444.3L719.1 445.8L719.3 447.3L719.5 448.8L719.7 450.3L719.9 451.8L720.1 453.2L720.3 454.7L720.5 456.2L720.8 457.7L721.0 459.2L721.2 460.7L721.4 462.2L721.7 463.6L721.9 465.1L722.1 466.6L722.4 468.1L722.6 469.6L722.9 471.0L723.1 472.5L723.4 474.0L723.6 475.5L723.9 477.0L724.1 478.4L724.4 479.9L724.6 481.4L724.9 482.9L725.2 484.4L725.4 485.8L725.7 487.3L726.0 488.8L726.3 490.3L726.5 491.7L726.8 493.2L727.1 494.7L727.4 496.2L727.6 497.7L727.9 499.1L728.2 500.6L728.5 502.1L728.8 503.6L729.1 505.0L729.3 506.5L729.6 508.0L729.9 509.5L730.2 510.9L730.5 512.4L730.8 513.9L731.0 515.3L731.3 516.8L731.6 518.3L731.9 519.8L732.2 521.2L732.5 522.7L732.8 524.2L733.1 525.6L733.4 527.1L733.7 528.6L734.1 530.1L734.4 531.5L734.7 533.0L735.0 534.5L735.4 535.9L735.7 537.4L736.1 538.8L736.4 540.3L736.8 541.8L737.1 543.2L737.5 544.7L737.9 546.1L738.3 547.6L738.7 549.0L739.1 550.5L739.6 551.9L740.1 553.3L740.6 554.7L740.7 556.3L741.6 557.5L742.0 559.0L742.7 560.3L743.8 561.5L744.9 562.5L745.7 563.8L746.1 565.3L746.9 566.6L747.8 567.8L748.7 569.0L749.6 570.2L750.2 571.6L751.0 572.9L751.9 574.1L753.2 575.0L754.5 575.8L755.2 577.2L756.0 578.5L757.2 579.4L758.0 580.7L759.0 581.9L760.4 582.7L761.6 583.6L763.1 584.0L764.6 584.4L765.8 585.4L767.1 586.2L768.5 586.8L769.9 587.2L771.5 587.2L772.9 587.8L774.2 588.8L775.7 589.0L777.2 589.1L778.7 589.4L780.2 589.7L781.6 590.1L783.0 590.7L784.5 591.1L786.0 591.1L787.5 591.1L789.0 591.5L790.4 592.0L791.9 592.2L793.4 592.7L794.8 593.2L796.3 593.3L797.8 593.2L799.4 593.3L800.8 593.8L802.2 594.4L803.8 594.6L805.1 595.1L806.4 596.0L807.8 596.6L809.1 597.2L810.5 598.0L812.0 598.2L813.5 598.3L814.9 598.8L816.4 599.2L817.9 599.2L819.4 599.6L820.8 600.0L822.4 599.9L823.9 599.8L825.3 600.3L826.8 600.6L828.3 600.7L829.8 601.1L831.2 601.6L832.6 602.1L834.0 602.7L835.3 603.5L836.8 603.7L838.3 604.1L839.7 604.8L841.0 605.4L842.3 606.2L843.9 606.3L845.4 606.5L846.6 607.6L847.8 608.7L849.4 608.6L851.0 608.4L852.4 609.1L853.7 610.2L855.0 610.8L856.4 611.3L857.8 612.0L859.2 612.5L860.5 613.2L861.8 614.0L862.9 615.0L864.1 616.0L865.6 616.3L867.0 616.9L868.2 617.9L869.5 618.6L870.8 619.5L872.0 620.4L873.6 620.5L875.3 620.5L876.4 621.6L877.5 622.8L878.9 623.2L880.4 623.6L881.7 624.4L883.2 624.8L884.7 625.1L885.8 626.3L887.1 627.1L888.7 627.1L890.1 627.7L891.6 628.1L893.1 628.2L894.5 628.8L895.9 629.5L897.3 629.8L898.8 630.4L900.1 631.0L901.6 631.3L903.1 631.5L904.7 631.4L906.3 630.9L907.8 631.2L909.1 632.1L910.6 632.5L912.0 632.9L913.5 633.0L915.0 633.2L916.5 633.4L918.0 633.6L919.5 633.8L921.0 634.0L922.5 634.1L924.0 634.3L925.5 634.4L927.0 634.5L928.5 634.6L930.0 634.8L931.4 634.9" stroke="#9E33FF" stroke-width="2.1"/>
<path d="M702.5 620.9L703.9 620.3L705.2 619.6L706.6 619.0L707.7 617.9L708.6 616.7L709.7 615.8L710.9 614.8L712.0 613.8L713.0 612.6L713.8 611.3L714.5 609.9L715.2 608.6L716.0 607.3L716.3 605.7L716.8 604.3L717.6 603.1L718.0 601.6L718.4 600.1L719.1 598.8L719.6 597.4L720.5 596.1L721.3 594.8L721.6 593.4L721.9 591.9L722.5 590.5L723.1 589.1L723.3 587.6L723.9 586.2L724.6 584.8L725.0 583.4L725.3 581.9L726.0 580.6L726.5 579.1L726.8 577.6L727.2 576.2L727.9 574.9L728.3 573.4L728.5 571.9L728.9 570.4L729.5 569.1L730.2 567.7L730.9 566.3L731.2 564.8L731.2 563.3L731.5 561.8L732.0 560.4L732.5 559.0L732.9 557.5L733.1 556.0L733.5 554.6L734.0 553.1L734.3 551.7L734.7 550.2L735.1 548.8L735.2 547.3L735.4 545.8L735.9 544.3L736.3 542.9L736.5 541.4L736.8 539.9L737.0 538.4L737.1 536.9L737.3 535.4L737.9 534.0L738.6 532.6L738.7 531.1L738.7 529.6L739.1 528.1L739.6 526.7L739.9 525.2L740.2 523.7L740.3 522.2L740.5 520.7L741.0 519.3L741.4 517.8L741.7 516.4L742.2 514.9L742.2 513.4L742.2 511.9L742.8 510.5L743.3 509.0L743.6 507.5L743.9 506.1L744.2 504.6L744.5 503.1L744.5 501.6L744.6 500.1L745.1 498.6L745.3 497.1L745.3 495.6L745.8 494.2L746.4 492.8L746.7 491.3L746.9 489.8L747.1 488.3L747.2 486.8L747.6 485.3L748.2 483.9L748.7 482.5L748.9 481.0L748.7 479.4L748.9 477.9L749.5 476.5L749.8 475.0L750.0 473.5L750.3 472.1L750.7 470.6L750.8 469.1L751.0 467.6L751.5 466.2L752.1 464.8L752.2 463.3L752.5 461.8L753.0 460.4L753.1 458.8L753.1 457.3L753.2 455.8L753.4 454.3L753.8 452.9L754.2 451.4L754.2 449.9L754.5 448.4L754.9 446.9L755.2 445.5L755.5 444.0L755.4 442.5L755.4 441.0L755.8 439.5L756.2 438.0L756.5 436.6L756.7 435.1L756.8 433.6L756.8 432.1L757.0 430.6L757.3 429.1L757.5 427.6L757.8 426.1L757.8 424.6L758.0 423.1L758.2 421.6L758.5 420.2L758.7 418.7L758.8 417.2L759.1 415.7L759.4 414.2L759.3 412.7L758.9 411.1L759.0 409.6L759.6 408.2L760.0 406.7L760.1 405.2L760.4 403.7L760.7 402.2L760.8 400.7L760.9 399.2L761.0 397.7L761.3 396.3L761.4 394.8L761.2 393.2L761.2 391.7L761.3 390.2L761.4 388.7L761.4 387.2L761.4 385.7L761.5 384.2L761.8 382.7L762.0 381.2L762.0 379.7L762.1 378.2L762.2 376.7L762.2 375.2L762.5 373.7L762.9 372.2L763.0 370.7L762.8 369.2L762.6 367.7L762.8 366.2L763.2 364.7L763.4 363.2L763.7 361.7L763.8 360.2L763.9 358.7L764.1 357.2L764.0 355.7L764.1 354.2L764.3 352.7L764.2 351.2L764.5 349.7L765.1 348.2L764.9 346.7L764.7 345.2L765.3 343.7L765.6 342.3L765.6 340.7L765.7 339.2L765.9 337.7L765.9 336.2L766.2 334.7L766.2 333.2L766.2 331.7L766.4 330.2L766.6 328.7L766.9 327.3L767.4 325.8L767.7 324.3L767.6 322.8L767.3 321.2L767.1 319.7L767.3 318.2L767.9 316.8L768.6 315.3L768.7 313.8L768.7 312.3L768.6 310.8L768.5 309.3L768.7 307.8L769.1 306.3L769.3 304.8L769.4 303.3L769.5 301.8L769.7 300.3L770.0 298.8L770.2 297.3L770.4 295.8L770.7 294.4L770.9 292.9L770.9 291.3L771.0 289.9L771.4 288.4L771.5 286.9L771.5 285.4L771.6 283.9L771.8 282.4L771.8 280.8L771.9 279.3L772.1 277.9L772.4 276.4L772.8 274.9L773.1 273.4L773.2 271.9L773.6 270.5L773.8 269.0L773.7 267.4L773.9 265.9L774.1 264.5L774.3 263.0L774.3 261.4L774.4 260.0L774.7 258.5L774.7 257.0L774.8 255.5L775.1 254.0L775.4 252.5L775.7 251.0L776.0 249.5L776.3 248.1L776.4 246.6L776.3 245.0L776.4 243.5L776.8 242.1L777.2 240.6L777.4 239.1L777.2 237.6L777.4 236.1L777.5 234.6L777.7 233.1L777.9 231.6L777.9 230.1L778.1 228.6L778.7 227.2L779.1 225.7L779.1 224.2L779.2 222.7L779.1 221.2L779.1 219.6L779.3 218.2L779.8 216.7L780.1 215.2L780.0 213.7L780.1 212.2L780.3 210.7L780.7 209.3L780.9 207.8L780.8 206.3L780.9 204.8L781.4 203.3L782.0 201.9L782.0 200.3L781.7 198.8L782.0 197.3L782.2 195.8L782.2 194.3L782.5 192.9L782.7 191.4L782.6 189.9L782.7 188.4L783.2 186.9L783.4 185.4L783.4 183.9L783.4 182.4L783.5 180.9L784.1 179.4L784.5 178.0L784.4 176.5L784.5 175.0L784.5 173.4L784.5 171.9L785.0 170.5L785.4 169.0L785.7 167.5L786.1 166.1L785.9 164.5L785.7 163.0L785.9 161.5L786.5 160.1L786.8 158.6L787.2 157.1L787.6 155.7L787.7 154.1L787.7 152.6L787.8 151.1L787.9 149.6L788.3 148.2L788.6 146.7L788.6 145.1L788.7 143.6L789.2 142.2L789.4 140.7L789.7 139.2L790.1 137.8L790.4 136.3L790.6 134.8L790.8 133.3L791.2 131.9L791.2 130.3L791.4 128.8L792.4 127.5L792.9 126.1L792.7 124.5L793.0 123.1L793.6 121.7L794.2 120.3L794.8 118.9L795.3 117.5L795.7 116.1L796.2 114.7L796.9 113.3L797.6 112.0L798.2 110.6L798.8 109.3L799.3 107.9L799.7 106.4L800.0 104.9L800.5 103.5L801.5 102.3L802.7 101.3L803.9 100.5L805.2 100.3L806.5 100.8L807.5 101.7L808.5 102.7L809.5 103.9L810.4 105.2L811.2 106.5L811.9 107.9L812.6 109.2L813.0 110.5L813.7 111.9L814.6 113.1L815.2 114.5L816.0 115.7L817.0 116.9L817.6 118.3L818.0 119.7L818.1 121.2L818.2 122.8L818.6 124.2L819.1 125.6L819.7 127.0L820.4 128.3L821.0 129.7L821.4 131.2L822.0 132.6L822.5 134.0L822.6 135.5L823.1 136.9L823.6 138.4L823.9 139.8L824.3 141.3L824.6 142.8L824.7 144.3L825.1 145.7L825.7 147.1L826.1 148.6L826.5 150.0L827.0 151.5L827.2 153.0L827.5 154.4L828.0 155.8L828.4 157.3L828.5 158.8L828.6 160.4L828.9 161.8L829.4 163.2L830.0 164.7L830.5 166.1L830.7 167.6L830.9 169.1L831.3 170.5L831.7 172.0L832.1 173.4L832.5 174.9L832.7 176.4L833.1 177.8L833.5 179.3L833.3 180.8L833.4 182.4L834.1 183.8L834.7 185.2L835.0 186.6L835.5 188.1L835.7 189.6L835.6 191.1L835.8 192.6L836.2 194.1L836.4 195.5L836.4 197.1L836.7 198.6L837.3 200.0L837.8 201.4L837.9 202.9L837.7 204.5L837.8 206.0L838.1 207.5L838.5 208.9L839.2 210.3L839.6 211.8L839.7 213.3L839.8 214.8L840.1 216.3L840.3 217.8L840.4 219.3L840.4 220.8L840.9 222.2L841.4 223.7L841.4 225.2L841.3 226.7L841.6 228.2L842.2 229.6L842.5 231.1L842.8 232.6L843.3 234.0L843.6 235.5L843.7 237.0L844.0 238.5L844.3 240.0L844.3 241.5L844.1 243.0L844.2 244.6L844.9 246.0L845.5 247.4L845.8 248.9L845.9 250.4L846.1 251.9L846.2 253.4L846.4 254.9L846.9 256.3L847.1 257.8L847.3 259.3L847.9 260.7L848.0 262.2L847.8 263.8L847.8 265.3L848.3 266.7L848.6 268.2L848.8 269.7L849.2 271.1L849.5 272.6L849.8 274.1L850.0 275.6L850.0 277.1L850.0 278.6L850.3 280.1L850.8 281.5L851.1 283.0L851.2 284.5L851.4 286.0L851.8 287.5L852.4 288.9L852.4 290.4L852.4 291.9L852.8 293.4L853.1 294.9L853.3 296.4L853.3 297.9L853.6 299.3L853.9 300.8L854.0 302.3L854.4 303.8L854.8 305.3L854.9 306.8L855.2 308.2L855.5 309.7L855.8 311.2L856.1 312.6L856.2 314.2L856.5 315.6L856.9 317.1L857.0 318.6L856.9 320.1L857.4 321.6L857.8 323.0L857.9 324.5L857.9 326.1L858.0 327.6L858.4 329.0L858.7 330.5L858.9 332.0L859.2 333.5L859.6 334.9L859.6 336.4L859.5 338.0L859.6 339.5L860.0 340.9L860.5 342.4L860.7 343.9L860.7 345.4L860.8 346.9L861.2 348.4L861.5 349.8L861.8 351.3L862.2 352.8L862.6 354.2L862.7 355.7L862.9 357.2L863.2 358.7L863.3 360.2L863.2 361.7L863.2 363.3L863.4 364.7L863.5 366.2L863.8 367.7L864.2 369.2L864.4 370.7L864.5 372.2L864.6 373.7L864.8 375.2L865.0 376.7L865.2 378.2L865.6 379.6L865.8 381.1L865.9 382.6L866.3 384.1L866.4 385.6L866.2 387.1L866.5 388.6L866.7 390.1L866.8 391.6L867.3 393.1L867.5 394.6L867.3 396.1L867.6 397.6L867.8 399.1L867.9 400.6L868.3 402.0L868.5 403.5L868.8 405.0L868.9 406.5L868.7 408.1L869.0 409.5L869.4 411.0L869.4 412.5L869.5 414.0L869.9 415.5L870.0 417.0L870.0 418.5L870.2 420.0L870.4 421.5L870.8 423.0L871.2 424.4L871.4 425.9L871.7 427.4L872.1 428.8L872.4 430.3L872.4 431.9L872.4 433.4L872.6 434.9L872.7 436.4L872.7 437.9L872.9 439.4L873.1 440.8L873.6 442.3L874.0 443.8L874.1 445.3L874.2 446.8L874.3 448.3L874.5 449.8L874.8 451.2L875.1 452.7L875.3 454.2L875.5 455.7L876.0 457.1L876.4 458.6L876.3 460.1L876.4 461.6L877.0 463.1L877.4 464.5L877.6 466.0L877.8 467.5L878.3 468.9L878.9 470.3L878.9 471.9L878.9 473.4L879.2 474.9L879.6 476.3L879.8 477.8L879.8 479.3L880.3 480.8L880.9 482.2L881.3 483.6L881.7 485.1L881.8 486.6L881.9 488.1L882.2 489.6L882.5 491.1L882.6 492.6L883.0 494.0L883.5 495.5L883.8 496.9L884.1 498.4L884.5 499.8L885.0 501.3L885.2 502.8L885.3 504.3L885.7 505.7L886.0 507.2L886.2 508.7L886.7 510.1L887.2 511.6L887.6 513.0L888.0 514.5L888.2 516.0L888.5 517.4L889.0 518.9L889.5 520.3L889.9 521.7L890.0 523.3L890.0 524.8L890.3 526.3L890.9 527.7L891.4 529.1L892.0 530.5L892.2 532.0L892.2 533.6L892.7 535.0L893.5 536.3L894.0 537.8L894.3 539.2L894.5 540.7L894.8 542.2L895.2 543.7L895.6 545.1L896.3 546.5L896.9 547.9L897.2 549.4L897.4 550.9L897.7 552.3L898.2 553.7L898.8 555.1L899.2 556.6L899.5 558.1L899.9 559.5L900.2 561.0L900.7 562.4L901.5 563.7L902.0 565.2L902.1 566.7L902.7 568.1L903.5 569.4L903.9 570.8L904.3 572.3L904.9 573.7L905.3 575.1L905.7 576.6L906.2 578.0L906.9 579.3L907.4 580.8L907.8 582.2L908.4 583.6L908.9 585.0L909.2 586.5L909.8 587.9L910.4 589.2L911.0 590.6L911.6 592.0L912.5 593.3L913.1 594.7L913.3 596.2L913.6 597.7L914.3 599.1L915.1 600.4L915.8 601.7L916.4 603.1L917.1 604.4L918.0 605.7L918.6 607.0L919.1 608.5L919.8 609.8L920.8 610.9L921.9 612.0L922.7 613.2L923.3 614.6L924.1 615.9L925.3 616.8L926.6 617.6L927.7 618.6L928.7 619.7L929.8 620.8L931.1 621.7" stroke="#339966" stroke-width="2.15"/>
<path d="M715.0 610.1L716.5 609.9L718.1 609.9L719.5 609.3L720.8 608.5L722.2 608.0L723.6 607.5L724.7 606.4L725.7 605.2L726.9 604.3L728.2 603.5L729.3 602.4L730.3 601.3L731.2 600.1L732.4 599.1L733.5 598.1L734.4 596.9L735.4 595.8L736.4 594.7L737.5 593.6L738.5 592.5L739.3 591.3L740.0 590.0L740.8 588.7L741.9 587.6L742.9 586.5L743.4 585.0L743.8 583.5L744.5 582.2L745.4 581.0L746.3 579.7L747.1 578.4L747.6 577.0L748.0 575.5L748.5 574.1L749.4 572.8L750.4 571.6L750.9 570.2L751.3 568.8L751.8 567.3L752.3 565.9L753.0 564.6L753.6 563.2L754.1 561.8L754.7 560.4L755.2 559.0L755.7 557.6L756.1 556.2L756.5 554.7L756.9 553.3L757.3 551.9L757.9 550.5L758.4 549.0L758.8 547.6L759.4 546.2L759.7 544.7L759.7 543.2L759.8 541.7L760.1 540.2L760.2 538.7L760.8 537.3L761.3 535.8L761.5 534.4L761.8 532.9L762.0 531.4L762.4 529.9L762.8 528.5L763.0 527.0L763.3 525.5L763.6 524.0L763.8 522.5L764.1 521.0L764.4 519.6L764.6 518.1L764.9 516.6L765.3 515.2L765.6 513.7L766.1 512.2L766.3 510.8L766.5 509.3L766.8 507.8L767.0 506.3L767.3 504.8L767.8 503.4L768.1 501.9L768.4 500.5L768.8 499.0L769.0 497.5L769.1 496.0L769.2 494.5L769.7 493.1L770.0 491.6L770.1 490.1L770.4 488.6L770.7 487.1L771.1 485.7L771.6 484.2L771.6 482.7L771.7 481.2L772.3 479.8L772.6 478.3L772.6 476.8L772.6 475.3L772.9 473.8L773.4 472.4L773.3 470.8L773.1 469.3L773.5 467.8L774.0 466.4L774.2 464.9L774.4 463.4L774.5 461.9L774.6 460.4L775.1 458.9L775.5 457.5L775.5 456.0L775.4 454.4L775.7 453.0L776.1 451.5L776.3 450.0L776.6 448.5L776.6 447.0L776.7 445.5L777.0 444.0L777.2 442.5L777.2 441.0L777.2 439.5L777.3 438.0L777.6 436.5L778.0 435.1L778.2 433.6L778.5 432.1L778.7 430.6L778.5 429.1L778.9 427.6L779.3 426.1L779.5 424.6L779.8 423.2L779.9 421.7L779.8 420.1L779.9 418.6L780.2 417.2L780.4 415.7L780.5 414.2L780.7 412.7L781.0 411.2L781.4 409.7L781.7 408.2L781.5 406.7L781.4 405.2L781.7 403.7L782.0 402.2L782.3 400.7L782.6 399.3L782.8 397.8L783.0 396.3L783.3 394.8L783.4 393.3L783.2 391.8L783.4 390.3L783.7 388.8L784.0 387.3L784.5 385.9L784.6 384.4L784.4 382.8L784.3 381.3L784.4 379.8L784.7 378.3L785.1 376.9L785.3 375.4L785.7 373.9L786.1 372.4L786.2 370.9L786.2 369.4L786.4 367.9L786.6 366.4L786.7 364.9L786.9 363.4L786.9 361.9L786.9 360.4L787.2 358.9L787.6 357.5L787.8 356.0L788.0 354.5L788.1 353.0L788.3 351.5L788.6 350.0L788.7 348.5L789.0 347.1L789.6 345.6L789.8 344.2L789.9 342.7L790.3 341.2L790.5 339.7L790.5 338.2L790.8 336.7L791.1 335.2L791.2 333.8L791.5 332.3L791.6 330.8L791.9 329.3L792.3 327.8L792.7 326.4L792.7 324.9L792.3 323.3L792.3 321.8L792.8 320.3L793.5 318.9L794.0 317.5L794.3 316.0L794.6 314.5L794.8 313.1L795.1 311.6L795.4 310.1L795.5 308.6L795.5 307.1L795.9 305.6L796.2 304.2L796.2 302.6L796.3 301.1L796.6 299.7L797.1 298.2L797.5 296.8L797.6 295.3L797.6 293.7L797.7 292.2L797.8 290.7L798.2 289.3L798.4 287.8L798.7 286.3L799.1 284.9L799.2 283.3L798.9 281.8L798.9 280.3L799.2 278.8L799.8 277.3L800.1 275.9L800.2 274.4L800.4 272.9L800.5 271.4L800.7 269.9L800.9 268.4L801.0 266.9L801.2 265.4L801.5 263.9L801.7 262.4L802.0 260.9L802.0 259.4L801.9 257.9L802.1 256.4L802.5 254.9L802.8 253.4L802.8 251.9L802.7 250.4L802.9 248.9L802.9 247.4L803.1 245.9L803.6 244.4L803.9 243.0L804.1 241.5L804.1 240.0L804.2 238.4L804.6 237.0L804.9 235.5L805.3 234.1L805.8 232.6L806.0 231.1L805.8 229.6L806.1 228.1L806.6 226.7L806.9 225.2L807.0 223.7L806.9 222.2L807.0 220.7L807.4 219.2L807.8 217.8L808.0 216.3L808.2 214.8L808.5 213.3L809.2 211.9L809.6 210.5L809.5 208.9L809.5 207.4L809.9 206.0L810.4 204.5L810.9 203.1L811.0 201.6L810.9 200.1L811.3 198.6L811.7 197.1L811.6 195.6L811.8 194.1L812.4 192.7L812.9 191.2L813.2 189.8L813.4 188.3L813.3 186.7L813.5 185.2L814.0 183.8L814.4 182.3L814.7 180.9L814.7 179.3L814.8 177.8L815.1 176.4L815.2 174.9L815.4 173.4L816.0 171.9L816.3 170.5L816.4 169.0L816.3 167.4L816.5 165.9L816.7 164.4L816.9 162.9L817.4 161.5L818.1 160.1L818.7 158.7L818.9 157.2L819.1 155.7L819.3 154.2L819.3 152.7L819.4 151.2L819.9 149.7L820.3 148.3L820.5 146.8L821.0 145.4L821.4 143.9L821.7 142.4L822.0 141.0L822.2 139.5L822.3 138.0L822.7 136.5L823.3 135.1L824.0 133.7L824.6 132.3L824.6 130.8L824.7 129.3L825.1 127.8L825.6 126.4L826.2 125.0L827.0 123.7L827.6 122.3L828.1 121.0L828.8 119.6L829.2 118.1L829.7 116.7L830.6 115.5L831.5 114.2L832.2 112.9L832.8 111.5L833.4 110.2L834.1 108.8L834.5 107.4L834.9 105.9L835.7 104.6L836.4 103.2L837.1 101.7L838.1 100.7L839.2 100.9L840.2 101.7L841.4 102.6L842.3 103.9L842.9 105.4L843.7 106.7L844.5 108.0L845.2 109.3L845.8 110.7L846.4 112.1L846.8 113.5L847.2 115.0L847.3 116.5L847.6 118.0L848.2 119.3L848.7 120.8L848.9 122.3L849.2 123.8L849.8 125.1L850.5 126.5L850.8 128.0L851.2 129.5L851.3 131.0L851.4 132.5L851.5 134.0L852.0 135.4L852.7 136.8L853.0 138.3L853.2 139.8L853.4 141.3L853.3 142.8L853.2 144.4L853.3 145.9L853.6 147.3L853.8 148.8L854.0 150.3L854.4 151.8L854.8 153.2L855.2 154.7L855.5 156.1L856.0 157.6L856.6 159.0L857.0 160.4L857.0 162.0L857.3 163.4L857.6 164.9L857.6 166.4L857.8 167.9L858.2 169.4L858.3 170.9L858.6 172.3L859.0 173.8L859.4 175.3L859.7 176.8L859.7 178.3L859.6 179.8L859.5 181.3L859.8 182.8L859.9 184.3L859.7 185.8L859.9 187.3L860.2 188.8L860.2 190.3L860.3 191.8L860.7 193.3L860.8 194.8L861.1 196.3L861.7 197.7L861.9 199.2L861.6 200.7L861.4 202.3L861.6 203.8L861.9 205.2L862.3 206.7L862.6 208.2L862.9 209.7L863.1 211.2L863.1 212.7L863.2 214.2L863.5 215.6L863.7 217.1L863.8 218.6L863.7 220.2L863.9 221.6L864.5 223.1L865.0 224.5L864.9 226.1L864.6 227.6L864.7 229.1L865.2 230.6L865.4 232.1L865.6 233.5L866.0 235.0L866.0 236.5L866.0 238.0L866.2 239.5L866.4 241.0L866.7 242.5L866.7 244.0L866.6 245.5L866.6 247.0L866.9 248.5L867.6 249.9L868.3 251.4L868.5 252.9L868.6 254.4L868.6 255.9L868.6 257.4L868.7 258.9L869.1 260.3L869.3 261.8L869.1 263.4L869.2 264.9L869.5 266.3L869.8 267.8L869.9 269.3L869.8 270.9L870.0 272.3L870.3 273.8L870.6 275.3L871.0 276.8L871.1 278.3L871.0 279.8L871.0 281.3L871.3 282.8L871.7 284.3L871.9 285.7L871.9 287.3L871.8 288.8L872.0 290.3L872.2 291.8L872.3 293.3L872.5 294.8L872.8 296.2L873.2 297.7L873.2 299.2L873.2 300.7L873.5 302.2L873.8 303.7L874.0 305.2L874.1 306.7L874.0 308.2L874.2 309.7L874.6 311.2L874.9 312.6L874.7 314.2L874.8 315.7L875.2 317.1L875.1 318.7L874.8 320.2L875.0 321.7L875.3 323.2L875.5 324.7L875.6 326.2L875.8 327.7L876.1 329.1L876.0 330.7L876.0 332.2L876.3 333.7L876.6 335.1L876.8 336.6L876.7 338.1L876.8 339.6L877.1 341.1L877.2 342.6L877.0 344.2L877.1 345.7L877.7 347.1L878.2 348.6L878.3 350.1L878.2 351.6L878.1 353.1L878.2 354.6L878.4 356.1L878.8 357.6L879.1 359.1L879.0 360.6L879.2 362.1L879.5 363.6L879.6 365.0L879.5 366.6L879.5 368.1L879.9 369.6L880.1 371.0L880.3 372.5L880.7 374.0L881.0 375.5L881.1 377.0L880.9 378.5L880.8 380.0L881.2 381.5L881.7 383.0L881.7 384.5L881.5 386.0L881.6 387.5L882.0 389.0L882.4 390.4L882.7 391.9L882.8 393.4L882.9 394.9L883.0 396.4L883.1 397.9L883.0 399.4L882.9 401.0L882.9 402.5L883.4 403.9L884.0 405.4L884.1 406.9L883.9 408.4L883.9 409.9L884.4 411.4L884.8 412.8L884.9 414.3L884.9 415.9L885.0 417.4L885.3 418.8L885.7 420.3L885.7 421.8L885.5 423.4L885.8 424.8L886.3 426.3L886.5 427.8L886.8 429.2L887.0 430.7L887.2 432.2L887.3 433.7L887.4 435.2L887.4 436.7L887.3 438.3L887.8 439.7L888.2 441.2L888.4 442.7L888.5 444.2L888.4 445.7L888.5 447.2L888.9 448.7L889.0 450.2L889.4 451.6L889.7 453.1L889.9 454.6L890.2 456.1L890.2 457.6L890.2 459.1L890.5 460.6L891.0 462.0L891.3 463.5L891.2 465.0L891.3 466.5L891.6 468.0L891.9 469.5L891.9 471.0L891.8 472.5L892.4 474.0L893.0 475.4L893.3 476.9L893.4 478.4L893.4 479.9L893.5 481.4L893.8 482.9L894.1 484.3L894.1 485.9L894.2 487.4L894.5 488.8L894.5 490.4L894.6 491.9L895.2 493.3L895.6 494.8L895.8 496.2L896.3 497.7L896.5 499.2L896.7 500.7L896.9 502.2L897.0 503.7L896.9 505.2L897.0 506.7L897.5 508.2L898.0 509.6L898.2 511.1L898.3 512.6L898.5 514.1L898.9 515.5L899.2 517.0L899.4 518.5L900.0 519.9L900.4 521.4L900.4 522.9L900.5 524.4L901.0 525.8L901.4 527.3L901.6 528.8L901.9 530.3L902.2 531.7L902.6 533.2L903.0 534.6L903.5 536.1L903.8 537.5L903.9 539.0L904.3 540.5L904.6 542.0L905.1 543.4L905.5 544.8L905.8 546.3L906.0 547.8L906.2 549.3L906.6 550.8L907.2 552.2L907.8 553.6L908.3 555.0L908.6 556.5L908.8 557.9L909.1 559.4L909.5 560.9L910.1 562.3L910.6 563.7L910.8 565.2L911.0 566.7L911.4 568.1L911.9 569.5L912.1 571.0L912.5 572.5L912.9 573.9L913.3 575.4L913.7 576.8L914.5 578.2L915.1 579.5L915.5 581.0L915.6 582.6L916.0 584.0L916.8 585.3L917.7 586.6L918.2 588.0L918.7 589.4L919.1 590.9L919.7 592.3L920.5 593.5L921.1 594.9L921.5 596.4L922.1 597.7L922.7 599.1L923.5 600.4L924.1 601.8L924.5 603.2L925.3 604.6L926.1 605.8L926.7 607.2L927.3 608.6L927.8 610.1L928.8 611.2L930.0 612.2L930.7 613.6L931.4 614.9L932.4 616.0L933.5 617.0L934.6 618.1L935.5 619.3L936.4 620.5L937.6 621.4L938.8 622.3L939.9 623.4L941.2 624.1L942.5 624.8L943.7 625.8L944.8 626.7L946.1 627.5L947.4 628.3L948.7 629.0L950.1 629.7L951.5 630.1L953.0 630.3L954.6 630.5L956.0 631.0L957.4 631.6L958.8 632.1L960.3 632.3L961.8 632.5L963.3 632.8L964.7 633.1L966.2 633.3L967.7 633.4L969.2 633.6L970.7 633.7L972.2 633.7L973.7 633.8L975.2 633.8" stroke="#1F7A4A" stroke-width="2.15"/>
<path d="M738.8 619.3L739.9 620.3L741.1 621.2L742.3 622.2L743.6 622.9L744.9 623.7L746.3 624.2L747.7 624.4L749.2 624.6L750.7 624.2L752.1 623.5L753.5 623.0L755.0 622.5L756.0 621.4L756.9 620.1L757.9 619.0L758.9 617.8L759.9 616.7L761.0 615.7L762.1 614.7L763.2 613.7L764.3 612.8L765.5 611.9L766.6 610.8L767.3 609.5L768.2 608.3L769.4 607.3L770.4 606.1L771.3 604.9L772.3 603.8L772.9 602.4L773.5 601.0L773.9 599.6L774.2 598.1L775.1 596.8L775.9 595.5L776.4 594.1L777.0 592.7L777.6 591.3L778.3 590.0L778.8 588.5L779.2 587.1L779.7 585.7L780.0 584.2L780.5 582.8L781.0 581.4L781.7 580.0L782.1 578.5L782.1 577.0L782.3 575.5L782.8 574.0L783.5 572.7L784.2 571.3L784.9 570.0L785.7 568.7L786.2 567.3L786.7 565.9L787.4 564.5L788.0 563.1L788.4 561.7L788.5 560.1L788.9 558.7L789.5 557.3L789.9 555.8L790.1 554.3L790.8 553.0L791.4 551.6L791.4 550.0L791.7 548.5L792.2 547.1L792.7 545.7L792.9 544.2L793.3 542.7L793.7 541.3L794.0 539.8L794.3 538.3L794.5 536.9L794.8 535.4L795.4 534.0L795.8 532.5L796.1 531.0L796.6 529.6L797.1 528.2L797.4 526.7L797.5 525.2L797.8 523.7L798.4 522.3L799.0 520.9L799.3 519.4L799.7 518.0L800.0 516.5L800.1 515.0L800.4 513.5L800.9 512.1L801.1 510.6L801.4 509.1L802.1 507.7L802.4 506.3L802.6 504.8L803.1 503.3L803.7 501.9L803.9 500.4L804.0 498.9L804.3 497.4L804.5 495.9L804.9 494.5L805.6 493.1L805.9 491.6L805.8 490.1L806.1 488.6L806.6 487.2L807.1 485.7L807.6 484.3L807.8 482.8L807.8 481.3L808.2 479.8L808.6 478.4L809.1 476.9L809.5 475.5L809.7 474.0L809.8 472.5L810.0 471.0L810.3 469.5L810.4 468.0L810.9 466.6L811.3 465.1L811.6 463.7L812.1 462.2L812.2 460.7L812.3 459.2L812.5 457.7L812.9 456.2L813.3 454.8L813.6 453.3L813.8 451.8L813.8 450.3L814.0 448.8L814.4 447.4L814.6 445.9L814.5 444.3L814.6 442.8L815.0 441.4L815.5 439.9L816.2 438.5L816.6 437.1L816.6 435.5L816.3 434.0L816.3 432.5L816.4 431.0L816.4 429.5L816.8 428.0L817.2 426.5L817.5 425.1L817.9 423.6L818.0 422.1L818.1 420.6L818.2 419.1L818.5 417.6L818.9 416.2L819.1 414.7L819.0 413.2L819.0 411.7L819.4 410.2L819.7 408.7L819.9 407.2L819.9 405.7L819.7 404.2L819.6 402.7L819.9 401.2L820.3 399.7L820.5 398.2L820.8 396.7L821.0 395.2L821.1 393.7L821.3 392.2L821.3 390.7L821.1 389.2L821.0 387.7L821.1 386.2L821.4 384.7L821.5 383.2L821.7 381.7L822.0 380.2L821.9 378.7L821.7 377.2L821.9 375.7L822.2 374.2L822.4 372.7L822.5 371.2L822.6 369.7L823.0 368.2L823.1 366.7L823.2 365.2L823.2 363.7L823.4 362.2L823.8 360.7L824.0 359.2L824.0 357.7L824.1 356.2L823.9 354.7L823.9 353.2L824.5 351.7L824.8 350.3L824.7 348.7L824.6 347.2L825.1 345.7L825.6 344.3L825.4 342.8L825.4 341.3L825.7 339.8L825.9 338.3L826.2 336.8L826.3 335.3L826.4 333.8L826.7 332.3L826.9 330.8L827.1 329.3L827.1 327.8L827.0 326.3L827.1 324.8L827.5 323.3L827.8 321.8L827.8 320.3L827.9 318.8L828.0 317.3L828.4 315.9L828.6 314.4L828.7 312.9L828.8 311.4L828.9 309.9L828.8 308.4L828.7 306.8L828.9 305.3L829.4 303.9L829.6 302.4L829.9 300.9L830.1 299.4L830.1 297.9L830.0 296.4L830.2 294.9L830.5 293.4L830.9 291.9L831.0 290.4L830.8 288.9L830.7 287.4L830.8 285.9L831.0 284.4L831.3 282.9L831.7 281.5L832.0 280.0L832.0 278.5L832.1 277.0L832.1 275.5L832.1 273.9L832.2 272.4L832.6 271.0L833.0 269.5L832.9 268.0L832.9 266.5L832.8 265.0L832.7 263.4L833.0 262.0L833.4 260.5L833.4 259.0L833.4 257.5L833.5 256.0L833.8 254.5L834.2 253.0L834.2 251.5L833.9 250.0L834.2 248.5L834.6 247.0L834.7 245.5L834.8 244.0L834.9 242.5L835.1 241.0L835.1 239.5L835.2 238.0L835.4 236.5L835.3 235.0L835.3 233.5L835.3 232.0L835.4 230.5L835.5 229.0L835.7 227.5L836.0 226.0L836.3 224.5L836.3 223.0L836.3 221.5L836.3 220.0L836.4 218.5L836.4 217.0L836.4 215.5L836.7 214.0L836.8 212.5L837.0 211.0L837.4 209.5L837.5 208.0L837.4 206.5L837.6 205.0L837.8 203.5L837.8 202.0L838.0 200.5L838.2 199.0L838.4 197.5L838.8 196.0L838.9 194.5L838.9 193.0L838.8 191.5L838.7 190.0L839.0 188.5L839.4 187.0L839.4 185.5L839.3 184.0L839.6 182.5L840.1 181.1L840.5 179.6L840.7 178.1L840.6 176.6L840.7 175.1L841.0 173.6L841.0 172.1L840.9 170.6L841.2 169.1L841.3 167.6L841.5 166.1L841.8 164.6L841.9 163.1L842.2 161.7L842.6 160.2L842.7 158.7L842.9 157.2L843.0 155.7L843.1 154.2L843.3 152.7L843.5 151.2L843.7 149.7L844.0 148.2L844.0 146.7L844.1 145.2L844.5 143.7L844.7 142.3L844.8 140.7L844.9 139.2L845.2 137.8L845.3 136.3L845.4 134.8L845.9 133.3L846.2 131.8L846.1 130.3L846.2 128.8L846.6 127.3L846.9 125.9L847.2 124.4L847.3 122.9L847.4 121.4L847.5 119.9L847.9 118.4L848.2 117.0L848.4 115.5L848.8 114.0L849.2 112.5L849.6 111.0L850.4 109.7L850.8 108.5L851.6 108.0L852.0 109.7L852.2 110.9L852.6 109.8L853.4 108.4L853.9 106.9L853.8 105.3L854.1 103.8L855.0 102.5L855.8 101.7L856.8 102.8L857.5 104.3L858.6 103.4L859.4 102.1L860.5 102.6L861.5 103.9L862.4 105.2L863.1 106.5L863.5 107.9L863.6 109.4L863.7 110.9L864.3 112.3L864.6 113.8L864.6 115.4L864.7 116.9L865.2 118.3L865.6 119.8L865.9 121.2L866.4 122.6L866.9 124.1L867.1 125.6L867.1 127.1L867.2 128.6L867.5 130.0L868.0 131.5L868.4 133.0L868.4 134.5L868.4 136.0L868.6 137.5L868.8 139.0L868.9 140.5L868.9 142.0L868.9 143.5L869.2 145.0L869.3 146.5L869.7 148.0L870.2 149.4L870.3 150.9L870.2 152.4L870.4 153.9L870.7 155.4L871.3 156.9L871.5 158.3L871.2 159.9L871.1 161.4L871.4 162.9L871.8 164.4L871.8 165.9L872.0 167.4L872.3 168.8L872.4 170.3L872.3 171.9L872.4 173.4L872.8 174.8L873.0 176.3L873.1 177.8L873.2 179.3L873.6 180.8L873.8 182.3L874.0 183.8L874.2 185.3L874.3 186.8L874.3 188.3L874.5 189.8L874.7 191.3L874.9 192.8L875.2 194.2L875.4 195.7L875.4 197.2L875.2 198.8L875.4 200.3L875.7 201.7L875.8 203.2L876.0 204.7L876.3 206.2L876.3 207.7L876.3 209.2L876.4 210.7L876.5 212.2L876.6 213.7L876.7 215.2L876.8 216.7L876.8 218.2L876.9 219.7L877.1 221.2L877.2 222.7L877.4 224.2L877.5 225.7L877.3 227.3L877.4 228.7L877.8 230.2L877.9 231.7L878.0 233.2L877.9 234.7L877.8 236.3L877.9 237.8L878.0 239.3L878.1 240.8L878.2 242.3L878.4 243.8L878.5 245.3L878.7 246.8L878.8 248.3L878.6 249.8L878.6 251.3L878.7 252.8L878.8 254.3L879.1 255.8L879.1 257.3L878.9 258.8L878.9 260.3L879.1 261.8L879.6 263.3L879.8 264.8L879.6 266.3L879.5 267.8L879.8 269.3L880.1 270.8L880.1 272.3L880.2 273.8L880.4 275.3L880.4 276.8L880.2 278.3L880.4 279.8L880.7 281.3L880.8 282.8L880.7 284.3L881.0 285.8L881.3 287.3L881.5 288.8L881.8 290.3L882.0 291.7L882.1 293.2L882.1 294.8L882.1 296.3L881.9 297.8L882.1 299.3L882.4 300.8L882.4 302.3L882.3 303.8L882.3 305.3L882.6 306.8L882.9 308.3L883.3 309.7L883.5 311.2L883.5 312.7L883.7 314.2L883.6 315.7L883.6 317.3L884.1 318.7L884.3 320.2L884.4 321.7L884.5 323.2L884.7 324.7L884.9 326.2L885.0 327.7L885.1 329.2L885.3 330.7L885.8 332.1L886.0 333.6L885.9 335.2L886.0 336.7L886.3 338.1L886.4 339.6L886.4 341.2L886.4 342.7L886.4 344.2L886.5 345.7L886.7 347.2L886.7 348.7L886.8 350.2L887.1 351.7L887.1 353.2L887.2 354.7L887.5 356.1L887.7 357.6L887.7 359.1L887.7 360.7L887.8 362.2L887.8 363.7L887.7 365.2L888.1 366.7L888.8 368.1L888.9 369.6L888.7 371.1L888.7 372.6L888.8 374.1L888.9 375.6L889.0 377.1L889.3 378.6L889.2 380.1L889.4 381.6L889.9 383.1L890.0 384.6L889.9 386.1L890.3 387.6L890.4 389.1L890.3 390.6L890.6 392.1L890.7 393.6L890.7 395.1L890.9 396.6L891.0 398.1L891.2 399.6L891.4 401.1L891.7 402.6L891.7 404.1L891.5 405.6L891.7 407.1L891.8 408.6L891.9 410.1L891.9 411.6L892.0 413.1L892.2 414.6L892.4 416.1L892.5 417.6L892.7 419.1L892.8 420.6L892.9 422.1L892.9 423.6L892.9 425.1L893.1 426.6L893.4 428.1L893.6 429.6L893.8 431.1L893.9 432.6L894.2 434.1L894.3 435.6L894.2 437.1L894.2 438.6L894.5 440.1L894.8 441.6L894.7 443.1L894.5 444.6L894.9 446.1L895.0 447.6L895.0 449.1L895.3 450.6L895.6 452.0L895.9 453.5L896.0 455.0L896.2 456.5L896.3 458.0L896.4 459.5L896.6 461.0L897.0 462.5L897.3 464.0L897.4 465.5L897.7 466.9L897.9 468.4L898.0 469.9L898.3 471.4L898.6 472.9L898.9 474.4L899.0 475.9L899.2 477.3L899.7 478.8L899.9 480.3L899.8 481.8L900.0 483.3L900.4 484.8L900.5 486.3L900.8 487.8L901.2 489.2L901.5 490.7L901.9 492.2L902.1 493.6L902.5 495.1L902.7 496.6L903.0 498.1L903.2 499.5L903.4 501.0L903.5 502.6L903.7 504.0L904.0 505.5L904.1 507.0L904.5 508.5L904.9 509.9L905.0 511.4L905.1 513.0L905.4 514.4L905.9 515.9L905.8 517.4L905.9 518.9L906.6 520.3L906.9 521.8L906.9 523.3L907.1 524.8L907.4 526.3L907.7 527.8L907.8 529.3L908.0 530.8L908.4 532.2L908.7 533.7L908.9 535.2L909.0 536.7L909.0 538.2L909.3 539.7L909.8 541.1L910.1 542.6L910.4 544.1L911.0 545.5L911.1 547.0L910.8 548.6L911.2 550.0L911.8 551.5L912.1 552.9L912.5 554.4L912.7 555.9L912.7 557.4L912.8 558.9L913.2 560.4L913.9 561.8L914.6 563.2L914.8 564.7L915.1 566.1L915.5 567.6L915.5 569.1L915.6 570.6L915.9 572.1L916.5 573.5L917.1 574.9L917.3 576.4L917.5 577.9L917.9 579.4L918.2 580.8L918.4 582.3L918.8 583.8L919.6 585.1L920.1 586.5L920.3 588.0L921.0 589.4L921.5 590.8L921.8 592.3L922.1 593.8L922.7 595.2L923.1 596.6L923.5 598.1L924.2 599.5L925.0 600.7L925.7 602.1L926.3 603.4L927.0 604.8L927.6 606.2L928.3 607.5L928.9 608.9L929.4 610.3L930.2 611.6L931.2 612.8L931.7 614.2L932.5 615.5L933.7 616.5L934.9 617.5L935.9 618.6L936.7 619.9L937.8 621.0L939.1 621.8L940.2 622.8L941.2 623.9L942.3 624.9L943.6 625.8L945.0 626.5L946.4 627.0L947.6 627.8L949.0 628.5L950.4 629.0L951.7 629.7L953.1 630.3L954.5 630.8L955.9 631.3L957.4 631.7L958.8 632.2L960.2 632.7L961.7 633.0L963.2 633.0L964.7 633.3L966.2 633.5L967.7 633.7L969.2 633.8L970.7 633.9L972.2 634.1L973.7 634.1L975.2 634.2" stroke="#15573A" stroke-width="2.15"/>
<path d="M790.8 573.2L792.3 573.2L793.8 572.9L795.2 572.6L796.6 572.1L797.8 571.3L799.1 570.5L800.4 569.8L801.4 568.7L802.7 567.7L803.8 566.7L804.5 565.3L805.1 563.9L805.7 562.5L806.3 561.2L807.0 559.8L807.6 558.5L808.4 557.2L809.0 555.8L809.4 554.3L809.8 552.9L810.4 551.5L811.1 550.2L811.4 548.7L811.7 547.2L812.4 545.8L813.1 544.5L813.6 543.1L813.8 541.6L814.3 540.1L814.7 538.7L815.0 537.2L815.6 535.8L816.0 534.4L816.2 532.9L816.5 531.4L816.8 529.9L817.4 528.5L818.1 527.2L818.4 525.7L818.9 524.3L819.3 522.8L819.6 521.4L819.9 519.9L820.4 518.5L820.7 517.0L821.1 515.5L821.4 514.1L821.6 512.6L822.0 511.1L822.3 509.6L822.5 508.2L822.9 506.7L823.3 505.3L823.6 503.8L823.8 502.3L824.3 500.9L824.8 499.4L825.2 498.0L825.7 496.5L825.7 495.0L825.7 493.5L826.1 492.0L826.6 490.6L826.8 489.1L827.0 487.6L827.3 486.1L827.4 484.6L827.5 483.1L827.8 481.6L828.1 480.2L828.3 478.7L828.6 477.2L828.9 475.7L829.1 474.2L829.2 472.7L829.6 471.3L829.9 469.8L830.1 468.3L830.5 466.9L831.1 465.4L831.4 464.0L831.4 462.5L831.7 461.0L831.8 459.5L831.5 457.9L831.6 456.4L832.0 455.0L832.4 453.5L832.5 452.0L832.5 450.5L832.8 449.0L833.1 447.5L833.1 446.0L833.1 444.5L833.2 443.0L833.5 441.5L833.9 440.1L834.0 438.6L834.2 437.1L834.5 435.6L834.5 434.1L834.3 432.5L834.4 431.0L834.6 429.6L834.9 428.1L835.0 426.6L834.9 425.1L835.0 423.6L835.2 422.1L835.2 420.5L835.2 419.0L835.2 417.5L835.4 416.0L835.7 414.6L835.7 413.0L835.7 411.5L835.8 410.0L835.8 408.5L836.1 407.0L836.4 405.6L836.6 404.1L836.6 402.5L836.5 401.0L836.4 399.5L836.4 398.0L836.5 396.5L836.7 395.0L836.9 393.5L837.1 392.0L837.3 390.5L837.3 389.0L837.4 387.5L837.4 386.0L837.4 384.5L837.6 383.0L837.8 381.5L838.2 380.1L838.5 378.6L838.6 377.1L838.7 375.6L838.8 374.1L838.9 372.6L839.0 371.1L839.3 369.6L839.5 368.1L839.7 366.6L839.9 365.1L839.8 363.6L839.8 362.1L840.0 360.6L840.3 359.1L840.5 357.6L840.6 356.1L840.7 354.6L840.6 353.1L840.9 351.6L841.2 350.2L841.2 348.7L841.3 347.2L841.6 345.7L841.7 344.2L841.9 342.7L842.2 341.2L842.4 339.7L842.6 338.2L842.6 336.7L842.7 335.2L843.0 333.8L843.3 332.3L843.5 330.8L843.6 329.3L843.6 327.8L843.7 326.3L843.8 324.8L844.2 323.3L844.5 321.8L844.4 320.3L844.6 318.8L845.0 317.4L845.1 315.9L845.0 314.3L845.1 312.8L845.1 311.3L845.0 309.8L845.2 308.3L845.8 306.9L845.9 305.4L845.8 303.8L846.0 302.3L846.2 300.9L846.3 299.4L846.5 297.9L846.6 296.4L846.8 294.9L846.9 293.4L846.9 291.9L846.9 290.4L847.3 288.9L847.6 287.4L847.9 285.9L848.0 284.4L848.0 282.9L848.0 281.4L848.3 279.9L848.6 278.4L848.6 276.9L848.6 275.4L848.9 274.0L848.9 272.4L848.7 270.9L848.9 269.4L849.2 267.9L849.4 266.4L849.7 265.0L849.8 263.5L849.9 262.0L850.0 260.5L850.2 259.0L850.3 257.5L850.4 256.0L850.5 254.5L850.3 253.0L850.4 251.4L850.8 250.0L851.1 248.5L851.2 247.0L851.0 245.5L850.9 244.0L851.1 242.5L851.6 241.0L851.7 239.5L851.7 238.0L851.7 236.5L851.8 235.0L852.0 233.5L852.1 232.0L852.3 230.5L852.5 229.0L852.6 227.5L852.8 226.0L853.0 224.5L853.4 223.1L853.8 221.6L853.7 220.1L853.5 218.5L853.4 217.0L853.4 215.5L853.9 214.0L854.2 212.6L854.1 211.0L854.2 209.5L854.6 208.1L854.7 206.6L854.8 205.1L855.2 203.6L855.3 202.1L855.6 200.6L855.9 199.1L855.8 197.6L855.8 196.1L856.0 194.6L856.2 193.1L856.1 191.6L856.2 190.1L856.3 188.6L856.5 187.1L856.7 185.6L856.8 184.1L857.0 182.7L857.3 181.2L857.4 179.7L857.6 178.2L857.9 176.7L858.0 175.2L858.0 173.7L858.1 172.2L858.5 170.7L858.7 169.2L858.8 167.7L859.2 166.3L859.5 164.8L859.5 163.3L859.5 161.8L859.8 160.3L860.0 158.8L859.9 157.3L859.9 155.8L860.3 154.3L860.7 152.8L860.8 151.3L861.1 149.9L861.2 148.4L861.3 146.9L861.5 145.4L861.8 143.9L862.2 142.4L862.4 140.9L862.4 139.4L862.4 137.9L862.5 136.4L862.9 134.9L863.3 133.5L863.7 132.0L863.8 130.5L863.8 129.0L864.0 127.5L864.4 126.1L864.7 124.6L864.9 123.1L865.0 121.6L865.3 120.1L865.7 118.7L865.7 117.1L865.7 115.6L866.1 114.2L866.7 112.8L867.2 111.3L867.4 109.8L867.6 108.3L867.9 106.8L868.2 105.3L868.6 103.8L869.1 102.5L869.8 101.4L870.7 100.5L872.1 100.2L873.5 100.5L874.7 101.2L875.8 102.1L876.6 103.2L877.3 104.4L878.0 105.7L878.6 107.1L879.1 108.5L879.4 110.0L879.7 111.5L880.1 113.0L880.7 114.3L881.2 115.8L881.5 117.3L881.9 118.7L882.1 120.2L882.2 121.7L882.7 123.1L883.1 124.6L883.4 126.1L883.6 127.6L883.7 129.1L884.0 130.5L884.3 132.0L884.5 133.5L884.6 135.0L884.9 136.5L885.0 138.0L885.0 139.5L885.2 141.0L885.5 142.5L885.8 143.9L886.0 145.4L886.3 146.9L886.5 148.4L886.8 149.9L887.0 151.4L887.3 152.8L887.5 154.3L887.5 155.8L887.7 157.3L888.0 158.8L888.1 160.3L888.1 161.8L888.5 163.3L888.8 164.8L889.0 166.2L889.2 167.7L889.2 169.2L889.2 170.8L889.4 172.2L889.6 173.7L890.0 175.2L890.1 176.7L890.3 178.2L890.3 179.7L890.4 181.2L890.7 182.7L890.8 184.2L890.9 185.7L891.3 187.1L891.8 188.6L891.8 190.1L891.3 191.7L891.4 193.2L892.0 194.6L892.1 196.1L892.1 197.6L892.4 199.1L892.8 200.6L893.1 202.1L893.3 203.6L893.3 205.1L893.3 206.6L893.3 208.1L893.5 209.6L893.7 211.1L893.6 212.6L893.8 214.1L894.1 215.6L894.6 217.0L894.8 218.5L894.7 220.0L894.7 221.5L894.9 223.0L895.1 224.5L895.0 226.0L895.3 227.5L895.6 229.0L895.8 230.5L895.9 232.0L895.8 233.5L896.0 235.0L896.4 236.5L896.4 238.0L896.3 239.5L896.4 241.0L896.7 242.5L896.7 244.0L896.7 245.5L897.2 247.0L897.7 248.4L897.8 249.9L897.8 251.4L897.8 253.0L897.9 254.5L898.0 255.9L898.2 257.4L898.4 258.9L898.6 260.4L898.9 261.9L898.9 263.4L898.9 264.9L898.9 266.4L899.1 267.9L899.4 269.4L899.7 270.9L899.8 272.4L900.0 273.9L900.2 275.4L900.0 276.9L900.2 278.4L900.5 279.9L900.6 281.4L901.0 282.8L901.2 284.3L901.3 285.8L901.4 287.3L901.8 288.8L902.1 290.3L902.1 291.8L901.9 293.3L902.0 294.8L902.3 296.3L902.5 297.8L902.4 299.3L902.5 300.8L902.9 302.3L903.2 303.7L903.5 305.2L903.8 306.7L904.0 308.2L904.2 309.7L904.1 311.2L904.1 312.7L904.2 314.2L904.2 315.7L904.3 317.2L904.5 318.7L904.9 320.2L905.3 321.6L905.4 323.1L905.4 324.6L905.6 326.1L905.9 327.6L906.0 329.1L906.0 330.6L906.0 332.1L906.2 333.6L906.4 335.1L906.5 336.6L906.7 338.1L907.0 339.6L907.3 341.0L907.6 342.5L907.6 344.0L907.8 345.5L908.0 347.0L908.0 348.5L908.2 350.0L908.4 351.5L908.6 353.0L908.9 354.4L909.1 355.9L909.2 357.4L909.5 358.9L909.8 360.4L909.9 361.9L910.1 363.4L910.0 364.9L910.0 366.4L910.2 367.9L910.5 369.4L910.9 370.9L911.2 372.3L911.3 373.8L911.3 375.3L911.5 376.8L912.0 378.3L912.2 379.8L912.2 381.3L912.3 382.8L912.6 384.3L912.8 385.8L913.0 387.2L913.2 388.7L913.2 390.2L913.2 391.8L913.3 393.3L913.7 394.7L914.0 396.2L914.0 397.7L914.2 399.2L914.5 400.7L915.0 402.1L915.2 403.6L915.0 405.2L915.0 406.7L915.1 408.2L915.4 409.7L915.9 411.1L916.1 412.6L916.0 414.1L916.2 415.6L916.8 417.1L916.9 418.6L916.8 420.1L917.0 421.6L917.2 423.1L917.4 424.6L917.5 426.1L917.4 427.6L917.6 429.1L918.0 430.5L918.2 432.0L918.5 433.5L918.8 435.0L918.9 436.5L918.7 438.0L918.8 439.5L918.9 441.0L919.1 442.5L919.5 444.0L919.8 445.5L920.1 446.9L920.3 448.4L920.5 449.9L920.7 451.4L920.9 452.9L921.2 454.4L921.5 455.8L921.6 457.3L921.6 458.9L921.6 460.4L921.8 461.9L922.3 463.3L922.9 464.7L923.1 466.2L923.1 467.7L923.3 469.2L923.5 470.7L923.8 472.2L924.2 473.7L924.4 475.1L924.9 476.6L925.4 478.0L925.4 479.5L925.6 481.0L925.8 482.5L926.2 484.0L926.3 485.5L926.3 487.0L926.6 488.5L927.2 489.9L927.6 491.4L927.8 492.8L927.9 494.4L928.2 495.8L928.7 497.3L929.2 498.7L929.5 500.2L929.7 501.7L929.8 503.2L929.9 504.7L930.2 506.1L930.6 507.6L930.9 509.1L931.0 510.6L931.1 512.1L931.7 513.5L932.2 515.0L932.3 516.5L932.5 517.9L932.9 519.4L933.4 520.8L933.8 522.3L934.0 523.8L934.2 525.3L934.5 526.7L935.0 528.2L935.2 529.7L935.4 531.2L935.8 532.6L936.3 534.1L936.7 535.5L937.0 537.0L937.4 538.4L937.7 539.9L938.0 541.4L938.2 542.8L938.6 544.3L939.0 545.8L939.4 547.2L939.8 548.7L940.2 550.1L940.7 551.5L941.1 553.0L941.5 554.4L941.7 555.9L942.0 557.4L942.4 558.8L942.9 560.3L943.3 561.7L943.6 563.2L943.8 564.7L944.2 566.1L944.7 567.5L945.2 569.0L945.5 570.4L946.0 571.8L946.6 573.2L947.1 574.6L947.4 576.1L947.9 577.6L948.5 578.9L949.0 580.3L949.8 581.6L950.5 583.0L950.9 584.4L951.6 585.8L952.4 587.1L952.9 588.5L953.4 589.9L954.3 591.1L955.1 592.4L955.7 593.8L956.6 595.0L957.6 596.1L958.2 597.5L958.8 598.9L959.7 600.2L960.6 601.3L961.5 602.6L962.4 603.8L963.3 604.9L964.2 606.2L965.1 607.4L966.0 608.5L966.9 609.8L967.9 611.0L969.1 611.9L970.3 612.7L971.3 613.9L972.3 615.0L973.7 615.7L975.0 616.4L976.3 617.2L977.5 618.1L978.8 618.9L980.2 619.5L981.5 620.2L982.8 621.0L984.1 621.7L985.5 622.3L986.8 622.9L988.2 623.6L989.6 624.1L991.0 624.6L992.4 625.2L993.8 625.8L995.2 626.3L996.7 626.6L998.2 626.8L999.7 627.0L1001.1 627.4L1002.5 628.0L1004.0 628.3L1005.5 628.3L1007.1 628.3L1008.5 628.5L1010.0 628.8L1011.5 629.0L1013.0 629.2L1014.5 629.3L1016.0 629.2L1017.5 629.6L1019.0 629.8" stroke="#1A5C3E" stroke-width="2.15"/>
</g>
<line x1="54" y1="74" x2="54" y2="643" class="ax"/>
<line x1="54" y1="636.5" x2="1107" y2="636.5" class="ax" style="stroke-width:1"/>
<line x1="229.9" y1="636" x2="229.9" y2="643" class="ax"/>
<line x1="404.8" y1="636" x2="404.8" y2="643" class="ax"/>
<line x1="580.3" y1="636" x2="580.3" y2="643" class="ax"/>
<line x1="755.6" y1="636" x2="755.6" y2="643" class="ax"/>
<line x1="931.3" y1="636" x2="931.3" y2="643" class="ax"/>
<line x1="1106.5" y1="636" x2="1106.5" y2="643" class="ax"/>
<g class="tk">
<text transform="scale(0.95,1)" x="38.18 50.88 63.60" y="670.8">350</text>
<text transform="scale(0.95,1)" x="223.34 236.04 248.76" y="670.8">450</text>
<text transform="scale(0.95,1)" x="407.41 420.14 432.86" y="670.8">550</text>
<text transform="scale(0.95,1)" x="592.05 604.88 617.60" y="670.8">650</text>
<text transform="scale(0.95,1)" x="776.64 789.41 802.12" y="670.8">750</text>
<text transform="scale(0.95,1)" x="961.60 974.35 987.07" y="670.8">850</text>
<text transform="scale(0.95,1)" x="1146.02 1158.78 1171.49" y="670.8">950</text>
</g>
<g class="tk"><text transform="scale(0.97,1)" x="521.16 539.69 550.90 560.80 572.12 576.79 588.01 599.19 610.53 617.25 628.34 633.05 640.48 652.28 669.96" y="689.6">Wavelength (nm)</text></g>
<line x1="1044.2" y1="64.05" x2="1072.9" y2="64.05" stroke="#00B0F0" stroke-width="2.6" stroke-linecap="round"/>
<line x1="1044.2" y1="87.24" x2="1072.9" y2="87.24" stroke="#4F81BD" stroke-width="2.3" stroke-linecap="round"/>
<line x1="1044.2" y1="110.43" x2="1072.9" y2="110.43" stroke="#4BACC6" stroke-width="1.9" stroke-linecap="round"/>
<line x1="1044.2" y1="133.62" x2="1072.9" y2="133.62" stroke="#E46C0A" stroke-width="2.2" stroke-linecap="round"/>
<line x1="1044.2" y1="156.81" x2="1072.9" y2="156.81" stroke="#00C896" stroke-width="2.6" stroke-linecap="round"/>
<line x1="1044.2" y1="180.00" x2="1072.9" y2="180.00" stroke="#0E8080" stroke-width="2.6" stroke-linecap="round"/>
<line x1="1044.2" y1="203.19" x2="1072.9" y2="203.19" stroke="#00B050" stroke-width="2.4" stroke-linecap="round"/>
<line x1="1044.2" y1="226.38" x2="1072.9" y2="226.38" stroke="#00A651" stroke-width="2.5" stroke-linecap="round"/>
<line x1="1044.2" y1="249.57" x2="1072.9" y2="249.57" stroke="#F79646" stroke-width="2.5" stroke-linecap="round"/>
<line x1="1044.2" y1="272.76" x2="1072.9" y2="272.76" stroke="#F79646" stroke-width="2.5" stroke-linecap="round"/>
<line x1="1044.2" y1="295.95" x2="1072.9" y2="295.95" stroke="#FF3A0A" stroke-width="2.5" stroke-linecap="round"/>
<line x1="1044.2" y1="319.14" x2="1072.9" y2="319.14" stroke="#FF0000" stroke-width="2.5" stroke-linecap="round"/>
<line x1="1044.2" y1="342.33" x2="1072.9" y2="342.33" stroke="#990000" stroke-width="2.5" stroke-linecap="round"/>
<line x1="1044.2" y1="365.52" x2="1072.9" y2="365.52" stroke="#A00000" stroke-width="2.5" stroke-linecap="round"/>
<line x1="1044.2" y1="388.71" x2="1072.9" y2="388.71" stroke="#FF00DC" stroke-width="2.5" stroke-linecap="round"/>
<line x1="1044.2" y1="411.90" x2="1072.9" y2="411.90" stroke="#B400B4" stroke-width="2.5" stroke-linecap="round"/>
<line x1="1044.2" y1="435.09" x2="1072.9" y2="435.09" stroke="#990099" stroke-width="2.5" stroke-linecap="round"/>
<line x1="1044.2" y1="458.28" x2="1072.9" y2="458.28" stroke="#E000C0" stroke-width="2.5" stroke-linecap="round"/>
<line x1="1044.2" y1="481.47" x2="1072.9" y2="481.47" stroke="#9900AA" stroke-width="2.5" stroke-linecap="round"/>
<line x1="1044.2" y1="504.66" x2="1072.9" y2="504.66" stroke="#8A00FF" stroke-width="2.5" stroke-linecap="round"/>
<line x1="1044.2" y1="527.85" x2="1072.9" y2="527.85" stroke="#9E33FF" stroke-width="2.5" stroke-linecap="round"/>
<line x1="1044.2" y1="551.04" x2="1072.9" y2="551.04" stroke="#339966" stroke-width="2.5" stroke-linecap="round"/>
<line x1="1044.2" y1="574.23" x2="1072.9" y2="574.23" stroke="#1F7A4A" stroke-width="2.5" stroke-linecap="round"/>
<line x1="1044.2" y1="597.42" x2="1072.9" y2="597.42" stroke="#15573A" stroke-width="2.5" stroke-linecap="round"/>
<line x1="1044.2" y1="620.61" x2="1072.9" y2="620.61" stroke="#1A5C3E" stroke-width="2.5" stroke-linecap="round"/>
<g class="lg">
<text transform="scale(0.9,1)" x="1195.65 1208.41 1220.61 1234.13 1247.50" y="70.8">CF350</text>
<text transform="scale(0.9,1)" x="1195.65 1208.41 1220.61 1234.11 1247.52 1258.00" y="94.0">CF405S</text>
<text transform="scale(0.9,1)" x="1195.65 1208.41 1220.61 1234.11 1247.52 1261.34" y="117.2">CF405M</text>
<text transform="scale(0.9,1)" x="1195.65 1208.41 1220.61 1234.11 1247.52 1258.95" y="140.4">CF405L</text>
<text transform="scale(0.9,1)" x="1195.65 1208.41 1220.61 1234.17 1247.50" y="163.6">CF430</text>
<text transform="scale(0.9,1)" x="1195.65 1208.41 1220.61 1234.17 1247.50" y="186.8">CF440</text>
<text transform="scale(0.9,1)" x="1195.65 1208.41 1220.61 1234.11 1247.50 1259.44" y="210.0">CF488A</text>
<text transform="scale(0.9,1)" x="1195.65 1208.41 1220.57 1233.84 1247.56" y="233.2">CF514</text>
<text transform="scale(0.9,1)" x="1195.65 1208.41 1220.57 1234.17 1247.50" y="256.4">CF532</text>
<text transform="scale(0.9,1)" x="1195.65 1208.41 1220.57 1234.17 1247.56" y="279.6">CF543</text>
<text transform="scale(0.9,1)" x="1195.65 1208.41 1220.57 1234.13 1247.52" y="302.8">CF555</text>
<text transform="scale(0.9,1)" x="1195.65 1208.41 1220.57 1234.04 1247.50" y="325.9">CF568</text>
<text transform="scale(0.9,1)" x="1195.65 1208.41 1220.57 1234.11 1247.56" y="349.1">CF594</text>
<text transform="scale(0.9,1)" x="1195.65 1208.41 1220.48 1234.11 1247.50 1258.76" y="372.3">CF620R</text>
<text transform="scale(0.9,1)" x="1195.65 1208.41 1220.48 1234.17 1247.56" y="395.5">CF633</text>
<text transform="scale(0.9,1)" x="1195.65 1208.41 1220.48 1234.17 1247.50 1258.76" y="418.7">CF640R</text>
<text transform="scale(0.9,1)" x="1195.65 1208.41 1220.48 1234.17 1247.49" y="441.9">CF647</text>
<text transform="scale(0.9,1)" x="1195.65 1208.41 1220.48 1234.04 1247.50 1258.98" y="465.1">CF660C</text>
<text transform="scale(0.9,1)" x="1195.65 1208.41 1220.48 1234.04 1247.50 1258.76" y="488.3">CF660R</text>
<text transform="scale(0.9,1)" x="1195.65 1208.41 1220.48 1234.11 1247.50" y="511.5">CF680</text>
<text transform="scale(0.9,1)" x="1195.65 1208.41 1220.48 1234.11 1247.50 1258.76" y="534.6">CF680R</text>
<text transform="scale(0.9,1)" x="1195.65 1208.41 1220.54 1234.13 1247.50" y="557.8">CF750</text>
<text transform="scale(0.9,1)" x="1195.65 1208.41 1220.54 1234.10 1247.50" y="581.0">CF770</text>
<text transform="scale(0.9,1)" x="1195.65 1208.41 1220.54 1234.11 1247.50" y="604.2">CF790</text>
<text transform="scale(0.9,1)" x="1195.65 1208.41 1220.55 1234.11 1247.50" y="627.4">CF800</text>
</g>
</svg>
</body>
</html>
